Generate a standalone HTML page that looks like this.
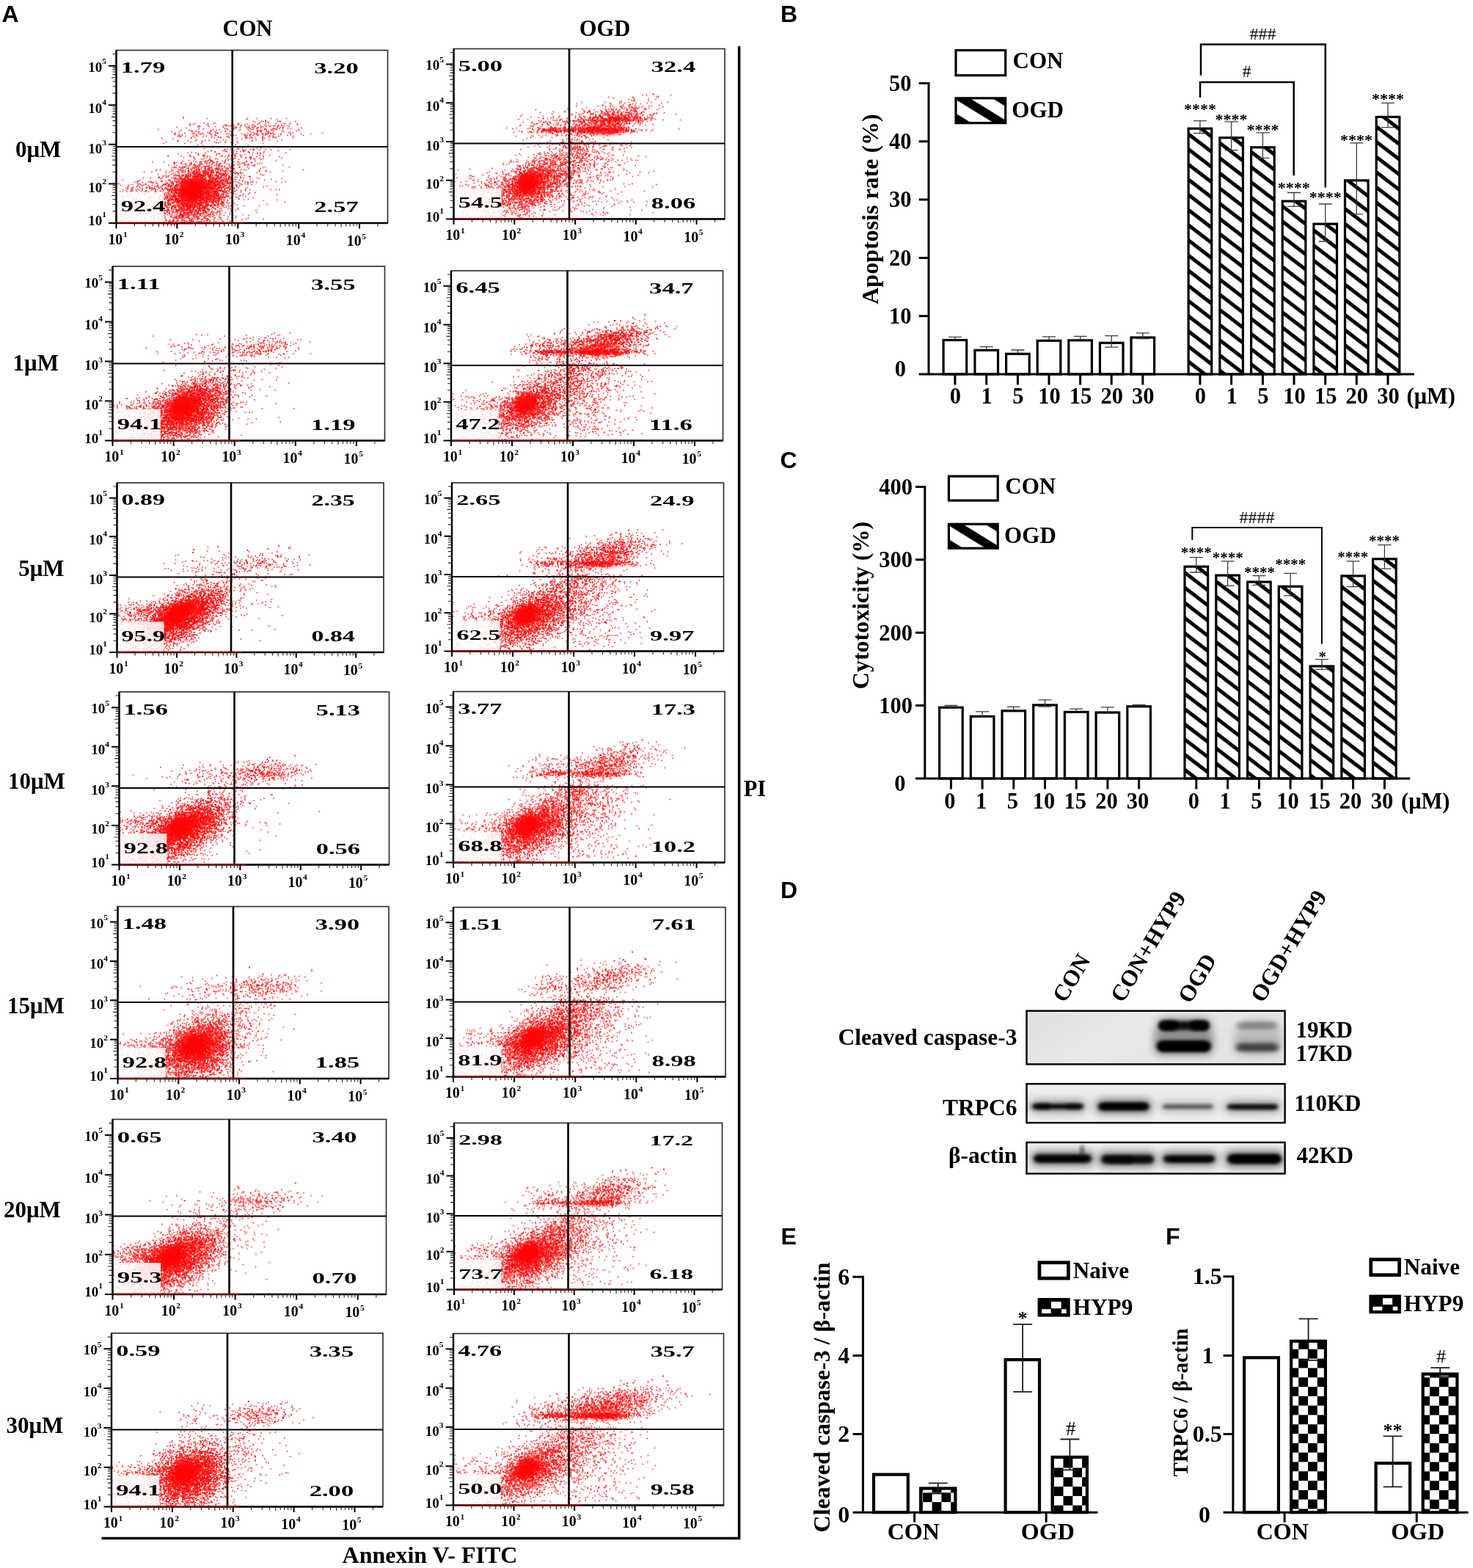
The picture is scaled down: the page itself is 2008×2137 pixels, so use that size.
<!DOCTYPE html>
<html><head><meta charset="utf-8"><title>Figure</title>
<style>
html,body{margin:0;padding:0;background:#fff}
svg{display:block}
text{font-family:"Liberation Serif",serif;font-weight:bold;fill:#000}
text.s{font-family:"Liberation Sans",sans-serif;font-weight:bold}
text.n{font-family:"Liberation Sans",sans-serif;font-weight:normal}
text.r{font-weight:normal}
path{stroke:#000;fill:none}
path.dt{stroke:none;fill:none;marker:url(#d)}
</style></head><body>
<svg width="2008" height="2137" viewBox="0 0 2008 2137">
<defs>
<radialGradient id="rb"><stop offset="0" stop-color="#ff0000" stop-opacity="1"/><stop offset=".55" stop-color="#ff0000" stop-opacity=".85"/><stop offset="1" stop-color="#ff0000" stop-opacity="0"/></radialGradient>
<marker id="d" markerWidth="4" markerHeight="4" refX="2" refY="2" markerUnits="userSpaceOnUse" overflow="visible"><rect x=".3" y=".3" width="3.4" height="3.4" fill="#ff0505" opacity=".74"/></marker>
<pattern id="hB" patternUnits="userSpaceOnUse" x="0" y="-843.77" width="40" height="16.4" patternTransform="rotate(37.5)"><rect width="40" height="5" fill="#000"/></pattern><pattern id="hC" patternUnits="userSpaceOnUse" x="0" y="-366.62" width="40" height="16.4" patternTransform="rotate(37.5)"><rect width="40" height="5" fill="#000"/></pattern><pattern id="lB" patternUnits="userSpaceOnUse" x="0" y="-578.73" width="40" height="27.6" patternTransform="rotate(31.6)"><rect width="40" height="11.6" fill="#000"/></pattern><pattern id="lC" patternUnits="userSpaceOnUse" x="0" y="-79.27" width="40" height="27.6" patternTransform="rotate(31.6)"><rect width="40" height="11.6" fill="#000"/></pattern><filter id="bl" x="-20%" y="-80%" width="140%" height="260%"><feGaussianBlur stdDeviation="2.6 1.9"/></filter>
<filter id="bl2" x="-20%" y="-80%" width="140%" height="260%"><feGaussianBlur stdDeviation="3.5 2.6"/></filter>
<filter id="bh" x="-30%" y="-100%" width="160%" height="300%"><feGaussianBlur stdDeviation="6 5"/></filter>
<linearGradient id="bg1" x1="0" x2="1" y1="0" y2=".3"><stop offset="0" stop-color="#dfdfdf"/><stop offset=".45" stop-color="#e9e9e9"/><stop offset="1" stop-color="#e2e2e2"/></linearGradient>
<linearGradient id="bg2" x1="0" x2="0" y1="0" y2="1"><stop offset="0" stop-color="#f1f1f1"/><stop offset=".5" stop-color="#e6e6e6"/><stop offset="1" stop-color="#efefef"/></linearGradient>
<pattern id="kF1" patternUnits="userSpaceOnUse" x="1770.2" y="1826.05" width="25.6" height="25.6"><rect width="25.6" height="25.6" fill="#fff"/><rect width="12.8" height="12.8" fill="#000"/><rect x="12.8" y="12.8" width="12.8" height="12.8" fill="#000"/></pattern><pattern id="kF2" patternUnits="userSpaceOnUse" x="1961.8" y="1877.4" width="25.6" height="25.6"><rect width="25.6" height="25.6" fill="#fff"/><rect width="12.8" height="12.8" fill="#000"/><rect x="12.8" y="12.8" width="12.8" height="12.8" fill="#000"/></pattern><pattern id="kE1" patternUnits="userSpaceOnUse" x="1270.6" y="2047.2" width="25.6" height="25.6"><rect width="25.6" height="25.6" fill="#fff"/><rect width="12.8" height="12.8" fill="#000"/><rect x="12.8" y="12.8" width="12.8" height="12.8" fill="#000"/></pattern><pattern id="kE2" patternUnits="userSpaceOnUse" x="1449.5" y="1987.7" width="25.6" height="25.6"><rect width="25.6" height="25.6" fill="#fff"/><rect width="12.8" height="12.8" fill="#000"/><rect x="12.8" y="12.8" width="12.8" height="12.8" fill="#000"/></pattern>
</defs>
<rect width="2008" height="2137" fill="#fff"/>
<g transform="translate(158.5 68.5)">
<ellipse cx="103.6" cy="189.96" rx="21" ry="17" fill="url(#rb)" transform="rotate(-30 103.6 189.96)"/>
<path class="dt" transform="scale(.5)" d="M183 184h0m65 2h110h25h39h42m-109 2h83m-31 4h0m-33 2h22h5h39h5h3h41m-111 2h29h6m-174 2h30h122h25h58m-272 2h13h35h15h69h55h47h21h4m-251 2h122h1h18h6h16h12h23h64h21h1m-295 2h3h44h5h44h4h3h19h20h31h34h9h36m-228 2h3h73h7h5h4h25h12h10h16h16h27h8h4h8h2h8h6h9m-238 2h25h17h21h29h50h6h2h22h9h9h22h31m-306 2h59h69h32h3h10h17h4h4h8h17h8h43h8h8m-264 2h131h4h36h12h9h2h9h36h24h1h50m-279 2h11h59h5h19h38h8h39h2h20h6h5h7h23h8m-361 2h149h17h23h16h19h30h4h11h20h5h13h8h6h60m-319 2h22h59h15h62h25h33h4h26h3h28h45m-295 2h3h11h41h39h12h54h20h1h1h5h3h15h6h76m-340 2h21h35h9h9h31h13h17h11h98h16h17h23h6m-233 2h25h23h43h53h6h11h29h2h53h5m-313 2h26h24h25h17h3h19h2h81h40h10h12h2h5h55h80m-403 2h12h36h7h11h5h2h28h10h31h4h37h34h2h4h1h18h5h3h3h3h7h10h16h27h29h26m-370 2h20h39h20h18h54h38h3h14h1h17h4h10h31h20h26m-301 2h44h51h3h41h7h6h26h5h7h9h13h20h61h43m-342 2h1h4h5h11h21h1h10h25h15h44h48h47h17h2h8h16h40m-308 2h62h42h21h5h49h12h64m-225 2h10h45h7h11h6h2h23h43h2h4h11h10h20h1h16h11h6h4h45m-357 2h78h126h25h10h6h29h6m-250 2h187m-123 2h55h18h7h82h19h18h33m-282 2h27h20h27h10h118h27m-231 2h66h96h41h69m-303 2h67h32h33h16h13h1m-25 2h6h34h19m-202 2h57h45h168m-178 4h103m-89 2h124m-202 2h200m-98 2h83h98m-48 2h1m-154 2h91h4h9h40m-89 2h3h6h7h19h35h7h4h31h66m-127 2h7h21h17h31m-163 2h1h31h5h26h24h1h3h92m-192 2h20h29h2h28h10h8h13h43m-198 2h64h93h11m-178 2h22h26h120h22h7h10h60m-293 2h55h50h5h3h37h6h4h56h9m-170 2h83h43h21m-171 2h24h13h1h2h33h49h1h15h4h49h28m-278 2h1h35h24h41h7h37h3h18h8h11h75m-198 2h8h27h18h41h8h19h15h26h18h18h44m-261 2h64h68h26h12h11h3m-156 2h29h62h20h30h12h4h23h59m-237 2h18h24h15h5h37h8h54h3h22m-164 2h19h44h9h26h32h29m-197 2h54h7h46m-124 2h30h31h3h4h8h2h1h3h26h7h2h57h23h57m-336 2h31h87h11h3h1h10h21h11h3h45h9h25m-199 2h2h5h13h28h37h6h7h11h2h28h39h16h17h2m-212 2h19h23h5h23h5h13h7h10h11h10h10h49h3h3h42h6m-239 2h22h8h2h15h9h15h18h15h12h7h3h17h14h15h7h48m-182 2h9h13h7h4h24h19h28h2h13h28h2h5h3h1h15h79m-312 2h22h27h6h3h9h4h2h11h27h14h4h8h1h40h13h36h8m-219 2h61h1h1h4h2h12h7h1h3h1h24h2h7h3h1h6h20h60m-203 2h8h1h5h1h3h22h4h1h19h5h2h1h16h1h20h14h14h2h3h2h21h21h48h66m-320 2h5h3h3h11h10h13h10h4h7h5h2h7h20h1h1h3h17h25h36h65m-223 2h4h12h4h13h4h26h3h10h18h2h4h2h5h5h12h3h1h8h5h3h40m-193 2h35h3h13h2h3h1h2h5h11h1h5h2h3h6h1h8h5h1h5h9h10h18h5h71m-283 2h10h32h20h1h4h5h6h9h18h4h7h22h3h1h3h9h13h1h5h5h2h13h15h22h9h5h155m-401 2h47h22h5h15h8h7h7h7h2h9h1h3h3h10h3h3h2h1h1h7h14h13h9h4h7h72h18m-272 2h15h15h4h10h7h8h5h11h2h1h7h3h9h7h3h1h3h3h8h1h4h14h8h6h3h2h4h13h11h66h19h45m-378 2h21h48h35h1h7h10h9h4h1h5h2h4h1h3h9h2h3h3h6h8h1h7h7h1h1h4h18h7h7h28h81m-284 2h24h9h3h12h13h5h4h3h2h1h6h3h7h1h7h2h2h1h1h1h3h1h4h1h6h2h2h2h2h7h2h1h2h2h1h40h7h1h9h6h40m-229 2h42h12h4h2h3h1h4h4h1h11h3h5h1h3h7h25h2h1h2h3h1h4h2h1h6h19h1h7h1m-219 2h36h38h5h3h4h2h1h8h1h3h2h1h4h1h3h6h6h4h1h4h2h4h4h1h15h8h9h2h3h6h10h5h24h53m-257 2h24h1h5h5h1h7h3h8h12h2h6h10h4h1h3h1h1h1h1h1h4h1h1h5h6h1h6h5h1h6h4h5h7h1h5h1h2h1h1h5h32h64h5m-272 2h14h13h8h3h13h2h1h7h3h1h1h1h1h8h5h2h1h1h4h1h2h1h5h2h2h2h1h1h4h3h8h2h2h1h4h9h4h1h2h2h9h4h9h6h1h42m-222 2h11h4h30h1h5h1h9h1h3h3h1h5h1h7h2h2h3h1h3h1h1h2h1h2h9h2h3h1h8h4h2h3h1h6h8h3h2h7h2h9h2h9h6h25h23h3m-250 2h2h19h25h14h14h1h2h9h7h3h1h2h3h3h1h2h5h1h2h1h1h3h1h15h2h1h1h7h13h5h3h2h8h14h1h4h11h4h37m-291 2h19h25h7h26h5h1h6h7h4h1h11h2h2h3h1h1h1h13h7h2h7h3h2h4h4h5h3h7h4h3h3h1h1h2h5h1h3h3h4h3h6h8h6h1h1h2h29h1h7h37m-262 2h39h12h3h1h1h1h1h4h4h9h1h7h3h5h1h1h4h2h2h4h4h3h2h5h1h1h12h7h8h1h2h1h6h4h13h4h4h1h7h77h62m-293 2h5h3h1h11h2h2h2h1h1h9h4h2h1h2h2h1h2h2h5h3h2h3h4h1h2h2h4h2h1h15h1h2h2h1h4h1h1h1h1h6h4h8h2h4h4h10h6h1h2h6h2h40h58m-405 2h47h77h3h1h26h4h5h2h4h1h1h2h1h1h1h3h2h1h1h4h1h5h6h3h3h2h1h1h3h1h1h1h1h3h1h1h2h2h1h3h3h1h2h2h1h8h7h3h6h6h1h5h1h6h1h1h2h3h6h24h69m-344 2h61h4h22h12h10h8h4h5h1h4h1h1h2h6h4h2h4h1h3h3h10h2h1h1h3h2h5h2h1h7h1h4h3h1h1h1h4h2h7h7h1h5h1h2h4h7h40h1h27m-315 2h1h31h5h14h16h12h16h8h4h1h4h2h8h1h1h1h2h3h4h4h2h1h1h4h4h1h5h1h1h3h2h3h2h2h1h2h1h1h1h6h1h4h1h1h4h2h1h1h1h1h2h1h1h2h2h7h1h1h2h1h1h3h6h10h2h1h3h8h10h6h26h83h26m-410 2h21h22h2h5h45h6h2h1h9h1h1h4h5h1h2h1h1h1h1h1h1h1h1h2h4h1h1h2h3h4h2h2h2h2h2h2h2h1h1h1h1h2h3h1h1h1h1h3h2h2h1h1h1h1h5h5h1h2h1h2h2h2h3h1h1h2h1h1h3h2h6h1h2h1h3h1h4h8h2h1h5h3h20h25h3h7h5h10h69m-393 2h41h10h30h12h2h2h17h5h3h5h1h1h1h1h2h1h1h1h4h3h1h3h1h2h1h1h1h1h1h3h3h1h2h3h1h1h4h1h3h1h1h2h4h1h2h2h1h2h3h4h1h2h2h1h1h3h10h1h3h8h6h8h1h6h1h23h24m-356 2h4h56h18h32h20h3h5h9h5h13h6h2h4h3h1h7h2h2h2h3h1h2h1h4h2h2h1h1h1h3h3h4h1h1h1h1h2h1h2h6h1h2h5h1h3h3h1h1h2h1h5h3h2h5h1h2h1h3h5h2h3h2h6h3h4h2h2h29h11m-307 2h16h7h9h5h47h2h4h2h8h1h10h9h1h2h3h7h1h5h3h3h1h6h1h2h2h1h2h1h2h2h2h1h1h1h1h2h3h1h4h3h1h1h2h3h1h1h3h1h2h1h2h2h1h1h3h1h3h1h4h2h2h1h2h2h4h1h2h1h5h7h1h1h24h9h17h16h10m-357 2h22h37h16h11h15h12h8h9h2h7h4h7h2h1h5h1h5h1h1h2h3h4h1h3h1h1h1h3h2h1h1h1h3h2h1h1h1h1h1h1h1h1h1h1h1h2h1h1h2h1h1h6h1h1h1h2h7h1h3h2h1h3h2h2h2h1h2h6h1h1h1h1h4h2h4h1h4h7h2h5h6h21h8m-305 2h26h12h35h7h14h12h5h5h1h3h8h1h2h1h1h4h7h2h1h1h1h4h3h2h1h3h1h2h1h1h1h2h1h1h3h1h4h3h1h2h2h1h1h6h2h2h4h1h2h1h1h2h1h2h3h1h1h2h1h2h10h1h1h1h1h3h1h8h4h8h1h3h11h5h2h1h10h84m-356 2h8h26h2h18h5h8h19h4h4h1h9h8h3h4h2h5h1h1h1h1h1h3h6h2h1h2h1h1h2h4h2h1h1h4h4h1h1h2h1h2h2h2h1h1h2h2h1h2h2h3h1h6h1h3h2h3h1h1h4h2h1h2h7h1h1h4h5h2h1h1h12h5h5h2h11h72m-370 2h1h15h36h2h12h18h7h12h21h4h1h2h2h12h2h3h1h3h1h2h1h1h3h1h2h4h1h2h1h2h1h3h1h1h2h1h1h5h1h1h1h1h2h1h3h1h2h1h2h1h1h2h1h2h2h1h1h1h1h1h2h1h3h2h1h2h6h9h1h1h3h2h3h2h5h6h5h1h1h13h14h24m-332 2h16h1h22h6h10h10h1h1h6h5h14h7h11h2h11h4h6h2h5h6h4h2h2h3h1h1h3h1h1h1h2h1h1h3h3h2h1h1h1h1h5h1h1h1h1h1h1h1h4h1h1h1h1h1h1h1h1h5h3h1h1h1h1h1h1h2h2h4h1h2h1h1h1h2h1h2h1h1h2h2h4h3h4h1h4h2h11h3h3h6h12h30m-322 2h13h15h38h5h3h21h6h3h5h1h5h2h5h8h4h2h4h1h1h4h1h3h1h1h2h3h1h3h1h1h1h1h2h2h1h1h2h1h1h2h1h1h1h1h3h1h1h1h1h3h1h3h1h4h1h1h1h3h2h1h4h2h1h3h3h3h3h1h2h1h1h3h2h1h1h3h2h19h1h13h14m-304 2h21h14h17h27h9h6h12h14h2h4h4h4h1h3h1h2h1h2h2h1h1h1h6h1h1h1h1h2h2h3h2h1h2h1h1h1h1h6h2h4h2h1h1h1h1h1h2h1h1h3h2h3h1h2h1h2h1h1h2h4h1h2h3h1h3h2h4h1h1h1h4h3h11h1h3h1h5h1h8h14h2h6h36h12h56h15h9m-417 2h16h1h18h7h12h12h13h22h12h4h3h3h1h5h1h4h2h2h2h1h1h1h1h1h3h1h1h4h2h2h3h2h5h1h2h2h2h1h2h1h5h2h3h1h2h1h1h1h1h1h1h1h1h1h1h1h1h1h1h4h5h3h3h4h7h5h7h1h4h4h4h2h3h6h7h17h9h11h12m-312 2h15h25h1h25h13h3h23h8h8h1h2h9h3h1h1h1h1h1h1h3h1h1h2h1h1h1h2h1h2h3h1h1h1h2h1h1h1h1h1h1h1h2h2h1h1h3h3h2h2h1h1h2h2h2h2h3h2h4h1h1h1h1h3h1h6h1h4h1h1h1h1h1h2h2h4h4h1h5h2h5h5h6h1h16m-313 2h6h13h12h27h8h11h21h19h16h6h1h6h4h1h1h1h5h4h1h2h3h2h1h3h2h2h5h1h1h1h2h1h3h1h2h2h2h3h1h3h2h1h4h2h1h1h1h2h1h3h2h1h2h2h3h2h3h2h1h1h1h3h3h4h1h1h3h1h2h2h1h13h3h1h3h3h22h19m-312 2h8h24h26h16h4h3h27h5h1h8h3h3h6h1h1h1h6h1h2h2h1h1h1h5h1h3h3h1h1h2h1h1h1h1h1h1h1h2h2h1h1h1h1h1h1h1h1h1h4h5h1h3h3h1h2h6h3h1h1h3h1h2h1h2h2h2h1h1h6h4h1h1h5h17h5h3h8h3h4h47h15m-353 2h36h8h5h4h3h20h10h11h9h17h9h1h4h3h2h1h2h1h5h2h1h2h2h1h4h1h3h2h1h1h1h1h1h3h2h4h1h2h3h2h1h1h1h2h3h1h2h3h3h3h3h1h1h4h1h3h2h1h10h4h1h3h3h3h3h13h1h9h16m-303 2h44h18h30h8h6h9h6h5h3h9h3h2h6h6h1h4h2h2h1h1h1h1h1h1h1h1h3h2h1h4h2h1h3h1h2h2h1h1h1h1h1h3h1h2h3h2h2h1h1h1h1h1h1h1h2h1h1h3h1h1h4h1h1h1h1h1h3h1h4h1h4h1h1h1h3h2h1h5h8h3h1h8h7h12h8h21h14m-328 2h5h3h13h7h12h5h1h49h3h10h5h12h2h9h6h1h2h1h2h2h1h4h2h1h1h1h5h1h3h1h1h4h1h1h2h1h1h2h5h2h6h1h1h3h2h1h9h5h1h4h5h3h4h3h2h1h1h3h1h1h5h7h8h17h121m-430 2h7h82h22h1h1h11h6h11h1h4h3h1h2h3h6h1h1h1h1h2h1h1h1h1h2h1h1h4h2h1h2h1h1h2h1h4h1h1h1h2h1h3h2h2h2h1h1h1h3h1h2h4h2h1h2h2h1h1h1h1h3h3h1h3h2h1h2h1h2h1h2h3h6h2h1h4h1h6h7h12h14h21h7m-331 2h9h3h5h13h48h16h17h1h12h1h5h1h8h1h1h1h2h3h5h2h2h3h4h1h1h2h1h2h2h1h2h3h2h3h1h2h1h1h1h1h2h2h1h1h2h2h3h1h5h3h2h5h2h9h1h1h1h2h3h2h4h2h1h2h3h1h1h6h3h2h5h3h6h6h2h5h1h29h17m-338 2h17h56h31h7h1h1h6h1h5h8h4h1h2h2h3h2h1h10h1h3h2h1h2h4h2h1h9h4h3h1h2h2h1h4h1h1h2h2h2h2h1h1h1h1h1h1h2h1h1h3h2h1h7h1h3h1h4h1h5h1h3h3h3h5h3h2h5h1h9h6h12h1h9m-313 2h6h3h22h12h11h26h9h13h3h20h2h1h7h11h2h2h1h7h1h3h1h3h1h2h2h6h3h3h3h1h2h2h2h1h2h1h1h2h3h2h1h1h1h1h4h1h2h1h1h7h1h4h1h1h1h2h1h1h6h3h5h4h3h12h3h4h3h2h1h1h16h4h12h44m-325 2h6h35h6h20h12h1h1h2h1h4h10h3h4h8h1h2h1h3h1h1h6h4h3h1h1h1h2h1h2h1h1h1h1h1h1h1h1h1h1h1h1h1h1h1h3h2h1h1h1h1h3h1h3h2h1h5h2h1h2h1h1h1h1h3h3h1h3h3h1h2h6h5h1h1h1h3h2h1h1h1h1h1h2h1h8h19h25m-285 2h9h29h10h18h4h1h4h3h4h1h5h7h1h4h2h2h1h2h5h3h1h2h2h1h7h4h3h1h1h7h1h4h2h2h1h2h1h1h1h1h2h1h1h3h1h2h4h1h5h1h1h3h1h1h1h2h5h1h1h1h2h1h1h2h1h2h2h1h5h3h12h1h2h2h2h49h25m-342 2h27h8h8h67h13h1h3h4h3h2h6h2h1h1h2h1h1h2h5h1h3h2h2h4h3h1h1h2h2h1h1h2h1h4h4h1h1h1h1h1h2h1h3h1h5h3h1h4h1h2h2h2h5h5h4h3h3h4h5h2h4h11h6h3h7h44h91m-428 2h4h7h2h40h19h13h21h11h14h2h3h10h4h7h1h1h2h1h1h2h1h2h2h1h1h3h1h2h2h2h1h1h2h1h3h1h1h1h2h1h3h1h2h1h3h2h3h2h3h1h1h2h2h6h2h2h3h2h7h1h5h4h1h1h6h4h2h1h1h2h22h98m-372 2h53h14h11h13h20h5h4h7h3h2h3h2h1h1h3h2h4h1h2h1h1h3h3h1h4h2h2h3h2h3h1h3h2h1h3h1h1h6h3h2h2h1h10h1h2h3h1h4h3h3h5h4h1h2h4h12h2h30m-308 2h21h38h9h17h10h9h6h7h4h2h6h2h16h4h3h1h1h2h2h1h1h1h5h2h5h10h2h1h1h1h3h2h1h2h6h2h1h11h1h1h1h3h2h1h4h3h3h4h2h6h1h2h1h6h2h5h2h10h3h1h1h7h159m-440 2h19h1h5h6h61h20h9h1h3h7h1h1h1h12h2h1h8h2h4h4h1h4h1h1h1h1h2h7h1h1h3h3h4h1h1h1h1h1h2h2h4h1h1h6h4h1h2h12h4h1h1h9h12h3h2h1h12h5h7h1m-263 2h15h8h8h18h9h3h2h6h2h9h1h6h7h1h9h7h4h5h2h2h1h3h1h2h1h2h1h1h1h2h1h1h1h6h2h1h2h2h4h2h6h1h1h3h1h1h1h4h3h1h2h7h1h3h1h14h1h10h2h2h5h6h29h4m-311 2h35h20h34h8h2h11h10h1h8h2h2h26h8h1h1h1h1h4h3h4h3h4h1h3h3h5h1h1h1h6h3h3h2h15h4h2h15h3h9h1h8h3h5h12h104m-399 2h3h3h4h12h4h2h25h10h10h6h9h6h1h13h4h3h7h8h2h4h1h11h5h2h3h3h2h4h1h1h3h3h2h1h2h2h3h3h3h3h1h2h3h4h2h11h1h1h1h1h4h6h1h4h4h1h3h2h1h3h5h2h1h6h2h9h5h38m-307 2h26h8h11h15h10h4h2h12h3h14h4h3h3h16h1h2h4h6h2h3h8h3h1h2h5h1h3h1h1h3h3h2h1h2h6h1h2h4h1h1h1h2h1h1h5h2h5h5h1h2h3h7h2h8h6h18h10h10h1h35h42m-342 2h12h7h10h7h33h2h2h9h6h15h4h4h4h5h7h1h6h2h2h4h1h1h1h2h2h1h3h4h3h1h4h1h1h2h11h6h7h2h3h2h9h7h17h8h18m-250 2h32h4h8h2h3h2h1h6h10h13h1h2h4h6h2h5h3h1h9h1h4h2h4h2h2h8h2h4h1h1h1h3h5h2h1h5h2h6h1h7h2h1h1h1h3h1h19h13h1h17h6m-286 2h15h11h8h7h3h16h6h6h7h2h8h11h1h5h31h9h2h9h2h4h1h7h7h3h3h1h3h2h5h1h2h2h8h3h3h1h4h4h2h1h1h3h5h11h5h3h18h46m-312 2h12h14h18h20h1h19h15h11h10h2h9h5h18h3h1h3h1h2h1h2h6h5h1h2h9h11h4h1h1h2h4h1h7h5h4h21h11h23h6m-246 2h10h23h2h10h7h3h10h11h10h10h3h1h5h2h7h1h5h2h2h4h1h2h1h5h6h2h1h1h5h7h5h7h4h9h2h2h2h15h16h30h16m-284 2h49h3h6h8h18h3h5h1h3h12h9h4h1h1h2h2h3h1h4h5h1h3h2h1h4h1h1h1h2h1h5h5h3h1h6h1h3h6h2h2h3h8h4h7h56h9h55m-351 2h75h17h3h5h2h5h3h5h5h4h9h2h2h3h3h9h1h4h6h7h8h4h4h8h1h4h3h5h1h2h2h35h5h7h23h2m-268 2h19h19h3h8h5h3h6h10h2h8h10h15h8h2h2h11h3h3h18h3h2h1h7h4h1h3h21h1h2h7h8h16h5m-215 2h58h2h3h9h5h12h3h8h8h10h2h4h3h1h2h2h2h2h1h3h1h5h7h3h14h3h2h6h11h5h1h8h2h7h16h86m-360 2h64h2h10h12h11h8h3h10h2h7h15h7h2h7h2h2h4h3h6h3h11h6h1h1h3h5h4h3h8h11h11h42m-266 2h22h19h16h8h2h2h8h2h6h3h1h30h12h8h3h1h4h3h1h4h7h4h4h1h5h1h3h4h3h14h5h13h22m-276 2h3h15h1h2h5h23h7h8h1h40h2h24h6h6h14h7h1h3h1h1h1h6h6h6h7h8h4h3h1h8h7h4h13h1h4h6h9h9h27h36m-334 2h87h15h17h28h15h5h3h1h1h6h4h4h3h3h6h1h3h15h1h20h2h6h10h27h67m-322 2h55h7h7h40h3h12h3h4h1h1h1h3h4h2h2h4h10h13h4h4h14h9h2h2h18h17h45m-313 2h5h20h18h6h6h6h21h19h2h10h8h14h9h7h15h4h10h3h1h15h6h2h2h3h14h14h3h6h43m-226 2h24h13h7h4h26h7h1h2h2h4h4h4h3h3h7h1h3h13h6h5h5h18h1h27h12h4h41m-301 2h19h26h11h22h11h19h24h6h9h1h6h7h12h1h3h20h4h13h5h24h16h76m-331 2h6h17h48h57h9h2h11h28h3h5h6h4h10h12h1h3h52h51h47m-386 2h4h84h17h4h3h8h11h34h2h17h5h1h16h10h3h15h2h15h12h9h56m-330 2h5h60h13h15h8h5h8h9h1h17h1h2h9h3h16h1h13h4h1h6h32h6h7h1m-219 2h1h6h25h14h35h25h2h3h6h3h6h4h10h3h6h5h13h4h3h22h6h8h19h24h21m-297 2h10h21h34h19h4h23h2h2h2h14h7h35h8h6h5h13h3h3h1h4h24h18h20m-270 2h52h18h30h4h2h10h36h9h3h9h1h3h2h18h13h13h28h10h25m-263 2h10h14h19h5h4h8h1h4h3h4h3h4h3h1h3h1h2h1h1h3h2h1h1h1h1h1h1h1h3h3h1h2h1h2h1h1h1h1h2h1h1h1h1h4h2h1h2h1h1h2h2h2h1h1h1h2h2h1h1h2h1h1h3h1h1h2h1h3h2h2h1h7h3h1h3h3h2h1h4h1h5h2h4h1h2h8h1h3h3h5h5h2h5h2h46h30h1h16h30"/>
<rect x="1.5" y="193.11" width="63.64" height="41.39" fill="#fff" opacity=".86"/>
<rect x="0" y="0" width="370" height="235.5" fill="none" stroke="#333" stroke-width="1.7"/>
<path d="M0 0V235.5H370" style="stroke:#000" stroke-width="2.4"/>
<path d="M158.2 0V235.5" style="stroke:#000" stroke-width="2.6"/><path d="M0 131.5H370" style="stroke:#000" stroke-width="1.8"/>
<path d="M2 234.9H173.9" style="stroke:#e80000" stroke-width="1.5" opacity=".75"/>
<path d="M-10.5 235.5H0M0 235.5v7.5M-10.5 181.92H0M82.88 235.5v7.5M-10.5 128.35H0M165.76 235.5v7.5M-10.5 74.77H0M248.64 235.5v7.5M-10.5 21.19H0M331.52 235.5v7.5" style="stroke:#000" stroke-width="2"/>
<path d="M-5 219.37H0M24.95 235.5v4.5M-5 209.94H0M39.54 235.5v4.5M-5 203.24H0M49.9 235.5v4.5M-6.5 198.05H0M57.93 235.5v5.5M-5 193.81H0M64.49 235.5v4.5M-5 190.22H0M70.04 235.5v4.5M-5 187.12H0M74.85 235.5v4.5M-5 184.38H0M79.09 235.5v4.5M-5 165.8H0M107.83 235.5v4.5M-5 156.36H0M122.42 235.5v4.5M-5 149.67H0M132.78 235.5v4.5M-6.5 144.48H0M140.81 235.5v5.5M-5 140.23H0M147.37 235.5v4.5M-5 136.65H0M152.92 235.5v4.5M-5 133.54H0M157.73 235.5v4.5M-5 130.8H0M161.97 235.5v4.5M-5 112.22H0M190.71 235.5v4.5M-5 102.79H0M205.3 235.5v4.5M-5 96.09H0M215.66 235.5v4.5M-6.5 90.9H0M223.69 235.5v5.5M-5 86.66H0M230.25 235.5v4.5M-5 83.07H0M235.8 235.5v4.5M-5 79.96H0M240.61 235.5v4.5M-5 77.22H0M244.85 235.5v4.5M-5 58.64H0M273.59 235.5v4.5M-5 49.21H0M288.18 235.5v4.5M-5 42.52H0M298.54 235.5v4.5M-6.5 37.32H0M306.57 235.5v5.5M-5 33.08H0M313.13 235.5v4.5M-5 29.49H0M318.68 235.5v4.5M-5 26.39H0M323.49 235.5v4.5M-5 23.65H0M327.73 235.5v4.5M-5 5.07H0M356.47 235.5v4.5" style="stroke:#222" stroke-width="1.1"/>
<text class="b" x="-38.2" y="238.5" font-size="19">10</text>
<text class="b" transform="translate(-19.3 227.9) scale(1.05 1)" font-size="11">1</text>
<text class="b" transform="translate(-11.1 264.3) scale(0.97 1)" font-size="20.5">10</text>
<text class="b" transform="translate(9.5 254.5) scale(1.05 1)" font-size="11">1</text>
<text class="b" x="-38.2" y="193.42" font-size="19">10</text>
<text class="b" transform="translate(-19.3 182.82) scale(1.05 1)" font-size="11">2</text>
<text class="b" transform="translate(65.58 264.3) scale(0.97 1)" font-size="20.5">10</text>
<text class="b" transform="translate(86.18 254.5) scale(1.05 1)" font-size="11">2</text>
<text class="b" x="-38.2" y="140.15" font-size="19">10</text>
<text class="b" transform="translate(-19.3 129.55) scale(1.05 1)" font-size="11">3</text>
<text class="b" transform="translate(148.46 264.3) scale(0.97 1)" font-size="20.5">10</text>
<text class="b" transform="translate(169.06 254.5) scale(1.05 1)" font-size="11">3</text>
<text class="b" x="-38.2" y="85.27" font-size="19">10</text>
<text class="b" transform="translate(-19.3 74.67) scale(1.05 1)" font-size="11">4</text>
<text class="b" transform="translate(231.34 265.6) scale(0.97 1)" font-size="20.5">10</text>
<text class="b" transform="translate(251.94 255.8) scale(1.05 1)" font-size="11">4</text>
<text class="b" x="-38.2" y="29.29" font-size="19">10</text>
<text class="b" transform="translate(-19.3 18.69) scale(1.05 1)" font-size="11">5</text>
<text class="b" transform="translate(314.22 266.9) scale(0.97 1)" font-size="20.5">10</text>
<text class="b" transform="translate(334.82 257.1) scale(1.05 1)" font-size="11">5</text>
<text class="b" transform="translate(6.22 30.85) scale(1.7 1)" font-size="20.34">1.79</text>
<text class="b" transform="translate(6.22 219.96) scale(1.7 1)" font-size="20.34">92.4</text>
<text class="b" transform="translate(269.73 31.56) scale(1.7 1)" font-size="20.34">3.20</text>
<text class="b" transform="translate(269.73 220.66) scale(1.7 1)" font-size="20.34">2.57</text>
</g>
<g transform="translate(618.5 66.5)">
<ellipse cx="100.98" cy="181.86" rx="21" ry="17" fill="url(#rb)" transform="rotate(-30 100.98 181.86)"/>
<ellipse cx="206.92" cy="109.55" rx="38" ry="11" fill="url(#rb)" opacity="0.5"/>
<path class="dt" transform="scale(.5)" d="M544 124h0m-29 2h11h66m-35 4h0m-134 2h65h65m-117 2h55m1 2h39m-53 2h73m-66 2h8m-3 2h2h39m-74 2h0m-109 2h65h40h25h61h44m-157 2h41h30h30h40m-231 2h93h23h36h21m-28 2h0m-75 2h1h20h35h1h14h3h16h64m-225 2h59h39h23h60h16h7m-125 2h13h28h3h21h5h1h8h77m-208 2h75h23h7h21h9h9h7m-55 2h21h7h5h5h6h21h10h28m-250 2h40h62h9h7h3h11h21h7h21h4h4h19h5m-300 2h159h32h16h4h8h10h19h1h10h10h29h33m-200 2h15h31h15h8h7h17h25h11h3h3h6m-192 2h65h2h33h12h2h18h14h31h11h1h4h2m-228 2h32h53h2h9h4h15h6h11h2h15h4h3h9h4h7h7h9h6h25h1h20h4m-283 2h98h30h1h44h5h5h14h12h3h10h12h2h3h1h1h3h5h15h11h1h62m-221 2h20h8h21h3h8h6h3h11h1h2h3h9h9h2h32h8h13h35h5h1m-285 2h55h19h6h25h3h3h1h31h7h3h11h2h1h1h20h1h2h18h3h1h2h1h6h7h2h4h5h28h8h63m-421 2h135h21h45h12h8h4h2h1h2h6h1h1h1h5h6h5h8h7h8h5h1h1h5h9h12h3h16h27m-170 2h14h9h1h2h2h18h1h4h12h4h5h3h2h4h5h1h7h2h6h1h10h8h21h20h4m-357 2h62h28h17h43h14h9h42h2h2h6h17h2h1h5h1h15h10h4h1h1h2h11h2h7h1h6h2h2h2h3h26m-318 2h76h57h14h14h10h4h1h1h2h1h12h2h1h16h4h1h3h3h1h1h7h1h3h1h1h1h3h1h13h1h3h5h6h2h10h5h4h2h5h1h32m-310 2h34h6h61h15h2h7h15h1h2h5h1h1h4h6h2h1h1h6h1h1h2h19h2h3h1h1h3h1h3h1h1h7h4h2h2h1h2h1h7h2h2h2h6h10h3h2h6h8h1h3h9h1h8h4h4m-294 2h2h11h52h2h40h17h4h11h1h8h11h2h2h1h1h5h1h6h2h1h2h1h2h1h1h4h2h1h1h2h1h2h1h1h2h1h2h2h3h2h5h1h1h3h1h2h2h2h3h3h2h11h1h2h2h2h2h6h4h28h4m-367 2h25h80h8h5h44h2h6h5h7h13h6h1h13h5h4h8h1h1h1h1h1h1h2h1h3h3h1h6h8h3h3h1h2h2h1h2h2h6h4h2h1h1h3h1h1h1h2h13h1h18h6h7h1h1h1h2h23m-279 2h20h51h10h3h6h3h4h5h1h2h3h5h3h2h3h2h10h4h2h2h1h4h1h7h1h2h2h3h2h1h1h1h2h1h1h1h1h1h1h4h3h2h2h2h2h1h2h4h6h3h4h4h1h4h2h3h4h4h2h3h12h17h3h31h47m-386 2h6h38h5h8h19h10h7h2h1h3h5h3h6h10h1h9h3h5h6h1h1h1h2h2h1h8h3h2h1h3h1h2h3h1h1h2h1h3h1h2h2h1h1h2h1h10h1h2h2h1h2h1h1h2h3h6h2h4h4h4h2h1h2h2h1h7h2h8h5h7h3h1m-262 2h45h6h6h6h10h9h8h5h4h4h2h18h1h10h3h2h1h2h5h2h2h4h1h2h10h2h3h1h2h3h2h1h4h2h2h11h14h2h2h1h1h12h18h4h10h10m-338 2h25h22h10h4h10h3h36h10h7h13h12h4h2h1h5h3h1h11h12h3h7h1h15h2h2h1h8h1h2h2h4h7h5h7h3h4h7h1h18h17h6h1m-292 2h32h12h24h5h19h1h6h36h4h18h2h1h7h7h2h1h11h2h2h2h2h14h2h2h14h5h4h2h1h13h6h2h8h29h4m-296 2h8h3h26h9h65h22h7h2h4h11h8h2h2h20h4h2h9h3h1h5h3h1h8h3h1h1h1h9h10h3h2h5h1h14h10h5m-286 2h19h15h17h12h20h21h8h2h8h4h11h17h16h9h2h5h2h2h11h3h6h8h6h6h5h8h79m-361 2h59h17h20h4h10h10h30h4h6h11h3h1h5h2h3h1h15h3h14h2h1h1h5h3h18h3h5h2h11h2h54h15m-343 2h30h2h6h73h39h11h1h9h6h32h4h3h4h1h1h1h14h3h2h1h13h2h2h1h22h26m-273 2h22h27h37h20h11h4h17h12h5h4h9h14h1h1h1h12h5h6h1h3h9h10h4h5m-227 2h36h2h8h25h3h2h14h9h3h10h3h2h5h1h5h8h1h3h4h2h4h1h1h1h1h2h2h1h4h2h6h7h14h6h12h11h1h14h11m-332 2h27h37h23h3h24h5h3h3h1h5h2h1h3h7h3h4h6h22h1h2h3h3h1h6h1h5h8h3h5h4h6h7h3h3h5h4h1h2h1h3h7h2h20h2h1h9h1h10h2h2h2h1h5h1h6h6h1m-317 2h41h13h22h6h2h3h17h3h4h7h6h4h10h3h1h3h6h5h4h5h1h7h3h5h4h1h3h2h5h3h1h1h2h2h1h2h3h2h4h2h2h4h1h1h2h1h1h3h1h9h3h2h1h1h3h2h1h1h2h2h1h1h1h4h3h2h3h1h8h2h9h2h1h3h7h26h117m-399 2h5h11h1h1h11h2h2h3h3h4h1h1h1h2h4h3h1h1h1h4h1h7h5h12h2h1h2h3h1h8h4h2h5h2h8h2h6h1h2h3h2h1h1h5h3h3h3h2h2h3h2h1h1h1h4h2h3h2h1h5h1h2h1h1h1h2h1h2h1h2h1h4h6h5h2h2h1h2h2h1h2h1h4h2h3h1h2h1h4h11h12h21h21h17m-314 2h13h1h1h1h2h4h2h3h3h2h1h2h1h2h1h2h6h1h2h1h1h1h8h3h4h3h2h1h16h1h1h3h1h2h1h1h4h1h5h2h4h2h1h1h2h5h4h3h3h1h1h3h1h1h1h1h3h1h2h2h6h4h2h2h2h1h3h1h1h7h1h1h2h2h1h4h1h7h3h1h3h2h1h2h1h2h3h6h1h4h1h5h3h1h1h1h1h2h1h1h7h1h5h5h16h1h2m-336 2h62h2h5h3h6h4h2h1h6h4h3h1h2h6h3h2h2h1h1h7h3h1h2h2h3h5h1h5h1h1h2h1h3h9h2h2h2h1h1h5h4h9h1h1h1h4h3h1h1h2h7h2h1h2h5h1h1h2h2h4h1h4h1h2h6h2h2h3h1h7h1h6h3h3h2h11h1h8h1h2h1h10h1h5h33h15m-354 2h2h21h3h7h8h4h8h7h8h6h1h1h4h10h4h1h2h7h2h1h9h2h1h5h2h13h3h5h8h2h3h3h2h3h2h1h1h3h2h3h4h1h4h2h1h2h3h4h2h2h5h5h7h1h13h3h1h4h2h1h1h1h4h1h1h2h2h2h10h13h1h15h4h1h3h7m-336 2h39h7h3h28h1h23h4h12h1h1h1h2h30h10h13h3h1h2h4h5h2h1h1h5h2h3h4h4h1h4h10h2h2h6h1h4h6h2h3h3h3h1h9h4h7h2h1h3h6h7h1m-236 2h23h7h5h5h2h24h7h19h12h4h1h13h5h22h2h5h1h8h4h6h8h2h4h10h2h2h5h5h42m-212 2h44h4h20h7h3h14h7h3h8h11h14h2h1h1h11h2h2h3h7m-158 2h6h25h7h2h6h14h1h6h46h61h3m-222 2h19h30h2h12h11h6h18h5h18h4h18h7h36m-247 2h41h5h25h39h24h36h1h15h2h17m-28 2h1h14m-153 2h28h30h62h31h7h41m-210 2h114h47m-52 2h16h13h43m-190 2h108h20h4h8h12h29h50m-124 2h39m-73 2h50h34h3h1h35m-130 2h39h6h17h1h2h4h24h25h6h6h99m-192 2h4h1h16h3h4h14h6h3h3h7h13h61m-162 2h64h2h1h4h11h8h10h13h14h4h1h12h24h4h5h18m-271 2h80h10h32h11h11h8h25h2h13h101m-253 2h58h1h41h25h2h4h35h30h29h15m-208 2h37h3h1h18h16h30h15h30h2h3h41h1h22m-260 2h85h11h14h6h6h1h17h48h1m-207 2h32h21h42h7h15h9h4h5h5h1h2h23h10h1h24h28h53m-205 2h19h6h4h16h2h1h8h2h6h9h10h36h36h37m-211 2h17h30h13h3h7h2h21h111m-282 2h89h17h26h4h5h1h1h4h10h1h2h3h1h5h11h2h14h29h2h22h19h3m-193 2h35h1h33h8h1h10h7h9h19h50m-145 2h5h25h1h25h6h7h20h11m-123 2h23h40h5h4h25h4h26h12h61m-219 2h53h21h18h6h10h25h5h5m-155 2h20h3h11h11h10h15h4h5h2h19h4h21h36h15h13m-245 2h51h4h15h46h21h8h2h8h6h5h7h3h5h2h2h32h23m-200 2h15h4h36h4h11h8h10h7h4h2h2h21h6h2h9h1h9h4m-205 2h15h64h5h13h6h22h6h9h6h9h9h4h20h11h2h62h3h27m-236 2h25h8h9h1h6h2h3h2h2h6h3h10h20h8h6h11h11h32h31h82m-267 2h39h5h30h3h15h11h2h10h1h15h2h15h6h10h122m-320 2h16h21h5h20h15h9h11h4h4h3h15h11h7h7h12m-141 2h3h9h16h3h16h4h4h2h6h1h9h1h22h11h5h1h4h13h2h30h7h3h1h10h13h13h42m-237 2h13h2h3h5h14h13h1h5h11h17h21h5h1h3h7h4h41h5h76m-310 2h45h12h21h1h4h6h1h17h4h5h2h9h3h3h63h9h11h11h4h11h8h12m-279 2h43h21h6h14h6h4h5h9h1h5h2h17h11h9h20h2h14h3h2h8h16h56h18h11h27h10h6m-288 2h2h7h11h1h5h4h16h11h5h6h41h3h4h14h5h3h10h2h19h41m-270 2h3h6h8h4h28h16h1h12h16h17h3h8h15h5h4h4h5h4h6h7h2h17h21h54h22h31m-275 2h17h5h11h15h2h6h2h10h5h2h2h3h13h10h5h4h2h9h12h4h4h1h2h5h35m-233 2h53h7h10h13h2h18h9h6h26h1h7h2h2h10h1h37h17h13h28h3h50m-331 2h1h61h9h15h20h4h3h1h2h2h2h10h1h9h2h1h13h1h4h1h5h2h29h23h15h12h8m-247 2h61h8h3h11h2h5h10h4h22h1h1h4h5h2h10h5h1h4h13h1h7h2h4h20h6h7h10h8h31h8h29h4m-280 2h6h10h7h7h4h6h5h16h4h20h5h1h1h4h7h13h2h3h1h11h17h1h15h2h13h2h16h11h1h68h43m-319 2h5h1h37h7h9h6h3h16h10h15h2h22h18h4h3h12h37h24m-228 2h3h14h5h18h13h3h4h1h1h3h6h5h7h1h14h2h6h6h56h19h45h2m-223 2h2h6h3h1h14h1h4h1h3h7h5h7h15h2h1h9h4h23h7h5h2h4h1h1h8h2h10h4h10h7h12h12h28h17h4m-327 2h66h4h8h9h17h2h1h2h10h2h1h1h5h5h10h1h3h2h2h8h19h3h5h34h15h19h46m-361 2h117h15h6h19h4h1h4h6h3h8h1h2h3h3h3h4h23h4h13h8h2h7h2h9h28h3h2h14h7h37h2h19h41m-452 2h128h34h2h5h2h12h17h4h1h12h2h2h2h2h4h3h1h3h2h1h3h2h2h5h1h5h4h2h11h9h11h9h2h11h59h4h73m-274 2h5h7h4h2h1h6h19h2h2h1h3h2h1h1h3h6h3h3h1h6h2h2h8h1h3h2h4h10h12h12h3h3h1h13h23h105m-339 2h24h2h4h4h5h8h10h1h2h10h2h1h3h1h4h1h1h1h3h1h1h4h2h3h3h11h8h10h3h6h3h1h2h13h4h2h3h4h4h5h3h4h9h2h4h4h13h5h3h186m-449 2h72h11h4h10h12h4h14h6h9h3h1h1h6h2h2h1h3h1h2h1h4h2h6h2h27h1h21h20h29h27h22h2h10h73m-417 2h43h34h2h11h3h8h8h2h7h1h3h7h1h2h4h1h1h1h4h1h7h2h13h1h3h10h7h11h15h1h2h10h3h8h1h7h5h72h13h54h52m-417 2h3h33h30h1h3h1h10h3h2h5h2h8h1h1h3h4h5h4h1h2h3h4h2h4h5h1h1h3h1h2h1h1h4h10h1h6h2h4h4h2h3h7h2h12h2h39h39m-396 2h129h6h4h4h23h7h1h1h5h2h4h2h5h8h7h4h2h1h1h8h1h4h1h2h3h3h3h2h2h8h1h7h7h17h1h1h3h6h6h3h16h44h49h52m-393 2h64h33h1h3h5h11h1h4h1h3h1h2h3h1h10h2h2h6h2h1h2h1h2h1h1h8h2h2h4h7h4h6h5h5h6h3h1h2h2h3h5h13h5h14h3h50h57h54m-459 2h3h49h28h27h5h14h15h3h1h2h3h1h5h2h7h2h1h1h4h2h1h3h3h3h1h3h1h1h1h2h5h4h6h1h1h1h2h2h4h1h2h7h6h3h1h1h3h17h5h2h2h2h4h22h48h7h5h12h6m-369 2h4h75h10h23h4h1h5h3h5h2h6h4h2h4h1h1h1h1h6h2h2h4h1h2h7h1h2h1h2h4h1h2h5h2h3h2h1h2h3h6h4h4h1h1h5h5h3h1h2h19h5h1h4h21h2h1h38h47h60m-394 2h24h17h34h4h10h1h2h2h4h2h1h3h5h4h2h3h1h3h1h7h3h2h2h3h2h1h2h1h2h5h2h6h2h8h8h2h1h4h3h8h1h2h12h2h6h4h5h49h2h16h44m-425 2h33h68h29h1h22h1h4h10h3h2h10h3h1h3h1h1h1h2h5h4h3h1h1h1h1h2h1h1h3h2h1h7h1h4h1h4h2h1h4h3h4h6h2h4h12h5h23h6h3h3h41h5h22m-346 2h51h5h14h18h3h5h12h5h2h2h2h17h1h1h1h3h4h1h6h1h1h1h2h2h6h1h1h1h3h1h5h3h1h3h1h5h2h2h5h2h5h1h1h2h15h1h1h2h2h2h2h14h6h3h2h5h5h1h1h73h41m-368 2h45h39h4h4h6h3h2h1h7h1h5h2h1h3h4h2h8h3h5h2h2h2h1h9h6h3h2h1h5h2h2h3h7h7h20h3h26h119m-380 2h3h34h3h8h35h3h1h2h2h9h10h4h1h3h6h3h4h1h5h1h2h4h1h2h1h2h3h3h5h2h3h1h2h1h2h1h2h2h1h5h3h1h1h1h16h1h3h5h6h2h2h4h1h9h10h1h3h15h10h8h5h4h4h15h28h7h18h1h7m-325 2h21h18h8h10h17h2h1h1h5h2h2h2h1h8h1h1h2h1h3h3h9h8h1h6h5h2h6h5h1h1h4h14h10h1h5h10h1h4h1h42h18h10h26m-400 2h2h32h31h10h37h6h21h5h3h11h2h5h2h5h2h2h2h3h3h2h3h1h1h1h5h3h1h1h2h4h1h2h8h1h1h2h3h2h2h1h2h2h1h1h4h2h2h2h3h6h4h3h8h8h8h1h6h3h2h33h3h12h32h29m-389 2h76h1h15h1h2h15h4h17h9h11h4h2h4h6h2h1h2h2h5h3h4h1h1h1h1h1h2h2h3h3h2h4h1h7h1h1h3h1h2h1h1h1h2h2h3h14h9h2h2h5h28h5h24h5h15m-306 2h20h8h27h21h2h7h2h8h10h6h1h1h4h1h6h2h1h5h2h3h1h7h3h2h1h4h1h3h3h2h1h2h4h3h2h5h2h1h1h4h6h4h2h5h2h3h3h1h2h2h2h1h5h6h3h6h10h2h18h6h8h5h4h47m-310 2h13h3h14h31h9h3h1h12h4h1h1h5h3h3h1h2h3h2h2h6h2h2h4h4h2h3h1h2h2h1h1h1h1h1h1h1h1h8h1h3h1h14h7h4h2h11h3h13h10h2h10h138h23m-454 2h7h46h32h11h2h4h11h7h4h1h1h1h2h5h4h6h1h6h2h1h3h11h5h1h1h1h5h2h2h3h2h1h3h5h13h1h1h2h8h5h3h2h2h10h1h2h1h9h13h4h3h4h55h107h75m-483 2h17h2h3h4h16h22h9h4h2h2h5h5h2h3h1h13h1h1h1h2h1h1h1h1h1h1h3h1h3h1h2h2h3h6h3h1h1h1h2h1h3h3h1h1h5h4h2h2h4h1h2h5h4h2h1h1h3h24h12h2h12m-298 2h7h14h52h12h22h1h13h9h1h1h3h9h4h3h2h3h1h11h2h1h1h8h4h3h1h1h5h5h2h1h5h2h9h1h6h2h4h7h2h2h12h13h2h6h4h13h23h6h7h28m-321 2h5h1h17h20h1h7h20h6h10h2h5h3h3h8h2h4h5h1h2h1h2h3h5h6h1h1h2h1h3h1h1h2h3h2h2h1h3h2h10h1h4h7h6h11h3h1h2h3h2h1h1h3h2h6h1h1h7h21h1h12h2h9h12h1h60h61h75m-452 2h9h7h12h15h5h5h7h4h1h4h1h3h2h9h2h1h1h2h1h4h2h4h1h2h8h5h3h3h3h2h3h1h2h2h3h2h4h2h1h2h1h1h3h1h1h3h4h3h1h4h19h1h5m-238 2h4h6h15h35h12h7h24h8h1h6h6h1h5h2h1h1h1h2h2h1h1h2h1h1h2h1h4h4h1h3h1h1h1h4h4h2h2h4h1h2h3h2h1h1h6h3h7h23h4h77m-339 2h12h24h9h12h4h2h9h6h10h2h8h3h4h11h5h9h2h4h4h4h2h3h11h1h1h1h8h2h4h3h1h3h2h2h1h5h5h3h1h8h3h1h1h4h7h1h3h7h7h4h13h13h44h33h10h60m-432 2h46h13h37h15h3h2h3h4h5h1h2h1h6h2h6h3h2h6h4h1h1h2h6h1h1h1h2h3h1h3h1h1h1h2h2h1h4h1h2h2h1h1h1h5h1h7h4h2h3h3h3h1h2h1h11h11h1h4h7h1h58h8m-261 2h10h9h34h3h2h11h6h4h5h2h4h4h1h3h1h3h3h2h1h1h4h1h2h1h6h3h4h2h2h1h2h1h1h10h13h2h16h4h25h17h70h5m-303 2h49h3h8h2h2h4h4h1h5h1h5h2h1h3h1h3h2h6h1h3h1h1h3h5h1h1h1h1h2h1h1h2h1h1h3h2h1h2h1h2h1h6h3h2h2h6h6h20h2h1h4h1h4h4h1h2h5h4h11h27h17h10h36h32h92m-498 2h27h47h28h12h6h1h1h2h5h1h10h1h1h4h1h5h2h4h3h1h3h2h3h1h2h1h2h1h3h8h3h1h3h2h4h5h2h2h3h6h1h3h2h1h8h2h5h4h77h52h62m-421 2h19h36h6h7h6h4h9h6h1h6h1h6h5h6h9h1h8h2h5h1h1h2h1h5h1h1h1h3h2h2h1h2h2h1h2h2h3h4h6h1h5h3h1h1h3h3h5h2h4h4h8h1h4h42h7h13h66h4h9m-379 2h28h4h2h29h7h3h1h13h2h5h3h8h1h16h1h1h4h2h8h2h1h1h3h1h1h2h3h1h6h3h2h1h2h2h2h3h1h2h4h2h2h1h3h2h3h1h4h6h11h1h4h8h28h2h8h57h4h2h6m-343 2h8h48h1h37h2h10h6h9h5h8h5h1h3h1h1h6h3h7h5h1h1h1h4h3h6h3h3h2h4h1h5h3h1h2h1h2h2h2h3h2h15h1h5h23h10h23h86h44m-369 2h1h20h18h3h11h2h14h3h15h3h1h2h2h7h1h1h1h4h4h2h1h2h2h1h5h1h2h3h2h1h5h12h9h6h1h1h5h3h2h4h3h3h16h34h3h37m-319 2h24h10h17h23h13h2h1h5h2h1h2h4h3h5h10h1h9h2h2h1h3h1h1h1h3h2h3h9h2h4h2h6h3h4h5h12h3h17h32h11h23h5h23h4m-346 2h4h96h22h14h5h3h9h3h1h4h1h1h1h6h1h6h6h4h6h8h1h7h4h5h1h3h7h2h2h6h1h6h6h5h3h1h10h9h2h89h35h2m-408 2h55h12h3h12h12h6h6h2h12h3h12h1h2h13h3h3h1h12h7h1h3h13h8h2h1h1h4h4h6h2h7h3h8h11h11h17h6h12h32h32h3m-292 2h5h15h2h1h18h5h17h2h4h8h1h8h9h3h5h3h11h7h10h11h3h1h5h4h5h19h60h1h1h2h1h30h20h53m-355 2h37h20h7h10h6h3h6h5h1h2h6h4h6h7h3h4h4h14h16h6h1h32h4h6h64h18h30m-352 2h23h16h10h9h5h22h1h6h12h1h3h1h6h3h4h5h5h3h1h6h2h2h2h5h1h4h7h10h3h1h8h5h1h2h18h52h9h22m-313 2h5h32h13h2h16h1h8h19h2h24h3h3h4h5h10h7h2h22h1h3h1h5h4h7h3h7h1h3h4h3h21h10h36h30h91h9h40m-438 2h11h60h4h5h4h2h2h5h2h20h25h3h1h4h9h4h3h8h1h5h2h2h11h2h19h1h31h7h35m-217 2h5h11h8h7h2h1h5h22h1h4h13h1h1h1h6h4h5h2h18h1h5h11h71h4h16h36h6h8h24h39h16h1h53m-507 2h29h1h8h6h13h14h1h4h6h28h3h2h10h4h12h5h1h1h5h2h3h5h4h9h2h15h2h9h4h4h9h8h14h4h18h63h56h87m-452 2h30h4h6h16h2h14h1h9h5h5h8h4h13h5h6h1h2h2h7h4h14h6h3h3h5h1h1h5h9h17h55h55h94m-410 2h18h7h1h38h28h1h4h1h11h1h4h23h7h3h6h11h3h2h4h4h2h14h3h12h4h1m-232 2h55h12h3h9h2h10h13h8h1h1h10h2h4h2h1h26h3h5h11h11h2h51h2h9h64h11h39h49m-392 2h32h1h10h22h5h23h3h4h6h11h2h2h10h3h4h2h7h5h16h2h1h3h2h10h66h43h23h74m-423 2h7h4h2h4h61h16h4h1h7h4h21h1h29h12h8h5h3h19h22h89h22h14h155m-502 2h93h12h3h21h11h22h7h2h1h7h4h8h33h21h26h137m-391 2h1h36h11h12h21h15h30h8h4h4h3h3h2h5h42h39h13h36h85h71m-461 2h13h32h20h22h11h4h29h3h4h4h14h10h8h11h13h113m-302 2h34h1h39h50h14h2h5h16h3h6h88h29h13h7h73m-383 2h26h14h17h15h30h42h13h4h9h4h6h41h2h22h47h61m-335 2h48h53h10h23h2h56h9h3h28h6h48h152h31m-488 2h7h28h7h13h28h13h6h1h11h1h7h19h27h8h3h4h90h21h28h24m-327 2h31h8h36h6h10h23h5h8h15h6h69h62h30m-299 2h37h2h15h4h3h8h3h17h1h5h51h6h12h145h25h19h2h9h126m-520 2h3h7h7h25h24h6h15h18h30h1h7h9h24h22h22h176m-310 2h60h24h6h13h163h2h35m-314 2h7h16h19h18h23h8h6h80h124h81m-445 2h1h51h11h7h21h7h40h4h3h25h36h139h27m-374 2h27h34h18h12h14h36h44h22m-210 2h14h5h61h12h3h2h50h28m-182 2h73h84h5m-120 2h59h25h76m-223 2h6h33h7h1h6h2h5h16h1h4h3h24h4h3h4h2h3h8h5h1h8h3h4h3h3h10h2h3h2h4h1h15h9h3h4h7h39"/>
<rect x="1.5" y="190.24" width="63.55" height="40.76" fill="#fff" opacity=".86"/>
<rect x="0" y="0" width="369.5" height="232" fill="none" stroke="#333" stroke-width="1.7"/>
<path d="M0 0V232H369.5" style="stroke:#000" stroke-width="2.4"/>
<path d="M157.5 0V232" style="stroke:#000" stroke-width="2.6"/><path d="M0 129H369.5" style="stroke:#000" stroke-width="1.8"/>
<path d="M2 231.4H173.66" style="stroke:#e80000" stroke-width="1.5" opacity=".75"/>
<path d="M-10.5 232H0M0 232v7.5M-10.5 179.22H0M82.77 232v7.5M-10.5 126.44H0M165.54 232v7.5M-10.5 73.66H0M248.3 232v7.5M-10.5 20.88H0M331.07 232v7.5" style="stroke:#000" stroke-width="2"/>
<path d="M-5 216.11H0M24.92 232v4.5M-5 206.82H0M39.49 232v4.5M-5 200.22H0M49.83 232v4.5M-6.5 195.11H0M57.85 232v5.5M-5 190.93H0M64.41 232v4.5M-5 187.4H0M69.95 232v4.5M-5 184.33H0M74.75 232v4.5M-5 181.64H0M78.98 232v4.5M-5 163.33H0M107.68 232v4.5M-5 154.04H0M122.26 232v4.5M-5 147.44H0M132.6 232v4.5M-6.5 142.33H0M140.62 232v5.5M-5 138.15H0M147.17 232v4.5M-5 134.62H0M152.72 232v4.5M-5 131.55H0M157.51 232v4.5M-5 128.86H0M161.75 232v4.5M-5 110.55H0M190.45 232v4.5M-5 101.26H0M205.03 232v4.5M-5 94.66H0M215.37 232v4.5M-6.5 89.55H0M223.39 232v5.5M-5 85.37H0M229.94 232v4.5M-5 81.84H0M235.48 232v4.5M-5 78.77H0M240.28 232v4.5M-5 76.08H0M244.52 232v4.5M-5 57.77H0M273.22 232v4.5M-5 48.48H0M287.79 232v4.5M-5 41.88H0M298.14 232v4.5M-6.5 36.77H0M306.16 232v5.5M-5 32.59H0M312.71 232v4.5M-5 29.06H0M318.25 232v4.5M-5 25.99H0M323.05 232v4.5M-5 23.3H0M327.28 232v4.5M-5 4.99H0M355.99 232v4.5" style="stroke:#222" stroke-width="1.1"/>
<text class="b" x="-38.2" y="235" font-size="19">10</text>
<text class="b" transform="translate(-19.3 224.4) scale(1.05 1)" font-size="11">1</text>
<text class="b" transform="translate(-11.1 260.8) scale(0.97 1)" font-size="20.5">10</text>
<text class="b" transform="translate(9.5 251) scale(1.05 1)" font-size="11">1</text>
<text class="b" x="-38.2" y="190.72" font-size="19">10</text>
<text class="b" transform="translate(-19.3 180.12) scale(1.05 1)" font-size="11">2</text>
<text class="b" transform="translate(65.47 260.8) scale(0.97 1)" font-size="20.5">10</text>
<text class="b" transform="translate(86.07 251) scale(1.05 1)" font-size="11">2</text>
<text class="b" x="-38.2" y="138.24" font-size="19">10</text>
<text class="b" transform="translate(-19.3 127.64) scale(1.05 1)" font-size="11">3</text>
<text class="b" transform="translate(148.24 260.8) scale(0.97 1)" font-size="20.5">10</text>
<text class="b" transform="translate(168.84 251) scale(1.05 1)" font-size="11">3</text>
<text class="b" x="-38.2" y="84.16" font-size="19">10</text>
<text class="b" transform="translate(-19.3 73.56) scale(1.05 1)" font-size="11">4</text>
<text class="b" transform="translate(231 262.1) scale(0.97 1)" font-size="20.5">10</text>
<text class="b" transform="translate(251.6 252.3) scale(1.05 1)" font-size="11">4</text>
<text class="b" x="-38.2" y="28.98" font-size="19">10</text>
<text class="b" transform="translate(-19.3 18.38) scale(1.05 1)" font-size="11">5</text>
<text class="b" transform="translate(313.77 263.4) scale(0.97 1)" font-size="20.5">10</text>
<text class="b" transform="translate(334.37 253.6) scale(1.05 1)" font-size="11">5</text>
<text class="b" transform="translate(6.21 30.39) scale(1.72 1)" font-size="20.04">5.00</text>
<text class="b" transform="translate(6.21 216.69) scale(1.72 1)" font-size="20.04">54.5</text>
<text class="b" transform="translate(269.37 31.09) scale(1.72 1)" font-size="20.04">32.4</text>
<text class="b" transform="translate(269.37 217.38) scale(1.72 1)" font-size="20.04">8.06</text>
</g>
<g transform="translate(153.5 363)">
<ellipse cx="95.57" cy="191.57" rx="21" ry="17" fill="url(#rb)" transform="rotate(-30 95.57 191.57)"/>
<path class="dt" transform="scale(.5)" d="M441 182h43m-255 4h30h175h22m-213 2h122h86m-341 2h195h120m-41 4h34m-52 2h9h40h15h15h21m-173 2h63h4h39h37h2m-280 2h61h115h49h75h47h8m-170 2h69h3h8m-186 2h83h45h32h14h27h11h7m-79 2h50h33h11h68m-334 2h83h78h35h6h5h33h4h6h10h5h16m-290 2h150h58h9h48h10h29m-348 2h15h40h66h53h2h23h40h6h30h8h9h32h18m-313 2h34h55h108h7h13h22h51h4m-313 2h16h83h77h4h2h13h1h46h10h13h6h7h16h11h18m-317 2h1h156h10h19h13h7h2h3h6h1h14h7h6h24h10h11m-299 2h30h18h44h27h29h19h20h26h2h3h7h3h15h7h1h1h18h5h4h29h4h2m-381 2h116h3h33h8h54h13h86h17h2h24h6h19h34m-305 2h13h4h47h7h11h8h26h7h3h37h4h2h1h13h9h17h24h13h1m-259 2h6h3h50h53h30h15h33h27h26h11h27h37m-235 2h24h23h7h32h29h10h2h2h22h1h1h4h12m-247 2h87h6h15h31h2h4h4h16h41h16h8h1h7h1h65m-378 2h39h84h1h51h1h75h12h3h6h11h7h2h6h5h9h42m-253 2h27h17h9h52h4h17h7h4h8h1h5h7h15h8h15h21m-255 2h21h33h5h36h10h37h16h35h4h10m-269 2h48h65h50h70h10h26h5h2h5h2h20h42h26h47m-293 2h68h4h41h40h4h19h31h13m-272 2h32h49h5h49h21h4h10h10h4h2h6h31h41m-262 2h64h66h21h5h7m-169 2h55h64h29h39h8m-192 2h231h22h33m-252 2h242m-284 2h33h42h26m-5 2h0m-110 2h121h6h51h9m-87 2h93m-114 2h0m-113 2h318m-196 2h171m-242 2h142h15h27h9m-65 2h38h76m-259 2h281m-190 2h0m72 2h53h74m-197 2h28h13h19h39m-70 2h27h47h77m-176 2h4h13h18h110m-169 2h84h5m-195 2h149h35h5h2h4h13h35m-166 2h10h59h16h1h104m-166 2h6h9h11h28h1h50h19h19m-149 2h14h7h99h33h41m-233 2h84h100h8m-143 2h3h1h15h15m-40 2h61h35h20h23m-190 2h4h74h47h23m-148 2h31h16h11h9h60h24h6h9m-146 2h19h47h40h10h30h96m-235 2h38h1h20h4h2h5h2h2h10h3h58h10m-146 2h8h6h5h4h23h7h4h21h8h5h25m-169 2h50h6h18h8h11h6h15h8h14h3h17h82m-195 2h1h2h9h15h12h5h7h3h2h2h3h1h9h10h22h6h64h61m-273 2h9h43h13h10h7h11h7h8h34h36m-162 2h1h4h8h22h6h13h8h8h5h21h20h8m-110 2h14h28h9h1h6h5h5h2h6h11h10h12m-138 2h16h6h23h1h2h2h5h20h3h1h41h4h15h166m-345 2h65h15h5h4h11h6h5h5h3h8h9h10h4h19h6h14h17h4h33m-190 2h13h19h7h1h3h7h6h8h4h21h4h6h6h10h19h10m-179 2h24h15h5h10h16h2h20h2h19h8h3h1h6h2h9h7h9h27h11h3h16m-206 2h2h1h6h9h5h9h10h8h12h1h1h3h2h1h4h1h2h6h8h1h5h29h4h3h10h4h25h15h33m-204 2h6h5h1h7h1h10h8h5h3h2h7h3h1h2h11h3h8h9h11h2h2h17h6h70h50m-243 2h5h9h12h2h3h1h4h1h1h1h1h1h1h4h7h3h16h31h15h12h17h39m-250 2h59h13h9h1h8h4h2h5h9h8h4h1h12h2h14h3h4h2h1h3h1h1h1h1h4h2h10h14h16h37m-249 2h23h36h3h3h3h4h2h5h6h9h1h5h6h4h2h2h2h1h5h2h3h5h1h2h2h2h3h8h3h30h16m-159 2h12h2h10h3h10h5h1h3h3h9h8h1h1h1h7h1h3h4h1h1h2h2h16h4h3h5h5h6h7h7h16h79m-244 2h7h3h1h8h3h9h4h3h12h9h1h5h1h3h1h4h3h2h1h1h13h2h2h1h1h7h2h5h7h4h1h1h2h29h63h65m-302 2h12h7h9h9h3h4h2h19h1h2h1h3h2h3h1h4h9h2h4h1h3h1h2h2h5h1h5h3h5h1h1h6h2h5h6h1h3h1h7h10h6h7m-231 2h31h55h2h5h4h4h1h4h3h2h1h3h2h2h1h3h2h11h3h5h2h2h1h2h4h4h11h1h1h8h1h11h9h2h14h4h6h1h1h8m-208 2h25h2h7h10h8h9h5h6h3h10h1h2h2h3h1h7h1h3h6h12h1h2h2h1h1h1h1h2h1h10h1h13h4h5h2h2h2h2h6h2h5h11h35m-239 2h2h1h10h8h18h2h10h4h1h4h6h7h6h2h3h1h2h1h8h1h4h1h1h1h2h1h1h1h3h3h2h3h3h4h4h3h2h5h1h6h3h1h12h2h9h3h10h10h4h43m-220 2h3h19h1h5h3h1h4h1h14h1h2h1h1h4h2h1h1h6h3h2h2h2h3h7h1h3h4h2h2h3h2h1h1h2h2h2h4h1h4h3h10h8h8h3h2h10h1h3h8m-252 2h74h3h2h13h4h2h7h4h1h6h4h1h1h9h3h3h5h4h1h1h6h5h2h1h2h2h1h2h4h2h2h2h2h11h4h7h1h8h10h11h1h5h16h10h5m-212 2h27h12h3h12h1h2h3h4h2h2h3h3h1h1h8h1h1h2h1h1h1h2h6h6h4h1h7h2h1h2h5h3h3h3h6h2h2h1h1h3h1h4h4h4h1h52h37m-280 2h31h1h7h9h6h6h3h16h2h2h7h2h4h1h1h6h4h9h1h1h1h1h2h2h3h1h5h4h4h5h2h1h1h2h6h2h1h2h1h3h1h2h10h6h16h117m-322 2h50h25h1h1h1h3h4h2h2h2h2h1h1h1h2h3h3h4h6h1h1h3h3h5h6h1h1h1h2h3h3h4h7h2h4h4h4h1h3h1h1h2h10h2h6h7h15h13h15h31m-301 2h18h44h1h1h2h1h20h5h2h1h4h1h8h1h1h6h2h1h3h1h2h1h1h1h3h1h1h1h1h2h1h1h1h3h3h1h2h1h3h2h1h1h5h2h1h1h4h1h1h6h2h6h1h2h2h1h17h1h7h7h13h4h1h13m-291 2h3h25h28h15h20h14h13h1h6h4h9h1h4h3h1h1h2h1h2h1h2h2h1h1h8h2h1h1h1h2h1h1h1h4h4h1h2h1h1h2h3h1h3h1h3h3h1h1h1h3h1h4h1h7h1h6h5h4h1h3h1h2h8h6h3h9m-227 2h29h3h1h2h2h27h5h1h15h1h3h2h1h3h2h2h1h2h1h4h4h1h4h1h2h1h3h2h4h1h2h1h1h3h1h1h1h8h1h1h1h1h1h1h1h8h1h3h4h5h1h2h3h3h1h1h3h1h1h2h1h8h1h7h2h4h6h13m-253 2h45h9h16h1h7h4h8h6h3h1h1h2h2h2h5h2h1h3h2h2h1h4h2h1h2h4h1h2h2h1h2h1h2h1h2h3h2h1h1h1h1h1h2h1h1h2h1h1h2h1h7h1h2h2h3h1h5h1h1h5h3h1h1h2h1h2h1h6h2h19h5h3h74m-318 2h4h13h12h27h4h8h6h13h4h2h4h3h2h1h3h1h2h4h5h2h3h1h1h1h5h1h1h1h2h1h2h2h5h1h1h2h1h1h1h3h1h2h2h2h3h1h5h2h5h3h5h1h4h3h3h1h5h4h9h14h8h2h1m-253 2h55h12h7h5h7h2h2h3h4h2h1h9h3h1h2h1h4h1h2h1h2h1h1h1h1h4h1h1h1h6h3h3h3h2h7h2h1h1h1h1h2h1h1h1h1h1h2h2h2h1h1h3h12h12h2h3h9h3h2h10h13h10m-317 2h17h32h21h15h23h4h4h5h7h20h7h6h1h4h2h2h1h1h1h1h4h3h3h3h5h2h1h1h3h1h2h4h2h1h1h3h2h2h1h1h1h2h1h1h3h1h1h1h3h1h2h1h1h2h2h6h2h1h1h7h1h5h5h1h6h2h7h3h3h3h3h1h2h5h5h16h21h6h9m-291 2h10h15h25h17h3h3h4h1h1h5h2h2h4h4h2h1h3h1h1h4h1h1h2h1h2h2h3h3h1h1h1h2h1h1h2h1h2h1h1h1h1h2h2h1h1h1h1h2h1h1h1h1h1h2h1h4h2h1h1h11h1h1h5h3h4h4h2h4h1h3h8h4h5h7h7h41m-331 2h37h11h21h13h6h5h5h4h4h2h3h1h12h1h4h1h1h1h2h1h1h4h1h2h1h3h3h1h3h1h2h3h1h1h3h3h1h1h3h1h3h1h1h2h3h1h1h2h1h2h3h1h1h1h1h3h1h1h1h1h1h2h1h2h1h1h1h1h1h1h1h1h3h1h2h1h1h10h8h5h6h5h14h17h14h11h5h104m-334 2h8h16h14h1h1h3h8h2h3h2h3h1h1h5h2h1h3h1h1h2h2h1h4h1h1h2h1h5h1h4h2h2h1h1h1h4h1h1h1h1h1h3h3h1h3h1h2h1h3h2h3h1h6h2h1h1h4h6h10h4h5h5h6h3h2h1h16h40m-359 2h9h13h25h4h24h13h2h24h11h3h8h1h1h4h2h6h1h2h2h1h6h2h1h4h1h1h1h1h1h4h1h1h3h1h1h1h1h1h2h3h1h1h1h1h2h1h1h1h1h1h1h2h3h1h3h1h3h5h1h3h6h1h1h1h2h3h3h2h2h10h1h2h8h2h10h2h9h7h4h33m-301 2h38h16h15h7h12h9h1h2h4h4h5h3h5h1h1h2h4h2h4h2h6h1h2h1h1h2h1h2h1h1h3h2h1h1h1h1h1h1h3h1h2h2h1h2h2h1h3h1h1h1h1h4h1h2h1h2h2h13h1h1h1h3h1h5h2h3h2h5h2h1h3h3h6h2h1h3h21h12m-325 2h10h26h2h4h21h6h1h4h8h8h6h12h3h2h5h5h1h8h1h1h1h2h6h2h1h2h2h5h2h3h1h2h1h1h1h2h2h1h1h2h1h2h1h1h1h1h3h1h2h3h3h1h1h2h1h1h3h1h1h2h1h1h2h1h2h3h1h2h1h3h2h1h2h1h1h2h4h2h2h1h3h2h6h1h2h3h1h6h2h6h3h4h1h2h1h20m-269 2h8h14h16h1h7h24h4h12h10h2h5h5h3h8h1h1h3h3h2h1h3h1h1h1h1h2h2h1h2h1h1h1h2h3h1h2h1h1h2h3h2h1h1h1h1h1h1h6h2h3h1h1h4h1h1h1h3h1h3h3h7h3h6h1h1h1h11h4h4h2h1h6h3h5h4h2h7h15h29h4m-341 2h31h5h16h20h24h2h4h2h4h1h7h3h5h3h4h2h6h5h6h1h2h1h1h1h3h1h1h2h2h1h1h1h1h1h1h1h5h1h1h2h1h2h1h1h1h4h3h2h2h1h1h1h2h1h1h2h1h4h1h1h1h1h3h2h5h8h1h5h6h6h2h3h8h4h5h1h5h2h6h8h20h4m-294 2h12h4h6h5h18h2h4h8h5h15h2h4h1h5h3h12h6h3h2h3h1h4h2h1h6h2h1h4h3h1h1h2h1h1h1h1h1h2h1h2h1h1h1h1h2h1h1h1h2h1h1h2h1h1h2h1h1h2h3h2h3h1h1h3h4h3h1h6h1h2h1h1h4h2h12h4h3h2h4h2h32h6h85h86m-454 2h6h2h19h13h33h2h26h1h4h3h6h3h4h3h1h1h2h4h1h1h1h1h1h1h2h1h2h1h1h1h1h2h1h2h3h3h3h3h1h1h2h2h1h1h1h1h1h1h1h1h2h2h2h3h1h1h2h1h1h4h6h1h2h1h4h2h1h2h2h1h8h2h1h2h2h40m-303 2h1h81h3h3h5h7h10h1h5h3h3h2h7h1h5h2h1h3h3h1h3h1h1h2h1h1h1h2h2h1h1h2h1h3h1h2h1h1h2h2h1h1h1h1h1h1h3h1h1h1h1h1h1h1h1h1h1h1h1h2h1h4h4h2h1h1h1h1h2h1h2h2h5h3h2h1h1h2h6h1h3h3h12h3h8h1h3h7h10h15m-318 2h85h16h6h2h3h1h16h1h1h7h5h2h2h1h1h3h1h2h3h2h3h3h1h3h1h2h1h1h1h1h1h2h2h1h3h1h1h1h1h1h2h1h1h5h1h2h2h4h3h1h2h1h1h1h1h2h1h3h1h1h2h1h2h8h1h2h5h6h3h6h8h1h1h3h7h12m-280 2h61h8h23h8h6h1h3h3h5h7h1h5h1h1h2h2h2h2h1h1h1h4h4h1h1h1h1h2h2h1h2h3h2h1h2h2h3h1h1h1h1h1h1h1h2h2h8h2h1h1h2h1h3h1h3h2h1h1h1h1h2h3h3h1h4h5h1h3h7h5h42h3h25m-324 2h1h8h7h14h11h6h14h10h20h8h10h5h1h1h1h3h1h2h5h1h1h1h2h2h3h3h1h2h6h2h2h1h1h1h1h1h1h2h1h2h2h2h1h1h1h1h1h2h1h3h1h2h1h2h1h1h1h2h1h4h1h2h1h3h1h1h2h1h6h3h1h1h3h1h1h2h6h2h1h3h1h4h4h2h10h7h1h1h1h6h4h14h1h55h11h7m-368 2h15h50h5h1h5h15h2h3h2h2h4h6h7h3h16h10h2h3h2h1h1h2h1h2h2h1h2h2h2h1h1h2h3h1h1h1h3h1h1h1h1h1h1h1h1h1h4h1h2h2h5h7h6h1h1h1h1h2h2h2h1h2h1h2h1h1h4h1h3h3h5h4h2h1h5h7h3h4h2m-239 2h23h12h8h2h10h1h1h1h4h1h3h5h1h10h1h6h6h3h2h2h1h1h2h1h4h1h2h2h1h1h1h2h1h3h2h2h2h1h1h1h1h1h3h1h1h1h1h4h2h1h2h1h1h1h1h5h1h1h4h2h6h5h1h2h4h2h1h3h1h4h6h3h3h1h4h3h2h4h22h4h14m-243 2h6h11h1h10h3h24h1h2h8h6h5h2h1h4h2h5h1h4h5h3h1h1h2h2h1h1h1h3h3h8h2h1h1h2h2h1h1h1h2h1h1h4h1h4h2h2h2h3h2h1h2h2h1h4h1h1h4h1h9h5h3h5h9h22m-275 2h13h1h54h15h2h5h1h1h4h1h2h2h2h4h3h1h2h2h2h1h1h3h2h2h1h1h1h1h4h4h1h3h1h1h2h2h1h1h1h2h1h1h1h1h2h4h5h3h1h1h1h1h3h2h1h1h1h1h5h2h1h1h2h1h13h1h2h1h1h2h1h1h11h1h16h3h7h7m-281 2h6h16h12h39h11h31h2h5h10h1h2h13h1h1h1h1h1h1h2h2h4h2h3h2h1h3h1h2h1h2h1h1h4h3h3h3h3h2h1h1h3h1h1h6h2h2h1h5h1h3h25h2h6h4h10h1m-217 2h2h1h5h5h2h11h2h9h1h18h3h2h11h1h1h1h2h1h5h4h1h4h2h1h5h1h2h1h8h1h1h4h1h1h5h1h1h8h1h1h1h2h11h2h1h1h1h2h2h1h2h2h3h5h2h1h2h3h5h1h2h5h5h6h21h17m-288 2h22h16h23h7h2h2h7h2h6h10h1h3h1h2h1h1h7h1h3h1h1h3h2h2h1h4h1h1h2h1h1h1h1h2h2h1h1h1h1h1h1h1h3h1h2h1h3h3h2h1h2h1h2h1h3h1h2h2h1h1h2h1h4h1h2h3h3h5h1h2h7h1h2h1h2h1h3h4h3h7h2h1h6h3h2h12h3h2h2h158m-440 2h22h58h19h9h15h1h2h3h1h3h2h2h1h2h1h1h9h3h1h1h2h2h1h3h1h2h1h1h1h3h1h1h1h1h2h2h1h2h3h3h1h2h2h2h1h3h3h1h3h3h4h5h1h1h1h6h1h3h1h6h1h2h5h1h3h2h3h5h69m-293 2h13h18h5h2h1h11h1h2h1h7h7h5h10h6h6h6h1h2h5h1h4h1h4h1h1h2h1h2h4h3h1h1h1h2h1h3h1h1h2h1h1h2h2h5h2h1h3h3h1h2h1h4h4h11h2h4h4h7h1h1h1h13h14h15h67h23m-379 2h1h58h8h9h8h15h1h3h4h1h5h2h11h3h3h3h3h3h1h2h4h3h3h2h2h2h1h2h1h1h1h2h2h1h3h2h1h1h4h2h1h3h3h1h1h1h2h6h1h2h1h3h1h2h2h1h1h4h1h3h2h2h3h3h3h2h2h5h7h2h2h1h13h13h30m-311 2h5h57h12h1h17h2h7h2h3h2h8h2h1h1h6h1h1h3h4h1h6h11h2h2h5h1h1h1h4h3h1h1h2h1h9h2h1h5h2h1h3h2h3h1h5h3h3h3h1h1h3h7h7h7h7h14h17m-239 2h3h14h17h3h3h13h5h3h2h3h10h1h2h1h8h3h1h2h2h2h2h1h1h2h3h3h6h2h2h1h4h4h2h1h3h1h3h1h1h1h6h4h1h1h3h1h2h1h4h1h1h7h7h3h3h9h11h7m-241 2h14h24h32h1h17h7h3h3h1h1h4h4h3h1h1h3h2h1h2h1h2h2h2h2h1h5h2h6h2h1h3h1h1h5h5h12h2h2h5h3h6h4h3h3h6h2h2h1h7h1h3h1h3h4h9h11h169m-435 2h9h9h12h9h30h14h1h8h2h5h2h2h1h1h3h1h2h5h9h3h3h5h3h1h1h1h2h6h1h4h1h3h1h1h4h1h1h3h7h1h2h3h1h1h6h9h2h1h1h3h6h3h7h3h6h9h21h5h90m-368 2h15h25h6h9h1h28h3h3h27h1h2h1h4h5h9h2h4h2h3h1h2h3h2h3h1h1h1h1h6h1h2h1h4h2h6h3h4h5h2h4h11h2h5h1h4h2h5h4h7h3h2h10h10h2h15m-275 2h6h27h18h20h1h12h5h8h2h6h3h2h3h3h3h1h1h1h1h2h3h4h1h6h6h3h1h7h4h1h2h1h1h1h1h1h1h2h2h1h3h1h3h2h5h4h5h2h12h12h22h23h13h60m-300 2h18h19h7h6h1h2h3h3h2h2h5h4h1h1h5h1h3h4h1h2h3h2h2h1h2h2h4h4h5h7h2h3h6h4h6h5h13h1h2h2h13h2h3h2h7h3h11h8h27h8m-276 2h42h11h3h2h11h12h6h1h3h5h11h1h11h7h2h6h4h4h3h4h9h5h2h7h4h6h3h23h2h20h14m-269 2h11h59h4h6h16h1h1h2h7h1h9h11h3h3h1h6h1h1h7h5h4h8h5h6h1h8h3h6h6h3h1h1h4h8h12h8h5h2h5h5h10h31m-286 2h24h4h12h16h1h16h3h7h5h6h8h1h1h2h2h1h1h1h2h1h2h5h11h2h3h3h2h1h1h2h5h4h3h5h1h1h7h2h7h1h5h3h12h9h1h18h13h1h2h36m-279 2h7h5h42h3h17h10h10h3h2h2h5h2h1h3h2h4h4h2h1h5h1h4h1h8h4h6h1h3h9h4h6h11h2h3h1h2h8h14h10h22m-262 2h6h2h2h39h43h7h10h7h2h4h3h6h2h3h1h4h1h2h1h1h5h3h3h1h2h4h6h5h2h6h3h5h1h1h11h13h3h9h5h2h11m-218 2h3h30h9h13h8h6h1h3h2h7h1h3h4h7h9h1h4h1h2h3h11h7h2h1h1h4h1h4h5h7h2h5h1h2h2h6h1h5h1h33h4h40m-301 2h21h16h24h35h3h1h5h1h9h18h10h1h6h6h3h1h3h3h1h8h21h10h1h10h1h2h23h6h16m-261 2h13h10h18h13h13h5h1h26h2h7h11h3h5h12h3h27h4h7h3h2h1h2h1h6h4h4h4h5h1h4h7h9h5h1h4h3h17m-257 2h10h30h36h3h16h3h1h3h5h9h1h2h5h2h2h3h2h10h2h12h4h4h20h7h5h4h8h4h1h7h22h13m-262 2h8h56h12h19h1h8h9h2h4h2h9h4h9h2h3h6h2h8h5h6h16h3h6h1h3h3h3h7h10h12h20m-256 2h30h23h15h4h4h2h2h5h4h10h1h11h6h1h9h3h10h1h2h3h3h5h1h3h1h1h10h5h11h3h22h2h3h3h43m-250 2h14h10h7h10h9h1h8h2h15h4h9h20h9h1h3h1h4h6h4h9h4h11h1h23h1h10h14m-186 2h28h12h7h12h9h4h7h1h6h4h1h9h5h7h10h7h1h2h7h1h6h26h15h5h20h3m-255 2h7h36h13h4h6h5h15h1h6h4h12h4h2h7h4h1h14h7h8h1h1h3h11h2h6h17h3h12h18h111m-269 2h3h1h14h8h4h4h6h6h2h4h3h1h7h12h1h6h8h2h1h3h5h1h2h13h2h4h6h15h8m-195 2h33h3h12h11h8h7h6h3h8h5h14h1h17h9h11h6h2h3h2h3h12h3h3h30h38m-241 2h4h6h6h10h6h14h11h2h1h24h7h3h11h27h7h9h26h5h4m-198 2h5h12h16h5h3h37h21h22h9h1h4h7h11h12h11h5h25m-226 2h33h9h13h11h38h4h1h1h6h3h7h11h10h5h4h35m-145 2h4h13h1h8h14h2h15h5h11h6h2h6h5h38h19h25h1m-225 2h47h13h8h15h22h3h6h13h2h1h23h1h12h5h22h1h1m-194 2h3h3h29h1h13h3h4h1h4h2h5h7h1h1h3h2h1h1h3h3h4h1h5h2h1h1h1h2h2h1h1h1h3h1h2h2h1h2h1h2h1h1h1h1h2h1h1h1h1h3h1h1h3h1h1h1h1h4h2h1h2h2h3h2h2h1h1h2h2h2h1h1h1h2h3h1h2h1h3h1h1h2h2h4h4h2h4h2h2h1h2h1h3h2h8"/>
<rect x="1.5" y="194.75" width="63.81" height="41.75" fill="#fff" opacity=".86"/>
<rect x="0" y="0" width="371" height="237.5" fill="none" stroke="#333" stroke-width="1.7"/>
<path d="M0 0V237.5H371" style="stroke:#000" stroke-width="2.4"/>
<path d="M159 0V237.5" style="stroke:#000" stroke-width="2.6"/><path d="M0 132.5H371" style="stroke:#000" stroke-width="1.8"/>
<path d="M2 236.9H174.37" style="stroke:#e80000" stroke-width="1.5" opacity=".75"/>
<path d="M-10.5 237.5H0M0 237.5v7.5M-10.5 183.47H0M83.1 237.5v7.5M-10.5 129.44H0M166.21 237.5v7.5M-10.5 75.41H0M249.31 237.5v7.5M-10.5 21.38H0M332.42 237.5v7.5" style="stroke:#000" stroke-width="2"/>
<path d="M-5 221.23H0M25.02 237.5v4.5M-5 211.72H0M39.65 237.5v4.5M-5 204.97H0M50.03 237.5v4.5M-6.5 199.73H0M58.09 237.5v5.5M-5 195.46H0M64.67 237.5v4.5M-5 191.84H0M70.23 237.5v4.5M-5 188.7H0M75.05 237.5v4.5M-5 185.94H0M79.3 237.5v4.5M-5 167.2H0M108.12 237.5v4.5M-5 157.69H0M122.75 237.5v4.5M-5 150.94H0M133.14 237.5v4.5M-6.5 145.7H0M141.19 237.5v5.5M-5 141.42H0M147.77 237.5v4.5M-5 137.81H0M153.34 237.5v4.5M-5 134.67H0M158.15 237.5v4.5M-5 131.91H0M162.41 237.5v4.5M-5 113.17H0M191.22 237.5v4.5M-5 103.66H0M205.86 237.5v4.5M-5 96.91H0M216.24 237.5v4.5M-6.5 91.67H0M224.3 237.5v5.5M-5 87.39H0M230.88 237.5v4.5M-5 83.78H0M236.44 237.5v4.5M-5 80.64H0M241.26 237.5v4.5M-5 77.88H0M245.51 237.5v4.5M-5 59.14H0M274.33 237.5v4.5M-5 49.63H0M288.96 237.5v4.5M-5 42.88H0M299.35 237.5v4.5M-6.5 37.64H0M307.4 237.5v5.5M-5 33.36H0M313.98 237.5v4.5M-5 29.74H0M319.54 237.5v4.5M-5 26.61H0M324.36 237.5v4.5M-5 23.85H0M328.61 237.5v4.5M-5 5.11H0M357.43 237.5v4.5" style="stroke:#222" stroke-width="1.1"/>
<text class="b" x="-38.2" y="240.5" font-size="19">10</text>
<text class="b" transform="translate(-19.3 229.9) scale(1.05 1)" font-size="11">1</text>
<text class="b" transform="translate(-11.1 266.3) scale(0.97 1)" font-size="20.5">10</text>
<text class="b" transform="translate(9.5 256.5) scale(1.05 1)" font-size="11">1</text>
<text class="b" x="-38.2" y="194.97" font-size="19">10</text>
<text class="b" transform="translate(-19.3 184.37) scale(1.05 1)" font-size="11">2</text>
<text class="b" transform="translate(65.8 266.3) scale(0.97 1)" font-size="20.5">10</text>
<text class="b" transform="translate(86.4 256.5) scale(1.05 1)" font-size="11">2</text>
<text class="b" x="-38.2" y="141.24" font-size="19">10</text>
<text class="b" transform="translate(-19.3 130.64) scale(1.05 1)" font-size="11">3</text>
<text class="b" transform="translate(148.91 266.3) scale(0.97 1)" font-size="20.5">10</text>
<text class="b" transform="translate(169.51 256.5) scale(1.05 1)" font-size="11">3</text>
<text class="b" x="-38.2" y="85.91" font-size="19">10</text>
<text class="b" transform="translate(-19.3 75.31) scale(1.05 1)" font-size="11">4</text>
<text class="b" transform="translate(232.01 267.6) scale(0.97 1)" font-size="20.5">10</text>
<text class="b" transform="translate(252.61 257.8) scale(1.05 1)" font-size="11">4</text>
<text class="b" x="-38.2" y="29.48" font-size="19">10</text>
<text class="b" transform="translate(-19.3 18.88) scale(1.05 1)" font-size="11">5</text>
<text class="b" transform="translate(315.12 268.9) scale(0.97 1)" font-size="20.5">10</text>
<text class="b" transform="translate(335.72 259.1) scale(1.05 1)" font-size="11">5</text>
<text class="b" transform="translate(6.23 31.11) scale(1.69 1)" font-size="20.52">1.11</text>
<text class="b" transform="translate(6.23 221.83) scale(1.69 1)" font-size="20.52">94.1</text>
<text class="b" transform="translate(270.46 31.83) scale(1.69 1)" font-size="20.52">3.55</text>
<text class="b" transform="translate(270.46 222.54) scale(1.69 1)" font-size="20.52">1.19</text>
</g>
<g transform="translate(615 369)">
<ellipse cx="101.25" cy="181.47" rx="21" ry="17" fill="url(#rb)" transform="rotate(-30 101.25 181.47)"/>
<ellipse cx="207.48" cy="109.31" rx="38" ry="11" fill="url(#rb)" opacity="0.5"/>
<path class="dt" transform="scale(.5)" d="M529 120h0m-33 8h0m5 4h26m-82 4h1h1h15h52m-52 2h21h74m-166 2h10h29m49 2h19h31h53m-87 2h0m-43 2h81m-158 2h60h6h19m22 2h9h14h1h19h60m-163 2h46h10h17h5h62h8h19h26m-195 2h46h14h12h44h26m-139 2h28h14h4h25h14h2h48m-250 2h89h95h1h3h18h43h7h46m-219 2h8h6h47h12h4h3h10h12h5h1h21h21h5m-244 2h64h20h18h21h4h31h15h8h7h5h41h9m-162 2h30h7h14h1h21h8h1h6h15h4h5h3h4h4h21h4h3h36m-272 2h76h1h1h2h36h8h1h1h12h2h12h7h11h10h22h7h6m-175 2h20h14h6h16h5h7h18h1h18h4h4h5h1h8h3h18h1h18h1h4h7h10h2h2h1h2h19h27m-298 2h15h124h17h5h1h1h2h4h1h3h1h5h4h1h4h6h2h12h3h2h1h12h1h7h2h9h16h5m-266 2h41h36h12h27h4h18h6h4h3h9h6h2h11h1h7h3h1h17h15h1h6h2h12h16m-335 2h11h123h66h1h1h1h5h2h7h1h7h2h2h2h5h15h3h10h2h4h4h1h7h1h1h2h13h6h4h9h13h21h25m-230 2h35h4h9h3h5h4h4h1h2h8h1h4h2h4h1h1h1h4h3h5h7h1h4h4h2h2h1h1h8h1h4h1h15h23m-290 2h131h2h2h9h16h8h2h11h7h3h1h3h2h2h1h2h5h2h3h2h5h5h3h3h1h1h13h3h1h5h2h1h5h3h1h4h12h12m-322 2h25h112h26h11h7h10h1h5h1h8h2h4h1h1h4h2h3h5h3h14h10h3h5h3h1h5h27h25h60m-292 2h12h34h27h5h19h1h4h4h1h3h1h1h1h3h4h1h8h2h1h1h1h4h5h1h3h1h1h1h2h2h5h4h1h3h5h12h2h17h31m-288 2h4h2h78h17h12h8h3h23h14h1h2h10h8h3h12h10h5h2h1h9h1h8h36h19h23m-298 2h24h5h8h19h7h36h7h4h4h3h1h11h3h4h1h3h5h3h4h2h6h1h2h4h2h2h1h1h2h3h3h1h3h2h4h1h3h1h1h1h15h1h2h2h2h3h1h5h5h3h8h4h9h1h11h30m-296 2h3h69h6h2h2h16h8h8h1h8h2h3h9h5h3h5h1h2h1h2h1h2h11h5h1h2h1h1h1h2h1h4h1h3h1h7h2h2h9h1h1h7h22m-296 2h26h31h17h13h8h3h24h9h9h2h5h10h1h5h2h4h1h2h2h1h3h6h3h2h1h16h5h8h3h3h8h1h2h3h1h2h1h1h19h5h8h16h11h11h2m-273 2h11h19h16h25h14h7h2h1h4h6h8h3h3h3h2h4h3h5h2h3h6h4h9h1h2h2h2h5h6h3h2h8h2h2h9h8h9h12h1h18h12h12h3m-311 2h29h25h14h18h20h3h6h6h10h3h6h4h1h13h12h5h9h1h5h2h2h1h6h2h11h7h1h6h8h1h2h5h4h6h3h9h1h1h7h13m-251 2h1h3h3h3h15h12h8h8h10h6h4h4h1h1h3h1h4h10h1h18h3h12h2h3h1h1h8h9h8h2h1h2h5h1h1h7h1h3h1h1h10h6h4h1h1h3h7h2h8h1h17m-287 2h11h18h1h21h15h20h2h28h1h18h4h9h6h16h2h4h7h2h3h3h2h2h1h6h1h4h1h8h5h1h3h1h1h6h1h4h7h1h17m-282 2h26h7h12h22h29h5h1h2h11h4h12h2h13h2h3h5h22h4h7h6h2h2h4h1h2h3h2h1h1h6h3h5h1h2h2h3h3h2h1h6h5h3h2h3h2h1h1h9h1h20h2h4h13h21m-352 2h33h3h22h6h13h15h23h7h9h10h2h4h7h6h3h1h3h2h2h3h3h5h3h15h3h1h2h1h2h1h13h1h2h4h3h4h4h1h5h14h17h17h7h1h1h22h4h22m-322 2h2h4h10h9h10h2h8h3h4h3h4h4h15h17h6h12h5h11h28h7h1h3h2h1h3h4h1h3h3h1h1h2h1h2h4h6h4h3h3h7h6h3h3h5h17h1h16h11h6h22h6h2h2m-362 2h48h12h7h2h7h4h24h9h4h2h29h7h18h14h4h5h7h5h3h1h6h2h2h7h4h3h5h5h8h4h2h2h5h16h4h10h15h1h3h18m-307 2h6h12h38h8h6h25h14h6h13h2h12h8h4h4h8h3h1h1h6h2h8h2h2h3h10h7h7h2h1h2h1h4h7h3h12h1h4h15h4h3h46m-328 2h12h36h24h6h2h54h5h3h7h8h2h7h12h1h4h2h19h10h1h5h3h1h79h6m-331 2h45h24h26h24h9h5h9h8h1h4h3h4h4h1h13h4h1h5h3h4h2h3h1h2h4h1h2h1h11h3h7h1h2h1h1h3h3h1h26h1h6h4h2h20h4m-313 2h10h9h4h69h20h3h17h7h6h1h4h1h2h1h7h8h5h4h5h2h3h4h2h2h1h1h2h1h4h14h4h3h4h1h1h1h3h2h5h1h5h15h4h5h2h2h2h9h8h3h20h16m-340 2h39h4h33h11h1h1h1h13h4h3h11h2h1h12h8h2h10h4h2h1h4h1h5h7h5h5h1h6h5h6h14h4h2h3h2h2h3h3h4h9h1h4h2h1h8h2h3h1h3h2h1h5h4h3h13h3h2h5h5h3h12h15h3m-345 2h41h2h12h2h3h1h16h1h3h4h2h3h1h4h5h2h5h3h4h1h2h1h1h1h1h3h2h17h4h4h6h10h1h2h3h2h1h1h3h3h4h5h4h1h3h3h1h2h1h2h1h2h1h1h3h1h2h2h1h1h2h1h3h1h2h1h4h2h2h2h1h1h1h3h1h1h1h4h3h2h3h1h12h3h22h3h2h2h11h12h18h5m-367 2h35h2h18h12h2h1h5h4h2h2h2h7h1h4h2h3h5h3h1h1h3h1h8h1h3h2h1h2h2h6h1h1h4h1h3h3h3h4h3h1h8h2h1h12h3h2h1h1h1h2h1h1h1h1h2h2h2h1h2h3h4h2h1h1h2h3h2h1h1h2h1h2h1h1h1h1h4h5h4h1h1h6h1h6h2h1h3h2h1h1h3h3h3h1h2h2h9h9h2h1h2h3h1h5h5h7h3h1h2h2h9h3h8h24m-361 2h46h4h3h1h3h1h3h1h6h1h1h1h2h2h2h1h1h1h2h1h1h1h2h4h5h1h2h2h1h1h1h1h3h4h1h1h2h1h1h1h1h2h1h6h7h1h1h1h2h3h4h2h1h2h1h1h1h4h1h1h1h2h1h2h1h1h1h5h2h2h2h1h2h1h1h3h1h1h1h1h1h1h2h1h1h1h1h1h1h1h2h2h1h1h1h1h1h3h3h1h2h3h1h2h1h2h2h2h2h1h1h1h2h2h4h1h3h1h3h2h4h1h9h1h8h1h1h3h9h13h9h17m-322 2h12h9h1h1h1h9h2h10h2h5h3h5h2h2h1h7h1h1h3h1h2h4h3h9h1h2h11h1h1h3h1h3h6h2h8h8h2h3h2h4h1h2h2h1h1h5h2h2h1h3h1h1h1h2h5h3h4h3h6h1h2h1h3h1h1h1h5h3h2h2h1h1h2h3h6h2h4h1h1h1h1h3h2h3h1h1h7h1h2h2h6h2h3h5h7h12h5h4h9m-320 2h3h37h2h2h1h2h4h1h7h3h15h14h2h9h3h2h2h14h2h4h5h5h6h6h2h3h1h2h2h2h3h2h2h1h2h2h2h1h4h1h1h1h1h1h1h7h1h2h1h4h1h4h5h1h4h2h2h3h1h2h1h9h1h1h1h3h3h1h5h3h2h3h3h10h4h3h43h29m-392 2h29h39h19h1h1h5h1h1h11h1h13h4h10h1h2h6h25h7h1h9h3h2h9h9h1h4h1h3h3h1h6h2h3h2h4h1h4h7h1h5h2h2h5h3h11h2h4h9h3h7h61m-272 2h1h3h1h15h9h7h8h14h7h30h9h21h8h4h3h1h2h1h17h28h2h2h1h3h2h6h73m-319 2h7h57h16h1h9h12h2h5h5h2h19h3h6h4h21h6h7h3h79h21m-253 2h10h1h38h9h12h31h7h4h1h37h24h13h1h6h5m-231 2h11h12h22h5h27h23h52h5h11h30h70m-254 2h18h60h24h9h9h7h11h24h8h13h11m-187 2h4h5h10h7h27h5h30h70h23m-171 2h12h29h8h19h1h21h2h4h53h8m-190 2h8h6h8h25h33h22h10h2h8h20h1h24h14m-154 2h77h9h19h3h16m-77 2h2h5h5h5h1h9h27h7h74m-211 2h20h34h5h24h18h3h59h49m-178 2h42h16h11h16h16h29h2h11h28h25m-208 2h53h18h2h8h1h3h16h18h21h7h5h39h101m-295 2h31h32h4h2h16h6h1h3h1h3h4h4h8h13h5h1h30h2h15h14h14h2h2h7m-192 2h22h17h12h8h3h26h1h3h2h45h9h5h2h4h65m-289 2h2h72h15h6h13h26h8h6h1h14h6h7h15h7h7h2h63m-148 2h6h5h15h3h12h6h6h1h59h33h1m-209 2h39h30h1h1h1h2h12h6h1h8h3h20h41h48m-154 2h3h6h10h4h8h2h9h5h10h2h3h40h8h3h6h14h7h3h6h3m-157 2h12h10h2h2h2h11h15h2h2h8h1h16h4h16h66m-297 2h101h18h5h18h7h1h25h4h6h8h1h35h5h24m-254 2h53h1h24h10h13h12h19h7h1h4h1h2h4h13h5h7h6h11h3h22h9h9h9h11h98m-282 2h9h32h10h1h9h2h10h4h2h1h9h1h2h11h27h15h13h1h6h28h28h6h5m-228 2h21h34h8h1h46h30h12h92m-234 2h2h8h13h22h4h4h1h3h5h43h11h20h5h6h14h43m-202 2h11h2h10h30h2h6h1h4h3h7h1h3h31h10h2h1h5h36h15m-228 2h14h19h8h21h4h5h13h4h5h4h6h21h6h3h9h16h28h3h5h2h10h13h32m-257 2h25h4h18h3h6h1h22h1h15h3h7h10h10h2h4h23h10h15h2h7h5h81h23m-307 2h28h20h18h8h7h3h6h38h4h5h15h20h24h6h56m-284 2h72h10h1h2h6h42h10h1h5h13h38h4h1h15h4h77h7h31m-352 2h69h41h3h19h4h4h6h2h3h3h6h5h37h16h19m-192 2h24h15h5h14h13h11h12h10h3h4h14h3h13h4h24h11h8h22h6m-204 2h10h3h2h14h36h4h3h3h6h12h3h6h6h3h4h32h15m-152 2h4h6h11h8h17h14h3h21h7h5h12h15h2h8h33h27h89m-264 2h17h15h7h3h1h1h17h4h2h7h16h17h10h24m-188 2h11h11h3h24h28h1h4h13h13h1h2h20h9h3h5h1h6h15h6h9h53h27m-302 2h22h1h33h21h16h7h3h32h10h1h9h9h6h2h2h6h3h16h5h55h26h16h64h11m-434 2h87h12h5h12h22h12h6h11h2h4h1h3h1h7h1h12h15h7h4h8h11h9h134m-277 2h10h6h18h9h9h3h2h1h6h21h7h8h3h6h1h2h11h39h26h10h42m-250 2h23h5h3h14h23h4h35h10h3h19h1h3h1h6h10h15h11h11h13h6m-253 2h13h9h8h3h9h8h10h3h17h3h13h6h3h11h9h11h4h5h6h5h5h35h38h9h3h47m-306 2h9h16h9h5h13h14h1h4h1h1h19h10h22h8h2h1h21h5h24h3h2h29h18h20h32h31h19m-318 2h50h23h3h5h6h5h4h12h16h8h10h10h3h2h1h3h4h2h10h11h10h27h2h37h5h6m-264 2h14h5h4h6h3h3h7h2h3h1h3h3h3h4h2h18h26h1h14h2h5h2h3h47h1h8h29h3h35h64m-341 2h43h24h3h11h1h16h2h10h1h9h2h7h8h9h5h19h2h7h18h14h40h36m-317 2h34h3h18h3h6h3h4h6h4h7h13h1h5h3h3h2h4h1h1h1h16h7h20h15h16h6h5h10h48h3h82m-345 2h47h2h15h2h20h20h1h4h4h2h8h11h4h8h8h22h3h3h2h2h5h8h16h20h15h25h2m-230 2h6h10h10h1h8h9h6h2h1h6h1h8h8h7h13h1h1h2h13h12h4h7h9h16h6h32h50m-406 2h97h2h69h15h11h1h7h1h4h2h1h1h2h1h2h8h12h3h2h13h2h9h1h1h10h65h46h3h3h35m-309 2h10h5h2h39h1h8h8h13h4h3h7h7h8h7h2h3h25h12h7h1h10h8h5h26h5h3h13h21m-255 2h7h5h2h4h3h7h2h6h10h3h7h2h7h2h10h2h1h7h2h1h3h13h2h3h3h15h5h5h2h8h3h3h2h13h3h3h13h2h17h5h13h58h65m-486 2h152h7h1h6h6h2h6h8h12h1h1h4h1h2h2h3h3h4h2h2h1h2h3h1h5h5h7h7h8h2h7h4h7h8h11h1h14h77m-332 2h60h24h1h4h9h3h5h7h1h7h6h9h1h7h1h11h6h3h1h2h2h2h6h2h1h10h2h22h3h16h27h7h8h1h43m-410 2h82h95h12h2h1h7h8h1h1h1h4h2h5h3h1h3h5h9h6h2h4h9h3h8h8h1h2h1h1h3h13h9h17h2h2h6h8h6h2h3h8h9h175m-475 2h79h25h7h3h1h12h2h5h5h1h2h6h1h2h2h3h1h1h1h2h3h29h3h3h3h1h2h8h6h17h7h3h11h49h16h25m-327 2h78h16h3h15h10h5h7h1h2h10h2h2h9h1h1h1h8h2h3h5h9h3h1h2h1h1h8h7h5h9h3h13h8h19h88m-430 2h17h32h14h40h61h4h12h3h1h1h3h1h4h1h4h2h1h2h5h4h2h2h3h2h3h2h4h1h1h1h1h5h4h6h8h13h1h5h2h10h9h24h11h8h10h6h51h52h9m-493 2h37h15h5h63h24h11h17h4h5h5h1h9h4h5h11h1h2h4h4h4h1h2h2h2h1h2h3h9h7h1h2h5h6h6h2h3h6h23h6h27h11h3h2h18h18h21h43h12m-429 2h16h66h22h13h10h6h2h5h1h14h8h13h4h2h1h2h3h2h1h1h6h2h5h7h5h1h3h20h5h2h1h10h29h15h11h58h102m-461 2h55h2h20h11h2h5h1h9h6h4h2h1h5h2h17h2h1h1h5h2h4h3h1h1h2h1h1h1h1h5h3h3h4h1h2h1h8h3h4h9h4h5h3h3h2h2h3h11h3h2h9h19h3h15h34h4h14h9h39m-449 2h71h32h2h22h22h8h3h10h3h2h3h6h1h5h1h1h3h1h11h5h1h2h2h6h10h1h5h1h1h4h2h7h4h3h2h5h5h15h1h8h8h24h13h3h37h14h96m-497 2h26h85h1h16h28h7h4h12h8h1h3h8h6h2h1h5h2h3h1h5h1h1h2h1h20h10h4h4h1h3h4h1h50h14h19h27h17h7h5h15h24m-397 2h11h19h19h2h4h2h30h6h15h7h20h1h4h2h5h2h1h3h1h3h3h1h1h2h3h1h2h1h10h2h8h1h5h10h1h1h5h10h3h7h16h6h1h3h1h3h5h29h33m-315 2h43h25h2h3h4h15h2h8h4h2h1h1h1h3h2h7h1h2h1h1h2h1h1h2h3h3h2h1h3h2h2h3h2h3h14h4h1h3h4h4h1h8h1h7h8h34h6h8h25h2h31m-353 2h23h23h10h9h32h3h4h8h11h7h1h1h1h2h1h1h5h2h2h2h11h1h1h1h2h1h9h1h1h5h1h2h2h3h1h7h4h8h2h1h3h2h4h3h4h2h1h11h2h18h17h25h40h4h18m-312 2h30h13h8h3h3h2h5h1h5h2h2h7h3h2h1h1h7h1h5h1h2h7h1h2h1h1h3h1h2h2h4h1h1h1h2h2h4h3h3h2h5h1h1h1h5h11h5h9h4h28h1h19h2h35h23h5h74h6m-423 2h8h20h52h16h5h5h8h5h3h7h1h5h1h3h7h2h1h1h1h1h1h3h5h3h1h2h4h3h3h3h1h1h1h8h2h1h1h1h1h2h4h5h1h1h1h4h1h7h1h3h1h13h18h21h9h7h5h3h36m-308 2h4h12h3h39h3h13h3h2h7h12h1h2h2h4h1h4h2h1h2h2h6h2h5h2h1h5h2h1h4h1h1h9h6h1h9h3h6h14h13h20h13h1h4h53h12m-292 2h11h15h4h6h4h4h4h4h2h4h12h1h3h1h3h2h1h2h3h2h3h6h3h3h1h11h2h3h4h2h8h1h3h6h4h2h1h6h3h11h5h17h7h1h15h4h39h19h33m-408 2h18h7h74h16h8h9h1h3h8h5h13h4h8h2h1h1h1h1h1h1h1h2h2h2h6h2h3h7h1h2h1h1h3h11h7h1h3h7h3h9h1h4h7h30h3h21h18h13h14h95h46m-441 2h1h30h2h1h8h3h11h1h1h3h6h10h2h7h2h5h3h2h2h2h1h5h2h1h1h2h1h3h1h3h2h3h1h8h2h5h5h1h2h3h2h4h4h5h2h2h1h1h2h3h11h3h7h6h2h10h4h2h24h1h47h27m-383 2h23h53h5h25h9h12h5h2h1h2h2h6h6h2h2h2h2h4h4h1h1h5h1h1h1h2h1h1h1h3h1h1h1h2h1h1h1h1h2h1h1h3h2h1h6h3h4h2h3h1h3h1h2h3h2h1h2h4h4h13h3h25h33h44h16m-344 2h18h35h5h4h23h7h7h4h3h2h2h4h2h8h1h6h1h2h1h1h6h4h2h2h3h1h3h1h6h5h3h1h9h1h2h6h4h2h1h1h15h6h3h2h5h3h1h9h3h41h29h42h3h11h4h118m-520 2h54h5h11h36h2h25h1h1h1h5h2h4h14h1h4h1h1h2h3h1h5h3h1h2h2h2h1h9h1h2h1h4h5h10h2h6h6h2h3h4h3h8h1h17h67h4h4h3h13m-336 2h13h20h18h23h9h3h2h8h8h1h4h1h7h7h1h1h10h4h1h1h2h6h6h1h2h7h4h4h1h4h1h3h4h11h3h2h16h7h1h3h22h9h4h18h52h2m-375 2h19h3h10h35h12h12h10h3h12h3h4h14h7h5h1h8h1h1h3h1h3h2h1h2h1h1h4h1h9h1h3h5h3h2h6h2h4h3h5h8h3h11h14h30h75h8h4h57h12h55m-437 2h23h14h5h6h1h5h13h4h4h1h8h2h2h3h2h1h5h1h2h5h3h2h2h2h2h6h1h2h3h5h2h3h2h13h1h6h1h1h1h9h3h9h7h5h5h39h2h78h109h13m-511 2h14h27h38h16h7h17h12h11h2h3h3h2h10h4h5h1h2h2h2h2h1h1h1h6h13h2h7h2h3h4h5h2h1h2h5h22h27h3h3h40h44h75m-414 2h20h19h10h9h16h16h3h11h2h5h1h3h8h8h9h2h1h6h1h2h2h1h9h3h6h3h10h2h1h4h6h2h3h2h12h5h5h2h63h51h1h5h14m-379 2h18h52h3h19h9h16h7h4h2h1h2h1h1h8h11h2h1h3h6h3h2h3h3h1h2h2h1h2h1h5h3h4h7h4h2h1h5h4h8h3h10h6h6h6h3h12h5h36h35h159m-527 2h31h7h35h16h2h10h10h3h1h9h1h2h6h2h13h3h7h4h4h1h8h2h2h2h1h1h2h2h3h1h7h1h4h2h2h3h3h1h2h1h2h5h6h4h15h1h12h9h29h21h1h13h4h8h10h42m-344 2h14h22h18h5h6h1h6h14h4h2h3h3h5h5h2h2h2h2h2h1h5h2h3h8h3h5h2h2h2h2h3h1h2h6h2h8h6h3h1h6h7h5h5h3h6h3h41h37h4h16m-374 2h8h3h13h7h36h6h13h4h4h2h8h13h5h4h1h2h15h4h15h1h4h16h5h6h3h6h1h1h2h1h3h6h16h1h5h4h23h8h14h6h5h6h66m-318 2h21h9h10h5h10h3h2h1h1h3h4h1h2h10h2h4h6h3h1h4h1h2h1h4h1h1h5h3h1h3h3h1h14h1h1h8h1h1h11h8h16h1h5h1h41h29h41h16h25h4m-404 2h11h1h30h40h22h1h2h1h4h9h4h2h1h3h3h4h13h7h1h1h3h5h1h3h2h10h1h2h3h5h3h6h1h5h1h10h7h11h6h1h37h74h58m-367 2h12h13h1h4h16h8h7h1h3h1h4h13h3h5h1h2h1h4h2h4h11h3h5h4h1h1h3h4h3h2h3h14h2h3h7h3h3h13h5h2h5h217h18m-483 2h67h7h13h4h26h6h3h3h8h2h1h6h3h4h1h5h5h3h11h4h4h11h5h6h6h6h5h1h6h3h5h6h9h28h41h38h49m-422 2h6h74h3h2h21h5h1h1h1h4h22h3h2h5h1h6h2h3h2h3h2h9h7h6h3h3h7h2h1h9h10h4h1h16h11h48h83h74h11m-405 2h12h10h2h16h10h14h10h3h2h3h4h1h3h4h1h10h4h3h1h10h45h2h8h5h2h6h6h5h57h6h7h69h28h59m-498 2h63h14h3h21h5h3h2h7h1h14h3h4h5h6h17h1h4h3h2h2h6h5h1h7h1h3h1h6h16h17h7h18h47h11h10h10h39h2h151m-456 2h13h20h26h5h1h11h10h17h7h6h2h12h29h6h66h18h25h9h183m-481 2h6h23h10h3h10h5h7h3h4h12h9h14h7h5h7h4h1h2h2h1h1h8h3h14h5h91h18h3h57h20h31m-420 2h36h2h2h9h1h12h3h6h5h2h2h4h5h28h3h9h11h4h17h2h5h2h15h2h7h7h19h11h10h47h46h8h20h3m-313 2h20h4h3h8h9h4h2h3h2h1h3h2h1h1h8h13h7h3h4h10h17h1h7h6h10h3h12h1h2h1h79h12h38m-359 2h24h5h12h23h2h3h7h13h9h1h1h4h2h13h5h6h5h4h15h2h4h2h4h2h13h19h77h18h7h113m-397 2h7h29h4h30h5h7h13h1h1h13h10h5h2h1h2h13h4h3h5h11h4h9h5h34h19h38h32h12m-341 2h78h9h7h3h2h3h9h17h4h1h1h3h13h4h10h3h4h10h4h7h3h4h15h13h7h15h69h81m-381 2h7h12h36h6h12h3h8h14h8h2h30h3h2h1h6h2h6h2h4h4h8h18h10h35h50h57m-329 2h31h28h5h12h4h5h22h30h6h4h11h8h16h65h11h20h5h17h4h12h14m-381 2h9h32h14h40h14h7h1h9h1h13h17h8h1h2h3h13h5h1h117h30h110m-430 2h2h17h8h18h35h12h6h6h4h4h14h7h5h1h11h4h6h20h18h88h80h5h12m-396 2h27h15h20h24h20h21h9h9h16h5h17h71h83h21h13h4h12m-316 2h33h4h26h2h9h1h22h8h4h7h29h2h129h2h33h78h20m-476 2h29h1h17h14h11h4h2h24h21h1h18h19h11h15h3h17h30h102h74h7m-378 2h10h29h15h6h7h59h3h39h94h63h7h57h20m-428 2h41h2h18h2h18h4h30h7h7h28h11h4h48h125h31h42m-448 2h12h63h2h9h27h3h2h8h1h10h5h9h35h29h10h32h70h5h32h41h46m-416 2h21h14h9h5h5h36h3h12h1h1h35h9h20h33h102h14h29h125m-468 2h19h30h10h129h12h18h168h43m-445 2h28h23h4h18h5h6h27h2h28h2h13h8h17h1h102h81h26h35m-452 2h49h66h9h44h7h21h44h34h38h18m-309 2h17h40h36h29h10h5h184h12m-333 2h3h4h73h2h16h35h3h12m-102 2h36h15h29h15h9h99m-214 2h1h3h17h41h92m-146 2h1h31h13h8h11h7m-106 2h32h41h85h1h35m-198 2h9h20h1h3h28h5h1h2h3h3h4h1h6h2h5h5h2h1h7h2h1h2h5h2h15h1h1h4h3h8h12h11h13h14h1h24h33"/>
<rect x="1.5" y="189.83" width="63.73" height="40.67" fill="#fff" opacity=".86"/>
<rect x="0" y="0" width="370.5" height="231.5" fill="none" stroke="#333" stroke-width="1.7"/>
<path d="M0 0V231.5H370.5" style="stroke:#000" stroke-width="2.4"/>
<path d="M158.5 0V231.5" style="stroke:#000" stroke-width="2.6"/><path d="M0 129H370.5" style="stroke:#000" stroke-width="1.8"/>
<path d="M2 230.9H174.13" style="stroke:#e80000" stroke-width="1.5" opacity=".75"/>
<path d="M-10.5 231.5H0M0 231.5v7.5M-10.5 178.83H0M82.99 231.5v7.5M-10.5 126.17H0M165.98 231.5v7.5M-10.5 73.5H0M248.98 231.5v7.5M-10.5 20.83H0M331.97 231.5v7.5" style="stroke:#000" stroke-width="2"/>
<path d="M-5 215.65H0M24.98 231.5v4.5M-5 206.37H0M39.6 231.5v4.5M-5 199.79H0M49.97 231.5v4.5M-6.5 194.69H0M58.01 231.5v5.5M-5 190.52H0M64.58 231.5v4.5M-5 186.99H0M70.14 231.5v4.5M-5 183.94H0M74.95 231.5v4.5M-5 181.24H0M79.19 231.5v4.5M-5 162.98H0M107.98 231.5v4.5M-5 153.71H0M122.59 231.5v4.5M-5 147.13H0M132.96 231.5v4.5M-6.5 142.02H0M141 231.5v5.5M-5 137.85H0M147.57 231.5v4.5M-5 134.33H0M153.13 231.5v4.5M-5 131.27H0M157.94 231.5v4.5M-5 128.58H0M162.19 231.5v4.5M-5 110.31H0M190.97 231.5v4.5M-5 101.04H0M205.58 231.5v4.5M-5 94.46H0M215.95 231.5v4.5M-6.5 89.36H0M223.99 231.5v5.5M-5 85.19H0M230.56 231.5v4.5M-5 81.66H0M236.12 231.5v4.5M-5 78.61H0M240.93 231.5v4.5M-5 75.91H0M245.18 231.5v4.5M-5 57.65H0M273.96 231.5v4.5M-5 48.37H0M288.57 231.5v4.5M-5 41.79H0M298.94 231.5v4.5M-6.5 36.69H0M306.98 231.5v5.5M-5 32.52H0M313.56 231.5v4.5M-5 28.99H0M319.11 231.5v4.5M-5 25.94H0M323.93 231.5v4.5M-5 23.24H0M328.17 231.5v4.5M-5 4.98H0M356.95 231.5v4.5" style="stroke:#222" stroke-width="1.1"/>
<text class="b" x="-38.2" y="234.5" font-size="19">10</text>
<text class="b" transform="translate(-19.3 223.9) scale(1.05 1)" font-size="11">1</text>
<text class="b" transform="translate(-11.1 260.3) scale(0.97 1)" font-size="20.5">10</text>
<text class="b" transform="translate(9.5 250.5) scale(1.05 1)" font-size="11">1</text>
<text class="b" x="-38.2" y="190.33" font-size="19">10</text>
<text class="b" transform="translate(-19.3 179.73) scale(1.05 1)" font-size="11">2</text>
<text class="b" transform="translate(65.69 260.3) scale(0.97 1)" font-size="20.5">10</text>
<text class="b" transform="translate(86.29 250.5) scale(1.05 1)" font-size="11">2</text>
<text class="b" x="-38.2" y="137.97" font-size="19">10</text>
<text class="b" transform="translate(-19.3 127.37) scale(1.05 1)" font-size="11">3</text>
<text class="b" transform="translate(148.68 260.3) scale(0.97 1)" font-size="20.5">10</text>
<text class="b" transform="translate(169.28 250.5) scale(1.05 1)" font-size="11">3</text>
<text class="b" x="-38.2" y="84" font-size="19">10</text>
<text class="b" transform="translate(-19.3 73.4) scale(1.05 1)" font-size="11">4</text>
<text class="b" transform="translate(231.68 261.6) scale(0.97 1)" font-size="20.5">10</text>
<text class="b" transform="translate(252.28 251.8) scale(1.05 1)" font-size="11">4</text>
<text class="b" x="-38.2" y="28.93" font-size="19">10</text>
<text class="b" transform="translate(-19.3 18.33) scale(1.05 1)" font-size="11">5</text>
<text class="b" transform="translate(314.67 262.9) scale(0.97 1)" font-size="20.5">10</text>
<text class="b" transform="translate(335.27 253.1) scale(1.05 1)" font-size="11">5</text>
<text class="b" transform="translate(6.22 30.33) scale(1.73 1)" font-size="20">6.45</text>
<text class="b" transform="translate(6.22 216.22) scale(1.73 1)" font-size="20">47.2</text>
<text class="b" transform="translate(270.09 31.02) scale(1.73 1)" font-size="20">34.7</text>
<text class="b" transform="translate(270.09 216.92) scale(1.73 1)" font-size="20">11.6</text>
</g>
<g transform="translate(159.5 658)">
<ellipse cx="81.42" cy="178.45" rx="21" ry="17" fill="url(#rb)" transform="rotate(-30 81.42 178.45)"/>
<path class="dt" transform="scale(.5)" d="M441 172h0m-166 2h0m-27 2h225m-4 2h0m-58 2h0m-202 2h0m147 2h0m-110 2h33m81 2h77m-230 2h0m97 2h119m-31 2h5m-230 2h125h156h75m-363 2h197h32h8h36h5m-142 2h15h56h10h61h9h50m-268 2h94h36h78h2h6m-208 2h51h16h7h53h18h115m-201 2h75h25h7h56m-201 2h72h83h10h44h16m-323 2h128h52h12h19h12h6h13h98m-295 2h33h9h19h86h28h21h6h20h36m-276 2h20h10h60h51h9h16h20h14h8h1h67m-284 2h81h14h45h8h27h1h41h3h5h23h4h47m-222 2h39h10h16h14h12h8h29h8h9h33h58m-363 2h29h68h46h15h37h11h19h1h10h19h4h3h2h16h45h26m-212 2h79h67h4h6m-199 2h75h41h1h39h6h27h5h17h17h73m-345 2h108h2h37h37h8h6h13h17h8h40h35m-300 2h139h3h4h16h25h28h49h5h22m-263 2h13h43h68h25h38h21h8h6h8m-246 2h6h31h99h25h3h15h22h44m-317 2h8h76h49h40h30h9h2h6h60m-231 2h42h9h86h31h74m-276 2h137h16h22h3h24h13h87h46m-302 2h12h27h78h50h5h46m-229 2h34h5h44h62h7h13h8h90m-230 2h57h3h5h4h8h34m-47 2h15m-126 2h148h4h60h32m-152 2h3h52h5h1h136h16h4m-262 2h26h44h100m-84 2h26m-69 2h22m-46 2h0m67 2h21h61h22m-177 2h12h61h33h17m-149 2h29h12h67h4m-79 2h9h1h1h148h3m-186 2h6h27h42h15h5h65m-127 2h34h21h14h63m-220 2h55h25h20h34h1h8m-111 2h57h4h13h4h8h1h22m-70 2h17h27h3h36h27h23m-178 2h8h17h11h5h6h27h38h113m-243 2h32h28h1h5h4h5h29h1h3h3h59h33h65m-238 2h24h31h21h3h19h11h9h23h11h76m-227 2h46h8h6h11h9h6h11h7h134m-229 2h4h15h2h5h24h8h4h1h15h4h35h20h6m-187 2h35h1h27h73h3h9h62m-210 2h1h8h16h3h19h24h1h1h4h7h4h1h9h12h6h1h5h14h2h40h25m-186 2h9h8h3h17h35h6h8h9h12h15h3h35h12h2m-182 2h3h3h4h37h4h4h7h4h4h2h5h4h3h8h2h6h18h20h5h7m-173 2h36h22h7h4h1h13h4h16h9h1h11h6h1h2h2h2h1h2h9h14h27m-170 2h13h5h1h3h9h12h3h7h8h1h1h6h1h3h18h5h3h22h12h6m-141 2h8h20h24h8h1h4h10h1h16h7h6h5h5h1h19h83m-224 2h10h2h16h6h11h1h1h5h7h1h8h4h8h2h2h1h7h6h1h2h8h3h2h3h8h10h5h48m-216 2h34h5h7h24h4h1h15h6h3h8h1h10h3h5h1h3h14h4h8h5h11h109m-272 2h2h9h10h2h6h1h2h11h14h4h4h4h3h4h10h3h7h4h9h2h1h3h4h4h2h8h7h4h4h2h1h7h50m-248 2h38h26h3h3h6h5h9h4h1h3h11h1h4h2h13h1h7h1h1h5h7h1h3h5h1h1h4h3h6h4h13h12m-164 2h29h16h6h2h1h3h1h1h1h2h6h4h2h10h1h2h3h5h1h9h1h4h16h16h7h1h5h3m-150 2h12h23h7h5h3h3h1h1h6h5h2h1h1h4h2h7h1h3h12h4h1h3h6h5h14h2h1h13m-163 2h15h3h11h3h16h6h10h9h10h5h1h1h7h2h2h8h2h1h4h5h4h6h2h2h2h5h1h10h1h3h49h6m-311 2h84h9h35h7h11h2h5h10h1h13h5h2h8h1h5h1h1h4h2h3h8h2h1h1h4h4h6h12h4h8h1h44m-211 2h12h35h1h3h5h5h6h4h3h7h2h1h2h1h1h3h3h4h6h1h2h2h1h8h1h1h4h7h11h2h7h1h5h15h124m-292 2h6h1h14h1h8h3h11h3h3h5h4h1h1h2h2h1h3h1h2h4h1h4h6h3h2h1h7h1h3h9h3h1h8h2h5h1h11h1h6h3h4h1h12h4h5h2h20h48m-316 2h17h34h13h20h4h4h3h10h1h5h1h2h6h3h2h2h2h6h4h5h1h1h2h3h2h2h1h1h1h1h3h6h2h6h1h5h1h7h3h3h6h4h1h3h1h6h4h51m-237 2h5h12h25h15h3h2h4h1h7h1h3h11h2h5h1h3h3h1h1h2h2h1h4h2h1h1h3h1h2h3h2h2h1h1h2h2h1h4h3h1h1h9h2h4h2h17h5h4h4h23h89h15m-389 2h15h7h80h24h2h10h2h1h1h1h2h1h4h1h5h2h1h4h1h2h2h2h2h1h1h1h2h1h4h4h1h4h2h6h3h1h2h2h1h3h2h1h1h2h8h3h2h1h2h7h6h6h15h2h24h73m-343 2h41h10h10h4h9h10h1h1h6h2h6h9h7h6h4h1h2h3h1h1h2h1h1h1h1h1h1h2h1h5h2h2h4h1h2h1h1h1h2h2h1h2h5h1h1h1h3h2h1h2h3h3h3h2h1h1h5h2h1h9h2h4h8h49h61m-355 2h41h9h35h17h5h6h4h6h1h2h1h6h3h1h6h2h6h1h2h2h1h1h3h2h2h1h1h1h2h2h2h1h1h5h1h2h3h5h3h1h6h1h6h10h1h6h6h12h4h2h3h15h7h8h44h2h15m-381 2h31h11h12h35h10h20h1h2h9h9h1h3h1h4h6h1h2h1h5h5h2h3h1h4h2h2h1h2h2h1h2h1h1h1h4h3h1h3h2h1h1h2h1h1h4h1h6h1h3h2h3h3h2h3h7h4h8h2h8h6h16h18m-303 2h27h24h7h18h3h3h2h7h2h20h2h3h21h6h2h4h4h2h3h2h2h1h1h4h2h1h1h2h1h1h5h3h1h1h1h1h1h2h1h2h3h1h1h5h2h4h2h4h1h1h1h1h2h1h1h2h1h1h1h6h8h13h3h1h3h1h3h17h8h8h24h69m-402 2h20h78h18h5h9h4h4h3h6h3h1h3h4h1h2h1h3h2h2h2h3h1h1h1h1h1h4h2h3h1h1h1h2h3h1h1h1h3h1h2h1h1h2h5h4h2h1h4h2h3h4h1h7h4h1h8h2h2h2h2h3h2h13h31m-263 2h21h7h3h6h18h2h11h5h1h3h1h3h1h8h2h7h2h1h5h2h1h1h1h1h3h1h1h3h1h1h1h1h1h5h1h2h1h2h1h1h2h1h1h1h3h1h2h1h1h1h3h1h2h1h1h1h1h1h9h1h3h1h1h2h1h1h1h10h2h1h2h1h8h2h4h2h2h74h96m-428 2h23h19h6h8h15h4h6h6h10h4h5h2h3h1h3h6h4h3h2h8h5h2h1h2h2h3h1h1h1h1h5h2h2h2h4h1h1h1h1h2h4h1h3h1h1h2h1h1h2h1h1h1h1h6h2h1h4h1h2h1h1h2h1h2h3h1h3h4h2h7h3h1h5h4h3h6h3h47h92m-414 2h22h5h15h3h6h32h7h2h10h6h3h3h10h3h4h1h1h2h2h1h4h1h3h2h1h10h1h1h3h2h1h3h3h7h1h1h2h2h1h1h1h1h3h1h1h1h3h1h1h1h3h2h3h1h1h3h4h2h1h5h1h3h3h3h2h2h1h2h11h7h2h5h16h20h29h16m-344 2h15h23h13h4h15h3h7h3h1h8h19h6h1h5h2h1h1h2h1h7h1h3h1h2h1h1h2h1h1h3h1h3h2h3h1h2h1h1h1h1h1h1h1h2h1h1h3h2h1h1h1h1h1h1h1h1h1h1h2h2h1h3h1h1h1h1h1h1h1h1h1h3h4h2h2h1h2h1h1h1h2h1h1h1h1h1h1h1h3h1h11h9h1h3h2h2h6h18h3h8h2m-309 2h36h7h9h2h4h11h1h1h2h6h2h2h17h1h7h1h2h2h3h7h3h2h1h1h2h5h5h1h1h1h1h5h2h1h1h2h1h2h3h1h1h1h2h1h1h1h1h2h1h1h1h1h1h2h1h1h1h1h1h1h1h1h3h3h1h3h2h1h4h2h3h1h3h1h2h2h2h1h2h2h6h1h1h1h2h3h6h1h1h1h10h1h5h18h5h8h5m-290 2h9h1h29h8h1h5h5h1h4h4h4h2h11h8h10h5h6h1h1h1h1h1h3h8h2h1h1h2h2h3h1h2h1h3h1h1h1h4h3h2h1h2h1h1h2h1h1h1h1h2h1h2h1h1h3h2h1h4h1h1h1h3h2h4h2h1h5h2h3h1h2h2h1h1h1h3h3h10h1h4h9h10h13h20m-297 2h48h1h2h1h2h4h5h4h4h6h5h1h4h8h3h1h5h1h2h4h3h3h7h2h1h6h2h1h1h2h1h1h1h2h1h1h1h1h1h1h2h2h2h1h1h1h1h1h4h1h1h2h1h1h1h1h1h3h2h1h3h1h1h1h1h1h1h2h4h1h1h2h1h1h5h1h1h2h1h3h1h2h1h3h3h2h17h1h1h5h8h22h3h20h11m-296 2h7h28h3h32h7h1h6h3h2h5h5h10h2h1h4h4h2h1h1h5h1h1h3h1h1h1h1h1h1h2h2h1h1h3h1h1h1h1h2h1h1h1h3h1h1h1h3h1h2h1h1h4h2h4h4h1h2h1h1h1h4h2h3h7h3h4h1h2h2h3h7h8h5h16h10m-295 2h18h13h1h1h1h18h1h2h9h5h5h7h4h1h2h1h3h15h1h2h5h1h2h2h4h4h2h2h1h3h2h1h1h2h2h3h3h1h1h2h3h1h1h1h1h1h1h2h1h2h2h1h3h1h1h1h1h1h1h1h1h1h1h1h5h1h2h1h2h2h1h1h4h1h3h1h1h2h1h6h2h1h3h1h1h4h1h4h2h3h8h1h5h5h1h12h1h5h1h2m-238 2h14h20h5h18h4h5h3h5h2h5h1h7h1h1h1h1h2h1h2h3h1h1h2h1h1h1h1h1h1h1h1h1h1h1h1h2h1h2h2h1h1h1h2h1h1h1h1h1h1h1h2h4h2h1h1h1h3h1h2h3h1h1h3h2h1h3h3h2h2h1h1h3h7h4h2h3h5h1h13h1h12h6h5m-282 2h25h3h5h17h5h8h1h6h15h3h9h2h3h6h6h1h2h2h1h5h2h1h9h1h1h1h1h1h1h1h1h1h1h1h1h1h3h1h1h1h1h1h1h1h1h2h1h1h1h1h2h1h1h1h2h2h3h3h1h1h1h2h1h2h1h1h1h3h3h1h1h2h5h3h2h1h2h1h2h5h1h2h1h5h2h1h2h2h1h2h1h1h6h34h8h58m-320 2h6h9h9h18h10h16h4h7h2h2h2h1h2h3h4h2h2h4h4h1h5h2h1h2h3h1h1h2h1h2h1h1h2h1h1h1h2h1h2h2h1h3h1h1h1h1h1h3h2h3h1h2h1h1h5h2h5h2h1h5h1h4h3h2h1h5h1h1h15h88m-336 2h4h25h4h9h18h8h6h1h3h2h2h11h1h1h6h1h9h1h3h1h5h6h1h1h4h1h1h2h4h2h1h1h2h1h1h2h1h1h3h1h1h1h2h1h1h1h2h1h1h3h2h1h1h1h1h1h1h4h1h4h2h1h2h4h2h5h2h3h2h3h1h9h5h3h6h7h1h6h6h2h8h12h1h29h34h104m-448 2h16h17h3h11h1h14h5h13h1h15h1h4h1h8h1h1h3h3h1h2h5h1h2h1h1h1h1h1h4h2h1h1h1h3h1h2h1h2h2h1h3h1h1h1h1h1h1h1h1h2h2h1h1h1h1h1h2h1h1h1h1h1h4h1h1h3h9h1h3h2h2h3h7h3h1h6h1h5h8h23h4h2m-192 2h1h8h7h14h12h1h1h1h3h1h1h1h1h3h1h1h1h2h1h1h2h1h2h1h1h1h1h1h2h1h1h1h1h2h1h1h4h1h2h1h1h1h1h1h1h1h2h2h1h1h1h1h1h10h2h3h4h1h1h1h1h3h2h1h1h1h7h8h9h2h2h5h7h40h27m-276 2h25h3h15h3h3h1h2h1h1h1h4h2h6h1h3h1h2h1h1h3h1h2h2h1h1h1h1h1h1h1h2h1h1h2h4h2h1h3h1h1h2h1h1h1h2h2h1h2h3h2h1h3h2h1h4h2h1h2h1h1h1h4h3h3h1h2h3h8h1h1h1h6h6h1h6h2h3h2h13h3m-250 2h9h25h14h3h3h12h1h21h2h6h1h3h6h1h2h2h1h2h4h1h1h2h3h2h3h2h1h1h2h4h1h2h2h1h2h1h1h3h1h1h1h1h1h1h1h3h1h3h1h3h1h1h1h5h3h1h1h4h1h1h2h1h2h2h3h1h1h5h4h2h1h2h6h3h3h5h7h5h6h123m-371 2h3h3h12h4h5h14h2h22h8h5h1h1h3h4h5h1h2h1h1h1h1h1h1h1h2h1h1h2h1h4h1h2h1h3h5h2h1h1h2h1h1h1h1h3h1h1h1h1h2h1h1h1h2h1h1h1h1h2h1h1h3h4h1h1h1h1h2h1h2h1h1h1h1h2h1h2h1h2h2h1h2h3h1h10h5h1h2h4h1h1h25h45m-278 2h25h8h8h7h7h12h5h4h1h1h3h1h6h1h1h2h1h2h2h1h2h1h1h1h2h1h2h2h1h2h1h1h1h4h1h1h1h1h2h2h1h1h1h2h1h4h1h2h1h1h2h1h1h1h1h1h4h3h1h2h3h5h1h4h3h6h1h1h3h8h12h2h8h17h1h14m-258 2h19h1h13h5h17h6h14h9h1h4h1h2h2h1h2h2h1h1h2h1h2h1h2h2h1h5h1h2h1h4h1h3h1h1h1h2h1h1h2h1h1h2h1h2h2h2h1h4h2h1h1h1h2h1h4h1h3h8h3h1h1h1h1h2h2h4h1h1h1h4h1h3h3h2h3h3h4h6h12h2h21m-246 2h32h19h7h1h1h5h1h3h3h1h2h3h4h4h2h1h2h5h1h1h3h1h1h1h1h1h1h1h1h2h1h2h1h1h4h1h1h1h1h1h1h1h2h2h1h1h2h2h1h1h1h2h3h1h2h4h2h7h3h2h2h2h2h1h1h6h3h1h1h2h1h2h1h1h1h4h4h11h3h4h10h11m-258 2h28h33h2h8h1h6h2h2h4h4h1h2h4h3h2h1h2h6h1h1h1h3h1h1h1h1h3h1h1h3h1h3h2h1h1h1h1h2h2h2h1h1h1h1h4h2h1h4h3h2h1h1h5h1h1h3h1h1h2h1h3h7h4h1h1h2h1h1h1h3h5h6h2h2h1h13h5h27m-265 2h15h6h11h7h17h16h7h1h7h2h5h1h2h1h1h3h3h1h1h1h1h1h1h1h2h1h3h2h1h1h3h4h2h2h4h1h2h2h2h1h2h1h1h1h4h1h2h3h4h2h4h1h2h1h4h1h1h3h8h3h1h2h4h1h2h8h11h4h1h4h25h6h1m-239 2h3h14h1h2h8h1h2h3h1h9h2h1h2h3h3h1h2h2h4h2h1h2h10h1h3h1h1h2h3h3h1h1h2h4h3h2h2h1h1h3h2h2h1h1h1h1h1h1h4h3h6h1h3h3h2h1h1h2h1h1h3h1h13h1h1h2h1h21h2h4h2h21m-253 2h8h20h2h3h4h11h4h9h1h2h7h1h6h3h2h2h7h5h8h1h1h1h1h1h4h1h2h1h1h3h1h1h1h3h1h1h1h1h3h1h1h2h2h1h1h1h1h5h1h2h1h3h2h4h4h1h3h2h1h2h1h2h1h6h2h2h3h3h1h2h9h14h10h9h1h17m-255 2h34h19h5h9h2h4h4h6h3h6h1h1h4h1h10h1h4h1h2h4h1h1h2h1h2h2h1h3h1h1h3h1h2h4h1h3h1h2h1h2h1h4h1h1h1h5h7h1h1h2h5h1h1h1h1h14h7h2h3h4h3h29m-225 2h11h25h6h2h5h1h2h2h3h2h12h1h1h2h1h1h4h1h2h1h1h1h6h1h2h5h1h1h2h4h1h3h1h1h2h1h3h1h1h3h3h1h1h2h1h1h3h1h3h2h1h1h1h1h3h1h8h2h2h8h9h2h8h184m-383 2h2h7h16h10h1h3h4h8h1h9h1h7h3h2h2h1h2h1h2h1h8h2h5h4h1h1h3h1h1h1h1h2h1h1h1h6h7h3h2h1h2h3h4h2h1h1h1h1h2h2h3h1h5h2h2h4h2h1h3h11h6h9h3h44h31m-296 2h13h14h16h2h1h6h7h6h2h1h1h1h3h1h10h2h1h2h1h2h2h1h3h2h2h3h2h1h7h3h1h1h1h6h2h4h2h1h1h6h4h2h2h2h1h1h2h1h2h3h2h1h1h5h5h1h4h1h3h5h11h1h2h18h20m-230 2h19h9h14h4h6h5h3h1h2h3h1h1h1h2h3h3h1h5h1h1h5h2h3h2h1h1h1h2h4h1h1h2h1h1h1h1h2h2h1h2h2h1h2h8h1h6h1h1h1h3h5h2h1h4h1h1h2h6h1h8h1h4h4h1h5h9h3m-226 2h8h18h7h6h12h7h4h7h4h1h4h11h1h3h1h2h3h1h4h3h2h2h2h2h1h3h1h2h1h2h2h2h1h2h4h2h1h1h1h1h3h2h2h1h1h3h1h1h5h1h1h3h5h3h2h4h1h5h1h2h7h1h5h17h13h4m-235 2h4h2h4h2h27h13h7h1h4h2h8h4h5h8h1h1h2h1h7h1h10h1h1h3h5h2h2h1h2h3h6h3h1h5h10h5h4h1h8h1h2h4h14h2h5h19h36h160m-406 2h8h2h22h9h7h11h2h7h1h5h3h2h1h5h1h2h4h1h2h1h3h1h4h1h1h2h1h1h4h3h3h3h5h1h1h10h5h6h3h2h1h1h8h10h24h13h2h16h78h34m-357 2h21h16h16h9h1h2h5h1h8h4h3h1h5h1h1h2h1h4h3h1h2h3h1h1h3h1h1h2h1h4h3h1h2h2h3h2h6h1h7h1h2h15h2h3h11h3h1h4h37h9h9m-231 2h6h15h3h16h16h6h11h3h2h2h1h4h5h3h3h5h2h4h1h3h5h5h4h1h1h2h16h3h1h11h4h64m-242 2h17h15h1h10h4h7h16h3h10h3h3h3h4h4h2h3h4h1h5h3h2h14h1h3h1h10h2h4h1h1h1h9h3h2h2h1h1h5h9h6h2m-197 2h18h13h1h4h2h18h10h6h5h3h12h2h1h5h1h2h2h4h7h3h10h1h4h5h4h3h1h5h9h1h1h5h17h27h1m-214 2h14h3h24h4h18h3h9h1h1h1h3h2h4h2h3h4h6h1h6h2h2h4h1h2h2h3h7h5h2h3h3h2h21h1h1h8h6m-162 2h1h1h3h9h5h8h6h16h7h2h7h1h2h5h3h6h2h2h4h1h1h1h1h2h1h1h1h9h10h2h2h7h6h2h2h1h1h3h1h7h3h12h5h2h2h2h4m-191 2h3h21h23h2h5h1h1h1h2h1h5h4h3h3h6h1h3h2h1h5h1h2h3h5h2h12h4h5h9h3h2h2h5h1h23h7h3h11m-191 2h26h5h4h2h8h4h6h11h2h7h1h3h2h1h1h2h1h6h2h3h2h1h2h3h5h2h1h2h1h6h1h2h1h5h7h3h10h5h3h6h2h3h1m-188 2h3h30h5h4h4h4h12h6h2h6h11h5h2h4h3h3h2h2h1h3h4h3h9h24h3h2h15h20h5m-164 2h6h1h9h8h8h3h4h7h1h9h10h4h1h3h1h9h2h1h2h2h1h2h1h2h9h1h1h4h1h2h13h1h2h2h1h4h6h1h23h2h9m-213 2h1h4h6h16h20h1h3h18h11h2h8h7h1h2h5h6h9h6h3h2h1h11h3h3h5h4h21h14m-200 2h7h8h17h12h14h4h1h3h7h3h8h10h3h2h5h1h5h1h2h7h7h2h15h2h2h6h1h9h4h18h14h4h131m-296 2h8h3h1h6h10h8h7h4h1h6h2h1h4h1h2h9h2h5h2h1h4h4h10h4h3h6h2h3h11h14h7h7m-166 2h12h10h10h4h11h3h7h10h1h2h1h1h4h2h2h4h2h2h3h6h6h10h20h7h43h172m-359 2h9h6h5h6h3h20h7h4h3h12h7h2h6h1h14h6h2h1h2h2h34h8h8h10m-194 2h36h18h4h1h2h4h5h2h6h2h7h1h1h2h2h1h1h2h4h4h9h8h13h6h20h5h31m-186 2h5h15h7h6h4h9h1h4h2h12h8h9h6h13h17h61m-166 2h42h11h30h3h4h4h3h19h1h4h6h5m-167 2h29h14h13h1h9h4h1h3h18h10h10h5h7h1h1h25h8h31m-178 2h10h41h8h7h3h5h3h4h3h2h2h18h1h15h9m-137 2h54h18h4h8h8h6h7h8h13h7h13h9h31m-177 2h7h10h17h20h4h11h4h10h9h7h1h6h30m-134 2h8h16h38h4h6h1h8h11h14h7h9h33m-133 2h1h8h7h17h1h3h11h5h13h4h1h7h7m-117 2h13h14h1h10h13h9h3h3h6h10h8h5h1h13h6h3h8h9h7h31m-167 2h39h4h20h1h16h13h4h13h47m-164 2h5h8h8h3h20h18h11h58m-99 2h3h1h33h12h4h7h4h8h2h8h3h1h45m-150 2h4h4h2h12h5h15h23h2h21h19m-126 2h7h1h7h5h2h2h1h7h1h2h6h8h11h6h1h4h2h2h10h7h1h1h1h1h4h2h2h1h8h6h2h2h14h1h3h1h17"/>
<rect x="1.5" y="189.42" width="62.52" height="40.58" fill="#fff" opacity=".86"/>
<rect x="0" y="0" width="363.5" height="231" fill="none" stroke="#333" stroke-width="1.7"/>
<path d="M0 0V231H363.5" style="stroke:#000" stroke-width="2.4"/>
<path d="M155.5 0V231" style="stroke:#000" stroke-width="2.6"/><path d="M0 128.5H363.5" style="stroke:#000" stroke-width="1.8"/>
<path d="M2 230.4H170.84" style="stroke:#e80000" stroke-width="1.5" opacity=".75"/>
<path d="M-10.5 231H0M0 231v7.5M-10.5 178.45H0M81.42 231v7.5M-10.5 125.89H0M162.85 231v7.5M-10.5 73.34H0M244.27 231v7.5M-10.5 20.79H0M325.7 231v7.5" style="stroke:#000" stroke-width="2"/>
<path d="M-5 215.18H0M24.51 231v4.5M-5 205.93H0M38.85 231v4.5M-5 199.36H0M49.02 231v4.5M-6.5 194.27H0M56.91 231v5.5M-5 190.11H0M63.36 231v4.5M-5 186.59H0M68.81 231v4.5M-5 183.54H0M73.53 231v4.5M-5 180.85H0M77.7 231v4.5M-5 162.63H0M105.94 231v4.5M-5 153.37H0M120.27 231v4.5M-5 146.81H0M130.45 231v4.5M-6.5 141.71H0M138.34 231v5.5M-5 137.55H0M144.78 231v4.5M-5 134.04H0M150.24 231v4.5M-5 130.99H0M154.96 231v4.5M-5 128.3H0M159.12 231v4.5M-5 110.08H0M187.36 231v4.5M-5 100.82H0M201.7 231v4.5M-5 94.26H0M211.87 231v4.5M-6.5 89.16H0M219.76 231v5.5M-5 85H0M226.21 231v4.5M-5 81.48H0M231.66 231v4.5M-5 78.44H0M236.38 231v4.5M-5 75.75H0M240.55 231v4.5M-5 57.52H0M268.78 231v4.5M-5 48.27H0M283.12 231v4.5M-5 41.7H0M293.29 231v4.5M-6.5 36.61H0M301.18 231v5.5M-5 32.45H0M307.63 231v4.5M-5 28.93H0M313.08 231v4.5M-5 25.88H0M317.81 231v4.5M-5 23.19H0M321.97 231v4.5M-5 4.97H0M350.21 231v4.5" style="stroke:#222" stroke-width="1.1"/>
<text class="b" x="-38.2" y="234" font-size="19">10</text>
<text class="b" transform="translate(-19.3 223.4) scale(1.05 1)" font-size="11">1</text>
<text class="b" transform="translate(-11.1 259.8) scale(0.97 1)" font-size="20.5">10</text>
<text class="b" transform="translate(9.5 250) scale(1.05 1)" font-size="11">1</text>
<text class="b" x="-38.2" y="189.95" font-size="19">10</text>
<text class="b" transform="translate(-19.3 179.35) scale(1.05 1)" font-size="11">2</text>
<text class="b" transform="translate(64.12 259.8) scale(0.97 1)" font-size="20.5">10</text>
<text class="b" transform="translate(84.72 250) scale(1.05 1)" font-size="11">2</text>
<text class="b" x="-38.2" y="137.69" font-size="19">10</text>
<text class="b" transform="translate(-19.3 127.09) scale(1.05 1)" font-size="11">3</text>
<text class="b" transform="translate(145.55 259.8) scale(0.97 1)" font-size="20.5">10</text>
<text class="b" transform="translate(166.15 250) scale(1.05 1)" font-size="11">3</text>
<text class="b" x="-38.2" y="83.84" font-size="19">10</text>
<text class="b" transform="translate(-19.3 73.24) scale(1.05 1)" font-size="11">4</text>
<text class="b" transform="translate(226.97 261.1) scale(0.97 1)" font-size="20.5">10</text>
<text class="b" transform="translate(247.57 251.3) scale(1.05 1)" font-size="11">4</text>
<text class="b" x="-38.2" y="28.89" font-size="19">10</text>
<text class="b" transform="translate(-19.3 18.29) scale(1.05 1)" font-size="11">5</text>
<text class="b" transform="translate(308.4 262.4) scale(0.97 1)" font-size="20.5">10</text>
<text class="b" transform="translate(329 252.6) scale(1.05 1)" font-size="11">5</text>
<text class="b" transform="translate(6.11 30.26) scale(1.7 1)" font-size="19.95">0.89</text>
<text class="b" transform="translate(6.11 215.75) scale(1.7 1)" font-size="19.95">95.9</text>
<text class="b" transform="translate(264.99 30.95) scale(1.7 1)" font-size="19.95">2.35</text>
<text class="b" transform="translate(264.99 216.45) scale(1.7 1)" font-size="19.95">0.84</text>
</g>
<g transform="translate(616 658)">
<ellipse cx="101.25" cy="179.9" rx="21" ry="17" fill="url(#rb)" transform="rotate(-30 101.25 179.9)"/>
<ellipse cx="207.48" cy="108.37" rx="38" ry="11" fill="url(#rb)" opacity="0.3"/>
<path class="dt" transform="scale(.5)" d="M507 128h68m-93 2h0m-35 6h2h55h49m-92 2h22h34m-80 2h23h24m-53 2h28h34m-104 2h46h54h17m-140 2h95h14h4h43h1m-36 2h72m-121 2h22h31m-170 2h111h48h25h22h6h3m-140 2h28h3h30h2h5h26h16h8h24h7m-101 2h24h15h57m-132 2h43h7h30h23h10h36m-154 2h21h24h5h9h4h13h9h5h7h11h2h80m-163 2h4h8h2h1h12h5h3h4h1h13h5h6h5h2h8h15h26m-185 2h12h20h4h6h4h18h26h1h5h5h5h18h105m-217 2h22h21h10h13h4h19h5h7h11h30h7h101m-274 2h48h12h5h14h15h4h9h3h2h2h17h8h19h22h13h1h4h17m-195 2h40h4h7h4h11h10h7h5h11h17h8h4h6h21h23h5h29m-237 2h21h41h3h7h7h9h7h21h1h1h17h1h2h19h11h18h8h4m-245 2h106h25h6h2h8h2h10h9h5h7h3h1h21h38m-305 2h15h3h58h20h13h18h4h6h2h8h2h5h7h4h9h2h1h1h7h1h4h1h10h2h3h2h1h14h1h5h2h7h10h13h12h4h10h29m-268 2h21h47h11h3h3h22h7h10h1h3h2h5h9h6h4h7h6h1h7h1h22h10h4h7h15h2h23m-256 2h56h15h19h16h12h7h13h4h2h7h4h10h5h3h3h1h9h3h16h28h4h13m-304 2h10h121h16h3h10h7h1h3h5h6h9h13h21h5h9h2h26m-152 2h8h7h15h2h12h13h3h1h2h3h1h6h8h6h4h12h14h2h5h3h12h22h13m-294 2h68h13h30h7h1h12h15h12h25h3h1h8h6h6h1h5h9h5h4h7h38h64m-382 2h94h41h6h25h5h36h22h1h1h2h1h3h5h2h2h1h5h1h1h1h5h1h8h2h5h2h10h2h1h1h3h3h1h3h2h26h70m-323 2h44h1h12h31h11h5h2h3h2h5h6h2h5h2h8h2h5h5h5h4h3h1h5h3h3h5h1h1h3h1h5h3h9h3h1h2h3h24h3h26m-345 2h53h18h18h8h41h42h7h16h5h11h4h23h3h3h2h1h5h5h1h4h7h1h5h3h1h21m-259 2h35h24h29h21h1h11h1h2h2h2h14h2h9h6h10h5h3h2h14h8h4h3h6h3h7h2h8h3h8h9h2h2h15h3h33h33m-275 2h18h4h17h6h4h5h9h3h1h4h25h1h6h3h1h8h2h3h2h5h1h2h2h5h6h25h2h3h1h5h1m-260 2h107h1h12h11h10h3h3h4h5h10h2h10h3h5h8h1h13h1h9h5h9h2h12h9h1m-166 2h25h14h10h4h15h9h1h1h5h9h1h12h9h2h4h3h6h10h2h16h19h16h83m-356 2h95h11h9h5h24h1h2h4h16h2h8h1h2h11h3h10h1h1h3h2h3h9h3h3h15h9h12m-236 2h17h29h35h13h2h4h1h10h3h1h4h16h27h1h4h5h4h14h1h2h2h1h1h5h14h2h17h10h25m-320 2h34h15h2h4h14h6h7h7h34h4h8h8h11h16h1h1h11h9h7h1h1h5h24h1h3h16h9m-283 2h83h8h3h1h3h13h19h29h20h4h1h5h5h11h3h2h8h5h3h1h7h9h1h6h1h35h6h5h9m-284 2h12h54h8h30h4h8h11h3h3h3h9h3h1h8h8h3h5h17h1h14h16h4h6h1h5h4h24h3m-289 2h45h32h16h9h11h34h5h5h10h10h3h2h2h9h7h5h9h11h1h2h11h8h4h10h1h1h6h7h7h74m-319 2h28h11h7h14h7h10h4h3h7h3h2h3h9h2h1h2h2h5h10h1h2h24h4h2h6h2h1h2h3h9h2h4h1h8h2h3h1h4h3h2h1h9h3h2h14h14h1m-273 2h2h17h4h9h4h4h12h6h4h2h10h3h6h2h2h5h10h2h1h5h9h3h7h4h1h6h4h2h4h6h1h1h4h1h2h1h1h2h1h1h4h1h1h1h3h2h5h3h2h1h3h5h4h1h2h2h1h10h3h1h1h19h3h2h7h4h6h1h1h3h6h11m-286 2h15h10h1h4h6h1h1h3h14h16h13h10h3h1h11h4h1h6h13h5h1h1h1h1h2h4h1h1h2h1h3h1h2h2h2h3h1h1h2h3h1h6h8h3h1h1h1h2h2h1h3h1h1h2h3h3h1h4h4h10h5h9h3h1h2h5h4h3h27m-278 2h1h14h9h1h6h6h5h2h2h2h11h8h1h4h1h9h1h4h1h4h5h3h3h9h1h4h2h1h3h6h1h1h2h1h1h2h1h1h5h3h1h1h1h2h2h2h6h1h1h1h4h5h1h2h4h3h1h1h3h3h1h2h1h3h1h2h1h2h3h2h5h4h2h2h4h1h12h21h3h1h13h35m-309 2h3h11h5h4h4h7h2h4h2h14h8h2h4h9h2h5h2h4h11h3h3h4h2h4h3h5h3h1h2h1h2h7h1h8h2h4h1h1h2h1h2h1h2h1h1h1h3h1h4h1h6h6h2h1h2h4h2h1h7h1h6h1h6h3h13h7h4h9h8m-310 2h32h10h17h6h6h3h23h9h1h5h11h2h8h1h8h1h2h1h22h2h5h3h1h1h1h7h3h3h2h2h5h8h2h1h5h5h8h6h2h5h1h9h1h1h9h13h17h2h10h4h26h20m-315 2h9h10h4h4h2h11h15h29h3h1h3h4h1h6h9h11h4h6h4h3h5h3h2h8h2h5h3h1h2h3h2h6h3h5h1h4h2h4h13h17h32h17m-309 2h22h22h9h3h22h27h9h5h14h6h5h3h2h13h8h7h1h5h8h7h6h3h1h2h10h5h1h63m-256 2h52h20h4h6h5h13h4h7h2h4h1h7h22h24h8m-193 2h76h9h1h4h10h12h9h3h3h17h1h3h7h45h129m-298 2h51h35h35h2h1m-152 2h35h43h20h11h1h16h7h17h1h13h16h70m-191 2h1h10h17h12h17h31m-189 2h62h18h24h47h3h2h11h3h30h84m-221 2h47h26h8h27h51m-183 2h113h24h31m-171 2h44h27h107m-175 2h3h75h26h16h31h50m-132 2h1h8h17h24h24h2h39h12m-269 2h108h28h8h25h3h5h17h3h7h2h7h65h13h16h5h55m-391 2h146h6h32h11h15h4h10h8h1h3h5h19m-90 2h2h19h8h1h7h1h70h1h22h3h17h32m-215 2h34h12h1h16h11h11h10h14h4h13m-113 2h49h8h4h4h6h7h9h6h14h9h3h17h19h9m-145 2h34h13h2h4h1h1h2h1h15h8h26h6m-169 2h39h29h8h1h8h14h5h17h1h4h8h1h1h5h7h11h31h17m-227 2h54h37h4h10h2h6h1h2h8h72h29h65m-240 2h2h9h19h6h11h4h12h3h26h2h1h2h6h15h20h36h12h1m-189 2h1h9h1h15h5h8h22h8h2h16h21h6h16h15h5h21h16h15h16m-260 2h41h8h29h3h19h9h1h3h15h3h20h5h1h28h6h22h64m-281 2h48h25h3h13h10h11h9h2h12h7h2h3h27h12h30h34m-221 2h7h2h15h6h8h3h29h4h7h4h8h20h7h19h17h4h10h19h67m-291 2h14h16h15h12h14h1h6h2h7h8h13h10h8h21h4h1h20h44h7m-254 2h43h10h10h1h10h12h6h8h6h1h9h14h8h20h2h17h24h19h5h2h33m-161 2h8h10h23h3h6h8h34h8h2h29h12m-195 2h25h23h7h9h7h23h4h8h3h5h14h6h25h4h1h15h1h22h14h29h9m-246 2h37h10h1h3h4h2h20h1h3h13h5h3h9h7h32h13m-208 2h45h21h6h4h4h2h21h11h8h3h5h6h5h13h7h11h13h43h21m-267 2h13h60h10h11h8h6h1h21h10h5h63h3h22h1h43m-290 2h41h53h18h11h16h14h5h1h1h6h38h27h10h6h68h55m-366 2h21h53h2h17h22h1h2h13h3h21h17h11h21h4h5h3h52h22m-303 2h44h11h16h14h2h8h13h4h4h1h1h1h4h5h3h9h3h1h10h9h14h1h3h5h13h19h7h59h9m-237 2h13h11h5h8h2h1h4h8h6h2h2h7h2h10h5h4h4h8h4h4h1h3h16h7h5h7h30h54m-272 2h10h5h18h14h1h3h14h61h10h12h12h4h2h8h10h12h3h15h18h6h7h7h23m-250 2h35h8h1h9h1h5h13h12h5h26h14h9h5h2h11h10h22h16h36m-259 2h26h15h4h11h4h3h6h14h1h1h3h15h3h27h1h7h14h14h6h5h3h5h5h5h121h34m-375 2h33h5h6h11h2h11h9h12h2h5h1h1h6h8h5h2h1h6h30h5h4h15h4h7h3h5h2h8h3h28h3h2m-230 2h39h1h8h33h4h3h1h2h11h4h4h1h4h7h3h1h9h7h2h7h8h6h12h54h12h112m-310 2h8h12h26h3h17h3h1h1h1h6h8h3h11h1h10h1h6h20h31h3h6h7h37h96m-430 2h34h40h16h7h3h10h1h4h1h9h2h10h7h3h1h3h2h4h11h2h4h14h2h10h6h5h12h18h7h7h1h38h11h22h55h5m-323 2h8h22h23h10h1h15h6h1h4h2h1h3h8h4h3h7h1h8h2h3h1h29h2h6h7h4h11h30h10m-238 2h32h3h14h3h9h6h2h1h4h10h2h3h12h2h1h3h18h1h6h3h2h19h1h5h6h2h7h30h27m-233 2h24h1h17h10h6h10h4h4h2h1h1h2h10h4h4h8h2h1h2h1h7h12h6h51h4h26h10h8h44h61m-356 2h19h9h13h19h4h14h5h2h1h1h6h2h3h1h2h1h1h4h4h8h3h11h4h14h17h5h1h6h21h29h69m-276 2h16h5h1h1h4h13h13h6h1h2h3h5h8h5h3h3h5h3h6h7h14h1h8h12h2h6h1h2h2h5h11h3h4h12h15h12h36m-326 2h66h4h7h7h8h9h7h1h4h5h8h3h4h1h1h19h1h3h3h1h2h11h3h5h1h4h1h7h2h1h14h7h2h10h2h1h17h11h6h1h79m-448 2h132h31h39h6h3h1h3h8h15h1h1h2h2h2h4h3h1h4h1h4h2h2h10h1h2h7h11h4h7h2h2h1h13h8h15h7h2h3h12h58h10h3h52m-327 2h6h1h13h1h15h2h16h1h2h4h1h1h14h2h1h1h4h5h7h5h9h3h1h4h2h1h9h4h3h3h4h4h5h1h10h14h3h11h85m-390 2h112h11h6h7h1h13h1h1h1h1h1h2h1h1h6h1h1h4h1h10h2h4h1h4h8h4h8h10h7h11h27h1h20h11h7h8h55h8m-316 2h45h10h13h5h8h5h1h3h3h5h4h1h6h3h2h1h4h5h1h4h1h6h2h2h8h3h1h6h2h1h4h1h5h5h6h2h3h6h9h40h18h62h41m-366 2h18h14h31h1h1h3h1h2h3h1h5h9h6h2h3h2h2h1h4h4h4h2h1h6h3h2h2h3h5h1h1h1h1h4h3h1h1h6h2h5h7h2h12h1h6h12h64h5h26h43h25m-439 2h73h3h1h29h2h7h10h2h1h2h13h2h12h2h4h1h2h1h1h4h1h1h1h1h8h5h9h1h6h1h3h5h1h1h1h3h6h5h5h4h2h3h4h10h14h10h2h1h9h4h5h5h1h6h6h52h36h14m-430 2h49h58h14h9h1h8h5h2h1h2h4h2h1h2h4h3h2h1h2h4h5h2h1h3h1h4h8h1h1h1h1h1h2h1h5h3h3h2h1h2h3h2h9h1h4h6h11h4h13h2h23h24h68m-380 2h6h88h12h4h26h2h11h3h2h1h1h1h1h1h1h3h3h3h1h5h1h3h3h1h1h3h1h1h5h8h1h3h8h1h4h2h8h3h2h2h4h1h1h10h4h3h3h32h8h9h50m-377 2h46h14h20h25h2h2h8h1h7h8h1h6h6h5h1h10h2h3h3h1h3h1h2h3h2h2h4h1h1h1h1h10h2h4h11h1h7h6h1h2h1h2h2h14h8h7h4h5h14h3h10h15h14h49m-309 2h49h5h9h3h1h1h2h1h5h4h3h1h1h2h1h3h1h1h2h1h2h4h5h4h2h2h2h1h1h3h1h1h2h4h1h4h6h1h2h6h8h1h5h1h2h5h4h1h4h4h4h9h2h5h1h6h1h7h19h11h12h33h6h87m-448 2h74h10h5h7h6h7h6h2h1h7h3h1h2h1h2h1h4h1h1h1h4h4h3h2h1h1h1h2h3h1h1h1h1h3h4h2h2h3h1h1h2h3h1h2h5h1h3h1h2h2h1h10h2h3h3h1h5h7h6h11h11h3h8h4h2h8h1h15h9h24h2h4h9h42h3h98m-451 2h11h27h31h11h3h3h2h1h7h1h4h1h1h5h1h8h2h2h1h3h2h2h1h3h2h1h2h1h4h3h2h1h2h1h5h3h1h3h2h12h2h1h1h6h2h5h3h19h5h8h1h3h16h10h16h19h12m-394 2h91h38h9h2h8h3h2h3h5h3h2h1h6h4h1h1h3h3h1h6h6h2h2h1h2h2h2h4h1h3h5h3h1h1h2h1h1h4h1h1h3h1h3h4h3h1h3h3h2h5h16h3h3h3h8h5h2h31h10h27h157m-540 2h52h43h4h9h30h1h2h10h1h1h3h2h3h5h2h1h3h2h1h1h1h1h2h1h5h1h2h1h2h3h1h1h2h2h1h1h1h1h1h1h1h2h2h5h1h1h1h1h1h1h3h2h2h2h3h2h2h1h3h1h3h10h7h5h1h2h2h8h2h1h16h2h14h9h1h19h3h37h48m-403 2h39h5h26h9h18h4h3h12h6h7h1h1h4h2h3h3h1h2h1h2h3h3h12h2h2h1h2h1h1h1h1h2h1h1h1h1h3h3h4h1h3h1h6h1h7h5h2h8h3h5h6h1h4h1h17h3h10h27h13h5h3h35h1h19h7h15m-385 2h71h3h4h12h5h14h5h2h8h9h1h1h2h2h1h1h4h2h1h1h2h1h3h3h2h1h1h1h1h2h1h1h7h6h1h1h2h1h1h5h2h5h1h4h3h3h5h1h1h1h2h6h7h3h3h1h1h1h9h18h5h22h3h7m-315 2h8h28h8h2h14h1h6h16h1h7h13h8h1h4h5h6h1h1h1h1h2h1h2h3h1h3h2h2h2h1h1h1h1h1h1h2h1h1h1h2h1h2h1h1h1h1h1h1h1h3h4h3h6h2h2h1h1h1h1h5h1h1h1h2h1h1h4h2h3h2h1h2h2h8h3h18h17h7h2h8h6h8h36h6h43m-342 2h15h23h13h2h6h1h2h6h2h1h3h10h3h2h3h1h1h2h1h1h1h2h4h1h1h2h5h1h6h1h3h2h1h2h1h1h1h8h1h4h2h1h1h1h1h4h1h2h5h1h1h2h1h4h2h2h1h2h2h4h1h1h1h5h4h8h6h4h7h12h3h26h3h9h3h43h16m-373 2h1h43h2h36h2h11h2h2h2h4h2h2h3h2h3h1h3h1h2h1h2h1h1h1h1h2h1h5h1h1h1h3h4h1h1h2h2h1h2h2h1h1h1h2h2h1h2h3h1h6h5h6h7h3h1h3h3h2h5h4h5h9h1h4h11h7h18h1h20h21h6m-374 2h33h15h6h23h3h18h14h18h4h5h4h1h6h2h3h5h11h1h2h3h1h3h2h1h1h1h1h1h2h2h1h1h2h1h1h1h2h6h2h3h4h2h1h2h2h1h6h1h5h7h4h2h3h1h4h2h1h2h8h1h22h5h5h15h41h42m-373 2h29h13h47h6h11h8h10h4h8h3h1h2h3h1h3h8h2h1h1h1h4h3h3h1h4h5h2h1h3h3h3h1h6h1h2h4h1h1h3h3h3h11h1h5h4h4h2h49h2h3h7h1h92h93m-490 2h12h11h9h17h21h35h2h3h3h1h3h1h1h16h1h1h4h2h8h3h2h2h2h5h1h1h4h2h1h1h5h2h3h4h1h1h1h1h3h1h5h2h6h5h1h1h5h1h6h3h4h9h10h3h3h5h5h6h2h4h2h1h2h7h56h81h58m-462 2h6h22h20h5h13h11h1h6h4h6h5h4h2h5h2h1h3h1h1h1h4h1h1h3h1h2h3h3h1h2h1h1h1h1h1h1h1h3h1h1h2h3h1h1h4h1h2h1h1h4h1h2h2h1h2h1h5h3h8h3h5h1h9h3h3h4h11h7h13h7h7h8h5h17h31h51m-411 2h32h34h17h2h6h1h8h1h1h3h1h13h8h5h2h1h1h1h3h2h2h1h2h1h2h1h1h2h2h1h1h1h2h1h1h1h1h7h3h7h3h1h3h3h1h1h3h4h2h7h6h4h3h3h1h6h1h8h3h6h3h3h5h30h4h83h36m-409 2h48h20h5h7h5h3h9h8h5h4h1h6h4h2h1h1h5h3h2h1h1h1h2h5h1h2h1h1h2h1h5h3h2h4h1h2h2h2h5h1h1h1h6h2h2h1h1h1h1h1h1h1h1h3h3h1h12h12h3h1h7h17h36h33h30h22h7h37m-432 2h33h69h4h8h5h3h9h3h2h1h2h6h3h5h1h1h1h1h3h1h2h1h1h2h1h2h1h4h4h3h2h2h1h5h1h3h1h1h4h2h6h2h1h3h1h6h2h14h2h1h1h3h4h5h3h11h3h3h23h19h83m-409 2h35h16h20h10h5h5h15h1h1h4h10h7h1h1h2h2h2h12h4h1h2h6h1h2h2h1h1h3h1h3h2h2h1h4h2h2h1h2h1h4h4h1h4h3h8h1h2h3h3h5h3h3h4h1h4h5h4h19h7h67h9h35h114m-509 2h13h2h28h2h7h8h25h13h1h2h4h8h2h12h4h1h1h1h2h1h3h2h2h1h4h4h3h2h3h1h1h4h3h4h1h3h3h3h2h3h1h2h6h4h7h6h4h1h4h3h3h2h4h21h8h4h6h3h2h15h4h29h58h7h4m-372 2h11h46h11h10h2h5h6h9h2h1h2h1h1h1h3h2h1h1h7h3h4h3h1h2h4h3h2h1h4h2h1h1h2h1h3h1h11h3h3h10h8h5h1h11h10h6h7h6h10h3h16h13h15h13h18h18h5h20h1h79m-497 2h31h2h32h26h15h1h11h2h1h5h7h1h16h2h2h3h1h4h8h1h4h2h1h1h1h2h3h1h1h1h2h6h4h10h5h1h3h3h5h1h3h3h4h9h4h11h12h14h9h3h14h49h37h72m-422 2h17h34h4h14h10h1h5h1h5h11h3h4h3h2h5h4h8h2h1h2h1h1h1h3h1h1h2h2h6h3h3h3h3h6h7h2h8h4h1h1h9h1h8h10h1h4h36h32h23m-315 2h10h13h9h12h1h15h5h1h6h4h6h9h1h1h1h5h5h3h2h7h4h1h1h1h2h1h4h17h1h3h3h8h8h1h10h2h1h2h7h3h2h2h1h8h11h1h5h1h12h1h6h17h39h21m-354 2h16h25h16h13h9h2h28h1h8h1h17h1h2h3h1h2h3h2h1h4h5h5h2h1h1h11h3h1h5h2h3h1h1h12h2h1h1h9h1h2h5h1h1h6h4h1h30h1h22h39h75m-416 2h51h7h23h6h22h5h2h8h4h2h1h3h1h1h8h3h1h3h5h8h12h4h4h1h1h2h2h2h11h3h2h2h35h3h7h120h85h33m-486 2h44h15h32h14h5h2h15h3h2h2h3h1h2h5h2h5h1h2h3h3h1h2h6h2h1h6h13h3h9h1h4h1h4h5h4h7h9h4h8h15h18h10h125m-380 2h12h9h13h12h5h7h7h5h10h6h3h7h3h5h1h2h3h1h1h3h3h4h2h2h7h1h10h1h5h1h6h4h4h1h1h2h3h11h2h1h2h1h4h5h4h3h2h7h6h46h29h78h17h84m-496 2h51h23h2h6h18h2h5h2h1h3h10h5h1h1h2h3h12h4h8h8h2h7h5h6h3h6h2h5h1h16h1h5h1h2h15h4h51h8h37m-285 2h6h3h10h2h12h17h4h4h10h4h5h1h2h11h1h2h7h7h1h2h2h3h8h2h1h2h2h3h3h1h10h11h6h4h6h4h9h22h18h2h98h72m-485 2h84h11h12h2h1h13h2h16h5h1h4h10h1h5h8h1h5h1h4h3h4h1h3h4h7h5h3h19h7h4h12h8h3h24h46h49m-393 2h75h8h5h3h9h5h4h9h6h15h8h2h4h4h8h2h9h5h7h6h6h2h3h3h1h8h4h26h7h6h1h46h109h2m-421 2h1h6h8h15h5h17h31h17h23h5h2h5h4h5h11h6h1h5h3h1h1h2h1h1h4h2h5h2h1h1h2h4h2h1h2h5h5h4h3h1h9h7h2h2h6h13h13h26h46h2h22h105m-428 2h15h20h2h28h7h10h7h3h12h2h3h5h1h6h7h6h8h3h2h1h1h5h1h6h7h13h1h1h24h40h21h2h2h27h134h26m-437 2h12h13h12h1h5h8h2h14h4h1h2h6h4h2h2h3h1h1h11h10h7h3h1h1h8h3h2h2h7h2h1h7h2h20h3h1h3h25h4h4h79h44h41m-405 2h23h17h2h17h2h3h12h4h2h3h5h1h1h15h2h2h3h10h6h5h4h1h8h8h3h26h5h5h15h1h5h17h2h60h5h141m-428 2h21h21h17h6h6h11h1h3h2h4h11h3h4h2h1h6h2h7h2h2h8h3h10h15h11h12h14h55h31h130m-442 2h11h22h38h5h7h1h8h7h7h5h3h10h2h3h2h5h5h4h2h2h5h6h13h7h5h29h4h9h44h20h26h44h17h5h6h9h6m-428 2h1h61h1h8h12h7h7h7h6h8h3h11h4h20h3h19h2h5h9h3h1h3h5h3h19h42h110h22m-402 2h1h31h37h15h8h12h4h7h8h6h8h7h12h1h9h3h6h2h2h23h23h28h7h4h103h25m-309 2h33h12h11h1h3h6h4h1h1h4h1h2h1h1h1h9h1h13h3h33h126h7h43h59h35m-404 2h10h20h3h10h1h17h3h4h4h2h2h15h15h2h6h2h8h6h9h4h12h21h11h69h14m-357 2h4h5h41h14h31h6h9h13h9h5h8h21h14h3h2h7h1h38h73h5h86m-325 2h10h4h10h8h4h13h1h7h3h13h9h9h2h5h8h1h10h15h165h6h29h3h30m-452 2h84h3h13h28h4h14h1h2h5h1h1h6h9h10h29h15h5h24m-209 2h27h7h25h1h1h3h28h10h5h4h3h9h6h6h21h7h5h3h10h4h5h68h24h12h40m-351 2h9h89h3h9h4h7h27h23h16h33h111h25h36m-417 2h8h27h43h25h2h1h2h35h6h2h5h3h3h5h14h9h19h6h3h102h42h70h29m-451 2h32h5h23h39h13h14h9h3h5h33h33h4h127h36h119m-502 2h3h76h6h2h58h9h10h23h6h4h9h28h99h4h20m-325 2h46h4h1h3h42h2h3h11h8h6h27h12h4h6h205m-415 2h16h47h59h6h10h3h32h64h140m-368 2h30h28h5h48h6h2h5h20h1h13h17h141h20h57h24m-428 2h6h65h26h20h7h10h3h40h17h6h70m-270 2h72h30h6h7h3h3h21h4h50h6m-138 2h4h6h3h8h19h2h16h23h1h34h22h11m-195 2h21h21h7h21h20h10h3h28h32h26h159m-283 2h39h42h39h2m-163 2h37h9h1h10h4h1h52h4h4h36h28m-235 2h1h42h7h7h3h5h1h1h3h14h3h2h6h2h4h3h2h1h2h1h5h2h2h1h6h6h6h3h1h2h3h2h2h2h6h7h6h2h1h9h3h4h10h5h39"/>
<rect x="1.5" y="188.19" width="63.73" height="40.31" fill="#fff" opacity=".86"/>
<rect x="0" y="0" width="370.5" height="229.5" fill="none" stroke="#333" stroke-width="1.7"/>
<path d="M0 0V229.5H370.5" style="stroke:#000" stroke-width="2.4"/>
<path d="M158 0V229.5" style="stroke:#000" stroke-width="2.6"/><path d="M0 128H370.5" style="stroke:#000" stroke-width="1.8"/>
<path d="M2 228.9H174.13" style="stroke:#e80000" stroke-width="1.5" opacity=".75"/>
<path d="M-10.5 229.5H0M0 229.5v7.5M-10.5 177.29H0M82.99 229.5v7.5M-10.5 125.08H0M165.98 229.5v7.5M-10.5 72.87H0M248.98 229.5v7.5M-10.5 20.66H0M331.97 229.5v7.5" style="stroke:#000" stroke-width="2"/>
<path d="M-5 213.78H0M24.98 229.5v4.5M-5 204.59H0M39.6 229.5v4.5M-5 198.07H0M49.97 229.5v4.5M-6.5 193.01H0M58.01 229.5v5.5M-5 188.87H0M64.58 229.5v4.5M-5 185.38H0M70.14 229.5v4.5M-5 182.35H0M74.95 229.5v4.5M-5 179.68H0M79.19 229.5v4.5M-5 161.57H0M107.98 229.5v4.5M-5 152.38H0M122.59 229.5v4.5M-5 145.85H0M132.96 229.5v4.5M-6.5 140.79H0M141 229.5v5.5M-5 136.66H0M147.57 229.5v4.5M-5 133.17H0M153.13 229.5v4.5M-5 130.14H0M157.94 229.5v4.5M-5 127.47H0M162.19 229.5v4.5M-5 109.36H0M190.97 229.5v4.5M-5 100.17H0M205.58 229.5v4.5M-5 93.64H0M215.95 229.5v4.5M-6.5 88.58H0M223.99 229.5v5.5M-5 84.45H0M230.56 229.5v4.5M-5 80.95H0M236.12 229.5v4.5M-5 77.93H0M240.93 229.5v4.5M-5 75.26H0M245.18 229.5v4.5M-5 57.15H0M273.96 229.5v4.5M-5 47.96H0M288.57 229.5v4.5M-5 41.43H0M298.94 229.5v4.5M-6.5 36.37H0M306.98 229.5v5.5M-5 32.24H0M313.56 229.5v4.5M-5 28.74H0M319.11 229.5v4.5M-5 25.71H0M323.93 229.5v4.5M-5 23.04H0M328.17 229.5v4.5M-5 4.94H0M356.95 229.5v4.5" style="stroke:#222" stroke-width="1.1"/>
<text class="b" x="-38.2" y="232.5" font-size="19">10</text>
<text class="b" transform="translate(-19.3 221.9) scale(1.05 1)" font-size="11">1</text>
<text class="b" transform="translate(-11.1 258.3) scale(0.97 1)" font-size="20.5">10</text>
<text class="b" transform="translate(9.5 248.5) scale(1.05 1)" font-size="11">1</text>
<text class="b" x="-38.2" y="188.79" font-size="19">10</text>
<text class="b" transform="translate(-19.3 178.19) scale(1.05 1)" font-size="11">2</text>
<text class="b" transform="translate(65.69 258.3) scale(0.97 1)" font-size="20.5">10</text>
<text class="b" transform="translate(86.29 248.5) scale(1.05 1)" font-size="11">2</text>
<text class="b" x="-38.2" y="136.88" font-size="19">10</text>
<text class="b" transform="translate(-19.3 126.28) scale(1.05 1)" font-size="11">3</text>
<text class="b" transform="translate(148.68 258.3) scale(0.97 1)" font-size="20.5">10</text>
<text class="b" transform="translate(169.28 248.5) scale(1.05 1)" font-size="11">3</text>
<text class="b" x="-38.2" y="83.37" font-size="19">10</text>
<text class="b" transform="translate(-19.3 72.77) scale(1.05 1)" font-size="11">4</text>
<text class="b" transform="translate(231.68 259.6) scale(0.97 1)" font-size="20.5">10</text>
<text class="b" transform="translate(252.28 249.8) scale(1.05 1)" font-size="11">4</text>
<text class="b" x="-38.2" y="28.76" font-size="19">10</text>
<text class="b" transform="translate(-19.3 18.16) scale(1.05 1)" font-size="11">5</text>
<text class="b" transform="translate(314.67 260.9) scale(0.97 1)" font-size="20.5">10</text>
<text class="b" transform="translate(335.27 251.1) scale(1.05 1)" font-size="11">5</text>
<text class="b" transform="translate(6.22 30.06) scale(1.74 1)" font-size="19.82">2.65</text>
<text class="b" transform="translate(6.22 214.35) scale(1.74 1)" font-size="19.82">62.5</text>
<text class="b" transform="translate(270.09 30.75) scale(1.74 1)" font-size="19.82">24.9</text>
<text class="b" transform="translate(270.09 215.04) scale(1.74 1)" font-size="19.82">9.97</text>
</g>
<g transform="translate(162.5 943)">
<ellipse cx="82.43" cy="183.53" rx="21" ry="17" fill="url(#rb)" transform="rotate(-30 82.43 183.53)"/>
<path class="dt" transform="scale(.5)" d="M479 174h0m-69 4h0m-6 6h0m14 2h12m-76 2h53h12h10m-153 2h40h9h23m-128 2h120h51h7h1h6m-83 2h33h81h2m-69 2h20h36h3h20m-200 2h115h3h20h9h21h10h27h15h68m-361 2h53h55h21h47h4h27h29h22h1h11h6h34h15m-251 2h89h30h10h13h31h11h6h8h17h16h17m-278 2h160h11h3h3h8h4h8h25m-328 2h116h56h61h22h8h2h16h2h5h69h6h34m-338 2h89h28h78h28h13h7h1h6h7h5h3h5h15h27h28m-301 2h80h32h9h5h10h4h22h9h33h9h36h7h7h1m-256 2h44h14h19h24h12h5h18h16h4h3h2h16h14h29h10h6h28h8h29m-327 2h17h20h6h15h1h26h48h8h14h5h6h1h2h3h7h9h2h2h10h18h9h5h9h2h44h4h5h7m-355 2h63h21h104h13h10h5h3h1h28h14h74h44m-342 2h63h35h3h56h21h5h5h1h11h2h7h14h4h3h6h12h4h18h20h11h25h8m-296 2h21h42h10h15h17h11h4h4h27h1h12h3h1h1h6h13h3h1h5h17h5h7h2h22h3h5m-295 2h14h82h1h8h4h13h13h14h18h1h6h15h3h17h12h1h5h5h6h1h2h1h14h24h23h11m-330 2h17h46h16h5h45h32h3h54h3h4h3h1h9h20h3h8h1h7h5h13m-423 2h126h50h40h65h25h6h1h2h13h12h12h3h6h2h1h5h1h6h5h3h7h15h5h3h28h21m-288 2h52h18h17h3h9h31h16h1h4h3h3h6h14h20h5h9h9h3h5h19h12m-312 2h67h1h21h16h46h37h22h19h6h1h2h5h3h4h29h5h16m-343 2h21h78h4h24h16h14h22h2h13h1h8h10h16h7h1h1h15h14h8h29h31h17m-339 2h86h83h25h8h7h21h11h45h3h4h18h7h77m-450 2h84h80h9h36h57h20h1h31h3h14h8h2h14h14m-269 2h8h74h17h47h3h13h2h16h16h17h32h18m-259 2h3h2h45h77h6h22h32h2h3h33h2h12h36h23m-263 2h60h37h3h34h47h49h50m-326 2h49h41h18h38h26h13h12h24m-243 2h59h82m-111 2h2h74h50h13h29h12h4m-173 2h21h46h13h23h87h23h49m-312 2h62h31h53h16h4h32h5h20h15h30m-74 2h24h121h19m-251 2h40h60m-192 2h87h29h1h4h14h30h9h149m-342 2h124h60h145m-269 2h14h46h47h27h66m-122 2h14h157m-351 2h87h76h52m-66 2h43h43h5m-122 2h32h4h70m-77 2h3h15h25h51m-155 2h62h31h8m-40 2h4h54m-55 2h9h8h3h15h21m-111 2h21h4h29h12h11h9h6h31h13h87h4m-175 2h6h63h33m-95 2h35h15m-99 2h77h66m-159 2h58h11h10h11h4h3h15h20h17m-166 2h12h11h34h17h2h1h5h3h7h11h2h5h3h7h55h53h26m-260 2h16h18h5h16h6h27h1h29h7h11h9h1m-101 2h6h16h1h25h22h7h6h5h2h6h41h43m-275 2h54h2h44h2h8h4h4h7h14h1h1h9h11h15h24h56m-210 2h52h14h6h6h6h8h13h24h45h4m-174 2h25h11h2h10h1h3h9h17h2h2h1h2h1h4h12h3h1h6h1h29m-159 2h58h14h2h4h15h3h1h2h2h12h31h2h6h7h19h12h5h16m-194 2h11h7h28h17h5h3h6h10h25h4h1h14h2h19h43h2h105m-307 2h21h33h6h5h1h9h11h12h7h28h8h20h14m-151 2h6h1h4h13h16h5h22h4h1h10h1h1h15h12h3h6m-182 2h38h11h5h5h11h2h7h2h7h10h2h4h10h10h4h7h17h15h4h8h14h26m-201 2h30h5h5h6h2h11h15h3h4h2h7h1h10h2h2h8h4h1h1h2h6h9h29h3h7h12h51m-212 2h6h5h9h8h1h1h4h4h3h6h1h4h1h2h1h8h7h1h2h4h3h17h4h2h1h2h4h3h12h5h11h15m-201 2h1h26h11h3h1h1h1h7h3h15h1h5h2h6h4h2h1h8h3h5h7h1h13h2h3h15h2h4h2h6h1h12h8h25m-229 2h34h30h36h1h4h1h2h2h3h1h4h7h2h4h1h4h5h2h1h2h7h20h1h3h8h90m-231 2h19h10h2h2h10h2h2h2h2h2h3h1h3h18h1h1h1h1h2h2h5h4h1h1h1h1h8h1h2h7h1h2h7h6h6h8h8h5h22m-183 2h9h19h13h2h1h4h4h3h6h2h10h1h3h7h1h2h3h2h4h1h5h3h3h2h3h10h4h1h3h1h3h7h1h1h2h6h6m-265 2h80h14h30h16h20h4h5h2h9h5h15h1h2h6h5h1h3h17h2h4h7h20h18m-194 2h11h22h8h6h1h3h24h1h2h1h4h3h2h3h4h1h1h9h2h4h4h2h2h1h3h6h4h9h2h11h5h1h27h232m-542 2h85h55h9h2h7h1h1h5h2h8h4h5h3h3h1h6h4h3h8h1h1h2h7h7h5h1h2h3h6h1h2h1h18h2h10h12h4h2h5h4h9m-280 2h18h16h28h4h34h3h10h4h4h12h3h3h1h2h1h1h3h4h1h4h1h5h4h3h2h1h3h2h2h2h4h1h3h3h1h2h6h5h1h3h2h2h3h6h1h8h1h159m-339 2h21h23h16h2h7h1h2h4h5h2h3h10h3h3h2h1h1h5h2h1h1h6h1h3h1h3h3h3h2h5h5h4h4h1h10h3h1h7h2h4h1h1h5h14m-187 2h21h6h16h2h6h1h2h2h3h2h2h3h1h1h1h4h13h2h1h5h2h1h1h3h4h2h5h1h1h1h1h4h5h6h7h4h1h2h3h5h2h12h2h1h6h7h16h7m-251 2h2h14h29h43h3h1h1h4h2h6h1h3h3h1h1h1h1h5h1h5h3h2h1h3h2h2h3h2h3h2h5h4h3h1h1h4h7h3h5h8h1h8h8h9m-241 2h15h28h8h4h8h30h3h2h9h1h5h5h4h3h3h1h6h4h2h2h6h2h1h2h1h3h3h1h1h1h3h1h2h1h2h1h6h1h3h1h2h7h3h2h2h1h1h5h3h4h3h7h4h2h4h4h3h25m-267 2h15h21h12h13h9h6h6h6h13h8h5h14h2h7h4h7h1h4h2h1h1h1h2h1h1h1h1h2h1h1h1h1h1h1h4h1h8h3h3h1h2h2h2h5h3h5h1h1h8h1h6h2h12h12h9h6h7m-266 2h9h7h5h18h23h9h12h4h2h2h12h2h1h1h2h4h7h1h6h1h1h1h1h1h1h3h2h2h1h1h1h1h1h1h2h5h2h5h1h10h1h2h2h2h3h2h1h1h3h1h1h1h3h3h3h4h1h3h5h2h4h17h13h8m-306 2h44h16h2h39h3h4h3h6h1h8h8h1h1h14h1h5h2h4h2h6h5h1h1h3h2h4h4h1h1h1h2h2h2h2h2h1h2h1h1h1h4h1h2h1h1h1h1h1h2h1h1h1h1h1h2h1h1h2h3h1h4h3h4h2h4h3h4h2h7h28h7h3h13m-301 2h66h17h1h3h1h13h2h6h3h1h4h3h5h6h2h1h6h2h4h1h1h1h1h2h2h2h4h1h3h1h1h1h1h1h1h6h1h1h2h1h1h2h4h4h2h3h2h1h4h1h6h1h4h3h3h1h3h3h4h5h6h1h3h9h3h2h16m-279 2h10h11h23h5h23h12h5h11h1h4h9h5h3h7h4h3h1h1h1h1h3h1h3h3h1h2h2h2h3h1h1h1h1h1h1h2h1h4h2h3h1h2h1h1h2h1h2h1h2h1h2h3h1h1h1h7h1h2h1h3h1h2h4h4h2h2h3h5h13h1h5h7h1h7m-290 2h6h7h19h7h6h10h4h20h4h3h5h2h7h8h3h1h3h4h3h6h1h10h6h1h1h4h3h7h1h3h1h1h2h1h1h1h2h3h1h1h4h2h1h1h1h1h3h3h1h1h2h1h1h1h4h1h2h1h5h2h2h1h5h3h5h2h4h3h3h1h6h2h3h15h2h10h4m-288 2h25h4h12h1h7h29h2h4h3h12h10h3h6h2h3h7h10h2h3h3h1h1h1h9h2h1h1h4h1h1h1h1h2h1h2h2h1h3h2h1h5h1h1h1h1h1h2h1h4h1h1h1h2h1h1h1h1h1h4h1h1h1h3h1h1h2h3h1h1h1h1h2h4h4h2h6h4h7h14h39h31m-341 2h15h14h11h5h36h2h8h1h1h2h14h10h1h2h2h1h2h1h5h2h1h4h4h2h1h1h2h6h1h5h2h1h1h1h1h1h1h3h1h2h1h1h1h1h1h2h1h1h2h1h2h1h2h1h2h2h1h2h1h1h2h2h4h1h5h1h2h5h1h1h9h1h1h1h3h1h3h3h2h2h5h6h13h28h4m-315 2h17h24h1h6h9h4h19h9h2h6h1h6h8h2h7h1h4h5h13h4h1h1h1h1h2h1h1h2h2h1h1h2h1h1h2h3h4h2h1h1h3h3h2h1h2h2h1h1h2h1h1h2h3h2h3h1h4h2h4h1h1h1h3h2h2h1h2h4h4h2h2h3h2h3h2h2h7h5h8h1h8h2h14h42h38h13m-373 2h9h11h14h16h3h2h1h8h5h2h4h5h11h4h6h3h2h8h4h1h7h1h5h2h2h1h1h1h1h2h1h1h1h1h2h1h1h2h3h3h1h1h1h5h1h1h2h2h1h2h1h2h2h2h1h3h1h1h2h2h1h4h5h1h2h5h5h1h10h11h2h7h1h7h6h5h2h20h2h10h5h73m-371 2h20h13h2h9h1h13h4h1h5h2h20h6h2h4h3h8h2h1h3h1h2h1h2h2h1h1h2h1h1h1h1h1h1h1h1h1h1h3h2h2h1h4h1h1h1h2h1h1h1h4h3h1h1h1h1h2h1h1h1h2h1h1h6h1h4h4h2h1h1h1h1h1h2h1h4h2h1h4h1h7h3h6h25h4h145m-408 2h18h9h33h4h13h1h7h10h2h7h1h2h1h2h1h1h2h2h1h1h1h1h1h1h1h1h1h1h5h1h1h1h5h1h1h1h1h4h1h1h1h1h1h1h1h1h2h1h1h2h3h1h1h1h1h2h1h3h3h1h1h3h1h3h1h1h1h2h5h3h1h7h1h1h4h5h2h7h1h1h1h1h3h5h1h1h2h6h15h12h11h29m-332 2h55h1h11h3h4h14h7h3h3h1h4h2h3h3h5h1h4h6h1h1h1h1h2h1h1h1h3h1h3h2h1h1h1h1h1h1h1h3h1h1h3h2h5h2h1h1h3h2h1h3h7h1h1h1h1h2h2h4h3h1h2h6h4h3h1h11h2h1h3h1h2h2h4h6h2h6h36h32h58m-383 2h5h19h3h16h10h4h3h6h1h5h15h4h3h2h1h2h1h2h4h5h1h3h1h2h1h2h3h2h1h2h1h3h2h2h1h1h2h1h2h1h1h1h1h1h1h2h1h1h1h1h3h2h2h2h3h1h1h1h1h2h1h2h3h1h2h1h1h2h1h3h1h2h1h2h1h1h3h3h1h19h2h6h1h7h1h1h12m-253 2h17h14h25h9h9h1h10h4h1h4h5h1h2h3h5h4h1h2h2h2h2h2h1h1h6h3h3h1h1h2h1h2h2h1h2h1h1h1h2h1h1h2h1h1h1h2h6h1h1h1h3h2h1h1h1h1h1h1h1h2h3h4h1h1h1h5h4h2h1h2h3h4h5h3h9h9m-263 2h41h17h2h1h5h13h3h9h8h8h6h12h2h2h4h1h1h1h2h1h1h1h4h3h1h3h2h1h1h3h1h4h1h1h1h2h1h1h1h3h2h1h1h1h1h1h1h2h1h1h1h1h6h1h1h1h1h1h1h4h2h1h1h1h3h3h1h1h1h4h6h8h5h3h1h13h3h20h14h3h62m-345 2h3h64h19h1h7h2h5h1h1h1h1h2h1h2h1h2h4h1h1h1h2h3h2h1h3h1h1h2h1h5h1h1h1h1h2h1h1h2h1h1h2h1h1h4h1h2h2h2h3h1h1h1h1h2h1h1h3h4h1h5h1h1h7h1h3h1h2h2h1h3h1h3h1h2h1h4h2h1h4h1h5h4h2h1h1h19m-266 2h13h9h37h2h14h2h2h3h4h8h1h4h2h1h2h3h3h1h4h2h3h1h2h3h1h1h2h1h1h1h1h1h1h1h1h1h1h1h1h1h3h1h2h1h1h2h1h1h1h1h1h2h2h1h1h1h1h1h1h2h1h3h1h1h2h1h7h8h1h1h8h1h1h1h7h7h1h11h8h4h1h1h4h2h11m-273 2h49h1h3h11h25h2h4h3h1h3h1h5h1h2h2h3h3h2h1h3h2h2h3h1h2h1h2h1h2h1h2h1h1h1h1h5h1h1h1h3h1h2h1h1h1h1h1h2h2h2h1h1h1h1h1h4h1h1h1h1h3h2h2h1h1h1h2h2h1h2h2h5h4h2h8h4h8h1h22h8h4h1h23h81m-383 2h35h26h26h7h3h9h2h3h1h9h5h1h2h2h2h1h1h2h2h1h1h2h2h1h1h1h1h1h1h1h2h2h2h1h3h2h2h2h2h1h1h1h1h1h2h1h1h6h2h1h1h3h4h1h1h1h6h2h4h3h1h10h4h5h1h1h7h5h22h30h1h7m-264 2h2h11h7h1h1h6h17h8h5h3h3h1h7h1h1h2h3h4h1h2h1h2h4h2h2h4h2h2h1h1h4h1h1h1h2h1h1h1h1h2h1h1h1h2h1h1h1h1h1h2h3h2h1h4h1h3h1h1h2h1h7h2h2h3h1h2h1h1h1h1h10h1h1h5h4h6h3h1h4h4h3h9h4h2h6h6h9m-267 2h9h17h3h5h10h4h1h5h7h4h5h8h1h1h2h3h2h2h1h1h4h1h3h3h5h2h1h5h1h2h3h1h1h1h1h1h1h1h1h1h1h1h1h2h3h1h1h1h1h2h1h2h3h2h2h2h1h2h3h1h3h1h1h1h3h6h2h5h3h4h3h1h1h5h6h3h2h4h2h13h33h109m-395 2h16h14h21h2h18h4h1h3h1h5h1h1h1h15h1h3h2h2h2h1h4h1h2h1h2h2h2h1h2h1h2h1h3h2h1h1h2h1h3h2h1h1h1h2h1h2h1h1h2h1h1h2h4h1h1h4h3h1h2h1h1h3h4h1h1h1h1h6h2h8h2h7h2h6h13h4h2h3h2h33m-264 2h24h20h1h2h12h8h5h2h1h4h3h5h1h1h2h1h3h1h3h2h3h1h1h1h1h1h2h1h1h1h1h3h1h2h2h2h3h1h1h2h3h1h1h2h1h1h1h1h1h2h1h5h1h1h1h1h3h2h1h2h2h6h2h2h1h3h1h1h6h11h3h2h7h12h6m-250 2h27h2h21h22h5h1h4h5h7h2h6h1h1h1h2h1h3h2h1h2h1h5h1h1h2h1h3h1h1h1h1h1h1h1h4h1h1h3h1h2h2h1h2h1h1h2h1h1h2h3h1h1h1h2h1h1h1h1h1h3h1h1h3h1h3h2h1h1h8h2h3h1h2h8h4h2h5h43m-240 2h12h5h1h9h3h2h11h2h5h1h10h3h2h2h8h2h4h1h1h3h3h2h4h1h2h3h1h1h1h2h5h1h3h2h2h1h2h2h1h3h2h1h4h1h1h1h3h1h1h1h1h2h5h2h4h3h2h2h3h3h1h1h8h3h3h3h16h5h9h9h8h2m-264 2h7h17h9h18h8h1h10h2h5h1h1h1h4h5h6h2h4h1h1h1h3h1h4h1h3h1h2h1h1h1h1h1h1h1h1h1h1h2h4h2h1h1h1h5h2h1h1h1h2h2h9h1h6h2h5h3h3h1h1h2h4h5h4h10h4h12h16h6h17h29h117m-416 2h6h1h37h3h4h2h14h3h9h4h4h2h5h3h1h1h1h3h5h2h1h1h2h2h1h1h3h4h1h3h1h4h1h2h1h1h2h2h3h1h1h3h2h1h1h2h3h1h3h4h1h1h4h1h8h1h1h2h1h1h2h3h6h2h1h4h11h4h1h6h5h16h6m-257 2h2h15h13h32h3h4h2h3h5h13h11h3h2h2h1h2h3h1h1h1h1h1h3h1h5h1h1h1h4h1h2h2h1h1h2h2h3h1h3h1h1h2h2h1h3h2h1h2h2h1h1h3h10h4h1h2h1h4h6h1h3h8h6h13h4h1h6h21h10m-273 2h16h13h1h8h8h1h1h2h2h10h2h8h7h6h1h3h2h1h4h3h1h2h1h3h1h1h1h3h1h1h3h3h4h1h4h1h1h6h2h3h1h3h3h1h2h2h1h5h1h1h2h1h1h1h2h3h6h5h1h4h1h1h1h1h5h3h1h6h4h1h4h2h1h7h19h3h9m-212 2h3h4h11h2h3h1h6h1h5h1h12h1h2h4h2h3h1h4h2h7h1h1h2h3h1h1h1h1h1h1h2h3h2h1h1h1h3h2h2h1h1h2h2h3h1h2h1h2h1h2h1h5h3h2h10h2h1h4h1h2h3h5h2h1h13h2h5h12h37m-274 2h20h6h10h2h4h6h8h1h5h2h11h3h1h2h1h2h2h5h3h1h2h2h3h2h3h1h2h2h1h1h3h1h1h2h2h1h4h2h4h3h3h1h1h1h3h8h3h1h1h9h2h7h3h6h8h9h5h21h17m-208 2h8h9h2h5h2h2h6h4h2h1h5h1h1h1h2h2h1h2h6h3h1h3h1h2h1h4h3h1h4h1h2h4h1h1h2h1h4h3h2h2h1h7h2h2h1h10h4h1h1h5h4h1h1h14h2h1h1h9h1h4h13h4h26h103m-352 2h15h1h2h4h19h1h2h11h2h12h3h1h6h1h3h1h1h10h2h1h1h1h2h1h4h6h2h1h2h3h2h3h5h4h9h1h3h2h7h1h6h7h7h1h10h5m-212 2h23h17h12h1h4h3h3h1h2h11h2h4h2h1h2h1h1h1h2h2h1h1h1h2h1h2h4h1h1h2h1h1h2h4h1h3h1h1h1h1h3h5h2h2h12h4h12h1h3h4h2h5h4h20h1h1h4h23h15h18m-266 2h2h32h9h2h3h3h1h12h4h1h1h1h5h8h1h4h7h1h1h1h2h1h6h3h3h2h1h1h1h2h1h1h3h1h1h2h5h2h5h2h7h3h1h3h2h7h1h2h1h5h5h3h4h6h1h2h7h1h17m-217 2h12h6h8h8h6h10h16h7h2h5h3h4h1h3h2h2h2h6h6h1h4h2h4h1h2h2h2h1h11h1h3h4h1h1h2h13h1h2h1h5h5h6h1h19h3h2h7h14h52m-300 2h11h1h9h23h10h13h3h6h1h2h1h1h2h12h4h3h3h5h2h4h3h1h3h3h2h6h1h3h5h3h1h1h8h1h4h1h5h2h3h3h2h2h4h8h1h24h48m-253 2h18h21h10h5h2h9h3h8h2h4h3h1h6h5h3h3h4h4h3h5h2h1h2h2h2h4h2h5h1h3h1h6h3h3h6h2h3h4h1h1h6h4h1h9h7h4h6h6m-206 2h1h12h10h11h9h1h9h2h11h1h7h1h4h1h4h1h2h1h1h2h3h5h2h7h3h7h3h4h11h2h2h2h1h1h4h4h2h1h2h1h3h1h1h6h1h2h9h1h9h4h36h48m-300 2h23h24h9h11h9h5h1h1h3h4h2h4h4h11h5h1h2h1h3h4h2h3h1h4h23h5h5h7h3h8h9h3h7h4h7h16m-227 2h15h14h1h2h4h1h9h5h1h11h3h1h1h1h1h1h3h14h6h1h2h2h4h1h2h5h1h1h5h3h3h10h9h5h4h1h2h2h1h3h2h1h1h1h6h4h4h3h2h18h16h81m-298 2h14h10h23h4h1h1h13h14h1h1h4h2h1h3h1h1h8h3h9h5h2h4h4h3h1h2h12h1h4h3h5h5h2h2h2h5h22h14m-176 2h2h17h5h5h1h2h20h2h2h7h2h4h1h8h5h5h1h2h1h2h3h3h2h6h7h5h7h2h1h1h6h3h1h2h3h3h7h22h23m-223 2h1h4h1h7h3h18h6h17h2h9h1h3h4h20h6h3h3h2h7h1h2h5h5h3h1h1h4h7h20h10h1h4h14m-184 2h8h12h3h1h3h4h1h1h4h4h3h2h3h6h1h6h1h2h3h1h8h1h2h2h4h5h1h3h2h16h1h2h2h6h2h4h3h2h2h2h6h28h174m-370 2h2h3h4h7h7h1h3h5h4h2h22h8h7h2h2h6h2h1h2h6h2h1h1h12h8h8h1h2h12h3h2h2h11h1h11h5h6h9h15h11m-230 2h8h15h39h3h6h2h18h1h4h16h5h3h1h3h5h2h16h1h1h17h18h9h6h145m-337 2h1h16h10h10h4h3h3h1h6h8h7h5h3h1h6h5h3h2h7h4h4h6h1h12h8h7h2h7h2h6h10h16h13h38m-232 2h11h4h19h8h5h2h5h1h15h1h7h3h10h11h1h2h4h1h12h6h6h1h4h6h3h6h4h8h7h16m-190 2h4h17h14h18h3h7h4h8h1h4h3h13h4h5h1h3h12h8h6h2h5h27h3h36h4h128m-324 2h9h15h1h2h12h4h5h4h9h4h1h4h10h1h3h4h13h11h4h5h1h1h11h5h3h19h1h8h34h32m-208 2h8h1h15h3h3h5h3h3h7h6h15h7h24h4h6h5h3h9h1h10h9h9h15m-220 2h58h1h20h6h1h1h5h7h3h4h2h11h25h1h1h7h8h5h2h34h29h14m-229 2h1h16h11h14h22h4h4h1h9h8h5h2h1h1h10h2h8h2h1h1m-138 2h13h5h29h2h5h9h3h3h14h1h8h10h1h1h7h6h7h5h12h28m-161 2h1h17h18h7h8h17h5h4h3h6h4h6h1h7h4h2h2h2h1h2h4h2h1h2h6h7h11h29m-156 2h16h2h2h11h6h7h7h11h1h1h19h3h7h13h8h3h51h16m-213 2h15h2h1h4h1h17h3h1h33h5h10h1h2h1h12h8h1h1h2h10h9h29h24h28h12m-225 2h3h12h4h4h16h8h2h8h23h3h3h1h5h1h63h6h20m-186 2h8h2h7h9h1h23h3h4h21h6h3h18h2h13h58m-180 2h9h13h7h5h19h27h1h7h31h2h4h36m-135 2h3h28h2h2h13h2h2h5h7h12h10h24h3h9h1h70m-213 2h1h25h34h1h8h15h8h5m-113 2h28h22h6h15h3h1h2h13h14h24h13h12m-145 2h21h17h2h6h4h6h46h47m-159 2h2h14h11h5h4h2h6h4h2h4h7h1h1h1h6h4h6h3h3h1h1h1h3h10h2h5h1h2h4h4h2h1h3h4h2h1h10h5h17h45h136"/>
<rect x="1.5" y="193.11" width="63.3" height="41.39" fill="#fff" opacity=".86"/>
<rect x="0" y="0" width="368" height="235.5" fill="none" stroke="#333" stroke-width="1.7"/>
<path d="M0 0V235.5H368" style="stroke:#000" stroke-width="2.4"/>
<path d="M157 0V235.5" style="stroke:#000" stroke-width="2.6"/><path d="M0 131H368" style="stroke:#000" stroke-width="1.8"/>
<path d="M2 234.9H172.96" style="stroke:#e80000" stroke-width="1.5" opacity=".75"/>
<path d="M-10.5 235.5H0M0 235.5v7.5M-10.5 181.92H0M82.43 235.5v7.5M-10.5 128.35H0M164.86 235.5v7.5M-10.5 74.77H0M247.3 235.5v7.5M-10.5 21.19H0M329.73 235.5v7.5" style="stroke:#000" stroke-width="2"/>
<path d="M-5 219.37H0M24.81 235.5v4.5M-5 209.94H0M39.33 235.5v4.5M-5 203.24H0M49.63 235.5v4.5M-6.5 198.05H0M57.62 235.5v5.5M-5 193.81H0M64.14 235.5v4.5M-5 190.22H0M69.66 235.5v4.5M-5 187.12H0M74.44 235.5v4.5M-5 184.38H0M78.66 235.5v4.5M-5 165.8H0M107.25 235.5v4.5M-5 156.36H0M121.76 235.5v4.5M-5 149.67H0M132.06 235.5v4.5M-6.5 144.48H0M140.05 235.5v5.5M-5 140.23H0M146.58 235.5v4.5M-5 136.65H0M152.1 235.5v4.5M-5 133.54H0M156.88 235.5v4.5M-5 130.8H0M161.09 235.5v4.5M-5 112.22H0M189.68 235.5v4.5M-5 102.79H0M204.19 235.5v4.5M-5 96.09H0M214.49 235.5v4.5M-6.5 90.9H0M222.48 235.5v5.5M-5 86.66H0M229.01 235.5v4.5M-5 83.07H0M234.53 235.5v4.5M-5 79.96H0M239.31 235.5v4.5M-5 77.22H0M243.52 235.5v4.5M-5 58.64H0M272.11 235.5v4.5M-5 49.21H0M286.63 235.5v4.5M-5 42.52H0M296.93 235.5v4.5M-6.5 37.32H0M304.91 235.5v5.5M-5 33.08H0M311.44 235.5v4.5M-5 29.49H0M316.96 235.5v4.5M-5 26.39H0M321.74 235.5v4.5M-5 23.65H0M325.96 235.5v4.5M-5 5.07H0M354.54 235.5v4.5" style="stroke:#222" stroke-width="1.1"/>
<text class="b" x="-38.2" y="238.5" font-size="19">10</text>
<text class="b" transform="translate(-19.3 227.9) scale(1.05 1)" font-size="11">1</text>
<text class="b" transform="translate(-11.1 264.3) scale(0.97 1)" font-size="20.5">10</text>
<text class="b" transform="translate(9.5 254.5) scale(1.05 1)" font-size="11">1</text>
<text class="b" x="-38.2" y="193.42" font-size="19">10</text>
<text class="b" transform="translate(-19.3 182.82) scale(1.05 1)" font-size="11">2</text>
<text class="b" transform="translate(65.13 264.3) scale(0.97 1)" font-size="20.5">10</text>
<text class="b" transform="translate(85.73 254.5) scale(1.05 1)" font-size="11">2</text>
<text class="b" x="-38.2" y="140.15" font-size="19">10</text>
<text class="b" transform="translate(-19.3 129.55) scale(1.05 1)" font-size="11">3</text>
<text class="b" transform="translate(147.56 264.3) scale(0.97 1)" font-size="20.5">10</text>
<text class="b" transform="translate(168.16 254.5) scale(1.05 1)" font-size="11">3</text>
<text class="b" x="-38.2" y="85.27" font-size="19">10</text>
<text class="b" transform="translate(-19.3 74.67) scale(1.05 1)" font-size="11">4</text>
<text class="b" transform="translate(230 265.6) scale(0.97 1)" font-size="20.5">10</text>
<text class="b" transform="translate(250.6 255.8) scale(1.05 1)" font-size="11">4</text>
<text class="b" x="-38.2" y="29.29" font-size="19">10</text>
<text class="b" transform="translate(-19.3 18.69) scale(1.05 1)" font-size="11">5</text>
<text class="b" transform="translate(312.43 266.9) scale(0.97 1)" font-size="20.5">10</text>
<text class="b" transform="translate(333.03 257.1) scale(1.05 1)" font-size="11">5</text>
<text class="b" transform="translate(6.18 30.85) scale(1.69 1)" font-size="20.34">1.56</text>
<text class="b" transform="translate(6.18 219.96) scale(1.69 1)" font-size="20.34">92.8</text>
<text class="b" transform="translate(268.27 31.56) scale(1.69 1)" font-size="20.34">5.13</text>
<text class="b" transform="translate(268.27 220.66) scale(1.69 1)" font-size="20.34">0.56</text>
</g>
<g transform="translate(618 942.5)">
<ellipse cx="101.11" cy="182.64" rx="21" ry="17" fill="url(#rb)" transform="rotate(-30 101.11 182.64)"/>
<ellipse cx="207.2" cy="110.02" rx="38" ry="11" fill="url(#rb)" opacity="0.15"/>
<path class="dt" transform="scale(.5)" d="M515 132h0m-61 6h8h37h55m-65 2h43m-57 2h5m-6 2h0m-13 2h4h39h56m-68 2h2m-110 2h55h29h2h3h27h44m-42 2h0m-103 2h25h45h26h13h13h110m-225 2h14h7h2h39h12h13h1h11h34h11m-160 2h73h43h6h40m-160 2h15h16h6h3h34h24h6h58h27m-160 2h34h2h27h6h10h17h45h13m-136 2h5h13h24h3h5m-51 2h11h12h3h20h1h18h69m-220 2h56h12h10h5h12h21h3h13h18h31h48m-171 2h19h30h5h7h30h40m-306 2h162h5h12h8h10h35h66m-240 2h107h2h1h27h15h15h6h10h6h7h1h1h2h23h7h33h10h31m-361 2h74h100h18h3h3h9h18h16h16h3h2m-150 2h20h19h9h12h1h4h1h22h1h15h5h6h11h4h3h9h1h5h15h21h10m-317 2h33h47h31h66h3h33h15h11h9h7h15h3h23m-249 2h39h28h43h4h5h9h5h3h2h4h4h1h7h3h7h1h9h7h9h4h11h15h37h5h65m-373 2h30h13h6h5h22h29h15h28h24h17h25h3h4h1h6h2h8h24h19h16h24m-330 2h66h36h21h18h46h2h4h15h4h16h6h13h95m-334 2h33h66h5h20h26h2h23h3h10h12h6h1h9h8h9h3h20h52h35m-362 2h87h39h31h24h1h9h8h2h9h4h14h9h3h8h4h2h1h5h9h12h4h1h3h3m-164 2h6h1h26h3h3h10h10h2h2h2h2h11h5h2h5h15h7h6h6h3h14h1m-154 2h15h2h20h2h5h12h8h6h5h1h4h7h4h1h31h2h12h9h8h13h30m-283 2h31h20h30h37h10h6h1h8h22h2h2h2h3h15h13h4h16h2h4h7h14h57m-293 2h14h20h12h6h32h12h5h4h24h3h10h11h9h21h7h4h10h2h1h14h12h12h5h7h44m-304 2h7h9h8h12h18h12h4h30h4h8h2h10h16h4h22h4h8h1h3h5h2h5h3h10h12h12m-325 2h37h50h84h11h3h24h3h17h2h22h7h2h4h1h8h3h1h1h7h2h3h10h1h7h4h15m-290 2h65h4h77h1h5h5h11h8h27h3h1h4h2h9h2h4h8h2h3h12h2h5h6h14h13h14h40m-323 2h1h1h44h25h5h17h28h16h7h8h2h17h5h10h4h1h1h43h42h6h15m-296 2h33h111h37h4h5h14h5h1h18h14h4h15h14h21h2h61m-401 2h43h24h14h15h1h43h16h1h11h4h1h5h7h14h1h3h1h2h1h1h13h5h4h5h11h2h8h3h1h5h13h11h17m-253 2h19h12h56h16h37h2h21h7h5h4h10h2h11h17h9m-233 2h36h1h6h13h12h19h11h10h7h41h1h6h1h1h5h4h12h3h4h1h10h9h32h2h4h10m-300 2h27h31h23h3h13h10h2h11h15h4h37h3h1h11h5h19h3h7h7h18h1h4h13h8h3h6h3m-301 2h45h2h5h22h1h3h22h1h3h1h3h1h4h18h10h4h1h10h13h11h9h4h2h6h3h2h1h2h5h8h8h4h3h14h7h24h13h6h6h1h16h8m-296 2h4h36h12h1h6h2h3h2h7h2h4h4h1h1h3h2h8h9h6h2h10h4h6h1h1h5h2h3h4h3h1h1h2h1h1h1h6h5h6h7h5h2h6h2h14h16h15h60m-285 2h26h4h6h4h5h1h4h2h9h3h1h8h1h2h2h2h4h16h3h2h4h2h2h3h7h1h3h9h14h4h9h2h3h3h1h1h1h2h2h11h1h1h3h1h1h1h13h2h3h1h2h3h1h1h5h1h12h1h11h18h13m-296 2h19h4h2h6h10h5h1h23h1h1h1h6h2h1h2h1h1h4h9h10h1h5h23h1h1h3h4h1h2h2h2h7h1h7h1h3h1h2h3h1h2h4h2h1h9h1h3h2h2h1h2h5h1h7h1h1h1h4h6h13h22m-283 2h26h9h1h11h5h1h1h3h15h6h5h1h6h2h4h6h1h23h10h2h5h1h6h3h3h2h2h4h5h5h2h1h2h2h7h1h5h6h3h5h6h1h1h6h1h4h4h2h2h3h2h2h16h5h2h6h6h2h14h4m-270 2h6h1h3h2h2h9h6h5h3h4h1h8h8h1h2h5h24h5h1h9h6h17h4h2h6h1h6h3h6h1h10h2h4h1h17h14h12h6h14m-275 2h22h2h11h3h18h41h47h1h10h8h2h9h1h8h12h11h3h7h3h9h1h1h7h3h8h4h1h7h3h1h47m-289 2h36h35h27h14h14h7h7h12h6h4h2h12h10h17h4h5h21h62h10m-354 2h10h42h35h1h28h44h9h47h3h24m-217 2h10h104h46h7h26h27h20h27m-202 2h60h48h65m-143 2h55h6h21h42m-210 2h114h4h10h15h2m0 2h4h14h9h31m-192 2h65h4h68h46h15m-80 2h24h33m-107 2h27h4h59m-21 2h0m-20 2h22h22h14h10m-126 2h21h10h15h4h2h4h18h25h26h39h85m-269 2h41h35h4h12h4h3h1h12h5h20h3h1h1h20h9h67h25m-200 2h22h1h1h1h19h6h34h28m-128 2h1h9h15h2h11h23h7h14h17h7h69h54m-292 2h14h41h23h4h11h12h7h4h5h14h3h3h44h6h21h29m-292 2h88h25h9h12h5h6h2h1h16h12h34h28m-225 2h78h16h4h3h8h17h11h1h4h6h3h7h4h21h2h11h22h19h37m-218 2h20h21h13h7h3h12h7h10h5h1h6h10h46h63m-186 2h19h8h12h2h3h2h2h1h1h1h4h2h4h2h10h1h26h2h17h8h48m-272 2h86h2h16h11h1h1h8h1h5h2h8h11h1h22h13h9h13h22h13m-153 2h4h17h1h6h11h1h1h1h17h7h5h3h5h22h3h33h75m-250 2h29h8h10h24h11h2h15h6h2h15h13h36h27h25h1h5h27m-264 2h14h2h3h3h25h3h29h6h1h2h8h2h3h1h2h3h6h7h3h21h7h28h1m-229 2h47h46h11h2h11h3h9h9h4h16h16h5h7h21h22h42m-262 2h8h14h13h53h5h24h3h1h6h6h6h7h5h6h13h23h24h40m-240 2h38h13h17h19h2h2h22h3h4h41h47h37m-232 2h38h5h20h5h1h11h4h4h10h10h7h21h9h3h3h8h8h13h12m-207 2h43h11h7h4h1h5h21h7h8h12h6h1h3h1h5h27h8h4h20h4h18h2h18h12h14m-239 2h14h12h8h13h22h4h6h10h5h3h2h25h1h8h5h14h21h12h24h7m-300 2h64h24h11h15h1h19h19h5h17h1h1h6h2h4h1h27h23h41h17h141m-409 2h21h9h25h3h11h8h1h14h8h7h7h17h17h4h3h2h2h2h11h9h7h18h32h26h16m-238 2h11h13h1h1h4h1h11h1h3h1h9h8h7h15h19h6h14h4h12h13h56h8h20h41m-303 2h18h27h15h3h3h5h5h6h1h12h16h9h4h18h46h14h20h85m-292 2h32h3h1h4h6h12h1h3h17h4h4h26h3h15h2h30h22h21h1h10h34h20m-318 2h29h47h1h9h1h17h16h26h6h6h15h5h18h4h3h1h1h6h12h16h15m-237 2h43h4h3h22h12h3h8h1h3h6h2h3h12h9h11h1h20h21h6h6h20m-236 2h23h19h3h2h11h22h21h1h3h2h4h6h20h5h2h3h5h10h9h2h4h3h11h3h1h8h6h3h2h5h1h8h2h27m-242 2h5h47h8h3h4h5h6h1h12h4h11h3h3h2h7h9h1h4h13h58h2h13h8h1h36m-212 2h11h3h1h7h16h21h6h1h1h13h6h5h15h6h30h32h4h3h10h10h12m-286 2h23h3h8h12h16h9h3h3h1h2h10h1h10h6h3h3h1h1h1h1h3h4h8h4h3h7h2h20h11h4h2h6h13h33h17m-206 2h10h10h13h4h6h3h4h2h7h1h4h15h7h11h3h5h5h5h7h9h1h9h44h12h30m-245 2h2h2h20h19h1h7h3h7h1h5h1h11h3h12h1h14h3h2h5h6h2h1h2h7h5h27h49h85m-317 2h19h2h2h4h1h5h6h7h3h4h1h1h5h3h4h3h2h6h1h6h6h2h3h5h1h1h5h2h5h1h2h5h1h1h5h12h4h6h16h22h39h7h38m-302 2h3h8h24h2h1h19h1h3h5h11h3h13h3h2h1h1h1h4h5h1h7h7h10h3h2h8h2h18h10h4h13h12h6h25h21h2h24h63m-309 2h9h9h1h7h23h4h3h1h3h2h5h2h2h19h8h6h3h2h1h2h32h6h43h3h4h38m-244 2h9h3h2h9h3h4h2h2h8h2h11h7h2h9h2h2h9h2h1h1h6h3h1h1h3h2h6h13h4h3h8h1h5h3h8h4h7h2h6h68h29m-316 2h15h8h13h3h19h8h6h7h5h3h4h5h4h1h2h4h1h1h1h4h3h1h2h13h4h23h1h1h1h2h11h7h5h3h2h3h13h36h48h10h15h9m-320 2h7h19h17h6h5h5h2h2h2h1h3h4h17h2h1h8h1h2h2h1h7h2h5h1h2h1h1h3h5h3h4h4h12h3h13h10h9h11h4h1h10h32h30h29m-363 2h27h14h14h26h23h10h3h1h1h4h1h6h1h9h1h4h1h5h3h4h6h1h6h6h9h5h3h14h12h8h2h13h1h15h16h16h26h2h3h27m-329 2h67h14h5h2h2h1h8h3h2h7h8h3h1h1h5h2h1h7h2h1h1h3h17h2h2h5h5h4h1h17h3h2h6h1h4h9h6h2h2h13h3h8h10h1h23h39h43m-460 2h37h38h13h25h6h19h1h11h6h7h3h6h7h5h3h3h4h2h1h1h1h1h3h4h1h6h2h1h2h2h1h1h2h4h1h2h3h4h3h2h2h5h4h4h16h1h1h5h8h6h40h14h10h21h7h133m-457 2h38h13h12h18h7h2h2h3h3h7h6h2h6h3h3h7h7h3h2h6h1h1h1h3h1h1h1h3h2h1h1h2h1h2h7h1h4h4h3h3h2h9h2h3h1h1h10h25h7h2h4h2h23h8h57h14m-450 2h41h91h13h9h10h19h3h1h2h1h3h2h8h1h1h2h2h2h5h4h1h2h6h2h2h3h2h3h2h1h2h2h2h1h1h2h5h9h3h9h3h13h2h1h13h9h14h20h2h53h5m-296 2h19h20h21h3h1h2h1h3h3h2h3h6h2h2h1h2h2h2h3h7h2h1h2h1h8h2h3h1h1h1h6h3h3h1h2h6h1h1h2h6h3h1h1h3h1h5h7h19h25h3h1h9h26h31h5h31m-321 2h9h22h2h2h9h4h4h3h13h1h1h1h1h2h2h6h2h5h1h1h1h1h6h3h1h2h4h4h1h3h2h4h7h4h3h19h18h7h1h1h6h28h20h24h4h7h3h3h16m-273 2h7h1h1h1h7h2h2h3h2h3h7h1h1h2h3h2h1h4h3h2h2h1h1h4h1h1h1h5h1h1h1h1h2h1h1h4h2h1h1h1h6h6h6h13h3h1h1h6h1h7h7h1h2h13h3h7h14h10h23h21m-387 2h102h21h14h3h1h24h1h5h4h2h2h4h3h3h2h2h5h2h3h1h1h1h4h2h3h3h2h2h7h3h2h1h1h3h5h2h2h4h3h1h2h2h4h1h1h1h10h9h9h7h26h4h28h7h26h28m-406 2h67h32h10h18h6h1h1h1h2h2h5h1h8h3h1h3h3h6h4h6h1h1h1h2h1h2h2h1h4h1h2h1h2h4h2h2h4h2h1h1h5h1h1h1h1h5h6h5h6h4h2h3h1h2h2h4h3h1h1h2h2h1h10h2h14h1h2h4h4h5h8h14h109m-351 2h24h16h15h4h6h4h1h1h9h4h1h1h2h1h2h1h1h1h2h2h1h1h5h2h1h2h1h3h3h4h1h2h1h15h1h2h4h1h5h1h1h1h1h1h1h2h1h4h4h10h2h14h13h1h23h7h18h17h15h11h17m-350 2h2h26h32h13h4h1h4h6h5h4h2h3h3h3h4h4h4h1h5h1h2h5h1h4h1h1h1h1h1h1h2h5h6h1h1h3h2h1h2h6h2h1h1h1h7h1h2h3h9h3h20h1h1h9h1h16h18h20h9h24m-385 2h41h37h26h11h8h8h4h12h3h1h3h5h1h1h1h1h1h5h3h2h2h2h1h1h2h5h1h3h1h2h3h1h3h2h1h3h4h2h6h2h4h5h1h4h1h3h3h1h1h2h1h1h2h5h1h1h2h1h4h1h1h4h1h1h20h6h2h22h6h5h5h6h1h12h39m-380 2h66h8h26h3h1h3h7h7h2h2h3h7h1h8h2h4h7h2h2h5h1h4h3h4h2h2h1h2h4h1h1h2h4h2h2h3h2h1h2h2h2h1h2h2h1h2h1h1h2h2h5h7h13h1h6h2h16h8h9h80m-409 2h21h9h19h57h22h13h2h4h6h3h1h4h4h2h3h2h1h4h5h1h1h2h1h2h1h3h2h1h2h3h1h1h3h1h1h1h1h2h1h1h2h4h5h1h2h3h1h1h1h2h2h1h1h1h2h1h1h7h7h1h1h1h3h3h2h1h9h2h1h2h4h15h1h1h92h30h11m-381 2h26h9h11h7h9h3h21h1h4h1h3h7h1h3h1h1h3h5h1h2h1h1h1h1h3h7h3h5h1h1h1h2h1h1h1h2h2h1h1h3h1h1h2h1h1h1h1h1h1h1h2h4h1h1h3h1h1h2h4h1h1h1h6h4h3h4h8h1h3h8h1h2h5h1h14h5h5h10h1h2h4h14h6h71h12m-392 2h79h8h1h5h1h1h7h1h13h1h1h1h2h5h1h1h1h1h3h2h1h2h1h4h1h10h1h4h1h3h1h1h1h1h3h1h6h1h3h2h2h1h2h1h1h1h2h4h1h1h2h2h2h1h2h2h1h3h3h5h2h8h3h1h4h8h8h11h8h22h9h19h3h26h137m-463 2h4h25h17h3h7h8h2h2h13h2h1h6h1h1h4h1h2h1h1h2h4h1h2h2h6h3h6h1h4h1h1h3h1h1h2h5h2h1h1h1h1h1h3h4h2h1h2h2h1h1h4h4h3h10h2h2h3h7h3h3h1h5h5h9h9h8h11h49h39h11h7h59m-445 2h24h1h8h33h37h1h1h1h4h3h2h1h3h4h10h1h5h4h1h1h2h1h1h1h2h1h2h1h1h2h1h2h2h1h2h1h2h1h1h1h1h6h1h1h9h1h1h1h5h1h1h4h1h9h8h2h1h2h3h3h3h24h5h11h36h31h4m-345 2h54h10h22h1h2h4h1h1h7h1h1h1h8h1h1h4h1h3h2h3h4h4h1h1h4h2h1h3h1h1h1h6h6h3h1h3h2h2h1h3h2h3h5h3h1h5h2h2h3h2h1h7h4h1h5h4h7h3h3h12h1h3h4h9h44m-332 2h3h28h19h15h4h2h1h9h1h7h22h15h5h4h1h2h1h1h1h2h1h2h1h2h2h2h2h3h1h1h2h2h5h3h3h2h1h1h2h1h8h2h3h9h2h1h6h1h1h4h3h9h1h13h9h4h1h8h15h6h6h65h32m-426 2h32h13h38h1h8h12h15h2h1h7h1h9h3h5h1h2h3h2h3h2h5h2h2h1h1h2h1h3h3h1h1h2h2h7h4h2h3h1h1h3h1h1h1h1h1h1h1h1h4h7h6h4h1h2h2h4h5h3h1h1h1h1h5h11h11h3h7h1h2h86h12h22h45h38m-491 2h20h2h14h4h1h15h44h22h13h3h1h2h1h4h5h5h1h4h3h2h1h1h1h4h4h2h1h1h5h5h3h1h2h1h3h1h1h1h1h1h2h4h2h1h1h5h4h1h1h5h1h5h4h5h2h11h2h1h3h7h18h19h3h31h9h23h2h13h126m-481 2h19h28h13h22h8h1h6h6h1h1h3h1h1h3h1h2h4h1h2h1h3h1h3h1h2h1h3h1h1h3h1h1h1h3h2h4h1h1h2h1h1h2h3h1h3h3h1h1h5h5h2h2h1h2h1h1h1h2h1h1h1h7h6h9h6h1h1h11h47h48m-358 2h55h27h5h10h5h2h10h5h1h2h1h3h2h6h2h6h4h10h1h1h1h2h2h1h4h1h2h2h1h1h2h1h1h2h2h2h1h6h1h1h2h2h2h2h3h5h1h4h4h1h3h4h1h6h1h5h1h1h2h6h1h1h7h6h4h7h5h50m-300 2h1h27h3h13h3h9h4h6h3h2h3h5h3h2h8h2h2h1h4h1h1h2h4h1h2h1h1h1h4h2h3h5h2h5h1h2h1h4h1h1h2h1h1h2h1h1h6h5h1h1h1h2h2h2h1h2h4h1h3h6h4h7h4h10h6h6h28h2h11h9h10h3h1h12h8h24m-360 2h40h14h24h16h14h3h5h3h2h7h4h1h3h1h2h4h1h4h2h1h1h1h4h3h5h4h1h3h1h1h2h7h3h1h1h1h1h5h5h2h2h2h2h2h6h8h2h5h1h1h1h4h25h11h1h6h30m-293 2h1h3h26h32h2h3h2h3h3h3h1h2h8h3h2h1h2h4h3h3h8h1h4h2h6h2h3h2h3h1h1h1h4h2h9h1h1h1h3h4h1h8h1h1h2h1h7h6h1h1h2h2h6h4h4h4h6h2h6h12h1h12h15h2h1h42h9h7m-357 2h53h18h3h8h6h18h14h3h3h1h1h1h5h1h4h2h1h1h4h1h1h1h1h1h2h2h1h1h1h2h1h2h4h1h1h1h1h2h7h1h1h4h2h7h2h8h1h1h13h4h3h6h3h4h1h2h6h5h6h7h1h4h22h16h12h26h40m-369 2h58h2h5h4h3h4h5h14h2h5h5h2h1h1h2h2h1h2h2h11h2h1h3h2h6h1h2h1h1h1h1h3h1h3h4h1h6h1h5h3h3h2h1h2h7h3h6h1h2h14h4h8h3h5h2h1h5h3h4h7h8h8h9h36m-293 2h3h10h1h8h3h7h10h5h3h6h1h2h10h11h3h2h6h5h5h6h2h3h1h1h2h2h3h2h2h1h2h2h6h3h2h1h2h8h1h14h6h1h4h2h2h3h3h1h2h7h10h5h5h1h6h1h11h3h5h15h27h28h15h42m-426 2h33h12h24h4h1h3h3h3h8h6h7h4h9h6h6h2h1h5h1h14h2h3h6h2h2h1h1h7h1h1h1h3h1h5h3h2h1h4h12h1h4h12h1h1h4h4h7h9h21h20h4m-213 2h1h10h7h13h2h6h9h1h1h2h4h1h3h1h2h2h1h1h1h1h1h2h3h1h3h2h1h1h4h5h1h1h1h11h1h14h7h1h4h1h1h6h4h17h23h2h13h61h30h32m-424 2h38h48h9h11h18h10h8h3h1h4h1h4h4h13h5h1h2h1h1h1h3h2h1h2h1h5h1h1h3h2h7h3h2h5h1h3h11h1h1h14h15h6h54h10h36h42m-380 2h51h7h2h1h8h3h15h2h6h3h2h4h1h9h2h3h1h1h3h1h4h8h5h4h4h4h4h2h5h6h1h1h1h6h3h12h4h26h18h7h1h13h22h32h174m-520 2h32h6h22h10h19h2h6h17h4h8h1h1h2h7h4h3h1h4h6h2h1h6h9h1h1h1h3h1h8h2h4h1h7h8h5h3h5h2h5h1h5h1h4h1h28h1h35h11h16h68h27m-433 2h52h33h14h21h6h2h2h3h2h11h3h4h11h1h2h4h2h5h1h1h1h1h2h3h1h1h1h4h3h2h2h1h3h1h4h2h2h1h1h1h5h5h1h1h3h2h9h4h6h6h8h12h32h25h6m-343 2h4h26h15h32h5h2h17h5h19h2h10h9h4h6h6h1h3h2h5h7h12h5h1h3h8h2h15h3h14h13h1h55h69m-365 2h34h13h24h19h10h8h9h1h3h2h1h2h5h7h10h2h2h3h2h4h4h4h1h2h3h5h12h3h1h6h3h6h2h1h4h5h4h7h26h1h25h9h15h84h59m-445 2h56h10h17h7h7h4h2h2h3h5h3h6h3h1h3h8h3h1h1h2h3h1h1h7h2h5h1h3h6h2h3h3h3h4h2h9h7h1h19h13h4h1h18h8h82m-326 2h11h18h2h5h10h3h1h12h5h5h11h5h5h3h3h1h12h3h1h8h1h4h3h1h1h2h5h3h1h3h4h5h3h3h3h2h5h15h4h2h1h4h3h2h8h61h53m-371 2h29h32h4h17h16h26h3h4h8h17h2h3h9h1h4h10h2h1h2h9h2h2h17h6h5h8h6h4h2h42h88h11m-381 2h26h16h7h17h5h3h16h2h1h29h2h1h2h22h5h15h6h3h2h7h2h11h7h6h6h7h5h1h2h54h5h1h1h49h24m-322 2h22h2h5h12h1h9h6h9h1h2h5h1h2h9h4h2h3h12h2h5h7h4h1h3h2h1h3h16h2h1h3h6h17h2h40h45h92h12h73h21m-498 2h6h5h9h15h26h7h5h4h4h10h1h9h9h3h1h3h2h4h2h1h2h5h10h3h5h1h1h2h1h1h1h12h5h7h4h9h33h3h1h46h51h8m-350 2h53h29h4h24h6h10h4h3h5h3h3h2h2h3h1h8h6h1h2h2h10h8h13h4h2h9h16h17h5h11h7h88h22h20h75m-470 2h4h21h4h8h3h1h49h24h13h4h4h1h8h14h3h2h3h9h9h8h2h10h13h36h32h3h15h108h80m-500 2h33h20h29h11h4h4h5h5h19h1h8h4h5h5h1h11h3h1h1h3h18h1h12h8h17h5h15m-247 2h32h8h23h12h10h18h3h3h5h3h5h2h1h1h4h5h16h3h7h3h6h5h4h5h9h1h7h16h49h29h47h68h1h35m-433 2h27h6h24h9h2h21h3h7h10h2h3h7h5h2h3h3h5h2h3h8h1h6h8h8h4h1h5h26h15h5h60m-255 2h6h17h13h11h20h2h2h1h1h5h9h5h6h5h3h3h2h26h20h10h2h1h8h87h42m-294 2h11h6h6h8h15h10h9h12h4h2h5h2h1h23h3h6h4h17h4h3h35h51h25h51m-376 2h5h14h27h42h4h7h7h4h16h2h7h8h4h3h31h10h19h92h12h13h28h43h44m-411 2h1h32h6h6h6h10h1h5h2h1h10h6h3h3h9h7h5h3h1h7h2h1h7h1h11h3h31h1h48h145m-372 2h45h22h1h20h4h4h3h4h1h11h5h13h19h19h6h81h84h22m-380 2h20h39h24h3h15h32h25h1h12h34h17h7h72h118h9m-454 2h86h5h8h9h4h7h3h15h8h7h6h19h1h12h19h13h115h49h11h47m-427 2h35h5h24h6h10h7h2h4h7h1h8h2h2h7h28h18h6h10h9h126h13h84m-426 2h6h53h39h1h14h12h16h16h27h9h12h112h4h26h15h112m-488 2h13h34h66h8h21h5h1h16h7h15h14h69h48h11h28h132m-464 2h24h8h2h27h18h5h32h5h3h13h4h8h8h12h124h44h35h16h15m-422 2h2h18h29h13h16h7h37h25h12h31h83h190m-463 2h7h17h18h11h14h3h14h7h11h9h28h18h11h18h4h14h10m-196 2h15h27h4h20h31h2h6h1h37h47h6h17m-202 2h5h4h19h11h90h5h3h1h3h6h24h21m-209 2h25h18h54h31h13h6h2h3h17h13h10m-155 2h16h1h6h5h15h10h21h40h7h1m-173 2h8h5h14h8h6h1h6h4h1h24h5h1h2h5h1h2h1h2h5h1h2h1h10h2h2h1h1h1h2h3h1h4h3h2h6h6h3h2h6h1h5h2h1h2h20h6h2h28h1h5h34"/>
<rect x="1.5" y="191.06" width="63.64" height="40.94" fill="#fff" opacity=".86"/>
<rect x="0" y="0" width="370" height="233" fill="none" stroke="#333" stroke-width="1.7"/>
<path d="M0 0V233H370" style="stroke:#000" stroke-width="2.4"/>
<path d="M157.5 0V233" style="stroke:#000" stroke-width="2.6"/><path d="M0 130H370" style="stroke:#000" stroke-width="1.8"/>
<path d="M2 232.4H173.9" style="stroke:#e80000" stroke-width="1.5" opacity=".75"/>
<path d="M-10.5 233H0M0 233v7.5M-10.5 179.99H0M82.88 233v7.5M-10.5 126.98H0M165.76 233v7.5M-10.5 73.98H0M248.64 233v7.5M-10.5 20.97H0M331.52 233v7.5" style="stroke:#000" stroke-width="2"/>
<path d="M-5 217.04H0M24.95 233v4.5M-5 207.71H0M39.54 233v4.5M-5 201.09H0M49.9 233v4.5M-6.5 195.95H0M57.93 233v5.5M-5 191.75H0M64.49 233v4.5M-5 188.2H0M70.04 233v4.5M-5 185.13H0M74.85 233v4.5M-5 182.42H0M79.09 233v4.5M-5 164.04H0M107.83 233v4.5M-5 154.7H0M122.42 233v4.5M-5 148.08H0M132.78 233v4.5M-6.5 142.94H0M140.81 233v5.5M-5 138.74H0M147.37 233v4.5M-5 135.2H0M152.92 233v4.5M-5 132.12H0M157.73 233v4.5M-5 129.41H0M161.97 233v4.5M-5 111.03H0M190.71 233v4.5M-5 101.69H0M205.3 233v4.5M-5 95.07H0M215.66 233v4.5M-6.5 89.93H0M223.69 233v5.5M-5 85.74H0M230.25 233v4.5M-5 82.19H0M235.8 233v4.5M-5 79.11H0M240.61 233v4.5M-5 76.4H0M244.85 233v4.5M-5 58.02H0M273.59 233v4.5M-5 48.69H0M288.18 233v4.5M-5 42.06H0M298.54 233v4.5M-6.5 36.93H0M306.57 233v5.5M-5 32.73H0M313.13 233v4.5M-5 29.18H0M318.68 233v4.5M-5 26.11H0M323.49 233v4.5M-5 23.4H0M327.73 233v4.5M-5 5.01H0M356.47 233v4.5" style="stroke:#222" stroke-width="1.1"/>
<text class="b" x="-38.2" y="236" font-size="19">10</text>
<text class="b" transform="translate(-19.3 225.4) scale(1.05 1)" font-size="11">1</text>
<text class="b" transform="translate(-11.1 261.8) scale(0.97 1)" font-size="20.5">10</text>
<text class="b" transform="translate(9.5 252) scale(1.05 1)" font-size="11">1</text>
<text class="b" x="-38.2" y="191.49" font-size="19">10</text>
<text class="b" transform="translate(-19.3 180.89) scale(1.05 1)" font-size="11">2</text>
<text class="b" transform="translate(65.58 261.8) scale(0.97 1)" font-size="20.5">10</text>
<text class="b" transform="translate(86.18 252) scale(1.05 1)" font-size="11">2</text>
<text class="b" x="-38.2" y="138.78" font-size="19">10</text>
<text class="b" transform="translate(-19.3 128.19) scale(1.05 1)" font-size="11">3</text>
<text class="b" transform="translate(148.46 261.8) scale(0.97 1)" font-size="20.5">10</text>
<text class="b" transform="translate(169.06 252) scale(1.05 1)" font-size="11">3</text>
<text class="b" x="-38.2" y="84.48" font-size="19">10</text>
<text class="b" transform="translate(-19.3 73.88) scale(1.05 1)" font-size="11">4</text>
<text class="b" transform="translate(231.34 263.1) scale(0.97 1)" font-size="20.5">10</text>
<text class="b" transform="translate(251.94 253.3) scale(1.05 1)" font-size="11">4</text>
<text class="b" x="-38.2" y="29.07" font-size="19">10</text>
<text class="b" transform="translate(-19.3 18.47) scale(1.05 1)" font-size="11">5</text>
<text class="b" transform="translate(314.22 264.4) scale(0.97 1)" font-size="20.5">10</text>
<text class="b" transform="translate(334.82 254.6) scale(1.05 1)" font-size="11">5</text>
<text class="b" transform="translate(6.22 30.52) scale(1.71 1)" font-size="20.13">3.77</text>
<text class="b" transform="translate(6.22 217.62) scale(1.71 1)" font-size="20.13">68.8</text>
<text class="b" transform="translate(269.73 31.22) scale(1.71 1)" font-size="20.13">17.3</text>
<text class="b" transform="translate(269.73 218.32) scale(1.71 1)" font-size="20.13">10.2</text>
</g>
<g transform="translate(160.5 1235.5)">
<ellipse cx="103.46" cy="189.15" rx="21" ry="17" fill="url(#rb)" transform="rotate(-30 103.46 189.15)"/>
<path class="dt" transform="scale(.5)" d="M359 166h0m170 8h0m-133 10h0m23 2h37h2m-188 2h172h12m-142 2h74h8h45h43h13m-321 2h184h89h19h45m-307 2h91h87m-125 2h148h15h17h28m-233 2h91h36h13h19h40h55m-163 2h41h29h4h4h9m-205 2h144h15h56h2h51h21h22m-277 2h86h27h14h8h2h9h34h17h50m-189 2h18h8h20h1h1h1h6h21h1h31h5h3h21h2h16m-255 2h112h3h41h15h35h49h6h2h14h81m-366 2h11h44h46h48h33h23h13h1h44h12m-225 2h35h46h12h14h9h6h35h11h13h13h2h8h7h16h7m-225 2h26h22h48h7h5h6h4h13h1h1h2h2h7h2h10h12h16h6h19h4h8h14h1m-228 2h6h22h1h28h4h9h12h26h15h3h3h7h1h11h19h1h11h5m-378 2h90h6h109h9h4h28h12h15h23h6h8h10h20h2h12h10h24h2h18h16m-325 2h67h32h10h38h10h19h5h6h18h12h32h25h4h31m-324 2h4h23h45h4h28h58h9h18h25h5h1h21h23h39h1h14h9h19m-300 2h22h27h66h11h1h39h11h14h3h3h5h10h5h10h14h7m-247 2h7h42h1h38h15h19h8h47h3h4h5h28h13h23h3h5h15h4m-229 2h43h31h5h3h32h25h34h27h41m-283 2h18h42h13h2h18h7h16h1h42h5h7h22h13h1h16h3h5h10h6h2h4h100m-350 2h58h3h4h64h2h3h10h28h20h12h5h12h34h1h25h4m-253 2h2h69h2h3h53h6h5h7h20h4h35h8m-315 2h224h10h14h5h8h6h15h3m-290 2h36h57h43h19h37h66h16h23h48m-272 2h42h5h38h24h7h29h46h9h113m-321 2h8h115h9h25h22h1h15h69m-307 2h24h60h11h77h18h12h30h10h106m-293 2h119h17h18h62m-183 2h119h55h21m-211 2h43h30h29h4h91m-337 2h43h60h9h34h91h4h48h5h20h1h3h45h21m-256 2h0m-18 6h0m-25 2h57h46h38h46m-138 2h40h67h27h48m-209 2h144h41h15h13h14m-229 2h131h11h85m-271 2h99h28h16h53h73h11m-121 2h21h33h70m-210 2h12h18h116h33h11m-165 2h87h5h49m-154 2h9h38h43h9h16h3h3h4h64m-191 2h29h7h58h35m-233 2h127h17h115m-181 2h54h8h59h17m-134 2h17h45h67h3h1h8m-119 2h38h2h11h31h49m-135 2h8h34h18h37h4h6h4h14h1h22m-169 2h9h47h40h99m-229 2h59h12h4h3h5h17h21h9h4h7h24h77h72m-302 2h26h11h30h10h1h3h5h11h5h9h27h106m-244 2h62h42h5h26h31h2m-169 2h58h20h9h17h11h6h2m-102 2h3h11h39h7h31h19h43h28m-169 2h4h1h17h2h24h8h4h4h17h35h5m-143 2h19h34h1h43h10h11h14h96m-248 2h18h12h10h7h5h5h2h3h27h15h1h14h22h6h11h6h17h20h18m-227 2h17h29h8h28h12h15h1h4h7h2h7h46h16h11h46m-251 2h7h40h6h1h3h9h1h19h5h16h8h9h11h7h9h65m-227 2h53h10h3h2h14h8h18h9h5h4h5h1h6h5h6h8h16h4h7h21m-206 2h39h15h6h2h3h3h3h14h3h2h11h1h1h9h4h9h4h12h1h24m-139 2h5h39h3h5h21h3h8h3h11h6h15h18h19h27h1h26m-242 2h1h3h15h23h9h11h39h16h4h3h5h4h2h4h15h9h7h5h23h18h7m-174 2h12h13h1h4h7h4h4h6h5h2h1h1h2h10h2h3h7h5h2h5h11h9h1h2h17h56m-250 2h35h1h15h30h2h8h5h3h1h2h8h7h1h6h6h29h2h14h22h7h6h16m-207 2h23h19h22h3h1h10h8h7h6h3h13h2h1h12h4h27h12h2h5h28h2m-203 2h4h10h23h5h5h5h3h5h1h1h1h3h2h1h1h5h4h6h2h1h5h1h1h4h7h2h3h17h12h13h24h6h107m-299 2h27h2h3h3h9h2h7h1h2h13h3h1h5h3h10h9h4h2h2h11h1h2h2h4h2h1h7h15h39h6h27m-212 2h11h4h13h1h19h6h2h8h1h9h2h2h2h1h2h1h2h4h2h3h1h2h3h3h3h1h12h30h17h5m-173 2h23h4h5h3h5h1h3h1h9h2h2h6h5h2h3h1h1h1h4h5h1h6h1h7h4h5h4h3h1h10h55h8h3h3h49h70m-337 2h8h4h18h15h3h1h11h5h5h4h10h3h2h14h3h10h4h3h1h8h3h4h18h1h12h14m-187 2h11h2h6h6h30h4h2h1h1h4h4h2h4h3h4h1h1h10h5h3h4h1h3h1h1h3h1h8h1h10h1h18h5h9h7h10m-175 2h15h1h3h6h3h1h8h7h4h3h1h5h1h9h2h6h6h2h6h2h2h1h3h2h1h3h1h3h5h8h1h8h5h3h2h10h9h12h44h15h2h12m-265 2h28h4h7h4h9h11h4h1h2h3h2h2h2h3h6h2h5h1h7h3h6h1h1h2h4h2h3h2h4h4h4h9h3h8h1h3h14h2h5h15m-226 2h12h10h14h12h1h13h7h8h1h3h1h1h5h7h3h16h2h5h1h6h1h1h2h1h2h1h7h1h3h1h1h3h7h3h1h2h4h2h7h3h7h1h4h1h3h3h5h48m-294 2h37h33h24h2h5h3h2h1h2h10h5h2h2h4h2h2h3h10h1h1h1h2h3h1h1h4h4h3h4h3h2h2h1h7h8h2h2h2h3h2h1h2h3h1h3h1h8h3h5h6h11h8h28h11h16h31m-394 2h71h32h44h8h5h4h5h4h6h4h5h1h2h2h2h2h1h7h6h1h2h2h3h3h1h2h5h4h2h2h4h1h3h2h3h1h3h12h2h1h7h1h19h2h12h28h7m-205 2h4h7h1h8h3h2h5h3h2h2h6h1h1h3h3h2h3h1h1h7h3h3h1h3h1h1h2h3h1h2h2h5h1h2h1h3h2h2h2h10h2h6h8h5h1h3h1h32m-196 2h7h6h1h8h6h3h3h5h1h8h3h2h1h4h2h4h3h3h1h2h1h1h3h2h3h2h2h4h2h2h2h4h1h3h1h2h3h2h2h3h2h4h1h10h2h5h2h5h1h2h1h27h20h43h2m-277 2h12h1h21h7h4h16h4h6h5h6h6h1h1h3h4h3h5h1h1h1h1h1h1h2h4h2h1h2h1h1h1h2h1h1h2h1h1h5h1h3h1h8h1h2h4h4h4h5h4h5h1h2h3h3h3h4h2h1h13h1h3h7h16h8m-249 2h8h45h6h3h13h5h1h1h2h1h2h1h4h2h2h1h1h2h1h5h2h6h4h2h9h2h2h2h2h1h3h1h3h2h2h3h2h6h9h5h1h3h2h9h2h9h6h2h2h97m-330 2h12h40h1h6h23h3h1h8h3h1h4h2h3h1h2h2h4h1h2h3h2h1h1h1h3h4h1h2h2h3h2h6h2h4h1h1h5h2h2h1h1h3h3h2h3h2h6h1h1h3h4h3h2h1h2h7h3h2h6h5h8h1h1h32h1h1h4h21h18h12m-278 2h1h4h1h6h7h17h6h5h10h3h2h4h3h1h5h1h1h3h1h2h1h1h1h2h5h1h6h1h1h1h1h1h1h6h1h1h2h3h1h1h2h1h2h3h2h1h1h4h2h4h3h2h2h1h4h1h6h4h23h11h1m-291 2h16h28h20h6h15h2h21h1h2h5h7h8h7h3h1h1h3h5h1h3h1h1h2h3h1h1h3h1h2h1h2h2h2h1h1h1h1h1h1h1h1h1h2h5h2h1h2h3h2h1h2h2h2h1h2h1h1h1h6h2h8h1h8h4h1h1h1h3h4h2h1h26h9h7h47h10m-352 2h56h22h6h7h7h1h3h1h4h16h1h1h2h2h5h2h1h3h5h1h3h1h1h4h1h1h5h1h1h1h2h2h1h1h3h1h3h1h2h1h1h2h3h3h2h2h1h3h2h1h2h2h2h1h2h1h4h2h2h4h3h4h6h10h14h2h9h2h131m-400 2h19h33h24h3h22h5h6h10h2h3h2h1h5h1h2h4h2h6h1h2h1h1h1h1h1h1h1h1h1h2h2h2h2h3h2h2h2h1h2h2h1h1h2h1h1h2h1h1h1h2h1h1h4h5h1h1h2h1h1h2h6h1h2h1h2h3h4h1h7h2h19h6h1h29h24h11m-332 2h12h14h17h25h8h7h5h6h18h2h1h3h1h2h7h1h1h2h1h1h7h2h2h1h1h2h1h3h2h2h1h1h1h1h1h1h2h1h1h2h2h1h5h1h1h1h1h3h2h1h3h1h3h1h1h1h4h2h1h2h5h3h4h3h6h1h1h4h4h8h2h5h9h5h6m-313 2h20h24h1h14h11h27h8h22h1h3h5h2h10h5h7h1h1h2h1h1h1h1h2h2h1h3h5h1h3h1h3h2h4h1h1h3h3h1h1h1h1h1h1h5h3h1h2h2h1h5h5h4h1h1h1h1h1h1h1h5h2h1h1h5h3h1h1h2h6h1h2h14h6h1h4h12m-288 2h58h21h5h3h5h11h8h17h1h2h3h7h2h2h2h3h6h3h2h2h1h2h1h1h3h1h2h1h3h1h1h1h1h1h3h1h1h1h3h1h1h1h1h3h1h1h1h2h1h1h1h1h1h1h1h1h1h1h1h1h1h2h2h2h1h1h1h2h1h1h3h1h2h1h4h7h1h1h8h10h4h2h1h12h42m-353 2h1h14h63h5h1h5h10h25h10h3h4h2h7h3h2h2h1h1h3h6h1h1h1h1h1h1h1h1h1h1h7h1h1h1h1h3h1h2h3h2h1h1h3h3h1h1h1h1h1h1h1h1h1h1h2h1h1h1h1h2h2h1h1h1h1h1h2h3h1h1h2h1h2h1h2h3h2h1h1h2h2h1h6h1h1h11h1h15h5h12h5h22m-326 2h19h14h11h21h29h1h2h2h4h10h11h2h3h4h1h1h1h4h3h2h2h1h2h4h1h1h1h2h1h1h1h1h1h3h1h4h1h3h2h1h1h3h1h2h2h1h1h3h1h1h1h2h1h1h2h1h1h2h1h2h3h1h2h1h2h6h2h2h5h2h3h2h2h1h1h4h1h2h2h1h1h2h2h7h1h3h2h1h3h1h1h5h1h12h10h9h1m-318 2h18h9h10h11h8h14h35h1h1h7h11h2h5h4h2h7h3h1h3h5h1h2h3h2h2h1h3h3h6h1h3h1h1h1h1h1h1h1h1h2h4h3h1h2h1h2h1h1h1h3h1h3h1h4h1h1h1h2h2h3h1h1h2h2h1h2h1h1h1h2h4h2h1h2h9h2h2h1h4h23h10h22h8h5h26h13m-369 2h3h9h6h18h12h14h2h3h1h1h4h27h7h4h6h6h6h2h2h2h4h1h4h3h1h1h1h1h1h1h1h1h1h1h2h2h1h1h1h1h1h1h1h1h1h2h1h3h3h1h1h2h2h4h1h1h1h1h1h1h1h1h1h1h2h1h2h1h2h2h1h1h6h3h1h2h6h2h1h4h1h5h6h2h2h5h1h2h6h1h1h2h7h5h2h23h3m-269 2h4h31h3h7h11h6h11h12h5h1h2h2h1h2h2h1h1h1h6h1h1h1h1h3h1h2h2h2h1h1h1h1h1h1h3h1h2h1h1h1h1h1h1h1h1h1h1h3h1h2h1h1h1h1h1h1h1h2h1h1h1h1h2h3h1h1h1h2h1h1h2h4h4h1h6h1h5h6h1h1h3h1h4h2h1h11h7h7h1h27h1m-295 2h28h12h8h4h3h18h2h3h1h3h4h5h4h7h3h2h4h2h6h3h1h5h1h2h1h1h3h3h2h4h4h1h1h1h1h1h3h4h1h1h1h1h1h2h1h1h2h1h1h1h1h1h1h2h1h5h1h1h4h2h1h2h1h1h2h1h3h1h1h5h3h6h1h2h1h5h1h1h5h3h2h5h5h6h8h6h10h2h6h10m-315 2h3h13h6h1h3h3h1h1h28h3h11h5h1h3h5h11h5h6h2h1h7h5h1h2h6h2h2h1h1h2h4h1h3h1h1h1h1h1h2h1h1h1h2h1h2h2h1h1h2h4h2h4h1h4h1h2h2h1h2h1h1h3h1h2h1h1h1h4h1h1h3h2h1h1h2h1h1h8h2h1h2h7h7h2h1h6h2h3h1h9h27h11h16m-348 2h5h34h1h39h22h1h8h2h4h2h10h3h4h2h6h6h6h4h3h2h5h2h1h1h1h1h2h3h1h2h3h2h1h1h1h1h1h1h1h1h2h3h1h1h2h2h1h4h1h3h1h1h4h1h1h3h1h1h1h2h1h1h3h2h3h1h3h3h4h8h2h4h2h3h4h10h4h5h7h86m-388 2h46h27h12h23h5h11h2h12h9h3h1h3h1h1h2h1h5h2h3h2h1h1h2h1h2h3h2h1h1h2h1h1h2h2h1h1h2h2h1h2h2h1h1h1h1h2h1h2h1h1h2h1h4h1h1h2h2h1h2h5h2h3h2h4h4h2h3h7h1h5h8h1h10h4h13m-254 2h45h25h1h6h2h4h2h4h2h2h6h1h2h5h3h4h3h1h1h3h1h1h3h1h1h1h1h2h1h1h2h2h1h2h2h2h1h1h1h1h2h3h1h1h2h2h1h1h1h1h4h1h2h1h4h1h2h6h2h2h1h1h1h1h4h3h2h3h1h1h1h3h5h1h1h3h1h1h1h8h5h9m-278 2h52h10h12h10h3h1h1h8h1h4h1h1h5h11h4h2h3h5h2h1h1h1h2h1h1h1h1h2h1h2h3h1h3h1h1h1h1h2h2h2h5h3h4h2h1h1h1h2h1h2h1h2h1h1h1h1h1h2h1h1h1h1h2h2h1h2h1h1h1h2h1h4h5h2h2h2h4h1h3h2h4h7h2h3h5h1h3h16h1m-263 2h12h9h9h44h10h9h13h3h1h1h5h1h1h3h4h1h3h2h3h1h2h2h1h1h1h1h1h1h1h6h1h1h1h1h1h2h1h3h1h1h1h1h3h2h2h2h3h1h1h1h1h2h5h1h1h1h5h3h1h1h8h3h2h2h1h3h6h6h3h2h107m-363 2h13h15h29h20h7h6h8h6h1h2h4h8h1h1h3h3h1h3h5h2h1h1h1h1h2h1h2h3h2h5h1h1h1h2h4h7h1h1h2h1h1h2h1h1h1h2h2h1h1h1h1h2h1h5h2h3h3h1h1h2h1h2h2h2h1h1h3h1h7h4h12h5h1h1h3h7h4h8h11h30m-336 2h11h33h8h19h1h9h1h11h15h1h1h5h1h7h13h5h2h1h1h1h5h6h1h1h1h2h1h4h1h4h1h1h2h1h1h1h2h3h1h1h1h2h1h1h6h1h3h1h2h1h1h1h3h2h1h1h2h1h2h1h2h5h5h1h4h3h3h1h2h2h13h2h1h11h7m-251 2h9h16h26h10h19h5h9h11h5h2h5h2h6h1h4h1h2h1h2h1h1h1h1h3h2h1h3h2h1h2h5h1h4h1h8h2h2h3h1h2h2h2h1h2h3h2h4h3h1h1h2h2h2h5h2h12h6h1h2h4h7h16h26m-326 2h6h28h19h10h5h19h9h21h1h8h15h4h1h4h3h5h1h1h1h2h1h1h1h1h1h1h6h2h2h1h1h4h3h2h2h3h1h1h2h4h3h1h2h1h3h2h2h2h1h2h2h2h1h2h2h3h1h5h2h7h4h2h5h1h2h1h3h2h2h6h1h2h10h3h13m-306 2h15h34h25h43h4h5h1h2h1h4h4h2h1h1h2h1h1h1h7h1h1h3h2h1h1h2h2h7h1h2h1h1h1h4h1h2h4h3h1h2h1h1h2h4h1h1h4h3h2h1h1h3h1h2h3h2h5h2h1h1h4h2h8h8h12h1h2h2h10h3h15h14h11h52h13m-348 2h11h39h20h8h1h2h15h2h4h1h4h1h1h2h5h5h3h1h3h1h2h1h3h3h1h2h1h2h5h1h1h2h5h1h3h1h3h1h1h3h3h5h2h1h1h5h1h1h2h5h1h1h5h5h14h5h13h9m-262 2h9h7h3h9h26h2h18h5h4h3h2h1h3h8h8h1h2h5h10h4h1h3h4h4h2h1h4h1h1h1h5h6h1h2h1h4h1h2h2h2h1h1h2h1h1h2h1h1h4h2h1h1h4h6h1h3h17h21m-224 2h3h21h10h5h3h9h12h2h7h4h7h3h1h6h5h7h1h2h2h2h2h1h1h2h1h1h1h3h1h2h1h1h4h2h1h7h1h4h1h2h1h2h2h2h2h2h3h4h1h2h2h2h1h1h3h4h1h2h3h2h8h2h1h10h25h2h8h7h3h8h67m-338 2h25h20h1h7h8h3h1h5h2h5h6h1h11h1h1h1h2h1h1h3h1h12h1h1h2h1h1h3h1h2h3h1h1h1h4h1h2h2h4h1h2h4h1h1h1h2h7h1h1h2h2h1h1h1h3h2h2h5h1h6h1h3h6h5h1h25h11m-298 2h70h7h18h6h9h1h1h2h2h2h6h1h4h7h1h1h1h5h1h2h2h2h1h1h1h4h1h1h1h4h3h4h4h1h5h7h1h1h2h1h2h1h3h2h1h8h3h1h3h1h3h3h4h9h2h6h4h4h2h7h6h2h26m-287 2h22h3h23h21h3h2h23h9h3h3h2h1h4h3h2h2h2h2h1h6h1h6h5h4h3h1h1h6h1h4h6h4h1h5h1h1h3h1h2h1h1h2h1h1h1h2h1h2h1h1h2h4h1h7h1h8h3h2h2h2h3h1h2h2h6h2h7h3h3h3h4h12m-278 2h72h7h7h10h10h1h4h3h1h5h3h3h5h1h1h1h1h4h1h1h1h3h1h1h1h1h1h4h10h5h2h2h2h3h8h5h4h7h1h2h6h5h5h1h1h3h8h3h2h1h1h7h6h28h63m-349 2h18h38h19h14h22h6h1h8h10h1h1h3h1h1h1h6h2h4h1h3h3h1h1h3h2h1h1h2h1h6h1h3h10h5h4h2h2h8h6h1h3h2h2h3h2h2h4h26h61h4m-352 2h5h62h27h6h16h2h4h2h6h2h5h5h1h1h3h4h10h2h4h6h1h2h1h4h3h5h3h2h1h4h1h2h5h2h2h1h1h2h1h6h3h1h9h6h13h2h1h1h10h1h4h2h3h18h33h18m-309 2h15h2h27h27h1h10h7h1h5h13h8h24h5h1h2h1h1h6h2h1h2h1h2h3h3h2h13h1h1h2h2h4h11h4h1h5h5h12h13h7m-283 2h6h18h14h16h5h18h6h1h12h2h7h13h6h4h4h1h4h1h5h3h5h3h7h4h10h4h1h1h11h1h3h6h1h3h2h1h3h4h2h4h1h2h1h2h4h8h7h6h12h3h14h7h6m-276 2h24h5h4h6h8h7h2h2h3h1h7h5h6h5h5h1h5h5h3h1h3h5h11h2h3h5h10h7h1h2h1h7h2h1h1h11h8h2h1h5h4h1h9h4h8h3h10h19h1h19m-267 2h58h10h2h1h3h5h5h1h4h2h10h3h3h12h1h4h8h8h6h1h2h3h1h5h2h2h1h5h1h3h5h4h4h3h2h3h6h7h8h1h1h2h2h7h5h2h20h2h12h33m-317 2h21h7h49h5h24h1h2h4h3h10h7h1h1h4h1h1h2h4h5h3h4h2h21h2h3h9h2h8h2h1h2h6h1h5h3h4h2h3h9h24h4m-236 2h14h1h20h29h3h4h1h4h10h6h4h4h1h3h1h6h1h6h4h2h3h6h7h6h3h9h1h2h4h5h5h5h3h5h8h7h7h6h1h6h14h8h9m-304 2h3h7h4h62h5h1h2h14h4h8h15h16h1h2h4h4h2h2h6h5h5h2h1h1h4h13h12h1h3h7h1h10h7h1h3h9h3h3h12h16h2h13h3m-249 2h33h26h6h5h11h11h3h15h7h13h3h7h1h7h1h1h4h2h1h3h2h3h2h1h1h1h2h1h3h4h4h6h3h5h4h15m-260 2h42h40h23h11h5h4h15h1h2h12h3h1h1h8h1h1h5h1h1h11h12h4h1h9h9h2h15h8h8h2m-258 2h7h1h28h11h17h2h1h12h14h7h1h10h11h1h25h2h3h24h6h5h1h4h2h5h3h7h8h1h1h10h11h4h8h1h5h19h5h31m-319 2h60h9h27h12h2h17h16h3h15h2h1h16h1h9h5h21h1h10h2h1h11h2h10h5h2h1h8h50m-274 2h8h7h2h11h23h6h1h34h11h5h14h5h3h1h2h6h1h8h18h5h1h9h7h5h3h16h13h2h22m-277 2h5h4h20h13h18h8h14h13h2h3h6h1h1h38h3h3h5h6h4h1h4h3h23h5h2h1h9h3h4h2h45h38h87m-406 2h38h35h17h9h22h1h6h3h4h4h2h7h1h2h3h3h7h5h1h1h7h2h4h1h1h5h6h2h7h5h1h9h12h2h10h16h1h32h16m-315 2h18h87h1h9h6h10h9h7h4h3h5h1h3h5h3h12h6h12h4h10h32h17h1h4h19m-245 2h24h12h19h14h15h14h4h3h12h12h73h2m-246 2h11h7h54h46h11h2h12h2h7h1h13h2h1h3h4h2h1h39h19h1h3h7h2h4h59m-314 2h8h24h15h1h4h6h5h12h13h9h2h3h6h37h1h4h4h7h8h7h9h4h5h5h1h21h20h35m-244 2h44h31h10h4h26h4h5h3h16h7h14h16h7h1h11h3h55m-291 2h50h10h18h4h10h19h3h2h5h1h32h24h4h12h2h16h3h13h2h67m-283 2h21h8h2h68h5h21h17h1h9h2h1h4h45h2h9h34h2h18m-285 2h7h23h9h4h4h4h19h5h3h3h7h2h1h2h5h1h1h4h1h4h2h3h2h1h2h2h1h1h1h3h1h1h2h5h1h1h1h2h1h2h2h1h1h1h2h1h1h2h1h1h3h2h1h1h2h4h2h1h2h1h1h1h2h3h1h1h3h3h1h1h1h3h2h1h1h2h1h1h1h1h1h2h2h1h2h2h1h1h1h2h2h1h1h3h2h1h2h4h1h2h3h3h1h3h3h5h59h25"/>
<rect x="1.5" y="192.29" width="63.55" height="41.21" fill="#fff" opacity=".86"/>
<rect x="0" y="0" width="369.5" height="234.5" fill="none" stroke="#333" stroke-width="1.7"/>
<path d="M0 0V234.5H369.5" style="stroke:#000" stroke-width="2.4"/>
<path d="M157.5 0V234.5" style="stroke:#000" stroke-width="2.6"/><path d="M0 130.5H369.5" style="stroke:#000" stroke-width="1.8"/>
<path d="M2 233.9H173.66" style="stroke:#e80000" stroke-width="1.5" opacity=".75"/>
<path d="M-10.5 234.5H0M0 234.5v7.5M-10.5 181.15H0M82.77 234.5v7.5M-10.5 127.8H0M165.54 234.5v7.5M-10.5 74.45H0M248.3 234.5v7.5M-10.5 21.1H0M331.07 234.5v7.5" style="stroke:#000" stroke-width="2"/>
<path d="M-5 218.44H0M24.92 234.5v4.5M-5 209.05H0M39.49 234.5v4.5M-5 202.38H0M49.83 234.5v4.5M-6.5 197.21H0M57.85 234.5v5.5M-5 192.99H0M64.41 234.5v4.5M-5 189.42H0M69.95 234.5v4.5M-5 186.32H0M74.75 234.5v4.5M-5 183.59H0M78.98 234.5v4.5M-5 165.09H0M107.68 234.5v4.5M-5 155.7H0M122.26 234.5v4.5M-5 149.03H0M132.6 234.5v4.5M-6.5 143.86H0M140.62 234.5v5.5M-5 139.64H0M147.17 234.5v4.5M-5 136.07H0M152.72 234.5v4.5M-5 132.97H0M157.51 234.5v4.5M-5 130.24H0M161.75 234.5v4.5M-5 111.74H0M190.45 234.5v4.5M-5 102.35H0M205.03 234.5v4.5M-5 95.68H0M215.37 234.5v4.5M-6.5 90.51H0M223.39 234.5v5.5M-5 86.29H0M229.94 234.5v4.5M-5 82.72H0M235.48 234.5v4.5M-5 79.62H0M240.28 234.5v4.5M-5 76.89H0M244.52 234.5v4.5M-5 58.39H0M273.22 234.5v4.5M-5 49H0M287.79 234.5v4.5M-5 42.33H0M298.14 234.5v4.5M-6.5 37.16H0M306.16 234.5v5.5M-5 32.94H0M312.71 234.5v4.5M-5 29.37H0M318.25 234.5v4.5M-5 26.28H0M323.05 234.5v4.5M-5 23.55H0M327.28 234.5v4.5M-5 5.05H0M355.99 234.5v4.5" style="stroke:#222" stroke-width="1.1"/>
<text class="b" x="-38.2" y="237.5" font-size="19">10</text>
<text class="b" transform="translate(-19.3 226.9) scale(1.05 1)" font-size="11">1</text>
<text class="b" transform="translate(-11.1 263.3) scale(0.97 1)" font-size="20.5">10</text>
<text class="b" transform="translate(9.5 253.5) scale(1.05 1)" font-size="11">1</text>
<text class="b" x="-38.2" y="192.65" font-size="19">10</text>
<text class="b" transform="translate(-19.3 182.05) scale(1.05 1)" font-size="11">2</text>
<text class="b" transform="translate(65.47 263.3) scale(0.97 1)" font-size="20.5">10</text>
<text class="b" transform="translate(86.07 253.5) scale(1.05 1)" font-size="11">2</text>
<text class="b" x="-38.2" y="139.6" font-size="19">10</text>
<text class="b" transform="translate(-19.3 129) scale(1.05 1)" font-size="11">3</text>
<text class="b" transform="translate(148.24 263.3) scale(0.97 1)" font-size="20.5">10</text>
<text class="b" transform="translate(168.84 253.5) scale(1.05 1)" font-size="11">3</text>
<text class="b" x="-38.2" y="84.95" font-size="19">10</text>
<text class="b" transform="translate(-19.3 74.35) scale(1.05 1)" font-size="11">4</text>
<text class="b" transform="translate(231 264.6) scale(0.97 1)" font-size="20.5">10</text>
<text class="b" transform="translate(251.6 254.8) scale(1.05 1)" font-size="11">4</text>
<text class="b" x="-38.2" y="29.2" font-size="19">10</text>
<text class="b" transform="translate(-19.3 18.6) scale(1.05 1)" font-size="11">5</text>
<text class="b" transform="translate(313.77 265.9) scale(0.97 1)" font-size="20.5">10</text>
<text class="b" transform="translate(334.37 256.1) scale(1.05 1)" font-size="11">5</text>
<text class="b" transform="translate(6.21 30.72) scale(1.7 1)" font-size="20.26">1.48</text>
<text class="b" transform="translate(6.21 219.02) scale(1.7 1)" font-size="20.26">92.8</text>
<text class="b" transform="translate(269.37 31.42) scale(1.7 1)" font-size="20.26">3.90</text>
<text class="b" transform="translate(269.37 219.73) scale(1.7 1)" font-size="20.26">1.85</text>
</g>
<g transform="translate(618 1236.5)">
<ellipse cx="109.7" cy="178.45" rx="21" ry="17" fill="url(#rb)" transform="rotate(-30 109.7 178.45)"/>
<path class="dt" transform="scale(.5)" d="M488 122h0m-34 18h68m-58 2h59h3m-178 2h114m-23 2h0m-25 2h54h1h94m-111 2h154m-221 2h16h56m-48 4h8h34h23h3h24h2m-248 2h94h211m-97 2h6h11h23h3h8m-82 2h28h17h19h35m-132 2h60h36h15m-172 2h28h14h75h12h4h27h25m-185 2h78h27h16h14h14h16h15h26m-187 2h25h2h30h1h17h9h11h37h15h4h14m-183 2h67h18h10h23h21h8h55m-156 2h23h7h4h35h1h24h61h7m-164 2h9h1h28h1h5h4h27h4h6h18h1h2h7h10h6h56m-248 2h42h68h6h2h11h8h11h5h25h1h3h9m-119 2h3h1h25h4h6h10h12h11h10h1h12h20h17h3h11m-256 2h88h17h12h24h15h20h3h19h13h32m-159 2h30h1h8h1h1h8h4h1h1h8h15h5h23h35m-249 2h82h10h2h19h25h9h14h1h1h1h6h8h1h3h2h6h1h12h1h34h16m-268 2h7h11h29h8h43h32h34h10h8h12h5h13h5h5m-187 2h30h48h11h24h6h12h16h7h12h19h17h41h6m-304 2h19h95h2h3h26h15h3h26h15h8h18h18h24h54m-284 2h16h13h35h19h1h34h5h3h1h3h17h10h3h23h4h18h14m-221 2h1h32h35h3h13h38h15h8h2h9h1h6h10h7h12h17h12h20h30h76m-357 2h24h13h68h49h3h5h22h2h5h9h4h42h37m-296 2h44h2h31h17h4h2h11h30h2h7h1h4h12h1h5h5h1h16h6h16h20h22h4m-232 2h46h5h16h24h9h19h1h6h2h18h9h30h13h1h15m-246 2h29h83h4h3h18h15h25h3h17h6h26m-212 2h5h4h23h9h43h19h1h11h13h1h5h11h4h4h17h18h9h9h77h6m-280 2h61h23h26h16h15h23h22m-226 2h15h2h14h39h36h8h4h9h3h39h2h28h111m-307 2h41h36h29h29h4h21h12h12h9h18h39m-212 2h5h7h29h35h17h18h3h2h4h28h9h38h12m-269 2h58h10h5h1h15h36h15h9h17h15h2h2h32h33h3h62m-283 2h16h25h9h2h6h12h59h21h12h20h10h7h3h18h41m-280 2h28h4h12h1h13h12h8h26h23h34h11h1h18h6h13h3h1h4h6h2h7m-226 2h12h2h5h6h7h20h3h31h22h34h1h12h1h13h18h14m-247 2h8h46h9h14h20h3h29h22h2h29h2h10h6h8h7h13h41h42m-198 2h3h26h37h18h40h23m-168 2h19h30h120m-245 2h61h80h8h13h81m-183 2h49h8h27h78h38h14m-240 2h12h82h13h42m-162 2h151m-129 2h3h101h70m-203 2h11h5h49h19h4h45m-63 2h26h59h6m-79 2h29h30h15h37h44m-203 2h16h7h45h57h43h12m-122 2h28h54h27m-131 2h15h37h42h2h42h7h11m-163 2h2h14h6h2h8h3h9h1h12h12h13h2h18h15h3h9h89m-197 2h1h33h1h4h6h8h2h3h10h15h21h2h20h14h4h24h4m-218 2h45h14h7h9h3h1h9h4h7h1h8h3h2h33h17h2h1h53h33m-262 2h57h7h28h6h2h11h8h12h2h13h10h1h33h4h17h7m-163 2h25h3h16h22h2h20h5h11h2h4h15h21h9h9h24h14m-272 2h70h7h1h1h6h3h9h6h12h4h18h6h12h30h1h18h5h32m-182 2h2h33h2h2h4h11h1h1h1h7h10h5h6h13h14h5h4h9h1h30h115m-372 2h109h7h15h5h1h3h6h3h16h6h2h1h15h1h1h5h9h6h11m-194 2h13h50h19h4h3h12h3h1h11h6h17h10h1h1h2h8h12h9h28m-181 2h27h13h18h7h19h33h8h33h88h16m-217 2h2h20h9h1h2h7h12h9h6h2h24h26h23h12h5h1h4h55h10m-301 2h25h13h29h24h1h2h21h13h11h1h11h4h2h1h6h1h19h10h32m-228 2h18h24h1h16h3h10h7h20h14h9h2h3h7h7h6h6h15h10h5h7h58m-263 2h66h13h5h2h1h2h1h10h6h1h13h3h6h2h5h1h11h8h1h3h1h29h2h2h2h10h72m-273 2h34h4h1h22h11h8h3h8h3h12h7h7h2h1h3h1h11h3h5h5h1h2h5h13h15h1h23h23h12h50m-300 2h28h19h8h13h10h2h11h3h4h4h8h2h2h4h4h3h1h2h1h1h6h6h1h10h6h5h9h2h2h21h2h23h34m-303 2h40h23h50h3h15h25h7h3h5h4h9h15h6h25h20h17h28h10h43m-298 2h33h9h12h8h1h16h8h4h5h2h1h15h1h1h3h7h5h9h6h4h1h2h8h12h6h6h3h4h11m-188 2h17h38h2h8h4h3h4h1h15h3h5h4h2h7h3h5h3h11h11h19h8h7h17h9h1h21m-263 2h52h7h4h3h1h15h1h13h8h3h4h1h18h1h3h1h42h5h7h2h38h6h22h9m-239 2h3h2h12h39h7h3h5h5h2h1h3h1h4h7h13h9h12h2h6h28h11h1h13h7h20h25h10m-235 2h10h2h22h11h36h4h4h1h11h4h1h1h3h8h4h2h4h3h4h6h4h17h30h10h9h3h54m-301 2h19h2h18h21h7h1h5h5h2h14h7h5h16h2h2h4h1h9h2h1h6h5h8h3h15h1h1h3h4h5h1h10h17h6h22h10h51m-293 2h15h9h15h2h10h6h10h7h3h6h5h3h5h2h2h1h12h3h2h3h2h1h13h12h15h20h31h28h41m-336 2h61h10h21h18h4h3h4h5h3h7h2h7h10h4h7h1h6h1h2h2h8h1h11h6h26h14h4h22h91h16m-334 2h6h14h5h2h17h14h1h13h4h3h11h4h2h9h14h15h1h7h23h10h6h20h3h12h2h108m-355 2h27h3h13h2h7h14h2h15h1h4h11h11h2h9h1h3h1h6h17h1h2h10h16h6h2h5h9h1h7h11h12h4h67m-280 2h7h1h19h15h4h5h3h1h1h2h5h9h1h7h8h1h16h1h2h1h3h2h2h48h12h3h6h1h4h26m-220 2h16h13h14h8h18h2h2h2h2h2h7h7h12h1h5h1h9h9h22h4h3h3h4h3h10h54h16h6m-280 2h6h37h7h3h9h1h16h10h2h1h4h1h4h2h4h7h11h11h8h3h4h1h7h4h1h2h1h8h2h3h1h14h46h10h9h14m-252 2h18h4h3h2h8h2h3h4h4h5h14h6h19h2h2h3h2h2h2h5h4h5h10h7h2h7h5h5h1h4h11h5h4h32h13h4h79m-316 2h9h17h1h2h1h1h8h5h1h12h1h2h2h6h3h8h3h3h4h4h1h3h1h3h3h4h6h1h1h17h4h1h1h2h6h1h1h3h3h6h33h51m-240 2h8h4h4h10h6h14h1h6h1h7h2h1h7h6h1h7h4h1h7h1h7h3h1h8h9h2h9h1h3h3h1h4h18h2h55m-229 2h9h8h17h3h5h8h6h4h6h1h8h5h1h1h3h1h1h3h3h2h6h4h1h1h2h2h1h4h5h1h4h2h7h18h3h19h11h11h43h8h40h42m-380 2h84h2h10h2h5h1h1h3h7h1h7h4h2h1h1h2h3h2h1h13h4h8h1h3h2h5h7h1h6h1h16h2h1h21h2h10h19h3h2h22h80h7m-348 2h24h5h4h5h3h10h7h7h4h2h2h13h4h2h12h1h15h10h7h1h2h5h11h2h2h9h8h7h1h4h5h9h2h11h17h22h11h8h4h43m-352 2h46h6h25h7h1h16h2h9h1h3h1h2h2h5h5h2h4h2h4h4h3h6h4h2h4h1h1h4h1h7h3h1h3h2h5h12h1h3h2h5h31h46h9h38h18m-303 2h2h3h4h13h9h1h5h2h4h3h5h2h3h1h1h2h1h1h1h1h6h1h3h2h3h1h2h2h2h1h4h3h2h1h1h1h1h8h5h4h5h5h5h3h10h9h3h15h6h1h13h22h8h7m-261 2h1h11h6h7h1h11h7h8h4h4h1h10h13h1h1h3h3h2h1h4h1h6h7h2h2h2h3h6h1h1h2h2h2h2h2h3h2h2h1h2h4h1h7h3h1h2h1h2h7h1h17h7h18h14h4h28h19h43h11m-418 2h60h3h38h3h15h10h5h3h1h1h1h1h1h3h2h1h1h5h1h2h3h3h2h2h3h1h1h2h1h2h2h2h5h1h4h1h2h3h1h1h6h4h3h1h1h2h2h8h5h7h3h4h5h1h1h5h3h20h3h15h18h25h26h38m-373 2h67h8h14h1h7h6h3h1h4h3h1h1h1h1h2h2h7h2h4h3h1h2h2h4h6h2h3h3h2h3h2h1h5h2h1h1h1h1h9h2h1h1h1h2h2h2h1h3h2h19h1h8h13h16h3h16h15m-399 2h35h17h47h47h5h20h4h9h3h9h4h1h2h8h1h3h6h1h4h1h1h8h3h2h5h2h1h7h9h2h1h2h1h2h2h2h2h2h2h1h5h1h6h6h3h4h1h3h7h8h5h6h5h1h12h5h2h11h15h36h41m-425 2h119h2h2h1h2h13h3h3h3h1h1h1h1h2h1h2h1h1h1h2h4h3h3h2h1h1h1h1h1h3h1h1h2h4h1h8h1h3h3h3h3h2h1h1h6h1h3h2h2h7h2h1h1h1h1h1h2h1h5h11h7h15h1h1h6h2h6h11h6m-313 2h9h41h3h1h60h2h5h4h1h8h12h7h2h1h2h4h1h2h3h6h2h4h1h2h1h1h1h1h1h4h1h1h2h1h1h2h2h1h1h1h1h1h2h2h4h4h5h3h2h1h4h2h1h5h1h1h3h16h4h3h14h4h88h29m-306 2h4h9h23h1h3h2h2h1h3h7h2h2h1h4h1h1h2h2h1h3h2h3h1h1h1h2h3h2h1h1h1h1h3h1h2h4h4h4h1h1h2h2h2h1h1h1h2h3h1h3h1h1h4h1h2h3h6h2h6h2h7h2h2h2h8h1h1h1h1h1h2h4h6h13h6h7h8h13h6h2h1m-294 2h13h9h11h1h8h10h7h14h5h2h2h5h2h7h3h1h4h1h6h1h2h1h1h3h3h2h1h3h2h2h1h3h2h1h1h2h1h1h2h2h1h5h1h1h1h1h1h1h2h1h2h7h2h1h3h1h1h2h2h1h2h4h4h2h2h3h8h3h1h7h2h1h4h7h8h39h29h28h6h33m-450 2h5h6h3h18h9h27h33h13h5h5h10h2h6h3h3h20h1h1h1h1h1h2h1h1h2h2h2h2h1h1h2h1h2h5h3h3h1h1h1h2h1h1h3h1h1h4h1h2h2h1h4h2h1h1h2h2h2h1h2h1h2h6h1h1h3h4h18h1h4h1h1h17h1h3h3h1h45h6m-353 2h29h21h11h65h1h4h3h2h3h3h1h2h2h3h1h5h1h1h3h1h1h1h3h1h3h1h1h2h1h1h2h1h2h1h2h3h1h1h1h1h1h1h1h1h1h2h2h6h1h2h5h1h1h1h3h1h1h2h1h2h3h1h9h1h3h2h1h7h1h2h26h1h1h2h11h2h5h8h2h2h1h2h46m-363 2h100h6h10h2h1h13h10h4h3h2h2h1h3h1h6h3h1h1h1h2h1h1h2h1h2h3h5h1h1h2h1h1h4h1h3h3h4h2h1h2h2h3h2h1h4h5h1h1h2h3h10h3h1h6h7h3h2h4h6h9h2h7h14h9h7h4h10h10m-341 2h54h29h3h25h4h3h1h2h4h3h3h1h1h1h2h2h2h3h1h6h1h1h3h1h1h1h3h1h1h1h2h1h1h1h1h1h1h1h1h2h2h3h2h1h1h1h3h6h3h3h1h2h2h1h2h1h4h4h2h3h2h2h6h1h1h1h6h1h3h8h2h10h2h5h5h1h5h19h2h16h44h14h89m-436 2h25h7h10h30h3h1h2h4h1h2h1h6h1h2h1h1h4h1h2h2h2h2h1h1h1h3h1h1h2h2h2h1h1h2h2h1h1h1h1h1h1h1h1h4h1h2h1h1h2h2h1h2h2h2h4h2h1h1h1h5h2h2h1h4h1h2h2h1h3h2h3h1h9h3h5h2h12h6h13h5h9h20h2h28h5h14h28m-363 2h19h28h9h4h5h1h6h4h3h7h2h2h3h1h7h3h1h1h1h1h7h1h1h1h1h1h2h1h3h2h1h4h1h2h1h4h5h1h2h3h1h1h1h1h1h3h2h1h4h2h1h2h1h1h1h1h1h1h2h3h2h1h1h1h1h1h2h3h8h2h1h1h3h1h1h4h3h2h10h2h3h7h25h6h3h4h1h20h6h40m-403 2h20h23h50h4h29h4h8h1h1h2h2h1h15h1h6h1h3h1h1h1h2h3h3h2h1h1h1h1h1h3h1h3h2h1h1h1h2h1h2h1h1h3h2h1h1h1h1h4h1h1h3h4h2h9h2h2h4h2h1h1h10h2h2h1h3h1h2h5h1h2h4h7h1h8h28h11h63m-392 2h61h6h8h20h5h10h4h2h11h1h5h1h5h3h4h1h1h2h1h2h2h2h1h6h2h1h1h3h4h1h1h1h1h1h2h1h3h6h1h2h3h4h1h1h2h4h3h2h3h3h2h5h3h2h2h6h7h6h1h6h1h10h3h7h9h2h1h2h15h13h8h22h7h20m-375 2h59h37h3h2h4h1h6h1h3h1h9h7h2h5h1h3h1h1h5h2h4h2h1h1h1h1h1h1h1h1h1h2h1h2h1h1h3h1h1h2h1h1h1h2h1h1h2h1h2h3h1h6h1h3h5h4h2h1h3h4h1h1h2h5h1h3h2h8h7h1h2h3h5h6h1h1h32h64m-317 2h22h10h12h10h2h12h1h8h3h6h3h3h1h1h1h1h1h5h1h1h1h2h2h1h5h1h1h2h1h1h2h1h2h1h2h3h2h2h1h2h1h3h1h1h2h3h7h3h3h1h4h2h4h3h1h6h2h9h14h3h9h4h18h7h18h104h67m-439 2h18h2h6h6h10h3h8h5h9h1h3h2h3h3h1h1h1h1h2h1h2h1h1h1h2h1h3h1h1h1h4h1h2h1h2h1h1h3h2h1h2h1h1h1h2h1h4h1h2h1h4h2h1h1h4h1h6h2h1h1h1h5h1h4h2h4h1h6h2h6h5h11h4h3h16h14h36h9h34h23h29h13m-436 2h39h5h21h10h15h7h1h2h10h2h1h1h1h1h11h2h1h2h1h3h1h3h4h2h4h1h2h7h3h1h1h2h1h1h3h1h2h1h1h2h1h5h1h1h4h1h4h3h1h1h1h4h2h2h1h1h1h4h1h4h1h1h7h15h3h3h2h11h10h16h1h2h14h5h49h19m-396 2h1h15h10h13h17h14h15h2h7h8h6h1h11h3h2h3h3h4h1h6h4h2h1h1h2h3h2h1h1h1h4h1h2h1h2h2h1h1h2h1h1h1h6h2h1h1h1h1h1h1h1h1h1h1h3h1h1h1h1h6h2h2h1h4h2h4h3h1h2h3h1h7h7h5h1h5h5h4h7h3h22h35h8h20h130m-490 2h28h9h53h1h9h6h1h5h2h5h3h1h1h6h1h1h2h2h1h3h2h3h1h4h1h1h2h1h2h1h1h1h1h1h1h2h1h2h1h2h1h1h4h1h1h1h1h2h2h3h4h2h1h1h5h6h1h1h1h1h1h1h2h3h7h2h2h9h2h2h9h9h24h37h10h43m-398 2h31h9h11h2h8h22h11h16h3h4h3h8h4h2h4h3h5h1h2h2h3h1h2h3h3h4h1h1h2h1h1h1h3h2h1h2h2h1h3h1h2h1h5h1h2h3h3h5h1h4h2h2h2h3h2h2h1h2h2h1h7h1h3h1h5h2h6h1h3h1h12h7h3h6h5h1h17h13h19m-257 2h13h2h3h2h12h4h4h4h2h1h5h1h2h3h3h2h2h1h2h1h1h1h3h1h1h1h1h5h3h2h7h1h4h1h8h2h4h3h2h3h1h1h1h1h2h3h2h3h1h3h3h5h4h1h4h1h2h2h2h3h1h1h6h1h9h2h1h7h2h1h4h7h2h7h1h7h4h4h7h14h25h3h65m-408 2h76h10h4h2h1h3h3h5h3h2h3h5h5h5h6h2h1h1h3h2h1h1h5h2h2h2h1h1h1h1h1h3h1h1h4h1h1h1h3h1h4h3h1h2h3h2h2h1h2h4h2h6h1h2h7h1h7h4h4h1h1h8h10h9h6h34h9h3h2h94m-441 2h5h18h49h24h23h1h1h3h5h2h8h8h2h1h1h2h3h4h1h2h1h2h4h1h2h1h1h2h1h1h2h1h1h1h2h2h1h1h2h1h2h4h1h2h1h2h1h3h1h1h4h2h2h1h1h1h2h2h4h9h1h11h5h4h1h1h1h7h2h5h14h1h1h1h9h2h19h16m-331 2h10h9h33h18h6h12h3h17h1h2h2h16h5h1h2h2h3h1h2h1h1h2h2h5h1h1h1h1h1h2h8h1h2h4h2h1h1h1h3h1h3h2h10h1h2h1h1h2h1h1h2h1h2h1h6h1h8h3h4h3h6h2h5h1h7h3h1h2h6h1h4h2h5h1h1h1h13h1h17h46m-383 2h45h45h15h11h1h12h1h2h7h9h6h1h1h5h2h2h9h1h1h1h3h1h1h2h1h1h1h2h4h1h1h2h1h1h1h2h1h1h8h1h10h2h2h1h1h1h3h5h1h1h1h1h3h4h1h1h2h1h3h2h3h4h2h2h3h7h2h7h1h9h5h17h6h12h58h8m-354 2h28h34h2h25h1h1h1h8h1h2h1h3h1h1h1h1h3h1h4h2h3h1h2h2h2h3h1h1h6h2h1h1h3h1h4h3h3h1h3h3h2h1h3h2h1h3h14h8h6h2h8h2h9h8h4h27h1h16h2h10h31m-321 2h20h18h9h2h25h10h1h8h8h1h3h8h3h5h4h1h4h3h4h1h2h5h2h1h6h4h2h1h3h1h3h4h1h1h1h2h5h1h1h2h1h2h4h2h2h3h4h3h1h2h1h27h2h13h10h64h61m-440 2h88h14h7h1h9h1h2h4h3h1h3h3h2h1h12h2h2h1h3h2h2h1h6h2h4h1h3h1h1h1h1h1h1h1h4h5h7h2h6h1h8h3h5h1h1h2h2h1h3h1h1h2h5h6h7h2h4h13h7h7h40h41h77m-448 2h18h91h3h9h7h5h2h4h9h1h2h5h1h1h1h2h5h4h1h4h4h1h1h1h1h2h1h2h2h7h3h2h2h5h1h1h5h5h3h1h1h2h4h4h10h5h5h2h2h3h1h3h1h3h10h2h3h37h29h7h73h3m-439 2h19h69h26h5h6h3h4h9h5h5h1h3h4h9h2h1h3h1h2h1h4h1h1h5h1h1h1h1h1h1h1h2h12h1h2h2h7h1h5h9h1h1h1h5h1h5h1h4h6h14h8h11h19h11h12h48h27m-334 2h9h13h9h3h1h2h18h5h9h1h1h2h7h1h5h1h3h1h2h1h1h3h2h1h1h1h2h4h1h3h3h4h3h2h4h1h4h5h6h11h10h8h1h9h2h11h36h6h1h7h12h13m-337 2h36h30h31h15h5h2h2h7h1h2h1h4h2h1h5h1h1h5h4h3h5h1h1h1h2h4h2h2h4h2h1h2h3h2h5h2h1h1h8h3h3h3h1h6h10h3h9h2h5h32h19h2h1h2h1h25h81m-427 2h2h4h13h68h4h4h11h6h3h11h11h2h12h2h5h3h11h4h3h1h2h2h3h1h2h1h1h1h2h1h4h6h3h2h4h1h1h1h2h5h1h3h1h1h9h2h9h9h1h12h2h4h7h17h7h50h41h22h84m-511 2h66h9h23h2h2h2h13h5h2h2h6h3h3h2h1h10h1h7h3h1h5h6h2h2h5h2h2h2h2h2h3h1h3h1h2h5h4h1h6h4h2h1h1h1h2h2h1h6h6h1h1h2h6h1h2h1h8h1h11h7h3h29h71h91m-483 2h110h14h7h2h9h1h2h5h7h2h8h1h5h2h2h1h1h5h2h9h3h1h4h1h2h3h3h1h1h18h1h1h1h6h7h5h5h7h2h19h2h3h21h29h134h47m-507 2h46h7h11h20h10h23h5h7h2h10h2h3h4h8h1h2h3h4h2h3h1h5h10h1h7h2h8h9h2h14h7h23h1h2h8h1h33h3h1h6h23h17h17h35h41m-422 2h3h2h1h14h32h18h1h19h17h2h1h2h10h5h5h5h2h2h3h4h1h2h1h6h2h1h1h2h1h2h6h2h2h14h3h11h8h11h10h10h3h1h8h18h5h108m-428 2h1h77h53h4h3h2h3h5h4h2h15h14h3h12h9h3h1h18h12h5h2h10h2h14h4h32h1h6h25h22m-325 2h4h19h39h2h1h2h5h6h2h1h17h4h5h1h1h1h5h1h5h3h2h7h3h4h4h3h1h3h2h5h4h8h9h6h5h2h5h7h5h42h26h35h17h15h50h17m-448 2h31h29h19h35h21h6h6h1h7h1h2h4h2h2h1h1h2h3h4h1h4h6h1h4h9h6h4h2h1h10h2h7h8h8h8h9h30h12h23h23m-300 2h1h21h11h45h1h3h3h11h3h2h2h3h17h1h1h3h5h1h1h1h1h3h1h4h1h3h2h1h15h5h11h12h12h3h2h1h1h73h29h107m-388 2h1h2h2h10h10h7h15h6h10h11h5h1h1h1h5h9h14h6h1h1h4h1h4h3h2h2h7h12h45h14h34h55m-380 2h29h65h7h20h2h3h3h1h19h6h1h7h3h7h5h4h4h5h14h4h1h5h1h10h1h2h22h8h84h6m-331 2h34h32h6h26h8h29h2h8h2h4h2h1h2h4h4h2h4h2h1h1h1h1h6h5h17h35h34h39h30m-365 2h2h35h20h26h16h7h3h6h3h5h7h7h8h3h5h5h9h9h2h1h3h1h9h5h1h11h2h14h3h12h2h4h8h17h23h5h6h60h4h106m-459 2h25h4h5h2h26h30h4h7h1h14h1h9h1h4h8h5h1h10h3h5h4h5h11h3h88h3h23h24h62m-398 2h58h24h1h8h2h5h14h9h5h2h2h18h2h3h6h1h9h7h10h18h2h3h12h2h8h11h146h11h48m-423 2h45h4h23h9h22h5h6h7h14h1h5h1h1h11h12h3h21h4h3h10h21h9h146h5h3h37m-459 2h79h6h9h1h17h22h12h4h2h9h3h12h10h4h1h9h8h22h93h44h33h27m-427 2h19h5h25h47h23h33h6h2h1h2h4h8h6h3h8h18h5h1h2h200m-412 2h58h4h10h4h7h9h3h5h1h1h5h14h12h9h1h1h5h2h5h13h6h1h2h3h9h1h4h14h41h212m-484 2h13h54h13h7h2h10h4h19h13h4h14h7h1h1h8h6h1h5h16h5h11h22h11h18h94h13h23m-376 2h30h62h1h5h9h48h10h2h13h1h4h6h105h59h26h10h19m-421 2h4h16h4h45h17h6h1h5h24h6h7h15h6h1h6h5h28h1h12h26h19h4h93h27h9m-344 2h31h12h5h7h12h23h6h3h2h6h5h14h15h25h17h6h32h71h3h54m-355 2h21h23h26h18h14h6h16h8h11h13h82h57h86h21h7h50m-455 2h57h7h16h11h3h11h9h21h28h18h12h81h24h129m-399 2h21h3h7h3h8h2h9h52h2h1h137m-308 2h4h9h48h23h16h9h6h8h1h5h25h3h63h2h34h75h49h56h81m-467 2h3h16h21h10h28h2h17h64m-190 2h137h6h10m-173 2h45h12h30h6h65h4h5h13h16h11h39m-237 2h5h39h4h14h5h46h3h2h28h20m-149 2h38h32h26h4h39h1h48m-211 2h12h28h23h5h10h7h2h3h5h1h2h4h5h1h1h3h7h2h2h5h1h4h1h2h11h5h2h1h3h5h1h3h5h1h7h1h1h3h11h2h14h3h1h3h11h1h4h1h11h8h99"/>
<rect x="1.5" y="189.42" width="63.81" height="40.58" fill="#fff" opacity=".86"/>
<rect x="0" y="0" width="371" height="231" fill="none" stroke="#333" stroke-width="1.7"/>
<path d="M0 0V231H371" style="stroke:#000" stroke-width="2.4"/>
<path d="M158.5 0V231" style="stroke:#000" stroke-width="2.6"/><path d="M0 129H371" style="stroke:#000" stroke-width="1.8"/>
<path d="M2 230.4H174.37" style="stroke:#e80000" stroke-width="1.5" opacity=".75"/>
<path d="M-10.5 231H0M0 231v7.5M-10.5 178.45H0M83.1 231v7.5M-10.5 125.89H0M166.21 231v7.5M-10.5 73.34H0M249.31 231v7.5M-10.5 20.79H0M332.42 231v7.5" style="stroke:#000" stroke-width="2"/>
<path d="M-5 215.18H0M25.02 231v4.5M-5 205.93H0M39.65 231v4.5M-5 199.36H0M50.03 231v4.5M-6.5 194.27H0M58.09 231v5.5M-5 190.11H0M64.67 231v4.5M-5 186.59H0M70.23 231v4.5M-5 183.54H0M75.05 231v4.5M-5 180.85H0M79.3 231v4.5M-5 162.63H0M108.12 231v4.5M-5 153.37H0M122.75 231v4.5M-5 146.81H0M133.14 231v4.5M-6.5 141.71H0M141.19 231v5.5M-5 137.55H0M147.77 231v4.5M-5 134.04H0M153.34 231v4.5M-5 130.99H0M158.15 231v4.5M-5 128.3H0M162.41 231v4.5M-5 110.08H0M191.22 231v4.5M-5 100.82H0M205.86 231v4.5M-5 94.26H0M216.24 231v4.5M-6.5 89.16H0M224.3 231v5.5M-5 85H0M230.88 231v4.5M-5 81.48H0M236.44 231v4.5M-5 78.44H0M241.26 231v4.5M-5 75.75H0M245.51 231v4.5M-5 57.52H0M274.33 231v4.5M-5 48.27H0M288.96 231v4.5M-5 41.7H0M299.35 231v4.5M-6.5 36.61H0M307.4 231v5.5M-5 32.45H0M313.98 231v4.5M-5 28.93H0M319.54 231v4.5M-5 25.88H0M324.36 231v4.5M-5 23.19H0M328.61 231v4.5M-5 4.97H0M357.43 231v4.5" style="stroke:#222" stroke-width="1.1"/>
<text class="b" x="-38.2" y="234" font-size="19">10</text>
<text class="b" transform="translate(-19.3 223.4) scale(1.05 1)" font-size="11">1</text>
<text class="b" transform="translate(-11.1 259.8) scale(0.97 1)" font-size="20.5">10</text>
<text class="b" transform="translate(9.5 250) scale(1.05 1)" font-size="11">1</text>
<text class="b" x="-38.2" y="189.95" font-size="19">10</text>
<text class="b" transform="translate(-19.3 179.35) scale(1.05 1)" font-size="11">2</text>
<text class="b" transform="translate(65.8 259.8) scale(0.97 1)" font-size="20.5">10</text>
<text class="b" transform="translate(86.4 250) scale(1.05 1)" font-size="11">2</text>
<text class="b" x="-38.2" y="137.69" font-size="19">10</text>
<text class="b" transform="translate(-19.3 127.09) scale(1.05 1)" font-size="11">3</text>
<text class="b" transform="translate(148.91 259.8) scale(0.97 1)" font-size="20.5">10</text>
<text class="b" transform="translate(169.51 250) scale(1.05 1)" font-size="11">3</text>
<text class="b" x="-38.2" y="83.84" font-size="19">10</text>
<text class="b" transform="translate(-19.3 73.24) scale(1.05 1)" font-size="11">4</text>
<text class="b" transform="translate(232.01 261.1) scale(0.97 1)" font-size="20.5">10</text>
<text class="b" transform="translate(252.61 251.3) scale(1.05 1)" font-size="11">4</text>
<text class="b" x="-38.2" y="28.89" font-size="19">10</text>
<text class="b" transform="translate(-19.3 18.29) scale(1.05 1)" font-size="11">5</text>
<text class="b" transform="translate(315.12 262.4) scale(0.97 1)" font-size="20.5">10</text>
<text class="b" transform="translate(335.72 252.6) scale(1.05 1)" font-size="11">5</text>
<text class="b" transform="translate(6.23 30.26) scale(1.73 1)" font-size="19.95">1.51</text>
<text class="b" transform="translate(6.23 215.75) scale(1.73 1)" font-size="19.95">81.9</text>
<text class="b" transform="translate(270.46 30.95) scale(1.73 1)" font-size="19.95">7.61</text>
<text class="b" transform="translate(270.46 216.45) scale(1.73 1)" font-size="19.95">8.98</text>
</g>
<g transform="translate(153.5 1525.5)">
<ellipse cx="79.37" cy="186.95" rx="21" ry="17" fill="url(#rb)" transform="rotate(-30 79.37 186.95)"/>
<path class="dt" transform="scale(.5)" d="M499 174h0m-157 10h0m2 4h0m-12 4h59h70m-72 4h9h87m-247 2h118h2h87h4h30m-204 2h78h23h65h6h59h15m-144 2h21h17h36h52m-186 2h12h11h61h25h45m-72 2h21m-245 2h144h43h19h5h13h36h1h16h5h84m-394 2h202h53h6h14h67h83m-301 2h62h21h21h21h81h10h26m-170 2h6h45h16h8h1h16h11h2h13h16h32m-224 2h15h29h15h8h7h8h3h6h39h21h8h17h5h2m-280 2h143h19h6h26h12h10h20h16m-147 2h24h4h5h11h3h2h14h11h5h3h11h5h2h69h5h14m-379 2h94h1h35h4h69h11h16h38h21h1h10h1h1h11h14h12h25h13h16m-170 2h10h2h10h2h1h8h18h5h10h3h3h1h9h9h4h3h6h4h18m-313 2h170h35h11h3h8h7h3h26h4h15h12h13h12h3h53h46m-260 2h11h24h13h15h15h5h10h3h3h3h18h3h72m-238 2h35h28h38h66h11m-209 2h5h44h49h35h13h12h14h109m-343 2h23h76h42h29h23h33h17h7h41h4m-187 2h26h1h46h4h6h57h6h9h18h87m-349 2h176h4h29h8h11h9h1h12h33m-228 2h32h16h97h1h11h5h36h3h25m-81 2h22h33m-180 2h78h9h15h47h1h4h39h1m-302 2h74h13h65h3h36h5h5h11h15h18h5h52m-183 2h5h29h9h13h69m-183 2h25h85h16h2h25h21h72m-277 2h34h94h23m-109 2h16h202m-254 2h42h94h19h28h13h26m-69 2h0m-108 2h7h43h82h10m-93 2h47m-154 2h13h63h39h7m-82 2h30h9h66h31h31h46m-261 2h69h5h2h96h18h27m-159 2h29h21h5h4h19h6h64m-193 2h74h17h21h65m-160 2h117h2h11h23m-118 2h74m-52 2h42h16h15h95m-196 2h62m-53 2h3h3h26h4h116m-165 2h74h4h31m-193 2h27h11h45h7h4h11h27h38h104m-232 2h24h34h7h9h51h5m-133 2h48h2h3h13h15h56h11h10h2h34h29m-203 2h36h24h10h37h6h1h13m-166 2h26h34h2h65h26h7h44m-167 2h16h31h3h1h10h120m-217 2h25h21h10h2h19h8h7h2h2h8h27h19m-154 2h42h2h15h1h8h4h8h24h7h26h13h150m-287 2h17h9h48h15h14h6h9h3h48h16m-194 2h2h42h1h2h31h24h2h21h3h4h12m-177 2h31h23h8h9h1h3h16h1h3h10h1h8h2h7h22h9h17h4h62m-227 2h34h17h8h2h1h2h9h20h5h26h28h1h2h27h50h21m-256 2h24h23h7h1h3h3h7h3h3h4h2h7h2h14h1h4h3h1h3h20h6h7h6h1h6h14h9m-201 2h49h30h6h7h3h10h5h7h11h9h7h31h8h3h62h45m-269 2h12h7h19h5h4h6h4h5h17h8h11h11h2h10h8h4h9h5h4h21h24h55m-250 2h6h15h11h18h11h17h7h1h4h15h11h1h4h2h5h4h3h3h14h24h106m-252 2h19h14h4h11h7h4h5h2h3h15h7h6h6h1h2h12h4h3h25m-202 2h46h5h14h11h5h6h2h2h4h3h4h16h3h1h9h49h1h18h24m-190 2h2h3h5h8h2h4h8h5h9h4h2h7h3h1h5h1h6h2h2h4h7h18h1h2h1h2h10h11h4h17m-172 2h15h17h6h8h1h4h1h2h14h13h2h1h9h2h4h6h2h6h2h13h1h10h7h18h9m-179 2h13h14h3h7h7h2h5h2h3h6h6h1h1h3h7h1h7h3h1h1h4h4h1h2h1h6h6h3h4h4h7h4h5h1h2h3h2h1h9h5h36h3h14h36m-246 2h4h9h19h1h1h1h4h3h1h1h1h4h7h1h2h4h2h4h1h1h2h1h1h2h1h1h1h7h8h4h7h4h7h3h6h5h2h9h24h27m-220 2h1h8h11h24h2h11h3h14h1h5h9h1h2h2h10h2h7h1h2h1h1h1h1h1h5h1h4h2h6h3h3h2h6h4h1h2h1h6h3h11h12h29h16h38m-312 2h58h4h2h8h5h3h7h1h5h3h5h1h1h2h7h2h7h2h5h5h13h3h5h11h2h2h9h2h1h7h8h1h5h1h17h6h3h31h35m-277 2h24h36h1h2h3h2h3h16h6h1h2h5h17h7h1h1h2h3h1h2h5h1h3h1h1h1h2h6h2h3h3h3h2h18h4h11h70h50m-343 2h28h19h12h8h2h8h6h3h15h2h3h6h3h2h2h1h1h11h1h2h3h5h2h3h4h2h1h3h6h1h4h4h4h5h21h1h6h1h8h7h5h6m-244 2h35h4h11h1h18h5h34h2h6h3h1h1h1h1h4h3h2h1h1h1h1h1h5h1h1h2h1h8h1h3h2h2h5h2h1h1h1h3h1h3h1h2h1h6h9h4h3h3h1h1h3h14m-260 2h19h40h10h16h2h13h1h12h2h2h11h10h4h1h1h1h4h1h1h2h8h1h4h2h3h1h1h3h4h2h2h2h2h7h3h3h3h4h1h2h1h4h4h16h16h32m-238 2h10h1h1h14h25h5h7h6h5h1h7h1h3h1h4h1h6h2h1h1h1h6h3h1h5h5h7h1h4h2h4h2h1h3h2h1h3h5h4h1h1h1h2h1h4h2h3h4h1h1h3h7h3h1h1h6h21h62m-364 2h3h46h35h2h28h6h4h2h13h1h1h9h5h2h2h2h5h1h5h3h2h4h1h1h2h1h2h2h1h1h2h4h2h4h3h1h2h1h2h3h3h3h2h6h7h13h14h2h4h3h4h18h9h38h27m-312 2h5h5h6h2h24h13h6h10h5h5h1h3h9h1h2h15h2h2h1h2h2h1h1h1h2h2h3h2h1h1h2h1h4h1h1h1h1h5h4h2h3h3h2h8h4h4h3h2h7h1h4h15h4h4h13h60m-328 2h18h24h9h1h31h1h1h5h3h11h2h2h3h1h6h3h1h1h1h1h3h6h2h3h2h4h1h1h4h1h4h2h3h1h3h1h1h1h3h2h1h1h4h1h1h9h1h1h2h1h1h4h3h1h5h4h2h1h2h5h1h3h9h1h5h2h2h6h3h9h18h5h4h65h35m-375 2h4h1h8h4h11h36h10h19h1h3h1h1h3h1h3h4h1h3h4h1h1h1h1h2h2h2h2h1h1h1h4h1h1h3h1h1h1h1h2h2h2h2h1h2h1h2h2h2h4h3h1h1h1h1h1h3h1h2h2h12h1h2h2h2h1h3h1h4h4h2h2h2h34h4h55m-321 2h20h26h5h3h6h8h16h1h1h3h2h5h1h2h5h1h15h1h1h1h3h5h1h1h3h2h5h1h1h1h1h3h1h1h4h1h4h1h3h1h1h7h1h2h6h1h4h1h3h1h2h1h4h4h14h5h1h6h3h4h4h6h17h32h37m-339 2h9h22h10h3h3h7h10h15h5h2h1h1h8h1h13h1h1h5h3h1h7h1h8h2h1h2h1h1h1h1h1h1h4h1h1h2h4h1h7h3h3h2h2h1h1h5h1h2h1h3h5h2h5h5h7h12h1h1h21h3h1h6h1h11h20m-283 2h10h14h1h5h11h2h2h5h2h6h3h2h6h1h11h1h2h2h5h1h3h3h1h1h3h2h6h2h1h3h2h1h1h6h1h2h3h1h2h2h1h1h1h1h1h3h1h1h3h1h1h1h3h4h1h4h1h1h13h1h4h3h2h4h2h1h2h1h1h4h7h8h1h2h6h2h9h2h9h8m-294 2h11h35h14h4h6h13h4h10h3h6h1h6h4h1h1h1h3h1h4h2h4h4h3h1h1h3h2h1h1h3h4h2h2h2h1h1h1h1h1h1h2h1h2h1h1h2h1h1h6h1h3h1h3h1h1h2h1h2h1h1h1h2h1h3h2h4h1h1h1h1h1h1h9h5h8h4h2h5h4h8h7h1h9h7h25m-303 2h13h2h18h18h3h1h10h19h5h1h3h2h1h3h1h3h5h1h3h6h3h7h2h5h1h2h2h1h2h1h1h1h6h4h1h1h1h1h1h4h1h1h1h1h6h2h1h1h1h2h3h4h2h2h1h1h1h1h1h3h1h1h1h1h1h1h1h5h2h2h8h3h11h10h5h5h6h4h10h14m-309 2h3h1h41h13h21h2h1h3h1h4h1h7h4h10h3h3h6h2h2h2h2h6h3h1h2h2h3h4h1h1h2h1h2h2h1h1h4h1h4h1h1h2h2h1h2h1h1h5h5h1h8h7h2h4h7h1h1h3h3h4h2h3h2h4h7h2h7h3h4h7h11h6h9h5h98m-402 2h18h12h9h7h2h6h12h2h19h4h5h6h4h2h3h6h2h3h3h2h5h1h1h2h1h6h1h3h1h1h2h1h2h1h2h3h3h1h1h1h2h4h1h1h1h2h2h1h1h1h1h2h1h2h1h1h1h1h2h2h1h2h7h1h1h2h1h3h10h5h8h4h6h1h4h1h18h15m-286 2h2h16h7h9h9h13h4h1h11h7h3h3h1h18h1h6h1h1h1h4h7h1h1h1h4h1h1h2h2h1h3h1h2h3h2h2h1h1h1h3h2h1h3h1h1h1h2h1h1h1h1h2h2h1h2h2h1h1h2h4h2h1h1h1h1h3h3h1h4h3h3h5h1h1h1h11h2h1h1h9h1h3h6h14h3h3h19h48m-331 2h24h1h14h8h18h6h3h1h2h16h3h1h3h1h7h3h6h1h3h4h2h1h2h3h2h2h3h3h2h2h1h2h1h2h1h2h2h2h2h2h3h1h1h1h1h1h3h1h1h2h5h1h2h1h1h1h4h5h1h4h1h3h1h6h2h1h5h4h2h6h1h2h5h3h7h24h9h2h6h83m-345 2h2h11h6h1h1h1h2h5h4h4h10h6h4h5h4h2h1h2h2h2h2h4h4h1h2h2h1h3h2h3h1h1h1h1h1h1h1h1h3h1h2h1h1h1h1h1h1h1h4h1h1h1h1h2h3h1h2h1h2h4h3h2h2h4h2h1h2h1h1h3h8h2h11h4h4h2h2h1h3h5h1h2h3h9h1h36h5m-306 2h5h17h2h28h3h6h4h1h8h4h2h3h1h4h5h4h3h7h1h1h2h6h2h3h2h2h1h1h1h2h1h3h1h1h1h2h1h1h1h1h3h1h1h3h3h6h1h2h3h1h3h2h2h1h1h1h1h3h4h1h4h1h2h1h1h1h4h3h4h2h1h9h2h2h1h3h3h4h1h2h3h4h10h5h4h1h15h2h11m-293 2h13h14h26h1h3h3h19h4h2h4h1h1h5h6h4h5h8h3h1h2h2h3h4h1h1h1h2h1h2h1h3h1h1h1h5h1h2h1h2h1h1h1h1h3h1h1h2h2h1h1h2h4h2h2h2h5h3h1h3h3h2h3h1h1h2h1h7h5h4h8h13h4h13h11h15m-286 2h4h8h3h11h25h8h1h2h6h7h7h4h1h2h4h2h8h1h3h4h2h1h1h2h1h1h4h1h2h3h1h1h4h1h1h1h1h1h2h1h2h3h2h1h1h1h1h1h2h1h4h4h1h2h2h2h3h4h1h1h1h2h1h1h1h3h5h1h4h2h1h8h3h1h2h5h4h1h8h2h6h6h21h6h35h1m-296 2h18h3h12h4h3h6h9h1h1h4h4h1h3h1h8h2h1h4h1h3h2h1h2h1h2h1h1h2h2h1h4h1h1h1h1h2h1h2h1h2h3h2h2h1h2h2h1h2h1h1h2h1h2h1h1h3h1h1h1h3h1h1h1h1h1h1h3h2h1h1h2h2h1h2h1h8h3h5h3h2h11h2h6h3h1h6h2h9h1h2h1h1h7h5h12h17h24m-329 2h32h17h2h4h8h9h3h3h1h8h2h5h1h1h2h2h1h1h1h2h2h1h1h2h2h2h2h2h1h3h4h1h2h1h2h3h1h1h1h1h2h1h2h2h4h1h1h1h1h3h2h1h2h2h2h1h1h2h1h1h1h1h2h1h1h1h4h1h1h3h2h2h1h5h3h3h4h3h1h4h2h1h1h6h5h1h1h3h2h2h8h5h1h4h4h2h2h4m-252 2h10h1h2h3h14h7h4h9h5h10h1h7h2h2h1h2h2h2h1h3h1h2h2h5h1h1h2h2h1h1h7h4h4h2h1h2h3h1h1h1h1h2h1h1h2h1h1h3h1h2h1h1h1h1h1h1h2h1h2h1h1h1h1h1h2h6h1h2h1h5h2h1h1h4h3h3h1h8h2h1h1h5h3h8h10h2h5h14h1h68m-318 2h1h2h19h14h5h15h6h2h1h1h1h1h7h2h3h1h1h2h2h1h6h1h3h4h6h4h1h1h3h1h1h2h1h1h1h2h1h2h1h1h2h1h1h1h1h2h1h4h1h1h2h1h1h1h1h2h1h2h1h3h6h1h1h3h4h3h1h5h5h6h1h4h4h4h2h7h2h2h23h23m-257 2h5h4h17h10h12h18h2h4h1h3h1h1h3h1h1h1h3h1h1h1h3h1h2h1h1h2h1h1h1h2h2h1h3h1h5h1h1h3h1h1h1h2h2h2h3h1h3h1h1h1h3h1h1h1h5h1h1h4h3h2h2h1h6h1h1h5h5h1h1h3h2h6h16h7h22m-251 2h15h10h2h7h5h2h19h2h2h3h1h6h1h1h2h4h3h5h1h4h1h3h1h3h3h1h1h2h1h2h1h5h1h2h1h1h2h3h1h1h2h3h1h4h1h3h3h2h1h1h1h1h1h1h3h2h1h1h1h2h1h1h1h1h3h2h3h3h1h1h1h2h6h3h1h1h7h2h4h6h3h9h3h4h10h5h15h16h6m-292 2h7h8h12h7h17h1h15h2h1h2h7h2h2h1h1h2h1h1h1h2h1h1h1h3h1h2h1h1h1h3h1h1h1h1h1h1h1h4h2h4h1h1h2h2h4h4h8h1h1h2h5h1h1h1h3h1h1h2h3h4h3h1h3h1h2h1h1h2h1h2h4h1h3h3h2h3h3h4h6h11h4h8h164m-411 2h4h21h1h4h22h8h4h3h3h12h2h1h1h2h2h6h1h1h1h2h2h2h2h1h1h1h2h1h1h1h1h8h1h1h2h1h1h2h6h2h1h1h1h1h3h1h2h1h1h2h4h2h1h3h3h3h4h4h2h1h1h2h1h5h3h2h2h4h2h5h5h2h3h3h6h5h4h6h33h15m-297 2h13h8h14h4h21h5h1h8h2h7h4h1h2h1h3h2h1h2h1h1h1h2h2h1h2h4h6h2h1h1h2h2h1h1h5h4h1h1h1h1h1h1h5h1h1h2h1h1h1h1h2h1h4h2h1h1h1h2h1h1h2h3h1h2h1h4h1h1h1h3h1h3h4h3h2h3h1h2h1h2h2h16h6h3h5h2h3h30m-280 2h1h8h5h12h3h5h2h19h4h9h1h1h8h3h7h1h2h6h2h1h1h9h1h1h4h2h4h1h1h3h3h2h2h2h2h4h2h3h2h6h1h1h1h1h2h1h1h1h3h11h3h1h2h1h1h1h1h1h2h3h9h1h2h2h1h4h1h1h16h23h7h14h21h50m-334 2h24h19h8h5h9h2h2h1h2h3h3h1h5h5h2h2h2h2h1h1h1h1h4h2h1h1h2h1h1h2h1h2h4h1h4h1h3h1h3h2h8h1h2h1h1h4h2h1h1h1h2h3h3h1h2h4h2h3h7h2h3h1h4h11h1h4h6h1h2h1h9h8h2h13h14m-246 2h17h1h4h5h4h10h1h1h5h3h4h2h2h1h3h3h1h2h2h6h1h2h6h2h2h3h1h1h1h1h2h1h2h1h1h7h2h2h4h2h4h1h1h2h6h2h3h3h1h2h4h3h2h1h5h1h4h1h1h2h10h3h7h1h8h2h18h10h16m-272 2h14h12h26h11h3h5h9h2h3h4h2h1h1h3h1h3h2h1h3h4h1h1h2h5h4h4h1h1h1h1h2h2h1h3h1h1h7h5h2h1h1h1h2h1h1h1h1h1h2h4h3h1h2h2h3h3h1h1h2h3h3h2h1h5h7h3h5h2h24h1h128m-372 2h30h19h6h2h1h5h1h3h5h2h2h2h1h1h6h2h7h1h1h3h2h2h2h2h1h5h2h1h1h1h1h1h2h2h2h1h4h4h3h4h1h2h1h2h1h2h1h5h3h3h1h6h6h6h5h1h2h2h1h2h6h2h13h3h3h3h3h15h5m-252 2h23h20h5h2h4h8h2h8h1h7h1h2h1h1h8h1h2h2h1h3h3h3h2h1h2h3h1h2h1h5h4h1h1h2h6h1h4h2h5h2h5h2h1h4h1h2h4h1h6h1h2h6h3h2h4h5h2h2h1h5h2h8h1h3h17h32m-252 2h11h5h5h2h12h5h2h4h4h1h13h2h2h2h1h1h1h2h1h2h1h5h10h1h4h4h1h2h2h2h4h5h3h1h4h6h2h3h1h1h3h1h1h3h1h5h3h5h1h2h1h3h3h2h1h1m-205 2h2h18h18h14h7h3h1h6h4h16h2h3h5h1h1h1h5h2h2h3h1h3h2h2h1h1h5h1h1h1h1h3h2h3h2h3h1h5h3h1h1h1h3h2h4h1h2h6h1h4h2h22h3h9h4h22h21h9h41m-304 2h19h3h8h1h4h5h3h12h4h3h3h1h5h1h1h2h5h1h1h2h5h2h5h1h5h1h3h4h1h1h1h1h4h1h1h3h1h1h1h1h6h1h3h1h2h10h4h4h5h4h4h2h1h1h10h3h2h3h16h8h1h5h2h35m-269 2h17h17h11h1h14h2h2h2h3h1h1h4h4h7h7h2h3h1h2h2h2h2h1h2h1h2h1h4h1h1h2h2h6h1h2h6h5h3h2h1h3h3h1h1h1h1h2h2h1h3h2h1h2h1h2h1h4h1h1h5h7h2h6h5h14h6h8h3h1h9h12h66m-306 2h13h12h10h7h9h6h3h8h12h2h5h1h4h4h1h2h11h5h2h1h1h2h4h2h2h10h3h1h2h2h1h3h2h6h10h2h6h12h18m-220 2h7h3h12h10h5h20h1h2h2h5h4h2h1h7h3h1h1h3h6h2h9h1h1h1h2h9h4h2h4h8h6h2h7h1h1h10h1h10h2h5h3h2h9h11h5h7h2m-202 2h2h4h5h8h2h6h2h7h5h2h3h1h2h1h7h1h4h3h1h1h1h1h5h5h2h2h1h6h2h1h1h2h14h1h3h2h2h1h3h1h2h6h4h1h9h10h3h3h2h1h10h10h5h4h2h5h124m-354 2h18h3h19h13h6h9h7h6h3h4h9h3h3h2h4h1h5h2h2h2h4h1h2h3h2h2h1h11h3h4h5h5h1h2h3h3h10h3h4h1h44h3h15m-231 2h9h6h1h17h3h7h5h13h1h1h3h5h1h7h4h4h7h1h2h2h1h1h2h6h1h5h1h2h10h1h2h5h8h1h4h1h5h2h4h1h2h3h5m-177 2h1h13h1h4h2h3h20h10h1h2h8h1h2h5h5h3h7h3h1h2h5h9h9h1h2h3h4h1h2h1h23h3h2h6h6h5h1h4h11h6h7h9m-225 2h27h7h4h4h2h3h15h3h2h7h6h6h3h8h1h1h1h2h5h1h4h10h1h3h1h7h2h2h1h5h7h9h5h2h2h13h9h3h9h20h7m-235 2h45h7h8h6h2h7h3h4h3h4h5h5h2h1h4h4h2h9h3h4h2h1h5h6h2h1h3h7h16h5h4h6h3h1h9h8h12h19m-232 2h12h38h8h9h3h1h2h2h3h1h2h7h3h4h1h2h1h1h4h4h3h7h6h4h2h3h7h16h3h15h1h3h3h3h10h2h3h4h18m-212 2h6h10h3h15h13h8h3h6h2h3h3h1h1h4h1h1h7h6h7h2h1h2h3h5h4h1h1h10h9h3h4h23h6h13h2h14h36m-240 2h18h4h5h5h14h4h3h2h4h2h4h1h12h5h2h10h1h1h5h2h3h1h2h3h5h4h2h15h1h11h16h8h14h8h15h10h175m-417 2h11h5h16h5h6h36h2h1h6h9h1h2h12h1h2h5h6h2h1h3h6h1h8h4h2h4h5h2h4h4h1h9h7h17h5h9m-182 2h47h1h12h2h3h15h5h1h1h5h2h1h3h13h1h8h4h2h3h7h3h22h5h4h4h5h14h39m-247 2h26h4h9h8h8h2h2h4h5h13h1h3h11h2h1h4h2h2h6h6h1h2h1h2h1h2h4h17h10h1h1h17m-187 2h11h12h2h2h4h3h19h15h1h5h9h1h3h2h4h6h3h1h12h11h1h1h2h15h1h2h2h10h1h4h15h3h7m-186 2h9h2h5h13h8h11h2h2h8h9h1h8h9h1h1h5h1h2h1h8h7h6h1h1h5h3h1h35h1h33h10m-198 2h4h1h1h5h4h9h11h6h2h1h5h4h6h2h1h4h1h9h1h1h21h5h2h4h5h8h1h1h9h3h11h10h2h3h15h50h18m-251 2h1h25h4h1h1h3h12h1h3h4h3h14h15h2h5h1h2h3h2h3h3h13h3h7h23h30m-190 2h37h2h13h2h8h7h1h2h4h4h13h6h11h2h4h4h1h13h3h2h8h13h5h9h24h41m-250 2h13h7h1h11h3h7h13h6h1h6h2h9h7h2h5h6h2h1h7h4h12h41h2h4h4h33h11m-203 2h25h29h20h3h6h4h4h2h1h10h5h2h10h8h3h2h5h19h6h1m-181 2h2h1h46h17h3h1h1h2h24h2h1h12h7h12h47m-171 2h21h8h2h5h31h5h6h10h15h4h2h2h9h3m-129 2h13h4h7h32h3h2h3h5h30h3h2h7h1h16h2h7m-135 2h14h14h3h14h10h18h11h4h6h1h1h5h30h7h22h12h24h30h20m-237 2h39h2h12h27h13h6h6h5h5h35h3h35m-208 2h53h1h5h15h4h7h6h13h13h5h2h1h1h2h11h13h5h65h6m-209 2h15h18h1h9h7h22h9h2h5h5h16h21h3h18m-114 2h2h3h13h12h16h8h10h18h31h8h12m-163 2h5h12h11h14h48h8h2h40m-166 2h4h3h1h2h1h2h1h1h2h6h1h3h2h2h3h2h2h1h2h1h3h3h2h1h1h2h3h2h3h2h2h1h3h1h2h2h1h2h1h3h2h2h1h8h3h1h4h1h4h1h1h3h1h3h1h1h1h2h1h3h4h2h1h1h1h5h6h1h1h2h10h2h3h11h3h1h2h5h3h5h1h5h43h154"/>
<rect x="1.5" y="195.57" width="64.16" height="41.93" fill="#fff" opacity=".86"/>
<rect x="0" y="0" width="373" height="238.5" fill="none" stroke="#333" stroke-width="1.7"/>
<path d="M0 0V238.5H373" style="stroke:#000" stroke-width="2.4"/>
<path d="M159 0V238.5" style="stroke:#000" stroke-width="2.6"/><path d="M0 132H373" style="stroke:#000" stroke-width="1.8"/>
<path d="M2 237.9H175.31" style="stroke:#e80000" stroke-width="1.5" opacity=".75"/>
<path d="M-10.5 238.5H0M0 238.5v7.5M-10.5 184.24H0M83.55 238.5v7.5M-10.5 129.98H0M167.1 238.5v7.5M-10.5 75.72H0M250.66 238.5v7.5M-10.5 21.47H0M334.21 238.5v7.5" style="stroke:#000" stroke-width="2"/>
<path d="M-5 222.17H0M25.15 238.5v4.5M-5 212.61H0M39.86 238.5v4.5M-5 205.83H0M50.3 238.5v4.5M-6.5 200.57H0M58.4 238.5v5.5M-5 196.28H0M65.02 238.5v4.5M-5 192.65H0M70.61 238.5v4.5M-5 189.5H0M75.45 238.5v4.5M-5 186.72H0M79.73 238.5v4.5M-5 167.91H0M108.7 238.5v4.5M-5 158.35H0M123.42 238.5v4.5M-5 151.57H0M133.86 238.5v4.5M-6.5 146.32H0M141.95 238.5v5.5M-5 142.02H0M148.57 238.5v4.5M-5 138.39H0M154.16 238.5v4.5M-5 135.24H0M159.01 238.5v4.5M-5 132.47H0M163.28 238.5v4.5M-5 113.65H0M192.26 238.5v4.5M-5 104.09H0M206.97 238.5v4.5M-5 97.32H0M217.41 238.5v4.5M-6.5 92.06H0M225.5 238.5v5.5M-5 87.76H0M232.12 238.5v4.5M-5 84.13H0M237.71 238.5v4.5M-5 80.98H0M242.56 238.5v4.5M-5 78.21H0M246.83 238.5v4.5M-5 59.39H0M275.81 238.5v4.5M-5 49.84H0M290.52 238.5v4.5M-5 43.06H0M300.96 238.5v4.5M-6.5 37.8H0M309.06 238.5v5.5M-5 33.5H0M315.67 238.5v4.5M-5 29.87H0M321.27 238.5v4.5M-5 26.72H0M326.11 238.5v4.5M-5 23.95H0M330.38 238.5v4.5M-5 5.13H0M359.36 238.5v4.5" style="stroke:#222" stroke-width="1.1"/>
<text class="b" x="-38.2" y="241.5" font-size="19">10</text>
<text class="b" transform="translate(-19.3 230.9) scale(1.05 1)" font-size="11">1</text>
<text class="b" transform="translate(-11.1 267.3) scale(0.97 1)" font-size="20.5">10</text>
<text class="b" transform="translate(9.5 257.5) scale(1.05 1)" font-size="11">1</text>
<text class="b" x="-38.2" y="195.74" font-size="19">10</text>
<text class="b" transform="translate(-19.3 185.14) scale(1.05 1)" font-size="11">2</text>
<text class="b" transform="translate(66.25 267.3) scale(0.97 1)" font-size="20.5">10</text>
<text class="b" transform="translate(86.85 257.5) scale(1.05 1)" font-size="11">2</text>
<text class="b" x="-38.2" y="141.78" font-size="19">10</text>
<text class="b" transform="translate(-19.3 131.18) scale(1.05 1)" font-size="11">3</text>
<text class="b" transform="translate(149.8 267.3) scale(0.97 1)" font-size="20.5">10</text>
<text class="b" transform="translate(170.4 257.5) scale(1.05 1)" font-size="11">3</text>
<text class="b" x="-38.2" y="86.22" font-size="19">10</text>
<text class="b" transform="translate(-19.3 75.62) scale(1.05 1)" font-size="11">4</text>
<text class="b" transform="translate(233.36 268.6) scale(0.97 1)" font-size="20.5">10</text>
<text class="b" transform="translate(253.96 258.8) scale(1.05 1)" font-size="11">4</text>
<text class="b" x="-38.2" y="29.57" font-size="19">10</text>
<text class="b" transform="translate(-19.3 18.97) scale(1.05 1)" font-size="11">5</text>
<text class="b" transform="translate(316.91 269.9) scale(0.97 1)" font-size="20.5">10</text>
<text class="b" transform="translate(337.51 260.1) scale(1.05 1)" font-size="11">5</text>
<text class="b" transform="translate(6.27 31.24) scale(1.69 1)" font-size="20.6">0.65</text>
<text class="b" transform="translate(6.27 222.76) scale(1.69 1)" font-size="20.6">95.3</text>
<text class="b" transform="translate(271.92 31.96) scale(1.69 1)" font-size="20.6">3.40</text>
<text class="b" transform="translate(271.92 223.47) scale(1.69 1)" font-size="20.6">0.70</text>
</g>
<g transform="translate(619 1530.5)">
<ellipse cx="99.88" cy="177.94" rx="21" ry="17" fill="url(#rb)" transform="rotate(-30 99.88 177.94)"/>
<ellipse cx="204.68" cy="107.19" rx="38" ry="11" fill="url(#rb)" opacity="0.15"/>
<path class="dt" transform="scale(.5)" d="M539 122h0m33 4h0m-104 2h0m-14 2h0m-22 2h0m55 2h69m-66 4h18h40h30m-106 2h53h26m-146 2h111m-79 4h0m-9 2h20m-28 2h22h39h11m-99 2h71h4h6h11h33h6m-119 2h20h11h11h3h9h3h24h8h8m-90 2h5h5h27h16h11h2h13m-78 2h31h22h17h6h61m-124 2h4h58h12m-215 2h42h62h19h41h9h12h2h18h17h15m-190 2h23h48h8h15m-30 2h15h17h8h19h4h41h21m-172 2h8h69h5h1h2h1h21h43h3h6m-247 2h121h15h8h15h14h2h6h6h19h37h36h35m-286 2h37h10h71h1h6h12h20h2h5h6h5h1h3h7h1h2h25m-197 2h52h13h9h11h14h7h1h1h7h2h11h12h4h18h2h6h3h3h53h11m-345 2h16h137h27h10h6h2h7h9h3h2h27h3h1h4h12h6h24h32h1h12h6m-350 2h166h4h24h21h14h6h18h9h4h1h11h2h1h8h29h3h4m-295 2h38h51h11h48h19h3h7h7h8h10h8h2h9h7h9h20h8h7h18h12m-171 2h21h6h1h3h3h6h7h2h2h9h5h3h4h7h3h4h1h11h14h1h1h1h50m-299 2h139h28h5h12h4h4h3h5h7h1h13h2h1h27h1h8h96m-384 2h30h30h24h12h46h18h5h26h1h11h7h4h3h6h2h22h8h11h18m-277 2h41h70h27h9h1h28h9h1h2h3h8h3h14h9h6h1h6h9h2h2h1h38h8h1h1m-235 2h11h13h21h23h6h6h2h17h6h5h1h4h4h8h19h7h32h5h3h9h1h11h31m-303 2h36h90h16h18h21h1h1h8h13h2h7h1h5h2h1h25h3h11h1h1h30h3m-257 2h7h93h5h7h15h3h4h6h2h18h19h1h17h23h74h6m-292 2h4h6h1h2h65h10h5h18h11h2h25h1h3h1h8h14h8h3h8h3h113m-381 2h30h39h1h2h61h11h5h6h7h9h26h13h8h3h12h1h9h16h5h8h4h13h18h13m-270 2h28h41h28h9h29h13h2h47h7h1h5h17h3h23h13m-271 2h69h7h14h23h1h19h5h16h17h3h9h2h8h2h2h1h2h6h3h9h5h1h35h26h33m-313 2h48h20h27h5h8h4h4h9h8h10h1h2h15h3h1h15h4h3h1h3h1h4h1h6h6h4h27m-264 2h17h20h1h23h9h42h1h25h23h6h4h1h10h4h1h8h1h11h8h3h10h3h5h15h8h9h19m-250 2h7h15h4h4h15h10h4h23h7h15h27h33h4h19h7h3h2h43m-266 2h21h3h7h12h41h7h26h5h19h8h3h1h2h3h13h2h2h7h3h8h9h1h16h4h58m-281 2h7h3h3h26h1h8h9h19h3h23h2h13h15h4h1h1h7h6h1h5h5h7h1h1h2h2h6h8h6h1h2h2h1h7h13h6h29m-268 2h5h26h12h10h6h2h8h12h2h7h12h18h6h7h1h1h4h1h6h1h3h1h5h1h2h1h1h3h3h3h2h1h2h2h6h3h3h1h3h4h1h3h1h1h1h2h1h1h3h1h1h1h1h1h3h29h14h29h22h14m-402 2h33h56h1h27h10h2h5h8h6h4h4h1h3h3h10h1h2h9h1h2h6h4h9h5h2h7h2h2h11h1h2h3h3h2h3h3h4h1h8h2h1h3h2h1h7h7h6h7h2h1h1h7h3h21h17m-273 2h5h5h4h6h2h1h1h9h2h2h1h11h9h1h4h1h3h3h2h3h1h3h6h1h2h2h2h11h4h2h11h5h4h4h2h6h3h1h2h2h4h1h1h10h1h2h1h2h3h3h1h2h1h2h2h1h3h5h3h1h1h2h7h3h9h8h1h1h7h6h14h29h18m-319 2h10h10h5h5h3h2h4h1h4h8h1h7h3h4h17h5h1h10h1h8h1h2h2h1h7h3h3h1h5h3h3h2h1h3h4h1h1h1h6h9h4h1h5h2h3h1h1h1h1h3h8h2h5h5h12h5h1h8h1h2h1h1h5h14h7m-245 2h9h7h26h1h11h19h4h2h23h1h3h3h6h1h3h9h1h5h2h1h5h3h1h4h1h4h14h1h8h8h2h6h4h3h2h3h12m-252 2h83h28h19h22h25h8h9h1h9h5h3h3h1h1h7h12h2h36h10m-287 2h6h29h15h6h40h8h3h1h41h5h6h1h11h4h17h13h14h7h12h1h10m-154 2h9h10h9h5h57h17m-161 2h32h48h16h4h17h39h43h41m-254 2h26h75h14h20h114m-310 2h43h29h34h59h7h34h25h88m-265 2h31h45h26h20h7h1h13h3h9h25m-229 2h178h57m-116 2h32h2h106m-206 2h116h23h14h11m-99 2h3h55h25m-166 2h138h20m-65 2h10h3h24h9h21h52h3h37m-138 2h9h54h3m-73 2h14h37h6h23h5m-144 2h56h11h13h15h18h29h3m-163 2h49h49h15h7h17h4h11h28h71m-248 2h58h5h6h11h5h3h1h3h4h10h5h33h10h38h26m-295 2h106h42h3h18h5h1h12h6h1h8h25h43h1h82m-262 2h26h13h14h11h11h3h32h1h95m-215 2h21h40h7h3h5h18h6h3h8h37h13h60h7m-257 2h92h11h7h42h8h19h21h29h21m-187 2h6h1h13h6h7h10h1h2h5h6h18h1h11h8h26h14h29h53m-265 2h24h4h1h13h10h1h1h18h5h7h18h13h6h9h12h1h1h9h1h7h15h1h20m-234 2h29h20h32h12h12h5h9h3h42h26h33h4h4h14m-237 2h29h50h1h33h9h4h14h7h3h23h16h43m-172 2h4h15h4h17h20h12h2h4h27h27h47h36m-204 2h3h13h11h15h16h1h2h64h15h11h16h59m-328 2h88h5h10h1h10h18h6h1h12h2h3h6h17h14h20h20m-170 2h16h15h6h5h14h3h7h4h8h10h29h20h7h21m-168 2h15h20h3h2h5h6h2h10h1h1h6h3h7h16h2h1h4h7h11h8h57h6h19h50m-287 2h51h7h8h3h13h4h1h1h3h1h13h13h13h15h14h7h4h5h91m-290 2h18h11h10h13h20h3h12h10h2h8h2h6h12h15h3h5h9h3h33h23h15m-215 2h33h6h1h17h4h3h7h2h6h2h4h9h4h3h8h6h18h9h12h5h10h9h36h119m-310 2h12h13h25h2h1h1h10h1h7h5h5h1h7h1h1h3h2h13h2h10h4h4h1h3h9h60h78m-347 2h14h54h27h1h10h10h9h1h13h6h2h1h4h15h8h16h20h13h15h1h62m-312 2h75h5h26h6h1h1h2h1h2h5h7h1h6h9h1h2h7h1h4h5h4h10h5h5h13h5h5h28h53m-270 2h26h5h15h2h3h5h6h14h6h1h13h1h4h3h15h7h12h9h17h14h1h2h9h15h140h36m-358 2h15h7h2h34h5h13h4h4h13h5h1h10h6h2h1h10h1h17h4h19h59m-236 2h2h2h28h4h9h5h4h3h7h5h14h2h6h4h5h5h9h3h1h8h3h17h5h8h22h57h70m-337 2h14h32h12h6h3h6h2h2h11h2h6h13h2h1h4h5h5h1h5h2h2h1h1h6h4h12h9h13h11h14h1h12h40m-238 2h5h17h11h17h1h15h17h1h1h3h1h1h3h1h2h2h1h1h2h8h1h4h7h3h1h5h7h8h3h6h5h11h9h7h2h53h20h33m-292 2h2h27h4h2h8h12h6h7h4h1h3h4h9h6h11h5h8h2h32h15h71h20h31m-366 2h87h22h3h20h5h5h2h2h4h7h1h2h12h7h7h15h5h1h13h17h4h6h1h6h2h32m-225 2h35h9h3h2h2h3h3h5h2h14h2h2h13h2h2h5h8h3h5h6h1h2h1h3h2h10h7h26h17h26h29h3m-263 2h4h4h1h11h5h2h17h4h11h9h1h3h1h1h1h3h8h4h9h4h4h1h2h1h3h17h1h5h2h7h8h2h5h8h4h8h9h11h9m-265 2h40h26h13h9h5h6h2h7h1h3h6h10h8h4h1h1h2h1h2h2h12h8h3h4h15h25h2h20h5h31h17h3h31m-288 2h35h10h6h8h7h20h10h3h2h6h4h5h1h3h4h4h2h2h6h1h5h5h6h2h12h2h10h18h10h86h12m-277 2h14h4h19h7h6h1h9h2h2h1h8h1h2h1h2h2h6h16h3h4h1h2h3h3h5h4h1h4h9h5h2h4h22h1h3h3h2h7h73m-299 2h22h12h4h25h5h2h5h1h1h1h3h3h11h3h5h6h1h1h4h2h1h10h2h2h10h4h2h1h10h3h3h14h1h2h21h1h7h8h17h19h12h56h16m-341 2h11h30h9h11h7h7h1h6h2h2h3h1h2h5h1h3h1h1h4h3h5h4h5h16h4h9h1h3h1h2h16h2h7h3h2h12h4h8h7h27h2h3h36m-292 2h30h13h4h3h16h4h1h2h2h1h3h4h1h5h8h2h2h8h1h4h7h3h11h3h5h3h3h1h5h1h3h1h8h6h19h7h23h9h2h36h37h7h13m-361 2h23h24h19h18h3h2h12h8h2h3h1h2h1h3h2h1h3h2h3h1h1h5h6h1h1h1h6h1h2h2h2h2h6h1h3h4h7h2h4h4h2h11h3h6h3h1h6h11h8h7h13h7h19h54m-375 2h54h28h1h26h2h4h1h1h5h3h2h3h2h2h2h10h4h3h2h3h3h6h1h2h1h1h1h1h1h10h1h1h2h5h3h1h1h1h1h2h4h3h1h1h3h1h2h14h9h3h3h2h5h13h1h27h23h24h55m-381 2h24h62h1h6h1h5h5h6h2h7h11h5h3h2h1h1h2h3h7h1h1h1h2h1h5h5h3h2h1h5h8h1h1h2h4h2h15h10h10h6h3h1h12h15h27h26h20m-375 2h2h23h25h44h5h3h7h14h1h5h3h9h1h5h1h1h2h2h1h7h3h1h1h1h1h1h1h2h1h1h3h2h5h1h4h1h1h2h4h6h1h3h1h1h1h10h10h6h3h1h4h1h1h5h6h1h1h5h4h29h6h6h3h21h14h2h4m-399 2h131h5h7h7h6h5h8h3h4h3h7h2h2h2h1h2h1h5h4h5h6h4h2h2h2h3h6h3h2h3h1h4h1h2h4h2h4h2h5h2h5h1h5h6h2h4h2h15h6h11h3h98m-350 2h10h2h21h3h22h5h5h2h10h1h6h13h7h3h10h2h3h3h5h2h1h1h1h4h1h1h1h1h2h5h1h1h2h2h7h1h3h5h1h1h2h1h3h4h1h1h5h3h3h1h1h1h5h13h2h10h1h6h9h12h7h17h6h26h13h70h12m-439 2h2h4h52h20h6h9h3h13h1h8h2h10h1h3h8h7h2h3h3h5h1h3h1h2h3h1h5h1h2h2h5h1h3h1h2h1h2h1h2h1h4h3h1h1h1h4h5h1h1h3h6h5h2h2h2h9h8h3h3h7h3h19h30h8h104m-446 2h22h4h53h21h8h4h9h1h5h14h2h2h1h4h1h1h5h2h4h1h1h3h1h1h1h4h1h1h1h1h2h7h1h1h1h2h2h1h1h1h5h4h2h1h4h2h3h2h2h1h2h4h2h4h2h20h1h4h9h10h1h3h6h4h18h23h53m-387 2h21h13h1h45h7h17h6h2h3h5h2h3h3h1h1h4h1h1h1h2h1h1h1h1h1h3h1h2h1h1h3h1h1h3h2h3h2h2h1h3h1h1h1h2h1h1h1h4h1h2h1h4h1h1h2h4h5h11h1h1h2h8h4h1h1h2h6h2h5h6h1h6h3h2h54h24h29m-375 2h35h5h19h34h9h1h1h6h8h3h1h2h6h2h1h1h4h2h1h1h1h2h2h1h1h2h4h2h2h1h1h1h2h2h2h3h1h2h2h3h1h1h2h3h3h1h2h2h2h3h2h2h3h4h2h3h3h4h6h1h2h2h3h3h11h1h9h5h6h2h32h2h47h89m-455 2h26h13h13h4h31h10h13h1h6h8h8h4h2h4h1h3h2h1h1h2h4h1h3h1h4h1h2h1h2h1h1h1h1h2h1h4h2h2h1h3h2h1h6h2h1h1h5h6h2h3h3h10h4h1h5h3h14h5h3h2h7h7h11h29h44m-364 2h29h14h19h6h1h32h7h3h6h1h6h3h1h4h3h3h3h2h1h2h3h1h2h1h1h1h2h2h1h1h3h1h1h1h1h1h2h1h1h2h1h1h2h1h2h1h1h1h4h1h1h2h1h1h3h2h2h1h3h6h3h3h5h9h5h1h1h11h3h21h8h2h4h3h8h3m-227 2h13h23h1h8h3h2h6h6h2h2h2h1h6h1h2h2h5h2h2h5h2h1h1h2h1h1h1h1h1h2h3h1h1h1h1h2h5h1h3h1h2h3h7h1h2h3h2h1h1h3h9h1h2h1h5h2h3h8h3h2h5h2h24h19h8h6h7h23h42m-370 2h18h16h12h15h16h1h3h15h6h4h2h1h1h1h1h1h4h2h1h3h1h3h3h1h2h3h1h2h1h3h3h2h2h2h2h2h2h1h1h2h2h2h3h2h3h1h2h2h1h1h1h1h1h5h7h2h1h1h2h2h1h2h3h5h4h1h5h5h3h29h4h17m-348 2h76h7h17h2h12h12h7h5h1h11h2h2h1h2h3h2h1h2h1h5h1h2h3h2h2h2h7h2h1h1h2h2h1h1h1h2h1h1h4h1h1h1h2h3h1h1h1h2h4h2h1h1h1h1h2h2h1h1h1h2h6h1h1h1h4h1h6h1h1h4h6h1h3h2h2h4h6h9h3h2h5h12h10h4h27m-275 2h23h5h4h8h4h24h1h5h1h2h5h3h5h1h3h2h2h2h2h2h1h2h2h3h2h2h2h3h2h3h1h2h2h1h3h1h1h1h1h1h2h3h1h2h4h1h1h5h2h5h4h2h1h5h5h2h1h4h7h2h1h1h2h4h6h8h2m-204 2h21h2h8h3h8h2h3h1h4h4h4h1h3h2h1h1h1h1h1h2h1h2h1h2h2h3h1h1h2h3h1h1h1h2h1h1h2h1h2h3h1h1h1h2h1h3h1h1h10h3h3h1h1h2h1h1h1h1h4h3h5h2h1h5h3h1h5h4h6h1h1h12h12h3m-299 2h11h26h2h6h8h35h16h5h13h2h1h1h2h4h5h2h2h2h1h2h1h1h1h1h2h1h1h1h5h2h1h4h2h2h4h3h1h2h2h2h4h1h1h2h1h1h1h1h3h2h2h1h1h2h1h1h1h1h4h1h1h1h3h2h1h1h2h1h1h2h2h3h4h3h1h5h1h6h3h5h2h5h1h5h2h4h4h6h4h18h3h105m-402 2h15h10h3h8h12h2h15h7h1h5h10h1h5h2h8h3h1h1h2h1h1h2h2h1h2h2h1h1h1h1h1h3h2h2h1h1h2h1h1h1h1h2h2h3h1h1h2h3h2h2h1h6h2h1h1h1h2h2h1h2h3h1h2h1h3h1h3h1h5h1h1h3h3h2h6h3h1h3h2h1h1h9h4h23h11h62h39h19h53m-467 2h69h25h10h2h4h1h10h5h1h3h2h1h1h2h4h1h2h2h5h2h1h2h1h3h1h1h1h2h1h2h1h2h1h3h3h1h1h1h2h1h1h1h2h1h2h1h1h4h1h1h1h2h4h5h2h1h2h2h1h9h2h3h1h1h1h4h7h2h2h14h11h7h7h8h2h6h21h49m-377 2h3h25h87h1h1h10h11h4h5h3h1h1h1h1h1h4h1h2h1h1h2h1h1h1h1h3h2h1h1h2h2h1h2h1h1h2h2h1h2h1h1h1h4h3h5h2h1h1h1h1h1h6h4h4h2h6h1h7h1h4h1h1h2h8h4h10h8h5h3h27m-301 2h17h10h10h49h23h10h2h3h2h1h1h2h1h1h1h2h2h5h1h1h5h1h1h2h5h1h1h2h3h1h1h1h1h1h1h2h3h3h1h5h4h2h1h1h1h1h4h15h1h2h1h3h5h1h8h5h10h2h2h1h32h37m-323 2h42h20h8h6h5h8h10h4h5h7h1h1h2h1h3h2h4h1h1h1h2h5h1h2h2h1h2h1h1h1h1h2h3h2h2h2h5h2h2h5h8h1h2h1h3h2h2h4h5h3h5h1h2h1h6h2h8h3h7h2h2h2h10h9h15h41h15m-341 2h26h12h22h33h6h5h1h3h4h1h1h1h1h1h2h1h1h1h2h2h1h2h1h4h1h2h1h3h2h1h3h1h3h4h1h5h2h1h3h5h1h1h1h1h6h1h1h1h6h1h1h5h1h2h2h11h1h1h4h3h1h2h1h2h5h4h1h10h1h11h2h53h13h47h23m-401 2h69h24h7h10h2h3h2h8h9h1h1h4h1h1h2h2h7h1h2h8h3h2h1h2h2h3h3h1h2h5h1h1h3h4h1h5h1h2h1h15h3h2h68h19h5h86h13m-438 2h51h53h15h13h8h4h4h3h1h1h1h4h1h11h1h1h5h3h2h2h1h2h2h1h4h1h1h1h3h5h1h2h1h1h3h2h5h2h1h3h1h1h3h1h3h2h1h2h3h2h5h10h8h1h48m-304 2h3h38h7h18h1h31h6h4h3h1h9h3h4h5h7h3h4h4h1h2h1h1h2h4h1h3h1h5h1h1h3h2h1h1h2h1h5h1h1h3h3h2h1h3h1h1h7h1h1h11h1h1h3h8h2h1h2h16m-251 2h40h21h16h3h1h4h10h14h1h1h6h7h1h7h4h3h4h3h1h1h4h2h1h8h4h4h4h3h7h1h4h6h2h8h7h6h2h3h1h9h3h8h4h6h4h5h7h16h29h21m-351 2h52h25h25h3h2h1h3h4h5h3h3h3h4h1h5h1h1h2h2h1h1h3h1h3h8h1h1h4h2h2h4h2h4h2h2h1h2h2h1h1h4h1h2h2h3h1h5h2h5h4h4h15h5h10h11h21h6h15h10h35h130m-470 2h3h52h18h3h3h9h4h7h5h8h4h4h3h1h1h3h9h2h5h1h2h4h2h2h3h1h2h2h3h1h3h3h3h5h5h3h2h1h2h2h3h3h6h7h2h6h7h15h1h27h5h41h5m-332 2h66h24h5h1h2h1h9h16h1h3h2h3h2h1h1h1h1h1h1h2h1h4h2h2h1h3h3h1h5h2h2h1h4h1h1h6h1h3h6h2h3h1h1h2h4h12h9h3h2h2h1h1h2h1h16h31h170h42m-512 2h32h43h17h2h8h1h18h3h8h6h2h5h2h2h6h3h3h1h3h6h2h2h5h1h1h3h5h3h1h10h1h2h4h2h4h3h1h2h1h3h9h2h3h13h8h1h1h7h7h2h6h51h12m-340 2h16h5h36h7h12h8h10h10h5h12h1h3h1h1h5h3h2h3h1h4h1h8h2h1h1h1h7h2h6h1h1h2h1h1h4h1h3h3h3h4h5h3h2h1h6h12h4h8h6h1h10h23h20h4h17h94h34m-435 2h5h10h25h5h13h6h18h1h2h2h19h1h4h2h1h2h1h8h1h5h2h1h1h1h3h1h5h1h6h1h4h2h4h3h1h3h1h1h3h3h8h2h2h5h8h18h2h3h9h50h1h20m-327 2h59h26h31h1h2h8h2h2h1h6h1h1h4h3h4h3h2h2h9h3h1h1h1h1h1h9h2h2h4h1h4h1h3h1h1h6h1h1h3h1h4h1h14h2h3h12h10h7h9h5h170h25m-451 2h23h1h20h4h9h22h9h1h3h2h5h5h1h1h1h1h5h1h3h11h1h10h3h2h4h3h1h3h2h1h1h5h3h5h4h1h9h1h4h5h4h4h26h7h7h1h18h13h60h7h92m-417 2h1h16h32h5h6h1h12h5h5h1h1h4h5h2h3h1h3h4h8h2h2h7h1h2h1h1h1h4h1h4h2h3h4h5h3h9h1h2h5h2h14h5h2h5h12h3h13h24h29h50h21m-411 2h19h7h44h16h9h7h5h10h4h4h2h1h16h6h8h3h5h3h3h3h2h5h5h3h7h6h4h4h4h1h3h4h3h2h1h8h1h7h52h30h79h69m-454 2h46h31h6h6h1h18h1h2h18h1h2h5h1h6h1h1h7h2h1h2h16h4h3h1h5h4h2h1h6h5h5h8h5h2h4h16h17h71m-307 2h21h5h2h4h15h3h1h2h6h2h1h7h1h3h3h2h9h4h2h1h2h1h4h4h2h4h4h2h5h6h1h1h6h1h1h4h4h3h1h1h6h4h3h6h13h1h8h10h8h12h18h8h4h38h86m-365 2h30h7h2h4h4h9h9h13h3h6h6h4h2h6h1h1h15h1h5h4h6h3h9h6h1h3h7h9h1h47m-232 2h13h14h1h10h5h4h10h8h3h3h1h16h1h3h1h2h3h6h4h11h12h2h4h1h3h1h5h2h1h2h5h11h1h3h12h1h1h15h27h91h12m-351 2h39h3h6h3h2h4h20h2h2h8h2h8h1h1h4h5h1h1h5h4h25h2h5h5h1h2h6h3h1h11h2h7h3h15h28h15h14m-249 2h28h22h3h7h2h7h2h1h5h5h9h9h4h4h4h3h1h2h7h1h2h2h4h1h3h7h4h5h2h7h15h4h4h33h2h45h12h34h17m-332 2h16h13h8h12h16h8h29h2h3h5h24h10h3h3h1h5h9h2h6h24h38h48m-260 2h14h21h11h14h7h1h5h5h8h8h1h1h7h9h1h3h4h2h5h6h4h7h12h2h1h23h8h8h2h6h93m-347 2h14h25h25h19h10h12h9h3h1h7h3h3h11h2h12h15h18h1h10h27h27h58h56h58m-445 2h21h37h12h1h3h14h1h25h3h4h3h1h16h1h16h1h4h14h2h18h5h11h17h21h5h18h7h97m-362 2h39h12h13h4h12h7h13h13h6h1h12h4h1h24h12h1h15h15h7h1h6h18h40h48m-243 2h1h5h1h2h19h7h8h1h2h46h64h71m-318 2h9h4h13h30h16h16h10h4h6h12h4h8h13h2h6h4h5h1h10h16h2h1h2h4h6h11h9h21h83h8m-318 2h26h66h8h1h3h25h5h4h24h5h4h2h3h53h172m-401 2h47h15h15h2h24h2h1h2h4h5h3h12h6h8h10h7h16h2h8h2h23h110h17h32m-386 2h37h13h1h11h19h11h6h7h1h4h12h1h13h10h5h6h29h7h4h1h3h115h21h122h12m-394 2h33h8h14h3h10h21h11h7h2h2h2h3h3h3h4h42h63h30m-330 2h30h39h1h30h29h3h7h12h11h2h8h28h5h6h179h15m-380 2h12h52h2h2h5h2h49h34h161h11h46h35m-433 2h81h35h37h7h1h29h138m-343 2h19h35h7h8h7h1h42h24h36h7h1m-159 2h8h50h9h43h4h7h2h4h1h5h13h23h11m-179 2h29h15h16h6h3h2h7h1h27h5h30h15h34h37m-251 2h46h18h14h9h23h9h7h19h22h49m-179 2h33h9h1h1h1h25h29h6h3h13h12h42h20h8m-222 2h9h2h6h10h3h2h6h2h1h1h7h2h6h2h3h4h4h3h3h6h5h1h1h3h2h1h1h2h2h2h2h2h3h2h1h1h2h2h1h3h2h1h2h3h6h1h4h3h1h2h3h3h7h6h4h1h16h11h3h1h5"/>
<rect x="1.5" y="186.14" width="62.87" height="39.86" fill="#fff" opacity=".86"/>
<rect x="0" y="0" width="365.5" height="227" fill="none" stroke="#333" stroke-width="1.7"/>
<path d="M0 0V227H365.5" style="stroke:#000" stroke-width="2.4"/>
<path d="M155.5 0V227" style="stroke:#000" stroke-width="2.6"/><path d="M0 126.5H365.5" style="stroke:#000" stroke-width="1.8"/>
<path d="M2 226.4H171.78" style="stroke:#e80000" stroke-width="1.5" opacity=".75"/>
<path d="M-10.5 227H0M0 227v7.5M-10.5 175.36H0M81.87 227v7.5M-10.5 123.72H0M163.74 227v7.5M-10.5 72.07H0M245.62 227v7.5M-10.5 20.43H0M327.49 227v7.5" style="stroke:#000" stroke-width="2"/>
<path d="M-5 211.45H0M24.65 227v4.5M-5 202.36H0M39.06 227v4.5M-5 195.91H0M49.29 227v4.5M-6.5 190.9H0M57.23 227v5.5M-5 186.81H0M63.71 227v4.5M-5 183.36H0M69.19 227v4.5M-5 180.36H0M73.94 227v4.5M-5 177.72H0M78.13 227v4.5M-5 159.81H0M106.52 227v4.5M-5 150.72H0M120.93 227v4.5M-5 144.27H0M131.16 227v4.5M-6.5 139.26H0M139.1 227v5.5M-5 135.17H0M145.58 227v4.5M-5 131.71H0M151.06 227v4.5M-5 128.72H0M155.81 227v4.5M-5 126.08H0M160 227v4.5M-5 108.17H0M188.39 227v4.5M-5 99.08H0M202.81 227v4.5M-5 92.62H0M213.04 227v4.5M-6.5 87.62H0M220.97 227v5.5M-5 83.53H0M227.45 227v4.5M-5 80.07H0M232.93 227v4.5M-5 77.08H0M237.68 227v4.5M-5 74.44H0M241.87 227v4.5M-5 56.53H0M270.26 227v4.5M-5 47.43H0M284.68 227v4.5M-5 40.98H0M294.91 227v4.5M-6.5 35.98H0M302.84 227v5.5M-5 31.89H0M309.32 227v4.5M-5 28.43H0M314.81 227v4.5M-5 25.43H0M319.55 227v4.5M-5 22.79H0M323.74 227v4.5M-5 4.88H0M352.13 227v4.5" style="stroke:#222" stroke-width="1.1"/>
<text class="b" x="-38.2" y="230" font-size="19">10</text>
<text class="b" transform="translate(-19.3 219.4) scale(1.05 1)" font-size="11">1</text>
<text class="b" transform="translate(-11.1 255.8) scale(0.97 1)" font-size="20.5">10</text>
<text class="b" transform="translate(9.5 246) scale(1.05 1)" font-size="11">1</text>
<text class="b" x="-38.2" y="186.86" font-size="19">10</text>
<text class="b" transform="translate(-19.3 176.26) scale(1.05 1)" font-size="11">2</text>
<text class="b" transform="translate(64.57 255.8) scale(0.97 1)" font-size="20.5">10</text>
<text class="b" transform="translate(85.17 246) scale(1.05 1)" font-size="11">2</text>
<text class="b" x="-38.2" y="135.52" font-size="19">10</text>
<text class="b" transform="translate(-19.3 124.92) scale(1.05 1)" font-size="11">3</text>
<text class="b" transform="translate(146.44 255.8) scale(0.97 1)" font-size="20.5">10</text>
<text class="b" transform="translate(167.04 246) scale(1.05 1)" font-size="11">3</text>
<text class="b" x="-38.2" y="82.57" font-size="19">10</text>
<text class="b" transform="translate(-19.3 71.97) scale(1.05 1)" font-size="11">4</text>
<text class="b" transform="translate(228.32 257.1) scale(0.97 1)" font-size="20.5">10</text>
<text class="b" transform="translate(248.92 247.3) scale(1.05 1)" font-size="11">4</text>
<text class="b" x="-38.2" y="28.53" font-size="19">10</text>
<text class="b" transform="translate(-19.3 17.93) scale(1.05 1)" font-size="11">5</text>
<text class="b" transform="translate(310.19 258.4) scale(0.97 1)" font-size="20.5">10</text>
<text class="b" transform="translate(330.79 248.6) scale(1.05 1)" font-size="11">5</text>
<text class="b" transform="translate(6.14 29.74) scale(1.74 1)" font-size="19.61">2.98</text>
<text class="b" transform="translate(6.14 212.02) scale(1.74 1)" font-size="19.61">73.7</text>
<text class="b" transform="translate(266.45 30.42) scale(1.74 1)" font-size="19.61">17.2</text>
<text class="b" transform="translate(266.45 212.7) scale(1.74 1)" font-size="19.61">6.18</text>
</g>
<g transform="translate(152 1817)">
<ellipse cx="99.46" cy="190.77" rx="21" ry="17" fill="url(#rb)" transform="rotate(-30 99.46 190.77)"/>
<path class="dt" transform="scale(.5)" d="M374 186h0m54 2h37h15m-245 2h166h74m-62 2h10h37m-130 2h133m-211 2h113h16m-162 2h50h120h24h32h47m-114 2h17h15h27h16m-103 2h142m-245 2h75h37h52h17h5h30m-113 2h12h3h6h4h29h10h83h16m-288 2h23h62h73h1h21h21h5h20h19m-124 2h31h27h25h10h2h1h14h38m-264 2h99h4h18h32h10h9h23h4h13h64m-373 2h239h3h8h1h21h6h25h35m-287 2h58h96h6h15h11h18h8h4h44h27m-215 2h113h10h6h25h4h5h4h24h2h1h1h3m-107 2h2h3h11h3h23h3h30h2h10h40m-277 2h44h89h5h33h4h24h11h8h4h6h1h5h5h11h5h22h16h1m-283 2h73h7h24h14h20h4h3h19h14h5h4h2h1h3h28m-232 2h14h19h48h65h2h16h14h2h18h1h27h46h2h13m-137 2h12h23h13h25m-216 2h64h34h22h40h16h19h6h8h18h14h2h20h1h82m-316 2h97h4h2h12h28h1h6h4h3h3h7h30h37h1m-279 2h37h4h58h17h24h4h1h33h3h29h20h17m-214 2h95h25h30h35h17h31h68m-337 2h42h86h63h15h6h4h7h18h36m-237 2h1h80h12h3h67h11h11h19h7h7h1h7m-99 2h55h36h2m-240 2h131h4h35h7h14h4h11h2h4h75m-274 2h11h144h24h34h10h70m-223 2h70h32h33m-139 2h13h81m-15 2h24h26h14m-237 2h13h52h120m-7 2h0m-125 2h124m-114 2h41h59m-163 2h74m-30 2h54h71h19h70m-74 2h0m-187 2h10h16h8h23h70m-193 2h182h23h42h77m-114 2h18h57h24m-203 2h36h81h30m-192 2h26h120h28h27h5m-197 2h80h53h62m-173 2h20h6h28h4h11h40h82m-44 2h0m-175 2h13h12h29h9h57h31m-113 2h20h84h20h4h8h111m-209 2h10h2h10h5h21h31h15h3h41h14m-200 2h41h62h8h3h18m-161 2h62h8h31h63m-185 2h25h18h4h29h2h9h3h5h37h18h33h27m-210 2h30h32h17h23h13h1m-122 2h32h6h27h4h16h6h10h21h27h2h28h23m-152 2h8h18h7h25h1h2h5h9h126h49m-337 2h89h19h19h24h12h4h62h10m-188 2h10h34h12h12h6h2h11h7h9h14h3h93h1m-227 2h6h21h13h49h2h3h23h5h18h40h6h130m-324 2h8h23h45h23h5h34h48h15h24m-208 2h20h6h5h8h4h1h15h20h9h60h6h9h8h25m-195 2h19h4h2h11h9h1h17h10h6h15h38h1h43h2m-158 2h23h19h34h5h6h7h35h38h8h6m-186 2h3h4h3h33h1h16h19h3h6h2h5h1h16h4h6h75h16m-256 2h6h11h37h10h2h14h10h2h7h23h9h23h38h10h15h46h35m-324 2h44h4h6h24h1h19h1h9h7h10h20h1h11h6h3h74h39m-242 2h2h15h10h3h4h11h17h6h1h3h1h4h1h8h2h5h4h1h5h1h4h9h16h16h21h5h9h3h7h26h106m-322 2h3h7h12h6h11h6h1h8h13h1h10h4h3h1h1h3h1h1h5h2h1h4h6h5h16h9h14h34h17h4h20m-256 2h3h12h3h11h5h12h22h22h3h3h4h10h1h5h8h3h4h1h3h3h2h3h2h10h4h20h3h2h59m-259 2h18h9h20h25h1h1h2h6h22h11h6h4h4h1h1h2h7h7h5h4h5h1h2h18h12h3h11h45h14h131m-398 2h2h23h34h18h9h14h15h25h3h20h6h2h6h3h1h39h9h17h11m-246 2h17h8h8h20h1h6h3h3h1h1h6h5h3h4h5h3h4h2h12h4h1h13h1h7h21h3h1h20h54h5h15h65m-367 2h40h12h16h15h15h8h3h14h2h3h4h1h6h8h4h1h1h1h2h5h6h1h6h8h3h4h2h1h3h1h8h20h4h1h17h64h23m-275 2h2h7h17h4h7h1h13h1h3h6h3h2h2h2h1h17h2h7h2h7h1h3h2h1h1h2h5h4h1h5h4h4h2h2h7h2h8h2h18h7h40h27h96m-336 2h10h14h2h3h3h1h3h6h3h19h5h2h4h5h2h8h5h4h2h3h2h5h1h3h12h11h4h2h3h2h13h7h71m-254 2h6h1h13h6h11h4h5h1h4h2h3h1h2h1h6h5h1h1h6h9h1h2h5h3h3h3h1h4h2h3h1h1h7h2h1h2h6h7h5h15h6m-172 2h10h1h10h10h4h8h1h5h12h3h3h1h1h3h1h1h2h2h1h2h3h4h2h6h12h5h5h1h8h1h8h4h1h4h3h3h6h8h2h22h12h23h17h43m-261 2h7h6h18h3h1h7h7h2h2h3h2h1h3h4h1h1h3h5h1h3h2h2h2h1h2h1h6h2h2h5h2h2h3h9h4h1h2h9h2h11h4h14h21m-229 2h17h5h2h22h13h3h4h1h4h3h1h1h1h3h5h7h3h2h4h2h1h3h1h2h4h1h3h9h6h1h4h1h4h2h2h2h1h1h5h1h1h22h11h2h1h11h8h26h10h26m-244 2h2h6h8h1h8h2h2h3h3h5h1h5h1h1h1h2h1h2h1h3h1h4h4h4h1h1h8h2h3h2h1h2h13h3h2h1h3h2h10h4h10h5h7h2h91m-321 2h6h35h25h15h2h7h15h4h1h4h3h2h1h3h2h2h2h1h2h2h1h3h1h1h1h3h3h7h3h1h1h2h1h3h2h15h4h3h5h1h1h1h2h6h4h6h3h6h5h35h12h16h12m-354 2h109h7h16h2h18h3h5h1h3h3h3h7h5h1h2h1h2h3h2h3h1h5h7h1h1h3h2h1h1h3h3h1h1h3h1h2h3h1h1h1h1h1h4h1h3h3h8h6h8h4h8h7h4h3h38h64m-321 2h20h7h12h8h1h4h2h7h1h3h3h1h2h3h3h1h1h2h4h6h1h1h2h5h3h2h3h4h1h1h1h1h2h1h1h1h1h1h3h1h1h3h1h3h2h1h5h2h5h2h2h2h4h7h3h4h1h2h1h2h2h19h6h7h12h101m-346 2h37h4h12h14h5h18h2h4h3h2h2h2h3h2h1h2h2h7h2h6h3h3h1h3h1h2h1h2h1h1h2h4h3h4h1h2h2h2h1h3h10h1h1h2h3h3h2h2h7h1h2h3h3h11h9h2h20m-281 2h76h11h2h5h5h1h9h7h8h5h1h2h1h4h2h1h2h2h1h1h2h1h1h2h1h1h2h3h2h2h1h1h4h7h1h2h2h1h4h1h6h2h2h2h1h1h2h1h1h1h5h8h6h5h1h8h2h6h37h13h43m-323 2h3h24h22h3h39h3h1h2h7h2h3h4h1h4h1h1h1h1h4h2h3h1h1h2h3h2h1h1h1h1h1h2h2h3h5h1h1h2h1h2h1h2h1h1h1h3h2h2h4h1h1h1h4h5h1h5h1h1h3h6h6h10h1h31h140m-455 2h15h16h57h2h5h17h3h9h5h2h21h5h1h4h1h2h1h3h2h3h1h2h3h1h1h4h2h5h1h1h5h1h3h2h3h1h1h1h1h1h1h1h1h2h2h2h1h2h1h1h3h1h1h7h2h3h3h1h2h1h4h1h3h2h3h1h4h1h1h1h6h3h3h9m-306 2h27h22h32h20h21h4h1h10h1h6h1h3h5h4h3h3h1h3h3h1h2h3h1h1h1h1h4h1h1h3h2h2h1h3h2h2h2h5h5h1h1h4h2h1h5h2h1h1h1h1h1h2h2h2h2h2h1h4h2h2h1h1h1h1h2h1h2h1h1h1h5h5h1h9h19h58m-314 2h11h2h26h22h1h15h1h8h3h8h3h1h6h3h2h1h1h4h5h1h1h3h1h1h2h5h2h2h1h1h3h2h1h2h1h2h1h2h3h1h1h1h1h1h2h2h1h3h1h1h3h1h1h2h1h1h2h3h2h1h2h1h6h5h5h2h2h2h5h4h1h2h7h4h1h5h3h1h7h37h36h29m-407 2h73h22h4h16h14h8h1h2h3h7h1h2h3h1h2h1h10h2h1h2h4h2h2h3h2h1h1h1h3h3h2h1h4h1h2h1h1h1h2h3h1h1h4h4h1h3h1h1h2h2h1h7h2h17h2h2h5h2h4h6h24h1h4h40h20m-296 2h19h1h11h16h1h7h6h1h3h3h4h1h2h1h2h6h1h1h3h3h1h2h3h4h1h3h5h4h1h1h5h4h3h1h2h1h2h2h3h1h2h1h1h1h1h1h1h1h1h1h1h1h5h2h2h2h3h1h1h1h5h2h3h1h3h6h1h1h2h10h10h19h1h5h63h52m-356 2h11h2h5h11h5h6h4h9h1h5h7h4h1h11h5h1h1h4h1h4h1h3h1h1h2h2h1h1h2h1h1h2h1h4h1h1h1h1h1h2h1h1h2h1h3h2h1h1h2h3h1h4h2h1h1h1h1h2h1h1h1h1h3h2h3h2h1h3h1h1h2h4h2h7h7h2h7h8h3h11h4h2h1h2h17h1m-292 2h7h25h21h9h6h7h9h3h11h2h4h1h12h2h1h1h2h3h8h5h2h1h1h2h1h1h1h2h6h3h1h1h3h1h2h3h1h4h1h1h1h1h3h2h1h2h1h2h2h2h2h1h1h3h2h1h4h4h8h1h3h1h1h2h2h3h3h6h5h4h11h8h1h3h13h41m-365 2h12h15h4h34h31h8h7h1h4h4h1h1h3h1h3h1h5h1h8h5h1h3h1h11h1h4h1h1h2h7h3h2h1h1h2h1h4h1h1h1h1h2h1h1h1h1h1h1h3h1h2h2h1h1h1h1h3h1h2h1h4h3h3h4h6h2h1h2h2h2h4h2h6h3h1h1h2h2h12h2h7h14h64m-327 2h10h1h11h8h1h9h5h10h14h3h14h1h3h5h2h4h1h4h3h2h1h3h3h3h7h1h1h4h3h1h2h3h1h2h1h1h1h2h1h1h2h2h1h2h1h1h3h1h1h1h1h5h3h1h2h1h2h2h3h4h3h1h2h1h2h2h2h1h1h2h5h4h2h6h1h2h2h4h10h2h20m-304 2h23h4h4h8h12h1h33h28h1h18h5h3h4h3h1h1h1h2h1h1h4h2h1h1h1h2h3h1h1h3h1h1h1h1h1h3h1h2h1h1h2h1h1h5h1h2h1h1h1h2h2h1h5h3h1h2h2h1h1h1h8h1h1h3h4h3h4h1h3h2h1h3h8h4h7h10h2h5h2h164m-449 2h18h21h7h5h8h4h8h13h2h1h10h12h1h3h18h2h1h1h1h1h1h2h1h2h2h1h2h1h2h2h1h2h1h1h1h2h1h1h1h1h1h3h2h2h1h1h2h4h1h1h1h2h1h1h1h1h1h2h2h1h1h1h3h1h1h1h2h2h5h3h4h2h1h2h1h4h1h4h2h1h4h1h1h3h4h20h2h4h8h169m-448 2h8h1h17h25h3h17h3h2h10h6h1h2h5h5h8h1h1h6h1h2h1h2h8h1h1h2h1h3h3h3h1h1h2h1h2h3h1h1h2h1h1h2h2h1h1h2h1h2h2h1h2h3h4h6h1h1h1h1h1h2h2h1h3h5h1h3h2h1h3h4h1h1h1h2h1h1h1h12h4h1h1h34h28h12h46h59m-422 2h53h2h4h2h11h1h3h1h5h12h2h2h1h10h6h1h2h6h1h1h1h1h1h1h2h1h1h1h1h1h1h2h1h2h1h1h1h1h1h3h4h1h1h1h1h1h1h1h3h1h1h1h1h3h1h1h3h3h1h1h2h2h4h1h1h4h4h3h4h4h1h1h1h3h2h4h9h4h1h3h1h9h3h3h17h2h5h28h58h14h36m-439 2h4h17h33h16h8h13h6h7h10h6h4h5h2h2h3h5h1h1h4h1h8h3h2h1h1h1h1h1h4h1h1h1h2h1h1h1h3h1h3h3h3h2h1h1h2h2h1h1h1h1h3h1h1h2h2h4h5h1h4h1h2h7h7h6h19h9h2h1h3h6h28m-310 2h3h2h14h1h1h9h2h44h5h2h7h6h27h1h4h1h3h2h1h4h1h9h1h2h3h3h4h1h2h1h1h1h2h2h4h6h4h2h1h1h3h3h2h4h1h2h8h2h1h6h1h4h7h3h1h1h4h1h1h6h2h4h3h1h3h13h4h1h2h5m-293 2h19h7h8h33h6h4h3h2h3h1h2h24h3h16h3h3h3h2h1h1h1h1h1h1h1h3h1h1h1h3h1h1h1h1h2h2h1h1h1h2h2h2h2h1h2h2h2h1h1h6h1h1h1h2h1h1h7h1h4h1h2h1h1h3h2h4h1h1h4h1h1h6h2h1h1h3h1h11h18h4h1h8h4h1h1h5h32m-290 2h22h1h7h10h4h4h7h10h1h4h3h5h1h3h2h1h1h5h2h4h3h3h2h1h1h3h2h2h1h1h3h2h3h2h2h1h1h2h2h2h2h3h1h1h2h1h1h2h1h1h5h1h1h1h2h3h1h1h2h2h2h1h1h1h3h4h5h2h2h4h1h2h1h3h1h4h3h1h2h10h1h3h5h3h2h6h9h3h3h3h4h16m-325 2h20h60h4h2h12h10h13h4h3h2h3h2h1h1h2h2h1h2h4h1h1h4h3h1h2h1h1h1h2h1h2h1h1h1h1h2h1h2h1h1h2h1h1h4h1h1h2h1h2h1h1h1h2h2h1h3h1h2h2h1h1h2h4h4h2h1h1h2h1h1h2h1h2h2h2h21h1h3h3h4h2h13h3h4h15h2h61m-321 2h20h13h5h11h2h1h14h2h2h7h3h1h1h6h1h2h1h1h1h2h5h8h2h1h2h1h1h1h1h1h2h2h2h2h1h3h4h1h4h1h2h3h6h2h1h1h1h1h1h1h1h2h2h3h3h1h4h2h2h2h5h1h1h3h1h1h1h4h2h1h1h7h2h7h1h5h20h2h5h42m-344 2h5h45h12h9h21h9h3h4h3h1h3h4h3h1h1h1h6h3h1h5h2h1h3h1h1h1h3h2h1h2h1h3h1h1h2h2h5h5h1h5h1h1h1h2h1h2h1h1h2h1h6h2h2h4h1h5h5h3h1h2h3h7h4h1h1h3h1h1h3h7h7h2h2h21h7m-314 2h9h10h22h1h48h10h4h8h6h7h1h3h1h1h4h6h5h6h1h1h4h1h3h3h3h1h4h1h1h3h2h1h1h2h1h1h2h2h1h2h1h3h1h1h1h1h3h1h1h1h1h1h6h3h1h2h4h3h2h9h1h2h3h4h2h2h1h1h3h3h1h2h2h1h27h5h12h13h12h69m-388 2h4h11h26h1h17h3h25h12h2h2h2h1h1h5h11h2h4h1h6h2h2h1h1h6h1h4h7h1h1h3h1h1h2h4h1h3h1h1h2h1h2h1h3h1h1h3h1h1h2h1h1h2h2h5h2h1h1h2h1h3h6h6h1h1h1h3h2h1h8h2h2h3h3h2h3h2h1h4h18h4h6h1h11h5h55m-368 2h68h17h2h6h7h8h3h2h4h10h1h2h8h7h1h3h2h2h1h2h1h1h5h2h1h1h3h1h3h1h1h1h1h2h3h1h1h2h1h3h3h1h2h1h6h1h5h4h4h1h5h2h1h1h1h10h2h1h1h1h14h3h28h1h9m-293 2h3h6h2h3h9h26h30h6h16h6h1h5h3h9h7h5h4h1h1h1h2h2h1h2h3h6h2h1h4h1h7h8h1h1h1h1h7h1h2h1h7h2h1h3h1h3h6h4h1h1h1h6h4h1h10h9h7h2h15h5h3h105m-371 2h3h9h24h4h6h11h2h15h4h2h7h9h3h8h1h2h3h2h2h1h5h2h2h1h1h1h1h1h1h3h3h1h3h1h1h1h3h3h1h3h8h2h1h1h1h2h1h1h4h2h1h2h2h2h1h1h1h1h4h2h4h2h3h1h7h8h7h1h9h7h9h8m-259 2h25h5h17h5h16h1h9h16h1h4h1h2h3h3h3h2h4h2h2h2h1h1h3h1h1h5h2h2h1h2h1h2h1h1h1h2h2h3h2h3h4h2h3h1h2h1h1h1h2h2h1h3h3h8h2h5h2h1h1h1h4h6h3h4h7h3h3h16h7h2h36m-328 2h11h8h34h24h2h14h7h8h10h3h5h4h3h2h4h6h1h3h1h3h3h2h1h3h4h2h1h1h2h1h2h1h2h1h2h2h1h1h3h1h1h1h1h1h2h2h1h3h2h4h1h1h1h1h4h1h1h5h2h1h3h5h12h1h11h6h9h77m-363 2h1h20h34h25h11h5h19h10h1h6h2h7h1h5h4h5h1h2h8h1h2h2h4h1h2h2h6h5h1h1h4h1h2h1h1h5h2h1h5h1h3h1h1h2h1h6h4h1h2h7h2h12h1h13h1h11h51m-323 2h9h12h28h1h10h33h4h8h7h2h9h1h2h4h1h1h4h3h3h1h5h1h1h2h1h4h2h4h1h3h13h4h1h1h1h3h8h6h2h4h9h3h2h7h3h2h5h1h2h1h8h2h2h6h4h21h1h44h25m-369 2h30h10h10h5h21h15h3h6h10h12h9h1h11h3h3h7h2h1h2h2h3h3h1h1h3h3h1h2h2h4h1h4h3h1h4h4h2h1h12h3h1h3h3h1h4h8h1h6h4h7h10h2h27h3h16m-302 2h42h19h4h1h13h3h3h2h2h11h2h7h6h8h7h3h4h1h6h1h3h10h1h1h1h3h4h5h1h2h1h2h3h1h3h3h9h3h1h3h4h1h1h15h2h6h4h2h2h36h2h6h3m-296 2h13h8h3h42h18h16h3h3h8h9h2h8h2h1h4h1h1h4h4h1h2h2h1h1h4h3h2h1h6h1h2h2h1h1h2h1h2h1h1h1h5h1h9h5h2h1h1h1h4h4h1h8h2h3h3h7h2h4h10h13h1h8h4h38m-330 2h4h27h15h17h1h4h13h20h1h9h1h6h1h7h4h4h3h4h1h4h15h1h1h3h3h4h1h1h5h1h4h2h1h5h4h1h4h6h3h11h5h1h1h10h1h4h3h6h1h2h1h2h2h5h1h3h3h16m-282 2h29h14h9h2h7h25h9h13h4h1h12h1h1h1h7h4h1h1h6h6h6h1h2h1h2h2h2h7h6h2h1h2h1h2h3h2h6h1h4h1h5h1h6h2h1h2h1h3h5h2h3h4h3h4h6h7h72m-342 2h32h1h2h33h8h1h3h6h17h4h1h4h18h1h1h2h1h1h5h2h1h6h6h4h1h6h1h2h2h7h2h1h2h2h3h3h3h2h1h2h5h4h4h6h1h3h5h1h23h7h8h4h12h34h36m-352 2h6h10h15h3h18h31h2h4h10h23h11h9h4h1h3h1h3h7h4h5h1h6h3h2h3h1h4h2h2h1h2h2h5h1h1h1h1h2h4h2h3h5h21h3h6h7h16h10h35m-283 2h32h3h6h11h8h11h20h2h9h14h4h1h5h5h4h4h3h4h5h5h8h7h5h2h2h3h1h6h5h5h1h6h14m-256 2h2h2h31h2h2h11h10h20h18h10h6h1h10h7h5h4h3h1h1h6h4h1h1h4h1h1h11h1h2h1h1h2h12h1h2h1h10h4h2h16h1h1h3h5h1h8h1h8h1h26m-282 2h9h7h6h12h15h14h15h14h6h2h15h1h7h1h6h4h1h3h1h10h1h1h6h1h5h1h9h1h1h5h5h1h14h1h1h6h4h1h4h3h2h11h1h1h8h4h1h5h1h2h1h1h3m-269 2h40h7h5h10h20h18h5h6h3h2h2h5h3h2h20h4h2h3h2h1h3h1h3h2h5h8h6h1h10h2h3h1h1h7h2h4h2h2h2h3h3h14m-244 2h2h45h11h16h31h1h4h2h3h5h3h11h6h1h5h6h4h1h2h2h1h4h5h5h6h2h2h2h2h3h6h3h6h8h4h2h13h9h4h6h10m-271 2h3h13h59h4h13h37h12h1h1h5h9h4h1h3h4h2h13h1h1h1h3h17h16h5h23h18h33h18m-313 2h7h21h9h14h2h3h37h3h15h5h1h1h14h7h6h6h1h5h4h6h1h4h5h6h1h3h5h3h2h30h6h11h4h5h1h1h2h13h14h2h10h7m-306 2h26h46h16h7h10h21h14h5h6h5h7h1h19h1h1h4h13h2h2h3h2h3h1h7h18h37h16h9h53m-324 2h2h5h57h2h5h10h15h6h8h1h10h1h6h2h2h4h1h2h1h12h1h4h1h4h1h3h2h2h2h5h2h10h13h6h2h2h8m-252 2h60h15h1h14h12h14h7h8h2h6h3h3h8h4h1h1h2h3h19h9h11h2h7h6h1h17h4h13h1m-171 2h17h13h7h3h7h1h17h3h1h18h15h2h2h23h3h8h3h2h16h5h21h54m-323 2h31h20h19h1h15h4h18h3h18h10h8h12h6h3h15h11h4h4h19h23h33m-242 2h30h2h30h5h2h31h1h3h5h10h4h7h3h2h11h9h9h6h7h18h4h7h9h11h44m-307 2h2h25h55h20h12h7h21h1h4h1h14h22h2h7h2h4h12h3h2h16h4h27h1h2m-227 2h43h3h21h10h8h39h9h26h2h5h4h1h3h4h4h13h6h2h4h9h4h64m-307 2h20h54h10h4h3h6h16h3h8h7h5h4h1h2h8h6h17h5h32h10h7h6h33m-168 2h10h11h15h5h12h10h1h12h7h5h14h59m-240 2h30h14h9h4h10h9h29h12h5h6h3h24h26h2h12h5h6h33h53m-298 2h58h22h13h21h2h6h12h29h5h2h20h35m-225 2h22h5h1h2h3h6h3h6h6h1h3h8h5h1h1h1h3h5h3h2h1h2h3h1h1h6h4h1h1h1h2h1h1h1h1h4h1h2h1h2h1h1h1h4h1h1h1h1h1h2h2h1h1h1h1h2h5h1h1h2h1h1h2h1h3h2h1h1h2h1h3h1h2h1h1h3h1h1h2h2h1h1h1h6h7h6h3h6h2h3h1h12h10h4h4h8h8"/>
<rect x="1.5" y="193.93" width="63.64" height="41.57" fill="#fff" opacity=".86"/>
<rect x="0" y="0" width="370" height="236.5" fill="none" stroke="#333" stroke-width="1.7"/>
<path d="M0 0V236.5H370" style="stroke:#000" stroke-width="2.4"/>
<path d="M158 0V236.5" style="stroke:#000" stroke-width="2.6"/><path d="M0 131.5H370" style="stroke:#000" stroke-width="1.8"/>
<path d="M2 235.9H173.9" style="stroke:#e80000" stroke-width="1.5" opacity=".75"/>
<path d="M-10.5 236.5H0M0 236.5v7.5M-10.5 182.7H0M82.88 236.5v7.5M-10.5 128.89H0M165.76 236.5v7.5M-10.5 75.09H0M248.64 236.5v7.5M-10.5 21.28H0M331.52 236.5v7.5" style="stroke:#000" stroke-width="2"/>
<path d="M-5 220.3H0M24.95 236.5v4.5M-5 210.83H0M39.54 236.5v4.5M-5 204.11H0M49.9 236.5v4.5M-6.5 198.89H0M57.93 236.5v5.5M-5 194.63H0M64.49 236.5v4.5M-5 191.03H0M70.04 236.5v4.5M-5 187.91H0M74.85 236.5v4.5M-5 185.16H0M79.09 236.5v4.5M-5 166.5H0M107.83 236.5v4.5M-5 157.03H0M122.42 236.5v4.5M-5 150.3H0M132.78 236.5v4.5M-6.5 145.09H0M140.81 236.5v5.5M-5 140.83H0M147.37 236.5v4.5M-5 137.23H0M152.92 236.5v4.5M-5 134.11H0M157.73 236.5v4.5M-5 131.35H0M161.97 236.5v4.5M-5 112.7H0M190.71 236.5v4.5M-5 103.22H0M205.3 236.5v4.5M-5 96.5H0M215.66 236.5v4.5M-6.5 91.29H0M223.69 236.5v5.5M-5 87.03H0M230.25 236.5v4.5M-5 83.42H0M235.8 236.5v4.5M-5 80.3H0M240.61 236.5v4.5M-5 77.55H0M244.85 236.5v4.5M-5 58.89H0M273.59 236.5v4.5M-5 49.42H0M288.18 236.5v4.5M-5 42.7H0M298.54 236.5v4.5M-6.5 37.48H0M306.57 236.5v5.5M-5 33.22H0M313.13 236.5v4.5M-5 29.62H0M318.68 236.5v4.5M-5 26.5H0M323.49 236.5v4.5M-5 23.75H0M327.73 236.5v4.5M-5 5.09H0M356.47 236.5v4.5" style="stroke:#222" stroke-width="1.1"/>
<text class="b" x="-38.2" y="239.5" font-size="19">10</text>
<text class="b" transform="translate(-19.3 228.9) scale(1.05 1)" font-size="11">1</text>
<text class="b" transform="translate(-11.1 265.3) scale(0.97 1)" font-size="20.5">10</text>
<text class="b" transform="translate(9.5 255.5) scale(1.05 1)" font-size="11">1</text>
<text class="b" x="-38.2" y="194.2" font-size="19">10</text>
<text class="b" transform="translate(-19.3 183.6) scale(1.05 1)" font-size="11">2</text>
<text class="b" transform="translate(65.58 265.3) scale(0.97 1)" font-size="20.5">10</text>
<text class="b" transform="translate(86.18 255.5) scale(1.05 1)" font-size="11">2</text>
<text class="b" x="-38.2" y="140.69" font-size="19">10</text>
<text class="b" transform="translate(-19.3 130.09) scale(1.05 1)" font-size="11">3</text>
<text class="b" transform="translate(148.46 265.3) scale(0.97 1)" font-size="20.5">10</text>
<text class="b" transform="translate(169.06 255.5) scale(1.05 1)" font-size="11">3</text>
<text class="b" x="-38.2" y="85.59" font-size="19">10</text>
<text class="b" transform="translate(-19.3 74.99) scale(1.05 1)" font-size="11">4</text>
<text class="b" transform="translate(231.34 266.6) scale(0.97 1)" font-size="20.5">10</text>
<text class="b" transform="translate(251.94 256.8) scale(1.05 1)" font-size="11">4</text>
<text class="b" x="-38.2" y="29.38" font-size="19">10</text>
<text class="b" transform="translate(-19.3 18.78) scale(1.05 1)" font-size="11">5</text>
<text class="b" transform="translate(314.22 267.9) scale(0.97 1)" font-size="20.5">10</text>
<text class="b" transform="translate(334.82 258.1) scale(1.05 1)" font-size="11">5</text>
<text class="b" transform="translate(6.22 30.98) scale(1.69 1)" font-size="20.43">0.59</text>
<text class="b" transform="translate(6.22 220.89) scale(1.69 1)" font-size="20.43">94.1</text>
<text class="b" transform="translate(269.73 31.69) scale(1.69 1)" font-size="20.43">3.35</text>
<text class="b" transform="translate(269.73 221.6) scale(1.69 1)" font-size="20.43">2.00</text>
</g>
<g transform="translate(618 1817.5)">
<ellipse cx="100.7" cy="183.43" rx="21" ry="17" fill="url(#rb)" transform="rotate(-30 100.7 183.43)"/>
<ellipse cx="206.36" cy="110.49" rx="38" ry="11" fill="url(#rb)" opacity="0.4"/>
<path class="dt" transform="scale(.5)" d="M572 116h0m-30 10h0m-86 2h39m88 2h0m-52 2h0m-40 2h0m-17 2h0m-9 2h0m120 2h0m-131 2h19h55m-54 2h68m-104 2h73h44m-201 2h84h57h23h20h52m-218 2h23h12h1h45h76h33h18h38m-166 2h24h20h15h14h5h11h1h70m-270 2h107h5h13h27h2h22h37h10h30m-224 2h6h59h7h12h4h3h6h14h1h13h5h60h25h23m-244 2h40h10h60h48h16h58m-224 2h13h16h17h8h1h1h19h4h6h1h13h30h1h15h7h6h2h60m-217 2h19h2h11h37h2h6h15h7h14h4h49h62h17m-340 2h26h24h28h50h9h5h20h6h14h5h16h8h4h7h12h9h2h4h42h60h2m-350 2h77h11h41h8h14h8h5h8h9h4h29h15h21h11h11h1h35h7h101m-304 2h19h4h4h5h10h2h10h6h15h6h2h4h4h6h6h15h3h49h68m-371 2h95h7h5h31h23h13h8h1h2h3h3h6h5h2h3h7h14h1h3h14h4h21h1h34h82m-327 2h28h4h28h8h1h1h5h24h13h4h7h4h9h11h2h9h1h10h10h4h15h4h9h17h4h82m-417 2h89h15h27h5h9h24h11h9h3h5h13h12h2h10h6h1h1h9h1h4h10h15h13h4h16h30h43m-321 2h22h4h36h15h4h8h21h8h16h6h3h3h3h12h1h9h1h1h5h4h5h7h13h7h6h5h2h7h30h39m-275 2h17h7h10h13h4h2h9h2h28h2h22h20h3h1h5h13h6h3h3h9h38h9h14h16h13h11m-234 2h18h2h8h13h10h2h5h7h20h1h1h8h2h2h5h2h27h5h19h10h1h13h13m-381 2h113h15h15h13h8h6h35h8h8h18h1h8h5h10h18h6h4h7h6h1h2h4h10h2h8h3h3h3h8h2h2m-230 2h10h1h18h8h30h2h1h11h6h11h6h10h6h3h3h3h2h9h9h17h9h7h3h17h3h8h4h6h1h3h16h13h28m-327 2h70h21h9h9h3h13h3h16h4h1h2h7h5h4h2h1h2h1h1h2h13h5h4h1h2h1h1h4h1h7h2h7h6h8h4h11h2h3h4h14h20h4h64m-445 2h77h28h19h2h1h18h7h26h10h7h12h3h9h8h2h13h2h3h2h2h8h1h7h7h5h24h21h4h14h3h3h8h7h41m-307 2h3h57h12h23h3h16h1h1h16h1h3h8h1h2h5h10h1h2h1h3h8h6h1h1h4h15h6h5h16h26m-303 2h16h31h58h20h2h6h7h12h2h1h7h18h1h6h1h4h5h7h2h2h2h1h2h1h1h9h7h6h6h5h9h5h3h6h1h5h4h6h2m-253 2h3h23h26h2h23h8h1h3h9h2h6h3h1h2h12h11h3h11h7h2h4h1h7h2h8h1h3h2h4h3h6h1h1h4h2h4h1h1h7h3h4h2h13h14h1h20h31h54m-412 2h41h6h14h21h14h17h6h12h3h5h12h3h4h4h1h4h6h1h4h3h13h1h3h9h5h7h8h8h2h10h5h15h4h24h3h7h3h9h48m-366 2h58h1h21h5h29h3h8h4h21h3h2h4h4h16h6h6h6h5h1h6h8h4h2h4h7h2h1h3h2h10h8h3h6h24h9h2h21m-372 2h55h33h9h10h16h30h8h11h5h5h12h1h8h11h1h2h1h5h2h3h1h13h3h3h4h1h3h2h9h5h2h1h4h2h2h3h7h13h1h9h3h2h2h5h18h4h6h41h26m-377 2h27h33h2h25h7h5h19h12h3h5h2h2h3h3h4h7h9h4h1h4h9h2h7h6h2h1h4h2h7h1h1h1h1h4h3h9h3h7h1h18h7h6h12h42h65m-395 2h15h19h16h41h14h22h8h3h6h2h4h13h3h6h4h7h1h8h2h2h2h2h1h5h6h5h2h1h10h1h1h2h15h4h1h14h12h3h4h14h6h18m-320 2h5h2h10h24h17h14h18h5h18h7h8h2h3h1h5h13h3h9h1h1h6h1h2h3h3h9h2h6h2h6h6h6h11h7h9h2h5h3h15h11h2h14h9h1h46h21m-369 2h9h29h15h8h9h18h2h7h1h1h3h2h8h5h1h8h3h11h2h1h4h1h2h1h1h6h1h6h4h3h7h7h8h2h5h1h13h9h1h1h2h3h2h7h2h13h2h9h1h45m-305 2h35h8h34h9h4h12h11h10h5h14h8h1h9h3h7h6h3h4h1h12h2h5h1h18h8h28h8h1h6h48m-333 2h42h12h1h13h4h18h11h6h6h9h12h1h5h2h1h1h4h3h15h2h15h1h11h25h7h2h14h5h9h28h25h11h5h20m-369 2h46h2h3h14h4h7h9h15h14h7h13h14h12h9h2h18h3h11h3h2h13h16h4h5h1h7h10h3h7h1h2h4h6h39m-323 2h19h13h11h7h7h8h9h8h3h2h3h9h5h7h13h1h5h2h2h3h2h2h2h3h5h9h3h3h2h1h9h1h2h7h6h3h5h1h3h9h5h1h3h6h7h6h5h3h5h1h1h12h1h11h6h11h9h1h5h20m-312 2h26h21h3h5h6h2h3h1h5h4h2h14h14h3h1h4h2h5h3h8h2h1h5h1h6h3h3h1h4h2h5h4h3h4h5h5h2h1h2h4h3h2h1h3h1h3h4h2h15h2h20h10h2h8h3h3h8h31h3h8h4m-368 2h32h19h5h7h1h2h11h1h1h1h2h1h7h1h5h5h1h6h3h4h3h8h1h2h14h7h1h2h7h2h3h4h2h1h1h1h1h3h4h7h1h2h3h1h3h1h4h2h4h3h1h4h3h1h1h3h3h3h2h1h1h2h1h1h1h1h1h1h1h2h1h2h1h2h1h3h1h2h1h1h2h4h1h1h1h1h4h4h12h1h5h1h2h19h5h2m-292 2h5h4h11h6h1h1h5h3h2h2h1h1h2h1h5h1h3h3h9h4h1h1h5h2h3h1h5h2h1h1h2h1h3h3h2h1h12h5h2h3h1h1h2h5h1h2h1h4h1h3h1h4h5h1h1h1h1h4h2h4h1h1h1h1h3h1h1h1h1h2h1h2h1h1h1h1h1h1h3h2h1h1h1h2h1h1h2h2h1h3h6h1h1h1h1h3h1h1h1h1h3h2h3h1h7h3h4h2h9h13h2h6h6h4h9h10m-333 2h29h7h5h12h1h1h1h2h2h8h2h1h4h3h3h2h4h1h2h1h5h3h4h3h1h2h1h2h1h4h1h2h1h1h3h2h1h6h1h2h4h6h1h6h2h2h1h7h1h1h1h3h1h1h3h1h4h1h4h1h1h1h1h1h1h1h2h1h3h1h4h2h1h5h2h1h2h2h1h2h1h2h2h5h2h1h4h1h3h1h1h2h4h5h1h4h5h2h2h5h1h5h5h3h22h28m-371 2h24h10h16h11h3h18h3h1h1h10h4h3h1h1h2h2h4h2h3h1h1h1h5h4h1h1h3h4h2h6h4h3h1h4h1h1h1h10h2h1h1h1h1h2h4h1h1h1h1h5h1h2h2h6h1h1h1h2h1h1h3h1h1h1h1h2h2h1h2h1h2h1h1h1h1h3h1h1h1h3h1h2h1h3h3h2h1h1h2h1h3h2h1h11h2h3h1h2h9h3h4h5h2h1h5h13h12h8m-290 2h1h1h2h7h17h3h3h1h6h1h2h7h7h6h4h1h1h1h3h1h5h2h12h1h4h3h4h4h3h2h1h1h2h1h4h1h5h1h4h2h3h1h2h1h1h2h2h1h4h2h12h2h4h1h2h6h1h9h1h3h1h1h1h1h4h2h3h1h1h1h2h8h2h8h1h4h7h3h9m-280 2h30h1h15h2h6h2h8h9h2h2h13h17h2h10h11h2h5h3h3h3h5h1h3h4h5h2h12h1h1h1h1h4h2h1h2h5h3h2h1h1h2h5h6h4h2h2h1h1h1h1h7h1h1h2h1h1h6h7h3h17h15h39h3m-300 2h1h4h8h3h11h25h1h1h43h3h6h1h10h4h11h1h29h12h1h3h1h3h19h6h7h14h2h9h13m-279 2h80h2h17h7h1h23h6h19h3h5h22h33h17h10h27m-301 2h15h4h29h54h23h4h2h2h4h2h2h3h5h5h10h17h37h14h1h9h26h3m-237 2h57h1h11h16h22h78h17m-186 2h7h6h27h16h18h34h8h18h154m-367 2h114h28h21h16h25h5h35h22h72h12m-321 2h1h61h102h12h7h61h5h29m-314 2h113h2h96h25h7m-203 2h17h12h72h148m-207 2h23h65h49m-176 2h22h85h4h3h82m-118 2h0m-21 2h3h26h13h19h10h7h9h1h25h11h4h4h8h8h14h23h7h8h77m-317 2h84h34h13h20h8h15h19h16h37m-170 2h11h31h3h9h8h8h8h2h2h5h10h1h22h24h11m-157 2h16h38h11h9h1h2h7h4h10h5h2h4h2h3h10h15h59h6h43m-254 2h23h9h35h3h1m-125 2h4h40h40h10h5h8h2h10h12h21h16h4h19h37m-136 2h1h9h3h8h4h19h4h13h23h6h1h64h30h42m-270 2h24h9h25h10h26h29h38h67m-244 2h42h13h5h17h3h10h13h15h13h4h42m-138 2h13h14h8h7h10h7h11h14h4h7h1h28h4h26h5m-181 2h10h18h1h23h12h43h1h1h24h2h34h4h9h68m-330 2h58h5h18h31h9h35h4h7h4h4h25h20h11h16h42m-272 2h59h2h3h15h6h29h17h13h5h4h23h7h3h16h6h25m-195 2h32h20h5h1h3h8h6h1h5h4h2h4h2h13h14h10h37h8m-174 2h12h2h22h21h5h1h4h9h5h9h19h7h6h1h22h9h11m-223 2h57h42h9h8h3h3h13h3h2h3h4h4h6h1h16h1h14h2h2h2h2h3h24h28h10h13h37h38m-264 2h8h7h21h9h2h6h6h25h2h4h2h8h33h71m-240 2h39h19h31h8h3h10h48m-166 2h5h51h9h1h27h9h14h30h9h8h36h2h2h18m-284 2h43h12h30h9h6h13h11h2h20h13h2h15h14h1h12h1h1h1h5h2h1h42h5m-203 2h34h10h6h5h5h5h17h3h3h17h17h19h14h8h6h16h8h21h67m-257 2h16h40h13h4h3h10h1h6h18h2h33h39h30h32m-292 2h27h7h5h13h6h18h20h5h11h7h9h3h4h28h23h8h11h22h10h2h2h57m-282 2h12h10h11h1h1h8h7h29h2h23h3h9h17h30h12h5h4h22h10h12m-185 2h1h12h8h1h4h2h3h29h12h1h7h31h8h4h4h6h67h27h2m-291 2h9h32h5h12h3h8h8h18h2h2h7h8h1h9h5h17h5h25h2h30h68m-315 2h10h5h13h8h26h17h48h13h7h7h5h12h1h9h3h2h1h16h9m-243 2h97h11h18h12h2h10h2h3h7h5h11h9h1h13h9h3h3h2h9h5h8h7h7h18h13h65m-317 2h42h3h5h19h4h2h6h5h2h5h18h9h2h11h3h3h3h7h15h9h7h17h2h6h8h14h4h5h34h26h34h65m-416 2h40h21h7h32h4h10h8h2h3h13h16h6h7h8h13h2h15h46h21h28h39m-297 2h1h5h32h20h20h8h2h2h1h4h1h1h8h5h14h5h15h3h4h12h21h8h44m-209 2h5h24h4h2h1h2h14h1h3h1h2h2h5h7h1h6h3h39h4h9h5h41m-270 2h54h5h41h7h3h4h6h7h16h1h1h1h10h1h3h3h4h10h1h12h1h1h12h1h2h6h3h11h1h17h3h112m-336 2h32h35h3h7h5h3h1h14h5h7h5h1h1h7h2h6h3h2h1h1h2h2h1h1h1h3h2h28h4h5h2h21h2h7h14h23h24m-289 2h14h40h8h12h8h3h18h5h3h1h3h1h3h1h2h4h8h3h6h2h10h3h6h16h2h1h22h12h15h8h4h18h8h10h13h12h23m-273 2h10h9h5h12h5h7h4h9h3h14h3h2h1h5h6h12h1h18h1h1h1h15h5h4h3h2h2h12h7h6h42h71h3m-416 2h45h20h1h27h13h8h1h5h4h1h5h4h2h4h1h5h3h11h8h4h1h1h3h5h2h1h8h46h11h5h22h2h17h32h5h7m-281 2h25h1h21h21h27h14h3h6h1h2h3h13h3h23h8h9h2h4h25h5h54h8m-405 2h113h31h9h20h16h10h9h3h2h4h5h3h2h1h1h5h14h1h2h2h5h1h4h2h2h4h9h2h11h4h14h5h2h9h6h11h1h12h18h9h12h2h39h89m-383 2h6h17h2h15h8h6h3h2h14h6h1h4h1h9h2h2h7h12h1h1h9h8h3h2h1h7h12h3h24h1h17h31h1m-248 2h4h1h24h3h5h1h6h3h1h1h1h5h10h6h11h3h3h3h1h2h7h1h5h1h4h2h12h21h4h2h10h20h18h4h2h37h6h124m-453 2h32h89h2h3h9h8h2h10h3h3h3h3h2h1h4h8h3h7h1h2h3h8h4h2h2h7h7h5h1h1h2h18h4h12h3h26h58m-389 2h24h50h56h12h3h24h1h1h11h1h6h8h6h1h2h1h7h2h6h3h2h1h1h37h1h23h8h5h22h10h20h24h47m-320 2h22h7h17h8h5h4h1h6h2h1h9h2h5h5h1h4h5h1h4h2h11h7h3h18h2h15h1h9h1h14h7h7h28h5h29h34m-433 2h53h94h2h2h13h14h6h6h3h1h6h1h3h4h2h1h1h2h2h14h7h1h1h6h1h22h1h1h3h1h4h11h7h3h3h8h6h4h4h36h45h26h35h24m-326 2h2h4h5h3h1h1h1h5h1h7h1h3h2h4h8h1h2h9h5h7h3h6h10h3h8h3h1h4h2h2h7h7h1h3h6h5h1h5h4h2h16h17h32h26h72m-436 2h4h10h3h11h84h16h5h3h2h1h7h2h2h1h1h11h2h8h1h5h4h2h2h3h13h13h1h5h1h3h2h3h2h24h10h3h15h3h17h9h20h1h32h25m-293 2h33h2h11h13h2h1h7h2h2h2h1h1h1h8h3h6h2h1h4h3h1h2h4h6h3h2h12h8h1h12h21h3h1h7h10h7h30h11h1h20h63h52m-444 2h36h31h4h2h4h11h8h3h5h2h7h2h2h1h1h1h6h2h2h6h3h1h2h1h4h2h5h2h2h4h6h2h3h11h3h1h2h3h2h13h5h9h6h29h26h29h18h24m-398 2h47h4h24h42h7h9h2h4h1h1h2h4h8h1h1h3h1h1h3h2h2h2h4h3h2h1h2h5h2h2h4h4h1h3h3h1h9h3h2h16h2h4h18h11h16h2h1h22h2h28h101m-484 2h5h38h13h71h18h6h4h3h2h10h5h8h16h3h7h6h1h1h2h4h5h7h5h4h1h3h1h2h4h4h12h2h1h5h3h3h5h8h2h8h25h3h130h27h20m-387 2h25h8h17h11h4h3h5h1h1h1h6h1h1h2h1h1h3h1h2h1h1h4h3h1h3h2h2h3h10h2h2h1h1h1h2h5h6h1h8h2h1h6h6h2h1h2h12h12h2h2h12h8h15h24h2h40m-397 2h2h62h26h20h4h8h7h16h2h1h1h1h7h1h1h9h3h5h2h2h1h1h2h1h2h2h2h4h3h2h4h2h1h1h2h1h1h2h4h10h3h15h1h7h3h16h19h5h13h4h8h26h168m-519 2h40h19h24h3h9h13h9h5h1h7h1h2h4h7h7h2h2h1h1h4h1h2h3h4h2h2h3h2h1h1h3h1h4h2h1h3h3h1h2h1h1h5h4h7h1h1h2h1h3h4h5h11h8h7h19h14h119h17m-390 2h69h4h6h6h7h4h1h3h2h2h6h1h3h1h8h1h1h4h2h3h1h1h4h5h1h1h1h3h5h1h1h12h1h2h10h11h1h1h7h10h3h12h7h20h4h15h26h18m-304 2h30h10h6h14h4h6h4h6h1h3h1h5h7h1h1h2h1h8h4h2h4h1h7h2h2h4h2h2h1h1h2h1h1h1h1h1h3h2h1h2h5h4h5h15h1h9h2h8h13h6h4h29h7h48m-385 2h59h4h68h15h1h3h2h1h3h5h2h7h2h3h1h3h5h1h1h1h3h1h4h5h1h1h2h3h4h2h1h3h1h3h3h2h5h1h1h3h1h5h6h1h5h4h2h3h1h1h4h5h4h4h9h81h12h24h53h14m-413 2h13h24h19h24h1h1h8h2h4h3h2h4h2h4h1h1h5h5h1h3h1h7h2h4h7h2h1h2h5h1h1h2h4h1h2h1h4h9h10h2h7h11h24h5h2h1h8h126h87m-516 2h4h97h13h3h2h6h3h1h3h2h13h5h1h1h2h3h3h6h1h1h2h4h1h1h1h1h1h1h1h1h1h2h8h2h1h1h3h1h1h2h2h5h1h5h4h2h2h4h1h5h15h9h1h1h1h3h11h4h17h1h10h2h13h2h26m-371 2h47h4h19h22h5h16h7h18h7h13h2h2h3h2h9h2h2h5h2h1h1h2h1h3h1h1h3h3h1h2h1h3h3h1h8h2h2h4h2h4h3h2h1h1h8h2h3h32h1h1h4h3h10h3h2h9h1h12h38h49h10h21h2m-444 2h40h9h13h9h16h1h1h27h2h7h5h7h2h6h1h4h2h2h1h5h4h4h1h1h4h1h3h4h3h2h7h3h2h3h9h12h3h1h1h3h1h2h3h4h3h1h5h21h13h36h14m-342 2h2h2h16h7h49h30h2h3h7h8h4h3h4h4h9h1h3h6h3h1h2h4h2h2h6h3h2h3h2h5h1h1h1h1h1h2h2h1h3h6h3h6h1h3h5h8h1h5h2h3h14h13h7h19h6h14h4h12h15h13m-360 2h13h24h31h1h9h15h14h17h8h6h7h2h1h2h5h2h1h4h1h3h2h1h5h5h5h1h2h4h4h2h2h6h3h1h4h1h5h2h1h1h8h1h2h5h8h5h8h1h9h17h8h5h19h21h8h46h4h20h8m-365 2h16h5h12h11h1h4h16h3h6h4h3h2h1h4h1h2h1h1h1h3h2h4h1h2h1h1h2h2h7h1h2h4h4h3h5h1h4h1h2h2h8h9h1h2h3h3h6h1h2h2h2h1h3h3h1h17h20h3h5h45h49m-393 2h45h2h25h59h8h3h2h2h3h2h4h3h2h2h2h2h2h1h3h3h2h3h4h1h7h6h1h2h1h1h2h1h4h4h6h2h6h5h9h2h1h7h4h4h20h5h40h111h11m-434 2h71h9h7h7h10h16h1h4h3h1h1h2h1h1h2h5h4h2h2h1h3h3h1h3h2h7h2h1h1h1h4h5h1h8h1h6h8h3h2h5h3h8h17h3h17h10h9h3h23h30h13m-343 2h34h33h15h13h1h1h2h1h8h2h2h2h1h1h7h2h5h2h2h4h2h1h7h3h1h9h2h3h2h3h2h12h3h1h2h7h4h1h13h4h2h1h5h12h17h18h26h11h7h15h28h23m-410 2h64h38h20h6h4h5h6h3h1h6h1h2h1h3h1h1h4h1h3h1h1h2h2h1h6h1h1h1h2h4h3h1h1h9h10h4h10h7h13h9h12h4h23h23h26h1m-347 2h3h19h10h56h10h11h3h3h1h7h6h8h2h1h5h1h4h6h1h4h3h1h1h2h2h2h3h4h3h1h2h3h3h3h1h4h6h2h1h1h5h3h4h2h9h2h2h3h2h19h7h11h24h44h35h119m-482 2h38h1h21h16h9h7h7h7h2h3h5h6h2h5h1h1h2h9h1h2h2h1h2h3h2h3h1h4h2h6h5h4h1h1h11h2h1h2h3h12h16h62h2h6h16h44m-357 2h13h14h14h30h6h7h1h3h6h2h3h9h5h3h5h1h3h2h1h10h3h6h1h4h1h1h4h12h7h2h1h23h6h13h7h11h34h10h16h5h16h49h29h67m-490 2h16h32h4h51h1h8h8h9h12h2h5h1h1h6h2h2h3h7h2h4h2h3h2h6h8h1h2h1h6h2h2h2h3h1h6h18h9h10h4h63h6h50m-373 2h41h23h6h4h6h3h5h6h13h9h1h4h1h1h1h1h3h1h2h1h2h3h2h6h4h2h2h1h9h7h1h1h6h3h2h3h2h2h6h9h11h1h1h1h10h3h24h54h6h68m-351 2h5h31h22h18h8h2h2h7h3h9h3h1h1h6h5h8h4h1h8h1h4h3h2h3h2h1h5h9h4h3h7h5h6h3h25h7h9h25h70m-357 2h5h8h26h12h17h25h13h1h10h4h9h3h7h5h10h6h1h3h1h2h2h17h14h28h1h2h21h2h21h13h108h5h11m-438 2h33h15h3h17h2h1h11h13h3h1h2h3h3h3h6h13h1h6h3h3h12h3h9h3h1h1h7h2h19h1h6h1h1h2h5h3h28h5h13h2h27h22h3h8h11m-331 2h72h6h17h1h5h3h1h5h13h8h2h3h2h8h15h1h1h1h2h3h8h6h12h3h7h26h2h18h199h13m-452 2h29h12h18h1h13h1h2h14h2h3h24h1h4h2h3h8h4h10h9h3h2h4h2h3h4h5h7h1h5h6h57h13h12h26h99m-358 2h9h7h5h1h2h3h12h2h12h3h4h23h2h3h4h4h9h2h2h7h9h7h2h10h3h3h4h2h5h2h20h9h16m-282 2h11h21h10h55h6h1h11h5h23h1h1h3h5h2h4h8h5h6h3h3h3h3h4h12h3h5h10h6h177h22m-371 2h29h3h10h17h9h6h2h3h18h2h7h5h3h5h8h8h1h5h2h2h2h1h5h7h7h8h10h25h98h14h28m-405 2h5h67h12h6h13h7h3h7h3h3h8h4h2h3h6h1h4h23h9h4h6h16h27h23h63h22h38h19h84m-466 2h11h54h3h15h6h2h8h9h7h19h16h3h2h9h8h3h3h4h17h4h10h14h8h9h22h66h30h15h1h32m-382 2h16h11h9h11h15h4h3h8h3h23h1h5h3h4h2h8h2h17h15h7h137h29m-326 2h12h20h15h12h13h7h4h1h2h4h4h5h2h1h6h1h15h6h2h2h5h9h9h3h20h31h70h25h52m-351 2h13h31h2h3h6h4h11h2h25h9h6h3h11h26h19h69h13h26h20h68m-434 2h19h5h17h35h4h15h13h4h6h17h4h2h1h7h1h11h6h30h30h1h43h5h108h72m-373 2h20h20h5h8h8h8h8h5h5h3h2h1h11h19h27h34h9h47h5h47h9h24h1m-346 2h12h24h20h3h3h15h6h3h24h12h10h3h6h16h6h65h22h7h123m-350 2h8h15h19h2h2h11h13h13h2h16h10h8h2h11h5h4h25h13h91h39h49h31m-422 2h19h5h15h11h12h3h4h9h7h7h14h23h1h5h55h33h53h139m-404 2h49h3h1h14h10h7h1h19h8h1h4h9h22h2h55h113h18m-338 2h8h49h4h2h5h1h6h2h16h14h2h1h4h37h1h18h66m-254 2h11h22h19h13h1h14h18h3h13h16h1h5h109h21h8h53h14m-360 2h8h12h15h28h36h13h18h2h36h27h98h73h9h3m-410 2h112h11h19h24h3h3h37h6h110h32h134m-432 2h9h16h7h6h1h3h3h2h3h14h1h24h33h155h16h19h52h37h38m-437 2h33h2h13h40h2h11h40h106h4h115h69m-486 2h25h2h6h38h21h7h1h29h5h282m-368 2h71h4h7h47h164h57m-388 2h13h35h5h9h5h3h11h56h1h19h8h27h22h6h97h40h12h45m-416 2h13h53h10h24h34h1h7h43h52h78m-287 2h10h29h16h1h5h45h2h11h4h9m-171 2h22h8h5h11h27h8h45h3h9h40m-182 2h14h28h46h16h5h6h8h6m-138 2h6h14h49h12h4h9h4h28h97m-223 2h30h1h23h3h18h16h6h15h4h3h2h4h2h2h3h3h5h4h3h4h3h1h6h2h8h1h5h1h5h16h11h1h251"/>
<rect x="1.5" y="191.88" width="63.38" height="41.12" fill="#fff" opacity=".86"/>
<rect x="0" y="0" width="368.5" height="234" fill="none" stroke="#333" stroke-width="1.7"/>
<path d="M0 0V234H368.5" style="stroke:#000" stroke-width="2.4"/>
<path d="M157.5 0V234" style="stroke:#000" stroke-width="2.6"/><path d="M0 130.5H368.5" style="stroke:#000" stroke-width="1.8"/>
<path d="M2 233.4H173.19" style="stroke:#e80000" stroke-width="1.5" opacity=".75"/>
<path d="M-10.5 234H0M0 234v7.5M-10.5 180.76H0M82.54 234v7.5M-10.5 127.53H0M165.09 234v7.5M-10.5 74.3H0M247.63 234v7.5M-10.5 21.06H0M330.18 234v7.5" style="stroke:#000" stroke-width="2"/>
<path d="M-5 217.97H0M24.85 234v4.5M-5 208.6H0M39.38 234v4.5M-5 201.95H0M49.7 234v4.5M-6.5 196.79H0M57.7 234v5.5M-5 192.58H0M64.23 234v4.5M-5 189.01H0M69.76 234v4.5M-5 185.92H0M74.54 234v4.5M-5 183.2H0M78.77 234v4.5M-5 164.74H0M107.39 234v4.5M-5 155.37H0M121.93 234v4.5M-5 148.71H0M132.24 234v4.5M-6.5 143.56H0M140.24 234v5.5M-5 139.34H0M146.78 234v4.5M-5 135.78H0M152.3 234v4.5M-5 132.69H0M157.09 234v4.5M-5 129.97H0M161.31 234v4.5M-5 111.5H0M189.94 234v4.5M-5 102.13H0M204.47 234v4.5M-5 95.48H0M214.78 234v4.5M-6.5 90.32H0M222.78 234v5.5M-5 86.11H0M229.32 234v4.5M-5 82.54H0M234.85 234v4.5M-5 79.45H0M239.63 234v4.5M-5 76.73H0M243.85 234v4.5M-5 58.27H0M272.48 234v4.5M-5 48.9H0M287.02 234v4.5M-5 42.24H0M297.33 234v4.5M-6.5 37.09H0M305.33 234v5.5M-5 32.87H0M311.86 234v4.5M-5 29.31H0M317.39 234v4.5M-5 26.22H0M322.18 234v4.5M-5 23.5H0M326.4 234v4.5M-5 5.03H0M355.02 234v4.5" style="stroke:#222" stroke-width="1.1"/>
<text class="b" x="-38.2" y="237" font-size="19">10</text>
<text class="b" transform="translate(-19.3 226.4) scale(1.05 1)" font-size="11">1</text>
<text class="b" transform="translate(-11.1 262.8) scale(0.97 1)" font-size="20.5">10</text>
<text class="b" transform="translate(9.5 253) scale(1.05 1)" font-size="11">1</text>
<text class="b" x="-38.2" y="192.26" font-size="19">10</text>
<text class="b" transform="translate(-19.3 181.66) scale(1.05 1)" font-size="11">2</text>
<text class="b" transform="translate(65.24 262.8) scale(0.97 1)" font-size="20.5">10</text>
<text class="b" transform="translate(85.84 253) scale(1.05 1)" font-size="11">2</text>
<text class="b" x="-38.2" y="139.33" font-size="19">10</text>
<text class="b" transform="translate(-19.3 128.73) scale(1.05 1)" font-size="11">3</text>
<text class="b" transform="translate(147.79 262.8) scale(0.97 1)" font-size="20.5">10</text>
<text class="b" transform="translate(168.39 253) scale(1.05 1)" font-size="11">3</text>
<text class="b" x="-38.2" y="84.8" font-size="19">10</text>
<text class="b" transform="translate(-19.3 74.2) scale(1.05 1)" font-size="11">4</text>
<text class="b" transform="translate(230.33 264.1) scale(0.97 1)" font-size="20.5">10</text>
<text class="b" transform="translate(250.93 254.3) scale(1.05 1)" font-size="11">4</text>
<text class="b" x="-38.2" y="29.16" font-size="19">10</text>
<text class="b" transform="translate(-19.3 18.56) scale(1.05 1)" font-size="11">5</text>
<text class="b" transform="translate(312.88 265.4) scale(0.97 1)" font-size="20.5">10</text>
<text class="b" transform="translate(333.48 255.6) scale(1.05 1)" font-size="11">5</text>
<text class="b" transform="translate(6.19 30.65) scale(1.7 1)" font-size="20.21">4.76</text>
<text class="b" transform="translate(6.19 218.56) scale(1.7 1)" font-size="20.21">50.0</text>
<text class="b" transform="translate(268.64 31.36) scale(1.7 1)" font-size="20.21">35.7</text>
<text class="b" transform="translate(268.64 219.26) scale(1.7 1)" font-size="20.21">9.58</text>
</g>
<text class="b" x="21" y="214.4" font-size="31">0μM</text>
<text class="b" x="17.6" y="504.6" font-size="31">1μM</text>
<text class="b" x="25.2" y="785.3" font-size="31">5μM</text>
<text class="b" x="11" y="1074.5" font-size="31">10μM</text>
<text class="b" x="10" y="1380.9" font-size="31">15μM</text>
<text class="b" x="5" y="1658.9" font-size="31">20μM</text>
<text class="b" x="8.4" y="1953.3" font-size="31">30μM</text>
<text class="b" x="337.5" y="48.8" font-size="30.5" text-anchor="middle">CON</text>
<text class="b" x="824.5" y="49.2" font-size="30.5" text-anchor="middle">OGD</text>
<text class="b" x="586" y="2130" font-size="32" text-anchor="middle">Annexin V- FITC</text>
<text class="b" x="1013.7" y="1085" font-size="30.5">PI</text>
<path d="M1007.6 63V2096.5H138.5" fill="none" style="stroke:#000" stroke-width="3.5"/>
<rect x="1286.1" y="463.5" width="31.6" height="46.5" fill="#fff" stroke="#000" stroke-width="3.2"/>
<rect x="1328.9" y="477.3" width="31.6" height="32.7" fill="#fff" stroke="#000" stroke-width="3.2"/>
<rect x="1371.6" y="482.3" width="31.6" height="27.7" fill="#fff" stroke="#000" stroke-width="3.2"/>
<rect x="1414.2" y="464.3" width="31.6" height="45.7" fill="#fff" stroke="#000" stroke-width="3.2"/>
<rect x="1456.8" y="463.8" width="31.6" height="46.2" fill="#fff" stroke="#000" stroke-width="3.2"/>
<rect x="1499.4" y="467.3" width="31.6" height="42.7" fill="#fff" stroke="#000" stroke-width="3.2"/>
<rect x="1542" y="460" width="31.6" height="50" fill="#fff" stroke="#000" stroke-width="3.2"/>
<rect x="1620.1" y="175.2" width="31.6" height="334.8" fill="url(#hB)" stroke="#000" stroke-width="3.2"/>
<rect x="1662.8" y="187.7" width="31.6" height="322.3" fill="url(#hB)" stroke="#000" stroke-width="3.2"/>
<rect x="1705.6" y="200.8" width="31.6" height="309.2" fill="url(#hB)" stroke="#000" stroke-width="3.2"/>
<rect x="1748.2" y="274.2" width="31.6" height="235.8" fill="url(#hB)" stroke="#000" stroke-width="3.2"/>
<rect x="1790.9" y="305.2" width="31.6" height="204.8" fill="url(#hB)" stroke="#000" stroke-width="3.2"/>
<rect x="1833.5" y="245.9" width="31.6" height="264.1" fill="url(#hB)" stroke="#000" stroke-width="3.2"/>
<rect x="1876.2" y="159.4" width="31.6" height="350.6" fill="url(#hB)" stroke="#000" stroke-width="3.2"/>
<path d="M1292.9 459.4H1310.9M1301.9 459.4v4M1335.7 472.7H1353.7M1344.7 472.7v4M1378.4 477H1396.4M1387.4 477v4M1421 458.9H1439M1430 458.9v4M1463.6 458.4H1481.6M1472.6 458.4v4M1506.2 457.7H1524.2M1515.2 457.7V473.2M1506.2 473.2H1524.2M1548.8 453.9H1566.8M1557.8 453.9V461.5M1548.8 461.5H1566.8" style="stroke:#3c3c3c" stroke-width="1.3"/>
<path d="M1626.9 164.6H1644.9M1635.9 164.6V181.6M1626.9 181.6H1644.9M1669.6 165.8H1687.6M1678.6 165.8V204.7M1669.6 204.7H1687.6M1712.4 180.9H1730.4M1721.4 180.9V215.4M1712.4 215.4H1730.4M1755 262.5H1773M1764 262.5V281.3M1755 281.3H1773M1797.7 278H1815.7M1806.7 278V329M1797.7 329H1815.7M1840.3 194.9H1858.3M1849.3 194.9V291.9M1840.3 291.9H1858.3M1883 140.3H1901M1892 140.3V173.6M1883 173.6H1901" style="stroke:#3c3c3c" stroke-width="1.3"/>
<path d="M1266 112V510M1252.7 510H1927.8M1252.7 113.5H1266M1252.7 192.8H1266M1252.7 272.1H1266M1252.7 351.4H1266M1252.7 430.7H1266M1252.7 510H1266M1301.9 510v14.5M1344.7 510v14.5M1387.4 510v14.5M1430 510v14.5M1472.6 510v14.5M1515.2 510v14.5M1557.8 510v14.5M1635.9 510v14.5M1678.6 510v14.5M1721.4 510v14.5M1764 510v14.5M1806.7 510v14.5M1849.3 510v14.5M1892 510v14.5" stroke-width="3"/>
<text class="b" x="1242.5" y="123.8" font-size="30.5" text-anchor="end">50</text>
<text class="b" x="1242.5" y="203.1" font-size="30.5" text-anchor="end">40</text>
<text class="b" x="1242.5" y="282.4" font-size="30.5" text-anchor="end">30</text>
<text class="b" x="1242.5" y="361.7" font-size="30.5" text-anchor="end">20</text>
<text class="b" x="1242.5" y="441" font-size="30.5" text-anchor="end">10</text>
<text class="b" x="1235" y="512.8" font-size="30.5" text-anchor="end">0</text>
<text class="b" x="1302.4" y="550.4" font-size="30.5" text-anchor="middle">0</text>
<text class="b" x="1345.2" y="550.4" font-size="30.5" text-anchor="middle">1</text>
<text class="b" x="1387.9" y="550.4" font-size="30.5" text-anchor="middle">5</text>
<text class="b" x="1430.5" y="550.4" font-size="30.5" text-anchor="middle">10</text>
<text class="b" x="1473.1" y="550.4" font-size="30.5" text-anchor="middle">15</text>
<text class="b" x="1515.7" y="550.4" font-size="30.5" text-anchor="middle">20</text>
<text class="b" x="1558.3" y="550.4" font-size="30.5" text-anchor="middle">30</text>
<text class="b" x="1636.4" y="550.4" font-size="30.5" text-anchor="middle">0</text>
<text class="b" x="1679.1" y="550.4" font-size="30.5" text-anchor="middle">1</text>
<text class="b" x="1721.9" y="550.4" font-size="30.5" text-anchor="middle">5</text>
<text class="b" x="1764.5" y="550.4" font-size="30.5" text-anchor="middle">10</text>
<text class="b" x="1807.2" y="550.4" font-size="30.5" text-anchor="middle">15</text>
<text class="b" x="1849.8" y="550.4" font-size="30.5" text-anchor="middle">20</text>
<text class="b" x="1892.5" y="550.4" font-size="30.5" text-anchor="middle">30</text>
<text class="b" x="1917.5" y="550.4" font-size="30.5">(μM)</text>
<text class="b" x="1636" y="155.53" font-size="22" text-anchor="middle">****</text>
<text class="b" x="1678.5" y="169.83" font-size="22" text-anchor="middle">****</text>
<text class="b" x="1721.6" y="184.33" font-size="22" text-anchor="middle">****</text>
<text class="b" x="1763.7" y="263.23" font-size="22" text-anchor="middle">****</text>
<text class="b" x="1806.8" y="276.23" font-size="22" text-anchor="middle">****</text>
<text class="b" x="1848.9" y="198.13" font-size="22" text-anchor="middle">****</text>
<text class="b" x="1892" y="141.73" font-size="22" text-anchor="middle">****</text>
<path d="M1637 102.7V60.6H1806.8V255.5M1636 132.8V112H1763.7V239.3" stroke-width="2.5"/>
<text class="r" x="1721.6" y="54.4" font-size="24" text-anchor="middle">###</text>
<text class="r" x="1699.6" y="105.2" font-size="24" text-anchor="middle">#</text>
<rect x="1303" y="68.5" width="67.7" height="34.2" fill="#fff" stroke-width="3.2" stroke="#000"/>
<rect x="1303" y="133.8" width="67.7" height="33.8" fill="url(#lB)" stroke-width="3.2" stroke="#000"/>
<text class="b" transform="translate(1380.5 93.4) scale(0.97 1)" font-size="32">CON</text>
<text class="b" transform="translate(1379.3 160) scale(0.97 1)" font-size="32">OGD</text>
<text class="b" transform="translate(1197.3 285) rotate(-90)" font-size="32" text-anchor="middle">Apoptosis rate (%)</text>
<rect x="1280.6" y="964.2" width="31.6" height="96.8" fill="#fff" stroke="#000" stroke-width="3.2"/>
<rect x="1323.3" y="976.4" width="31.6" height="84.6" fill="#fff" stroke="#000" stroke-width="3.2"/>
<rect x="1366" y="968.8" width="31.6" height="92.2" fill="#fff" stroke="#000" stroke-width="3.2"/>
<rect x="1408.7" y="960.9" width="31.6" height="100.1" fill="#fff" stroke="#000" stroke-width="3.2"/>
<rect x="1451.4" y="970.4" width="31.6" height="90.6" fill="#fff" stroke="#000" stroke-width="3.2"/>
<rect x="1494.1" y="971" width="31.6" height="90" fill="#fff" stroke="#000" stroke-width="3.2"/>
<rect x="1536.8" y="962.8" width="31.6" height="98.2" fill="#fff" stroke="#000" stroke-width="3.2"/>
<rect x="1615" y="772.2" width="31.6" height="288.8" fill="url(#hC)" stroke="#000" stroke-width="3.2"/>
<rect x="1657.8" y="784.1" width="31.6" height="276.9" fill="url(#hC)" stroke="#000" stroke-width="3.2"/>
<rect x="1700.6" y="793.1" width="31.6" height="267.9" fill="url(#hC)" stroke="#000" stroke-width="3.2"/>
<rect x="1743.3" y="799.3" width="31.6" height="261.7" fill="url(#hC)" stroke="#000" stroke-width="3.2"/>
<rect x="1786.1" y="908" width="31.6" height="153" fill="url(#hC)" stroke="#000" stroke-width="3.2"/>
<rect x="1828.8" y="784.9" width="31.6" height="276.1" fill="url(#hC)" stroke="#000" stroke-width="3.2"/>
<rect x="1871.6" y="761.8" width="31.6" height="299.2" fill="url(#hC)" stroke="#000" stroke-width="3.2"/>
<path d="M1287.4 961.5H1305.4M1296.4 961.5v4M1330.1 969.9H1348.1M1339.1 969.9V977.5M1330.1 977.5H1348.1M1372.8 963.4H1390.8M1381.8 963.4v4M1415.5 953.9H1433.5M1424.5 953.9V963.1M1415.5 963.1H1433.5M1458.2 966.1H1476.2M1467.2 966.1v4M1500.9 963.9H1518.9M1509.9 963.9V972.1M1500.9 972.1H1518.9M1543.6 960.7H1561.6M1552.6 960.7v4" style="stroke:#3c3c3c" stroke-width="1.3"/>
<path d="M1621.8 759.7H1639.8M1630.8 759.7V780M1621.8 780H1639.8M1664.6 764.9H1682.6M1673.6 764.9V798.3M1664.6 798.3H1682.6M1707.4 784.7H1725.4M1716.4 784.7V797.4M1707.4 797.4H1725.4M1750.1 781.4H1768.1M1759.1 781.4V811.8M1750.1 811.8H1768.1M1792.9 898.7H1810.9M1801.9 898.7V912.3M1792.9 912.3H1810.9M1835.6 764.9H1853.6M1844.6 764.9V799.6M1835.6 799.6H1853.6M1878.4 742.6H1896.4M1887.4 742.6V775.2M1878.4 775.2H1896.4" style="stroke:#3c3c3c" stroke-width="1.3"/>
<path d="M1260.8 661.9V1061M1248 1061H1922.2M1248 663.4H1260.8M1248 762.8H1260.8M1248 862.2H1260.8M1248 961.6H1260.8M1248 1061H1260.8M1296.4 1061v14.5M1339.1 1061v14.5M1381.8 1061v14.5M1424.5 1061v14.5M1467.2 1061v14.5M1509.9 1061v14.5M1552.6 1061v14.5M1630.8 1061v14.5M1673.6 1061v14.5M1716.4 1061v14.5M1759.1 1061v14.5M1801.9 1061v14.5M1844.6 1061v14.5M1887.4 1061v14.5" stroke-width="3"/>
<text class="b" x="1244" y="673.7" font-size="30.5" text-anchor="end">400</text>
<text class="b" x="1244" y="773.1" font-size="30.5" text-anchor="end">300</text>
<text class="b" x="1244" y="872.5" font-size="30.5" text-anchor="end">200</text>
<text class="b" x="1244" y="971.9" font-size="30.5" text-anchor="end">100</text>
<text class="b" x="1234.5" y="1078.3" font-size="30.5" text-anchor="end">0</text>
<text class="b" x="1294.9" y="1102.4" font-size="30.5" text-anchor="middle">0</text>
<text class="b" x="1337.6" y="1102.4" font-size="30.5" text-anchor="middle">1</text>
<text class="b" x="1380.3" y="1102.4" font-size="30.5" text-anchor="middle">5</text>
<text class="b" x="1423" y="1102.4" font-size="30.5" text-anchor="middle">10</text>
<text class="b" x="1465.7" y="1102.4" font-size="30.5" text-anchor="middle">15</text>
<text class="b" x="1508.4" y="1102.4" font-size="30.5" text-anchor="middle">20</text>
<text class="b" x="1551.1" y="1102.4" font-size="30.5" text-anchor="middle">30</text>
<text class="b" x="1627.3" y="1102.4" font-size="30.5" text-anchor="middle">0</text>
<text class="b" x="1670.1" y="1102.4" font-size="30.5" text-anchor="middle">1</text>
<text class="b" x="1712.9" y="1102.4" font-size="30.5" text-anchor="middle">5</text>
<text class="b" x="1755.6" y="1102.4" font-size="30.5" text-anchor="middle">10</text>
<text class="b" x="1798.4" y="1102.4" font-size="30.5" text-anchor="middle">15</text>
<text class="b" x="1841.1" y="1102.4" font-size="30.5" text-anchor="middle">20</text>
<text class="b" x="1883.9" y="1102.4" font-size="30.5" text-anchor="middle">30</text>
<text class="b" x="1910" y="1102.4" font-size="30.5">(μM)</text>
<text class="b" x="1630.8" y="759.97" font-size="21" text-anchor="middle">****</text>
<text class="b" x="1673.7" y="767.26" font-size="21" text-anchor="middle">****</text>
<text class="b" x="1717.1" y="787.06" font-size="21" text-anchor="middle">****</text>
<text class="b" x="1759.2" y="775.97" font-size="21" text-anchor="middle">****</text>
<text class="b" x="1802.7" y="901.76" font-size="21" text-anchor="middle">*</text>
<text class="b" x="1844.2" y="765.97" font-size="21" text-anchor="middle">****</text>
<text class="b" x="1887.1" y="743.66" font-size="21" text-anchor="middle">****</text>
<path d="M1625.3 735.8V719H1801.9V877.6" stroke-width="2"/>
<text class="r" x="1713.6" y="713.3" font-size="24" text-anchor="middle">####</text>
<rect x="1293.4" y="649.1" width="66.8" height="33" fill="#fff" stroke-width="3.2" stroke="#000"/>
<rect x="1293.4" y="714.3" width="66.8" height="32.9" fill="url(#lC)" stroke-width="3.2" stroke="#000"/>
<text class="b" transform="translate(1370.3 673.3) scale(0.97 1)" font-size="32">CON</text>
<text class="b" transform="translate(1369.1 739.9) scale(0.97 1)" font-size="32">OGD</text>
<text class="b" transform="translate(1184 825) rotate(-90)" font-size="32" text-anchor="middle">Cytotoxicity (%)</text>
<clipPath id="cb1"><rect x="1398.3" y="1376.5" width="354.5" height="75.1"/></clipPath>
<rect x="1398.3" y="1376.5" width="354.5" height="75.1" fill="url(#bg1)"/>
<g clip-path="url(#cb1)">
<rect x="1572" y="1392" width="83" height="40" rx="20" fill="#000" opacity="0.22" filter="url(#bh)"/>
<rect x="1577" y="1385.7" width="74" height="24" rx="8" fill="#000" opacity="0.25" filter="url(#bh)"/><rect x="1580" y="1391.7" width="68" height="12" rx="6" fill="#000" opacity="0.9" filter="url(#bl)"/>
<rect x="1580" y="1390.7" width="26" height="14" rx="7" fill="#000" opacity="0.9" filter="url(#bl)"/>
<rect x="1622" y="1390.7" width="26" height="14" rx="7" fill="#000" opacity="0.9" filter="url(#bl)"/>
<rect x="1573.5" y="1412.25" width="80.5" height="27.5" rx="8" fill="#000" opacity="0.28" filter="url(#bh)"/><rect x="1576.5" y="1418.25" width="74.5" height="15.5" rx="7.75" fill="#000" opacity="1" filter="url(#bl)"/>
<rect x="1583" y="1420.5" width="62" height="11" rx="5.5" fill="#000" opacity="0.95" filter="url(#bl)"/>
<rect x="1682" y="1390" width="64" height="44" rx="22" fill="#000" opacity="0.16" filter="url(#bh)"/>
<rect x="1686" y="1392.5" width="55" height="10" rx="5" fill="#000" opacity="0.3" filter="url(#bl2)"/>
<rect x="1682" y="1416" width="64" height="23" rx="8" fill="#000" opacity="0.12" filter="url(#bh)"/><rect x="1685" y="1422" width="58" height="11" rx="5.5" fill="#000" opacity="0.62" filter="url(#bl2)"/>
</g>
<rect x="1399.5" y="1377.7" width="352.1" height="72.7" fill="none" stroke="#000" stroke-width="2.4"/>
<clipPath id="cb2"><rect x="1398.3" y="1476" width="354.5" height="55.4"/></clipPath>
<rect x="1398.3" y="1476" width="354.5" height="55.4" fill="url(#bg2)"/>
<g clip-path="url(#cb2)">
<rect x="1403.8" y="1498.25" width="76.2" height="19.5" rx="8" fill="#000" opacity="0.27" filter="url(#bh)"/><rect x="1406.8" y="1504.25" width="70.2" height="7.5" rx="3.75" fill="#000" opacity="0.95" filter="url(#bl)"/>
<rect x="1412" y="1504" width="20" height="8" rx="4" fill="#000" opacity="0.6" filter="url(#bl)"/>
<rect x="1452" y="1504.5" width="20" height="7" rx="3.5" fill="#000" opacity="0.5" filter="url(#bl)"/>
<rect x="1494" y="1496.75" width="75.5" height="22.5" rx="8" fill="#000" opacity="0.4" filter="url(#bh)"/><rect x="1497" y="1502.75" width="69.5" height="10.5" rx="5.25" fill="#000" opacity="1" filter="url(#bl)"/>
<rect x="1503" y="1504.5" width="57" height="7" rx="3.5" fill="#000" opacity="0.85" filter="url(#bl)"/>
<rect x="1582" y="1499.55" width="74.5" height="17.5" rx="8" fill="#000" opacity="0.15" filter="url(#bh)"/><rect x="1585" y="1505.55" width="68.5" height="5.5" rx="2.75" fill="#000" opacity="0.62" filter="url(#bl)"/>
<rect x="1670" y="1499" width="75" height="19" rx="8" fill="#000" opacity="0.26" filter="url(#bh)"/><rect x="1673" y="1505" width="69" height="7" rx="3.5" fill="#000" opacity="0.92" filter="url(#bl)"/>
<rect x="1680" y="1507" width="58" height="4" rx="2" fill="#000" opacity="0.5" filter="url(#bl)"/>
</g>
<rect x="1399.5" y="1477.2" width="352.1" height="53" fill="none" stroke="#000" stroke-width="2.4"/>
<clipPath id="cb3"><rect x="1398.3" y="1555.8" width="354.5" height="44.9"/></clipPath>
<rect x="1398.3" y="1555.8" width="354.5" height="44.9" fill="url(#bg2)"/>
<g clip-path="url(#cb3)">
<rect x="1406" y="1567.5" width="85" height="23" rx="8" fill="#000" opacity="0.38" filter="url(#bh)"/><rect x="1409" y="1573.5" width="79" height="11" rx="5.5" fill="#000" opacity="0.95" filter="url(#bl)"/>
<rect x="1416" y="1576" width="66" height="7" rx="3.5" fill="#000" opacity="0.7" filter="url(#bl)"/>
<rect x="1472" y="1560" width="6" height="16" rx="8" fill="#000" opacity="0.5" filter="url(#bl)"/>
<rect x="1498" y="1568" width="78" height="24" rx="8" fill="#000" opacity="0.37" filter="url(#bh)"/><rect x="1501" y="1574" width="72" height="12" rx="6" fill="#000" opacity="0.92" filter="url(#bl)"/>
<rect x="1510" y="1576" width="35" height="10" rx="5" fill="#000" opacity="0.6" filter="url(#bl)"/>
<rect x="1583" y="1568.5" width="76" height="22" rx="8" fill="#000" opacity="0.38" filter="url(#bh)"/><rect x="1586" y="1574.5" width="70" height="10" rx="5" fill="#000" opacity="0.95" filter="url(#bl)"/>
<rect x="1595" y="1577" width="55" height="6" rx="3" fill="#000" opacity="0.7" filter="url(#bl)"/>
<rect x="1670" y="1567" width="80" height="25" rx="8" fill="#000" opacity="0.4" filter="url(#bh)"/><rect x="1673" y="1573" width="74" height="13" rx="6.5" fill="#000" opacity="1" filter="url(#bl)"/>
<rect x="1680" y="1575" width="62" height="9" rx="4.5" fill="#000" opacity="0.95" filter="url(#bl)"/>
</g>
<rect x="1399.5" y="1557" width="352.1" height="42.5" fill="none" stroke="#000" stroke-width="2.4"/>
<text class="b" x="1386.5" y="1424" font-size="31.5" text-anchor="end">Cleaved caspase-3</text>
<text class="b" x="1386.5" y="1519.8" font-size="31.5" text-anchor="end">TRPC6</text>
<text class="b" x="1386.5" y="1585.2" font-size="31.5" text-anchor="end">β-actin</text>
<text class="b" x="1766.5" y="1413.9" font-size="31">19KD</text>
<text class="b" x="1766.5" y="1446.1" font-size="31">17KD</text>
<text class="b" x="1764.2" y="1513.8" font-size="31">110KD</text>
<text class="b" x="1767.5" y="1585.2" font-size="31">42KD</text>
<text class="b" transform="translate(1451.5 1368) rotate(-59)" font-size="31.3">CON</text>
<text class="b" transform="translate(1530.5 1368) rotate(-59)" font-size="31.3">CON+HYP9</text>
<text class="b" transform="translate(1622.5 1369) rotate(-59)" font-size="31.3">OGD</text>
<text class="b" transform="translate(1721.5 1368) rotate(-59)" font-size="31.3">OGD+HYP9</text>
<rect x="1191" y="2009.6" width="46.8" height="51.6" fill="#fff" stroke="#000" stroke-width="4.2"/>
<rect x="1255.1" y="2028.5" width="47.3" height="32.7" fill="url(#kE1)" stroke="#000" stroke-width="4.2"/>
<rect x="1370.6" y="1853.1" width="46.4" height="208.1" fill="#fff" stroke="#000" stroke-width="4.2"/>
<rect x="1434.6" y="1985.9" width="47.3" height="75.3" fill="url(#kE2)" stroke="#000" stroke-width="4.2"/>
<path d="M1265.8 2021.4H1291.8M1278.8 2021.4V2035.5M1265.8 2035.5H1291.8" style="stroke:#1c1c1c" stroke-width="1.8"/>
<path d="M1381.1 1804.8H1407.1M1394.1 1804.8V1896.9M1381.1 1896.9H1407.1" style="stroke:#1c1c1c" stroke-width="1.8"/>
<path d="M1445.4 1961.5H1471.4M1458.4 1961.5V2003.3M1445.4 2003.3H1471.4" style="stroke:#1c1c1c" stroke-width="1.8"/>
<path d="M1176.4 1738.7V2061.2M1162.5 2061.2H1496.5M1162.5 1740.2H1176.4M1162.5 1847.4H1176.4M1162.5 1954.6H1176.4M1246.6 2061.2v13.5M1426.1 2061.2v13.5" stroke-width="3"/>
<text class="b" x="1158.3" y="1750.7" font-size="32" text-anchor="end">6</text>
<text class="b" x="1158.3" y="1857.9" font-size="32" text-anchor="end">4</text>
<text class="b" x="1158.3" y="1965.1" font-size="32" text-anchor="end">2</text>
<text class="b" x="1158.3" y="2074.5" font-size="32" text-anchor="end">0</text>
<text class="b" x="1245.2" y="2097.9" font-size="32" text-anchor="middle">CON</text>
<text class="b" x="1428.3" y="2097.9" font-size="32" text-anchor="middle">OGD</text>
<text class="b" transform="translate(1131.2 1904.5) rotate(-90)" font-size="32" text-anchor="middle">Cleaved caspase-3 / β-actin</text>
<text class="b" x="1394.1" y="1805.2" font-size="26" text-anchor="middle">*</text>
<text class="r" x="1459.8" y="1956" font-size="27" text-anchor="middle">#</text>
<rect x="1416.95" y="1720.75" width="39.4" height="21.4" fill="#fff" stroke-width="4.7" stroke="#000"/>
<rect x="1414.6" y="1769" width="44.1" height="25.6" fill="#000"/><path d="M1433 1774.1h13.6v9.2h-13.6zM1420 1784.3h12.6v5.6h-12.6zM1447 1784.3h6.6v5.6h-6.6z" style="fill:#fff;stroke:none"/>
<text class="b" x="1462.8" y="1741.6" font-size="31.2">Naive</text>
<text class="b" x="1462.8" y="1791.7" font-size="31.2">HYP9</text>
<rect x="1696.1" y="1850.3" width="46.8" height="210.9" fill="#fff" stroke="#000" stroke-width="4.2"/>
<rect x="1760.1" y="1827.8" width="46.8" height="233.4" fill="url(#kF1)" stroke="#000" stroke-width="4.2"/>
<rect x="1875.6" y="1994.2" width="46.5" height="67" fill="#fff" stroke="#000" stroke-width="4.2"/>
<rect x="1939.7" y="1872.6" width="46.7" height="188.6" fill="url(#kF2)" stroke="#000" stroke-width="4.2"/>
<path d="M1770.6 1797.3H1796.6M1783.6 1797.3V1853.8M1770.6 1853.8H1796.6" style="stroke:#1c1c1c" stroke-width="1.8"/>
<path d="M1885.6 1957.3H1911.6M1898.6 1957.3V2026.4M1885.6 2026.4H1911.6" style="stroke:#1c1c1c" stroke-width="1.8"/>
<path d="M1950.2 1864.1H1976.2M1963.2 1864.1V1876.5M1950.2 1876.5H1976.2" style="stroke:#1c1c1c" stroke-width="1.8"/>
<path d="M1680.9 1738.2V2061.2M1667.6 2061.2H2001.6M1667.6 1739.7H1680.9M1667.6 1847.4H1680.9M1667.6 1954.6H1680.9M1751.1 2061.2v13.5M1931.2 2061.2v13.5" stroke-width="3"/>
<text class="b" x="1645.8" y="1750.2" font-size="32" text-anchor="middle">1.5</text>
<text class="b" x="1646.5" y="1857.9" font-size="32" text-anchor="middle">1</text>
<text class="b" x="1645.8" y="1965.1" font-size="32" text-anchor="middle">0.5</text>
<text class="b" x="1642" y="2074.5" font-size="32" text-anchor="middle">0</text>
<text class="b" x="1748.3" y="2097.9" font-size="32" text-anchor="middle">CON</text>
<text class="b" x="1932.6" y="2097.9" font-size="32" text-anchor="middle">OGD</text>
<text class="b" transform="translate(1618.5 1911.4) rotate(-90)" font-size="29" text-anchor="middle">TRPC6 / β-actin</text>
<text class="b" x="1898.6" y="1958.3" font-size="26" text-anchor="middle">**</text>
<text class="r" x="1964.6" y="1857.1" font-size="26" text-anchor="middle">#</text>
<rect x="1868.75" y="1716.55" width="38.8" height="21.1" fill="#fff" stroke-width="4.7" stroke="#000"/>
<rect x="1866.4" y="1764.6" width="43.5" height="25.6" fill="#000"/><path d="M1884.9 1769.2h13.2v8.8h-13.2zM1871.5 1780.8h12.8v5.3h-12.8zM1898.7 1780.8h6.5v5.3h-6.5z" style="fill:#fff;stroke:none"/>
<text class="b" x="1913.8" y="1737.4" font-size="31.2">Naive</text>
<text class="b" x="1913.8" y="1786.6" font-size="31.2">HYP9</text>
<text class="s" x="2.5" y="30" font-size="32">A</text>
<text class="s" x="1064" y="29.7" font-size="32">B</text>
<text class="s" x="1063.5" y="638" font-size="32">C</text>
<text class="s" x="1064" y="1223.7" font-size="32">D</text>
<text class="s" x="1064.5" y="1695.7" font-size="32">E</text>
<text class="s" x="1589" y="1695.7" font-size="32">F</text>
</svg>
</body></html>
